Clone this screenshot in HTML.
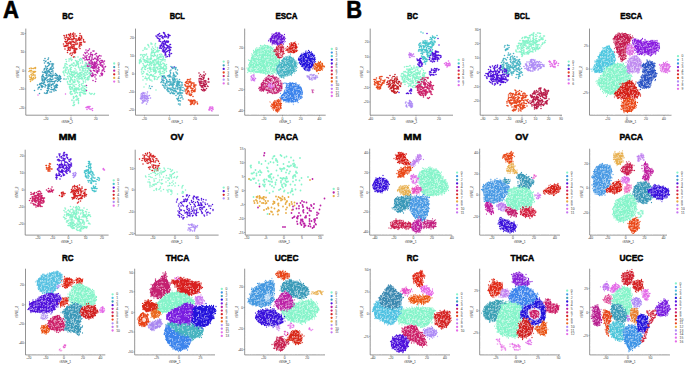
<!DOCTYPE html>
<html><head><meta charset="utf-8"><style>
html,body{margin:0;padding:0;background:#fff;width:685px;height:365px;overflow:hidden}
svg{position:absolute;left:0;top:0;font-family:"Liberation Sans",sans-serif}
.k{font-size:3.4px;fill:#666;stroke:#666;stroke-width:.05px}.m{text-anchor:middle}.e{text-anchor:end}
</style></head><body>
<svg width="685" height="365" viewBox="0 0 685 365">
<defs><pattern id="sp" width="28" height="28" patternUnits="userSpaceOnUse"><path transform="scale(.5)" d="M25 31h0M52 26h0M28 33h0M10 29h0M35 44h0M5 17h0M5 45h0M39 2h0M55 54h0M37 34h0M9 1h0M30 3h0M11 14h0M2 26h0M25 47h0M29 36h0M28 37h0M26 16h0M56 56h0M47 40h0M18 13h0M16 4h0M43 22h0M47 22h0M54 47h0M0 12h0M51 26h0M55 22h0M4 35h0M44 15h0M5 19h0M54 42h0M7 14h0M6 3h0M45 10h0M31 25h0M11 41h0M7 36h0M7 24h0M12 15h0M54 45h0M17 50h0M12 22h0M48 36h0M6 55h0M12 14h0M43 18h0M17 4h0M5 33h0M14 34h0M21 25h0M54 27h0M32 49h0M10 9h0M51 46h0M14 11h0M41 53h0M11 53h0M49 34h0M24 6h0M2 54h0M13 39h0M14 46h0M33 16h0M10 40h0M4 13h0M31 48h0M34 16h0M51 11h0M1 15h0M25 3h0M10 21h0M32 7h0M20 50h0M55 37h0M39 33h0M8 2h0M1 51h0M39 54h0M1 36h0M27 41h0M18 56h0M4 31h0M41 50h0M41 39h0M44 51h0M20 38h0M50 49h0M23 44h0M48 32h0M35 21h0M33 34h0M4 36h0M56 49h0M41 22h0M41 33h0M25 47h0M5 42h0M2 34h0M27 13h0M39 28h0M34 52h0M14 1h0M17 38h0M11 9h0M51 37h0M25 50h0M18 37h0M11 24h0M45 51h0M49 22h0M33 18h0M8 28h0M47 48h0M40 53h0M16 9h0M25 15h0M12 23h0M35 28h0M18 47h0M55 25h0M4 2h0M49 2h0M40 32h0M17 44h0M1 8h0M25 1h0M46 13h0M8 3h0M35 25h0M35 37h0M45 54h0M38 11h0M27 10h0M1 26h0M40 10h0M15 19h0M39 29h0M34 42h0M22 44h0M51 5h0M52 40h0M7 25h0M35 51h0M21 32h0M49 45h0M53 26h0M36 11h0M40 46h0M36 40h0M12 50h0M55 55h0M30 44h0M18 51h0M48 20h0M5 25h0M31 43h0M27 2h0M45 4h0M45 10h0M19 44h0M8 8h0M29 41h0M47 39h0M53 28h0M53 5h0M12 29h0M16 41h0M36 29h0M47 31h0M17 21h0M47 50h0M12 48h0M54 29h0M32 11h0M30 28h0M34 2h0M54 29h0M22 45h0M32 27h0M39 4h0M30 23h0M54 52h0M15 26h0M7 24h0M46 50h0M27 18h0M11 35h0M52 7h0M44 1h0M11 13h0M38 18h0M20 35h0M6 41h0M7 29h0M14 11h0M30 24h0M21 23h0M30 9h0M11 35h0M36 30h0M48 34h0M48 13h0M41 45h0M51 18h0M18 52h0M12 56h0M50 8h0M13 41h0M15 5h0M47 24h0M44 7h0M23 38h0M1 11h0M38 51h0M54 6h0M28 42h0M28 38h0M11 4h0M6 2h0M31 29h0M32 8h0M10 11h0M47 55h0M52 5h0M3 53h0M26 43h0M18 26h0M29 24h0M34 1h0M39 47h0M10 25h0M41 23h0M11 9h0M29 1h0M50 45h0M39 48h0M35 23h0M34 28h0M55 45h0M14 51h0M42 44h0M46 23h0M50 49h0M39 43h0M43 23h0M40 4h0M19 26h0M1 20h0M36 35h0M13 53h0M37 19h0M37 32h0M30 22h0M56 36h0M39 43h0M55 1h0M34 41h0M14 22h0M3 11h0M21 6h0M14 51h0M31 28h0M54 32h0M56 36h0M45 4h0M33 43h0M3 52h0M9 26h0M9 28h0M34 3h0M53 24h0M29 33h0M20 16h0M37 31h0M16 40h0M17 1h0M14 2h0M9 42h0M22 50h0M42 3h0M55 53h0M4 51h0M24 27h0M54 14h0M29 52h0M40 26h0M55 46h0M34 6h0M35 26h0M11 3h0M30 7h0M25 37h0M26 15h0M33 23h0M44 30h0M56 53h0M41 13h0M6 50h0M44 35h0" stroke="#fff" stroke-opacity="0.6" stroke-width="2.3" stroke-linecap="round"/></pattern><pattern id="sq" width="28" height="28" patternUnits="userSpaceOnUse"><path transform="scale(.5)" d="M20 15h0M38 32h0M33 35h0M42 11h0M14 55h0M51 49h0M2 3h0M15 24h0M35 6h0M30 4h0M5 38h0M31 35h0M21 27h0M12 19h0M42 47h0M4 7h0M45 35h0M43 12h0M24 14h0M45 21h0M37 55h0M18 31h0M42 52h0M24 21h0M5 49h0M4 5h0M32 27h0M38 17h0M43 4h0M12 37h0M5 17h0M41 39h0M16 8h0M20 41h0M21 7h0M40 32h0M51 53h0M51 25h0M45 17h0M18 22h0M52 50h0M14 20h0M20 20h0M22 22h0M11 32h0M45 30h0M47 32h0M10 43h0M49 16h0M1 29h0M30 32h0M54 36h0M45 4h0M31 44h0M5 5h0M41 50h0M5 36h0M8 42h0M36 14h0M12 43h0M29 43h0M22 19h0M54 38h0M28 30h0M40 40h0M51 23h0M46 37h0M48 45h0M47 50h0M54 36h0M29 40h0M45 24h0M24 8h0M42 55h0M21 9h0M11 24h0M16 54h0M3 17h0M6 36h0M43 10h0M3 26h0M33 51h0M2 6h0M10 12h0M13 40h0M33 13h0M10 16h0M10 42h0M17 31h0M46 27h0M15 50h0M51 19h0M31 54h0M27 12h0M3 53h0M45 22h0M30 29h0M15 55h0M37 13h0M1 26h0M21 45h0M40 34h0M9 9h0M18 15h0M49 29h0M36 56h0M15 30h0M8 43h0M0 46h0M47 46h0M5 15h0M40 5h0M27 26h0M54 33h0M48 17h0M44 23h0M51 5h0M46 12h0M30 29h0M9 47h0M17 17h0M4 17h0M26 40h0M20 38h0M6 22h0M26 54h0M46 37h0M1 21h0M40 13h0M32 26h0M1 56h0M45 12h0M34 16h0M21 30h0M17 19h0M22 37h0M14 11h0M41 18h0M53 32h0M41 19h0M46 5h0M8 5h0M38 40h0M10 23h0M47 33h0M5 13h0M9 7h0M23 4h0M52 24h0M29 36h0M43 46h0M22 19h0M23 1h0M22 39h0M55 44h0M37 34h0M1 19h0M19 36h0M6 21h0M29 44h0M46 34h0M9 43h0M51 31h0M20 28h0M8 40h0M55 29h0M40 47h0M11 53h0M35 11h0M5 14h0" stroke="#fff" stroke-opacity="0.6" stroke-width="2.2" stroke-linecap="round"/></pattern></defs>
<text x="2.9" y="17.9" font-size="23.50" font-weight="bold" fill="#000" text-anchor="start" textLength="15.9" lengthAdjust="spacingAndGlyphs" stroke="#000" stroke-width="0.6">A</text>
<text x="346.3" y="17.9" font-size="23.50" font-weight="bold" fill="#000" text-anchor="start" textLength="15.8" lengthAdjust="spacingAndGlyphs" stroke="#000" stroke-width="0.6">B</text>
<text x="67.7" y="18.8" font-size="9.50" font-weight="bold" fill="#000" text-anchor="middle" textLength="11.0" lengthAdjust="spacingAndGlyphs" stroke="#000" stroke-width="0.5">BC</text>
<text x="177.3" y="19.2" font-size="9.50" font-weight="bold" fill="#000" text-anchor="middle" textLength="15.2" lengthAdjust="spacingAndGlyphs" stroke="#000" stroke-width="0.5">BCL</text>
<text x="286.5" y="19.2" font-size="9.50" font-weight="bold" fill="#000" text-anchor="middle" textLength="22.0" lengthAdjust="spacingAndGlyphs" stroke="#000" stroke-width="0.5">ESCA</text>
<text x="67.6" y="139.9" font-size="9.50" font-weight="bold" fill="#000" text-anchor="middle" textLength="17.7" lengthAdjust="spacingAndGlyphs" stroke="#000" stroke-width="0.5">MM</text>
<text x="177.0" y="139.9" font-size="9.50" font-weight="bold" fill="#000" text-anchor="middle" textLength="13.1" lengthAdjust="spacingAndGlyphs" stroke="#000" stroke-width="0.5">OV</text>
<text x="286.5" y="139.9" font-size="9.50" font-weight="bold" fill="#000" text-anchor="middle" textLength="23.4" lengthAdjust="spacingAndGlyphs" stroke="#000" stroke-width="0.5">PACA</text>
<text x="67.7" y="260.9" font-size="9.50" font-weight="bold" fill="#000" text-anchor="middle" textLength="11.6" lengthAdjust="spacingAndGlyphs" stroke="#000" stroke-width="0.5">RC</text>
<text x="177.5" y="260.9" font-size="9.50" font-weight="bold" fill="#000" text-anchor="middle" textLength="23.7" lengthAdjust="spacingAndGlyphs" stroke="#000" stroke-width="0.5">THCA</text>
<text x="286.6" y="260.9" font-size="9.50" font-weight="bold" fill="#000" text-anchor="middle" textLength="23.7" lengthAdjust="spacingAndGlyphs" stroke="#000" stroke-width="0.5">UCEC</text>
<text x="412.5" y="18.8" font-size="9.50" font-weight="bold" fill="#000" text-anchor="middle" textLength="11.0" lengthAdjust="spacingAndGlyphs" stroke="#000" stroke-width="0.5">BC</text>
<text x="522.1" y="19.2" font-size="9.50" font-weight="bold" fill="#000" text-anchor="middle" textLength="15.2" lengthAdjust="spacingAndGlyphs" stroke="#000" stroke-width="0.5">BCL</text>
<text x="631.3" y="19.2" font-size="9.50" font-weight="bold" fill="#000" text-anchor="middle" textLength="22.0" lengthAdjust="spacingAndGlyphs" stroke="#000" stroke-width="0.5">ESCA</text>
<text x="412.4" y="139.9" font-size="9.50" font-weight="bold" fill="#000" text-anchor="middle" textLength="17.7" lengthAdjust="spacingAndGlyphs" stroke="#000" stroke-width="0.5">MM</text>
<text x="521.8" y="139.9" font-size="9.50" font-weight="bold" fill="#000" text-anchor="middle" textLength="13.1" lengthAdjust="spacingAndGlyphs" stroke="#000" stroke-width="0.5">OV</text>
<text x="631.3" y="139.9" font-size="9.50" font-weight="bold" fill="#000" text-anchor="middle" textLength="23.4" lengthAdjust="spacingAndGlyphs" stroke="#000" stroke-width="0.5">PACA</text>
<text x="412.5" y="260.9" font-size="9.50" font-weight="bold" fill="#000" text-anchor="middle" textLength="11.6" lengthAdjust="spacingAndGlyphs" stroke="#000" stroke-width="0.5">RC</text>
<text x="522.3" y="260.9" font-size="9.50" font-weight="bold" fill="#000" text-anchor="middle" textLength="23.7" lengthAdjust="spacingAndGlyphs" stroke="#000" stroke-width="0.5">THCA</text>
<text x="631.4" y="260.9" font-size="9.50" font-weight="bold" fill="#000" text-anchor="middle" textLength="23.7" lengthAdjust="spacingAndGlyphs" stroke="#000" stroke-width="0.5">UCEC</text>
<path d="M25.8 28.6V115.2H109.0" fill="none" stroke="#707070" stroke-width="0.75"/>
<text class="k m" x="46.0" y="119.5">-20</text>
<text class="k m" x="71.0" y="119.5">0</text>
<text class="k m" x="95.8" y="119.5">20</text>
<text class="k e" x="24.2" y="34.6">20</text>
<text class="k e" x="24.2" y="53.1">10</text>
<text class="k e" x="24.2" y="72.1">0</text>
<text class="k e" x="24.2" y="90.1">-10</text>
<text class="k e" x="24.2" y="109.1">-20</text>
<path d="M46.0 115.2v1.2M71.0 115.2v1.2M95.8 115.2v1.2M25.8 33.5h-1.2M25.8 52.0h-1.2M25.8 71.0h-1.2M25.8 89.0h-1.2M25.8 108.0h-1.2" stroke="#6a6a6a" stroke-width="0.5"/>
<text class="k m" x="67.4" y="122.8">tSNE_1</text>
<text class="k m" transform="translate(18.6 71.9) rotate(-90)">tSNE_2</text>
<circle cx="114.2" cy="63.5" r="1.15" fill="#86F4CA"/>
<text class="k" x="117.8" y="64.5">0</text>
<circle cx="114.2" cy="67.1" r="1.15" fill="#3A9CB8"/>
<text class="k" x="117.8" y="68.2">1</text>
<circle cx="114.2" cy="70.7" r="1.15" fill="#BC22A6"/>
<text class="k" x="117.8" y="71.8">2</text>
<circle cx="114.2" cy="74.3" r="1.15" fill="#D42222"/>
<text class="k" x="117.8" y="75.4">3</text>
<circle cx="114.2" cy="77.9" r="1.15" fill="#E8AC44"/>
<text class="k" x="117.8" y="79.0">4</text>
<circle cx="114.2" cy="81.6" r="1.15" fill="#E46AE8"/>
<text class="k" x="117.8" y="82.7">5</text>
<path transform="scale(.5)" d="M129 93h0M128 92h0M145 68h0M145 108h0M139 72h0M140 108h0M152 99h0M150 68h0M135 101h0M140 96h0M137 95h0M133 91h0M140 101h0M152 89h0M162 80h0M133 71h0M160 71h0M143 111h0M146 94h0M138 87h0M133 74h0M136 90h0M144 84h0M149 97h0M161 85h0M130 98h0M129 76h0M141 67h0M133 70h0M153 72h0M141 84h0M147 90h0M130 83h0M163 73h0M132 93h0M157 78h0M149 106h0M136 92h0M138 78h0M168 84h0M136 75h0M163 90h0M159 90h0M133 71h0M141 94h0M135 78h0M137 96h0M142 89h0M148 93h0M127 88h0M134 90h0M151 82h0M150 106h0M151 78h0M160 92h0M146 97h0M149 101h0M149 90h0M163 72h0M145 68h0M133 87h0M141 75h0M141 98h0M131 79h0M160 79h0M151 102h0M146 83h0M167 79h0M149 77h0M135 81h0M159 80h0M134 83h0M158 94h0M147 114h0M162 88h0M163 85h0M154 86h0M128 71h0M159 78h0M138 77h0M146 73h0M140 84h0M143 90h0M135 91h0M138 69h0M139 77h0M149 104h0M132 92h0M157 77h0M132 84h0M154 98h0M148 93h0M137 69h0M143 90h0M160 97h0M129 72h0M159 81h0M138 100h0M156 80h0M146 89h0M146 79h0M152 72h0M147 66h0M148 89h0M132 83h0M139 84h0M142 87h0M137 79h0M146 105h0M147 83h0M137 99h0M151 86h0M132 75h0M141 69h0M159 86h0M149 85h0M131 91h0M164 76h0M137 86h0M146 94h0M154 81h0M137 98h0M149 96h0M136 96h0M147 77h0M148 100h0M141 87h0M159 91h0M162 77h0M148 75h0M132 85h0M167 82h0M143 84h0M162 88h0M147 84h0M160 67h0M153 78h0M140 79h0M143 78h0M148 114h0M153 82h0M142 106h0M135 105h0M138 69h0M148 102h0M136 87h0M139 95h0M159 75h0M151 82h0M139 71h0M146 78h0M152 97h0M142 72h0M137 96h0M140 101h0M150 68h0M143 94h0M144 80h0M142 87h0M170 84h0M158 75h0M130 98h0M148 72h0M149 114h0M136 86h0M163 74h0M144 92h0M151 105h0M150 98h0M144 96h0M155 88h0M148 77h0M160 89h0M147 70h0M145 69h0" stroke="#D42222" stroke-width="3.20" stroke-linecap="round"/>
<path transform="scale(.5)" d="M200 152h0M178 133h0M167 110h0M190 142h0M207 136h0M184 153h0M182 151h0M197 120h0M186 133h0M182 105h0M193 112h0M177 108h0M184 116h0M196 137h0M196 129h0M184 114h0M191 163h0M189 142h0M173 119h0M202 147h0M205 149h0M200 129h0M170 114h0M181 150h0M205 147h0M191 128h0M190 116h0M195 146h0M186 148h0M180 113h0M172 100h0M209 122h0M198 142h0M193 123h0M170 112h0M195 118h0M175 120h0M166 116h0M199 123h0M185 128h0M182 147h0M188 132h0M174 132h0M182 126h0M189 124h0M176 130h0M182 121h0M173 128h0M193 107h0M174 119h0M172 115h0M190 109h0M203 149h0M170 112h0M203 146h0M195 130h0M194 126h0M208 128h0M201 127h0M197 142h0M180 141h0M195 115h0M187 141h0M202 125h0M210 134h0M192 135h0M189 142h0M190 126h0M184 151h0M168 117h0M185 146h0M210 134h0M203 125h0M204 142h0M182 142h0M204 130h0M178 124h0M185 111h0M200 117h0M179 131h0M195 144h0M196 115h0M198 135h0M178 114h0M189 135h0M187 137h0M205 124h0M195 142h0M189 131h0M195 121h0M182 131h0M202 112h0M185 136h0M184 133h0M203 121h0M179 138h0M179 98h0M194 141h0M198 139h0M187 151h0M209 143h0M177 119h0M180 128h0M188 126h0M196 113h0M188 102h0M192 128h0M182 143h0M185 125h0M192 118h0M205 121h0M194 119h0M207 124h0M178 127h0M194 145h0M203 130h0M204 151h0M190 131h0M174 111h0M199 123h0M184 134h0M194 122h0M188 137h0M177 101h0M174 104h0M192 158h0M177 137h0M184 129h0M176 101h0M179 139h0M170 120h0M173 114h0M199 111h0M205 141h0M188 141h0M178 126h0M181 110h0M197 113h0M179 116h0M181 108h0M205 134h0M186 161h0M192 107h0M202 147h0M189 117h0M193 112h0M200 126h0M206 132h0M183 109h0M190 129h0M180 147h0M189 133h0M174 105h0M193 134h0M189 117h0M192 150h0M184 127h0M190 125h0M202 121h0M177 127h0M182 135h0M186 133h0M196 116h0M195 115h0M179 119h0M211 133h0M187 135h0M171 107h0M184 118h0M205 140h0M187 136h0M187 119h0M176 133h0M176 136h0M186 102h0M186 149h0M181 122h0M190 149h0M201 131h0M193 132h0M192 127h0M207 140h0M187 130h0M179 125h0M183 120h0M206 132h0M174 119h0M192 138h0M192 132h0M190 134h0M184 123h0M197 134h0M183 126h0M188 128h0M190 154h0M204 133h0M185 109h0M189 133h0M185 152h0M193 144h0M189 136h0M192 126h0M170 105h0M180 147h0M173 116h0M208 138h0" stroke="#BC22A6" stroke-width="3.20" stroke-linecap="round"/>
<path transform="scale(.5)" d="M154 151h0M165 137h0M157 207h0M150 184h0M144 200h0M176 136h0M143 168h0M159 151h0M178 147h0M137 140h0M177 128h0M157 135h0M163 149h0M160 139h0M149 178h0M144 151h0M145 178h0M161 148h0M144 119h0M168 147h0M167 182h0M180 147h0M172 183h0M137 142h0M162 184h0M153 181h0M175 141h0M127 136h0M170 151h0M179 140h0M165 157h0M170 155h0M166 167h0M128 148h0M137 143h0M171 179h0M140 164h0M144 201h0M161 145h0M160 188h0M168 172h0M132 141h0M138 118h0M153 123h0M155 148h0M189 187h0M153 131h0M166 175h0M167 137h0M179 186h0M145 149h0M148 195h0M157 128h0M152 140h0M158 154h0M153 179h0M143 156h0M147 132h0M164 142h0M167 142h0M148 170h0M159 169h0M141 161h0M139 169h0M158 171h0M171 188h0M161 190h0M140 149h0M163 133h0M171 155h0M173 146h0M141 131h0M136 168h0M169 150h0M150 160h0M164 120h0M135 148h0M162 151h0M142 139h0M141 169h0M166 148h0M144 188h0M157 176h0M160 153h0M156 149h0M139 147h0M154 157h0M144 129h0M144 143h0M175 155h0M138 152h0M182 146h0M167 153h0M146 162h0M141 158h0M164 185h0M130 128h0M178 154h0M163 168h0M164 145h0M141 183h0M175 143h0M155 178h0M148 211h0M148 127h0M157 176h0M177 158h0M166 152h0M165 134h0M141 155h0M138 169h0M143 145h0M169 172h0M157 135h0M156 126h0M157 123h0M157 204h0M142 130h0M157 153h0M169 177h0M150 144h0M149 153h0M141 173h0M140 132h0M170 145h0M139 175h0M149 183h0M159 173h0M145 175h0M139 173h0M171 164h0M159 164h0M178 136h0M178 158h0M132 127h0M158 157h0M154 160h0M148 164h0M148 146h0M162 118h0M171 140h0M181 132h0M148 183h0M151 177h0M147 151h0M149 179h0M149 165h0M183 188h0M163 158h0M179 154h0M156 163h0M168 186h0M160 189h0M132 134h0M171 160h0M169 154h0M146 164h0M141 143h0M158 154h0M180 138h0M149 159h0M162 149h0M161 117h0M159 153h0M143 183h0M163 158h0M153 200h0M153 176h0M161 192h0M168 180h0M138 122h0M151 178h0M143 135h0M145 168h0M150 115h0M166 134h0M152 180h0M143 147h0M157 205h0M156 199h0M160 121h0M127 145h0M140 186h0M176 142h0M147 150h0M156 127h0M157 166h0M155 128h0M157 149h0M151 132h0M157 201h0M134 138h0M150 164h0M162 135h0M165 181h0M147 193h0M151 121h0M172 180h0M147 126h0M156 162h0M184 187h0M168 187h0M139 132h0M169 183h0M178 153h0M146 172h0M156 114h0M177 154h0M154 146h0M147 197h0M143 121h0M170 156h0M178 130h0M150 162h0M135 165h0M154 193h0M165 156h0M148 178h0M149 164h0M148 210h0M161 157h0M163 170h0M150 187h0M142 188h0M171 181h0M173 129h0M128 142h0M137 144h0M131 138h0M149 209h0M154 196h0M175 144h0M174 159h0M168 187h0M143 175h0M147 206h0M151 193h0M166 181h0M146 151h0M159 164h0M157 197h0M162 152h0M168 188h0M170 173h0M178 139h0M148 182h0M179 145h0M165 126h0M146 145h0M172 171h0M158 171h0M146 211h0M155 125h0M169 183h0M146 131h0M158 156h0M170 132h0M165 138h0M154 122h0M176 160h0M157 133h0M172 150h0M163 150h0M159 119h0M156 176h0M163 176h0M150 179h0M140 177h0M163 118h0M166 186h0M135 163h0M165 172h0M160 141h0M177 158h0M167 133h0M160 147h0M148 142h0M188 189h0M170 172h0M154 153h0M152 200h0M170 137h0M147 145h0M189 187h0M140 153h0M145 175h0M135 165h0M136 156h0M169 187h0M140 138h0M169 133h0M163 178h0M170 142h0M148 126h0M142 189h0M131 142h0M169 157h0M147 195h0M163 178h0M149 177h0M139 118h0M141 149h0M143 150h0M139 131h0M149 149h0M155 199h0M132 158h0M135 135h0M132 119h0M159 136h0M181 133h0M154 185h0M154 144h0M168 148h0M167 164h0M155 186h0M139 162h0M148 202h0M129 134h0M153 126h0M155 163h0M145 153h0M141 158h0M171 126h0M128 135h0M163 157h0M167 163h0M140 178h0M141 136h0M158 180h0M173 175h0M169 183h0M176 135h0M148 178h0M132 134h0M142 116h0M151 154h0M162 148h0M153 130h0M166 176h0M174 142h0M163 132h0M159 185h0M134 146h0M145 154h0M141 118h0M172 146h0M161 117h0M170 151h0M161 126h0M140 138h0M159 185h0M172 134h0M166 181h0M144 178h0M144 144h0M158 148h0M159 190h0M129 151h0M141 179h0M145 160h0M175 149h0M166 140h0M132 159h0M175 156h0M133 123h0M152 146h0M143 159h0M172 125h0M178 146h0M146 131h0M142 149h0M147 150h0M151 176h0M141 178h0M159 146h0M154 146h0M138 146h0M131 145h0M176 135h0M137 158h0M156 154h0M168 133h0M152 184h0M137 142h0M172 131h0M157 179h0M161 192h0M148 205h0M177 154h0M141 140h0M158 159h0M171 187h0M141 164h0M171 187h0M133 158h0M174 137h0M135 153h0M144 128h0M130 131h0M157 130h0M134 129h0M151 147h0M147 181h0M150 155h0M160 178h0M163 180h0M150 130h0M126 144h0M157 148h0M147 165h0M166 160h0M149 173h0M141 149h0M134 135h0M141 185h0M180 151h0M181 188h0M165 123h0M150 137h0M170 130h0M153 191h0M161 126h0M149 181h0M177 153h0M161 185h0M145 150h0M145 188h0M163 155h0M131 140h0M152 169h0M174 158h0" stroke="#86F4CA" stroke-width="3.20" stroke-linecap="round"/>
<path transform="scale(.5)" d="M94 185h0M75 170h0M84 175h0M98 149h0M77 175h0M98 173h0M117 161h0M112 170h0M112 156h0M98 151h0M91 156h0M103 138h0M86 161h0M103 179h0M91 159h0M95 182h0M89 186h0M75 170h0M108 163h0M115 155h0M100 157h0M94 155h0M83 171h0M93 139h0M97 152h0M107 128h0M95 137h0M95 126h0M114 152h0M100 151h0M111 151h0M104 129h0M99 139h0M101 158h0M86 152h0M95 164h0M113 173h0M92 136h0M113 175h0M97 141h0M91 171h0M111 162h0M115 151h0M85 151h0M96 144h0M93 142h0M92 171h0M112 161h0M107 136h0M105 138h0M89 162h0M101 123h0M88 145h0M106 142h0M85 172h0M103 143h0M98 130h0M92 146h0M86 167h0M101 151h0M89 160h0M102 139h0M95 186h0M111 147h0M83 173h0M111 151h0M109 166h0M88 155h0M99 160h0M88 165h0M108 172h0M121 157h0M121 163h0M121 153h0M102 179h0M96 174h0M107 179h0M113 149h0M84 166h0M101 152h0M115 163h0M98 152h0M81 168h0M86 162h0M92 157h0M121 155h0M111 175h0M94 152h0M82 179h0M105 128h0M102 147h0M105 154h0M105 163h0M103 169h0M98 142h0M101 147h0M98 127h0M110 156h0M105 132h0M109 177h0M114 169h0M109 163h0M89 159h0M86 173h0M103 175h0M100 145h0M92 147h0M109 176h0M97 180h0M96 171h0M106 167h0M87 168h0M95 133h0M106 179h0M106 168h0M100 128h0M86 158h0M85 162h0M119 151h0M100 168h0M94 181h0M84 175h0M120 156h0M84 160h0M98 168h0M98 163h0M95 142h0M115 163h0M104 153h0M98 177h0M85 173h0M85 144h0M96 142h0M114 158h0M76 178h0M114 175h0M103 175h0M103 134h0M80 167h0M118 161h0M92 122h0M98 171h0M112 181h0M96 173h0M79 187h0M94 186h0M106 132h0M99 144h0M100 138h0M95 177h0M106 158h0M92 134h0M92 151h0M119 159h0M105 142h0M117 160h0M103 184h0M108 150h0M110 174h0M102 159h0M84 153h0M90 174h0M100 184h0M103 184h0M89 126h0M87 167h0M88 165h0M122 157h0M84 155h0M83 166h0M88 121h0M111 180h0M97 116h0M118 154h0M104 179h0M100 172h0M99 143h0M101 136h0M92 145h0M101 158h0M90 145h0M128 158h0M95 133h0M104 130h0M83 173h0M102 154h0M103 163h0M97 131h0M79 175h0M120 159h0M93 156h0M102 162h0M83 167h0M117 157h0M103 143h0M103 171h0M111 171h0M96 169h0M106 169h0M88 140h0M90 169h0M79 169h0M89 138h0M96 181h0M69 181h0M91 123h0M84 157h0M87 153h0M104 150h0M100 164h0M79 174h0M108 179h0M82 171h0M93 186h0M116 159h0M88 165h0M113 169h0M96 159h0M113 151h0M97 163h0M89 137h0M115 171h0M104 159h0M114 170h0M118 153h0M106 151h0M95 146h0M91 143h0M92 187h0M93 148h0M91 132h0M86 149h0M113 174h0M97 125h0M106 146h0M90 157h0M96 175h0M89 159h0M94 161h0M90 117h0M104 127h0M108 182h0M84 158h0M89 144h0M94 150h0M95 183h0M113 149h0M89 165h0M96 119h0" stroke="#3A9CB8" stroke-width="3.20" stroke-linecap="round"/>
<path transform="scale(.5)" d="M76 190h0M131 188h0" stroke="#E46AE8" stroke-width="3.00" stroke-linecap="round"/>
<path transform="scale(.5)" d="M173 171h0M173 181h0" stroke="#BC22A6" stroke-width="3.00" stroke-linecap="round"/>
<path transform="scale(.5)" d="M61 159h0M63 141h0M62 144h0M67 137h0M61 141h0M70 152h0M62 160h0M67 144h0M62 136h0M67 155h0M59 152h0M67 149h0M71 137h0M62 149h0M58 143h0M67 158h0M60 155h0M63 137h0M64 137h0M66 151h0M69 136h0M66 158h0M60 141h0M71 143h0M68 145h0M60 159h0M70 144h0M63 155h0M70 157h0M69 143h0M61 163h0M70 150h0M66 146h0M67 158h0M71 135h0M62 158h0M66 157h0M64 148h0M68 143h0M65 158h0M71 155h0M66 158h0M65 160h0M63 156h0M59 137h0M66 143h0M70 151h0M63 152h0" stroke="#E8AC44" stroke-width="3.20" stroke-linecap="round"/>
<path transform="scale(.5)" d="M172 215h0M174 214h0M178 215h0M179 218h0M182 219h0M177 216h0M180 213h0M178 213h0M176 215h0M175 215h0M185 221h0M174 215h0M174 219h0M176 213h0M185 217h0M182 218h0" stroke="#E46AE8" stroke-width="3.20" stroke-linecap="round"/>
<path d="M135.5 28.6V115.2H219.0" fill="none" stroke="#707070" stroke-width="0.75"/>
<text class="k m" x="144.5" y="119.5">-20</text>
<text class="k m" x="169.5" y="119.5">0</text>
<text class="k m" x="195.0" y="119.5">20</text>
<text class="k e" x="133.9" y="38.9">20</text>
<text class="k e" x="133.9" y="57.1">10</text>
<text class="k e" x="133.9" y="75.1">0</text>
<text class="k e" x="133.9" y="93.1">-10</text>
<text class="k e" x="133.9" y="111.1">-20</text>
<path d="M144.5 115.2v1.2M169.5 115.2v1.2M195.0 115.2v1.2M135.5 37.8h-1.2M135.5 56.0h-1.2M135.5 74.0h-1.2M135.5 92.0h-1.2M135.5 110.0h-1.2" stroke="#6a6a6a" stroke-width="0.5"/>
<text class="k m" x="177.2" y="122.8">tSNE_1</text>
<text class="k m" transform="translate(128.3 71.9) rotate(-90)">tSNE_2</text>
<circle cx="223.7" cy="61.6" r="1.15" fill="#86F4CA"/>
<text class="k" x="227.3" y="62.7">0</text>
<circle cx="223.7" cy="65.3" r="1.15" fill="#3A9CB8"/>
<text class="k" x="227.3" y="66.4">1</text>
<circle cx="223.7" cy="68.9" r="1.15" fill="#5012DC"/>
<text class="k" x="227.3" y="70.0">2</text>
<circle cx="223.7" cy="72.5" r="1.15" fill="#E8461C"/>
<text class="k" x="227.3" y="73.6">3</text>
<circle cx="223.7" cy="76.1" r="1.15" fill="#CC2068"/>
<text class="k" x="227.3" y="77.2">4</text>
<circle cx="223.7" cy="79.7" r="1.15" fill="#AE8CF6"/>
<text class="k" x="227.3" y="80.8">5</text>
<circle cx="223.7" cy="83.4" r="1.15" fill="#E46AE8"/>
<text class="k" x="227.3" y="84.5">6</text>
<path transform="scale(.5)" d="M325 94h0M326 74h0M331 87h0M339 111h0M331 84h0M326 77h0M315 76h0M322 90h0M325 102h0M337 74h0M332 89h0M333 84h0M331 105h0M327 101h0M325 74h0M329 82h0M332 104h0M326 99h0M327 104h0M341 100h0M323 97h0M328 67h0M331 108h0M336 85h0M335 102h0M333 98h0M329 66h0M340 108h0M338 92h0M339 71h0M319 82h0M328 102h0M336 82h0M335 95h0M330 69h0M322 71h0M334 103h0M338 97h0M330 86h0M332 114h0M320 92h0M321 93h0M340 95h0M330 106h0M337 71h0M327 65h0M324 75h0M320 78h0M325 84h0M335 91h0M340 71h0M330 71h0M331 100h0M331 85h0M339 113h0M336 74h0M338 109h0M330 100h0M318 72h0M332 98h0M339 105h0M329 74h0M317 69h0M340 99h0M319 96h0M320 96h0M324 87h0M329 103h0M336 76h0M326 77h0M327 87h0M343 107h0M333 91h0M326 84h0M327 93h0M314 74h0M323 91h0M324 72h0M321 83h0M335 91h0M312 72h0M324 86h0M332 96h0M329 95h0M335 84h0M319 79h0M320 73h0M330 110h0M327 89h0M335 92h0M317 77h0M328 96h0M329 81h0M324 88h0M335 113h0M340 89h0M326 92h0M319 67h0M328 93h0M330 88h0M338 101h0M331 71h0M332 110h0M340 94h0M331 106h0M315 70h0M337 94h0M342 95h0M330 110h0M332 74h0M322 90h0M322 96h0M327 98h0M320 92h0M328 83h0M333 82h0M333 73h0M337 101h0M315 76h0M341 89h0M327 65h0M328 90h0M336 69h0M334 96h0M338 97h0M329 73h0M337 69h0M337 83h0M339 102h0M318 82h0" stroke="#5012DC" stroke-width="3.20" stroke-linecap="round"/>
<path transform="scale(.5)" d="M309 157h0M283 139h0M330 122h0M316 139h0M294 117h0M294 160h0M322 108h0M306 136h0M289 138h0M296 150h0M307 139h0M300 127h0M294 147h0M313 142h0M326 126h0M302 112h0M328 137h0M309 153h0M299 137h0M307 104h0M294 124h0M333 143h0M294 157h0M327 151h0M333 134h0M303 131h0M328 154h0M315 135h0M289 133h0M310 142h0M314 136h0M282 109h0M300 151h0M314 118h0M308 121h0M286 153h0M315 95h0M302 143h0M302 115h0M294 158h0M286 127h0M295 118h0M309 106h0M302 139h0M304 127h0M316 117h0M298 155h0M292 98h0M317 129h0M325 137h0M313 135h0M300 134h0M323 151h0M300 124h0M328 132h0M303 117h0M310 105h0M295 129h0M315 127h0M283 122h0M292 133h0M283 139h0M301 127h0M311 111h0M326 113h0M310 99h0M316 125h0M326 121h0M291 139h0M318 132h0M325 143h0M324 119h0M324 135h0M279 120h0M302 130h0M309 120h0M309 111h0M321 147h0M297 124h0M301 117h0M306 139h0M316 122h0M309 159h0M307 97h0M330 119h0M296 142h0M330 131h0M282 116h0M305 152h0M321 144h0M314 113h0M309 136h0M299 158h0M287 143h0M285 112h0M305 111h0M329 128h0M288 109h0M289 132h0M322 129h0M301 140h0M309 140h0M306 121h0M282 124h0M312 104h0M291 154h0M329 141h0M332 133h0M308 122h0M311 141h0M301 123h0M327 138h0M307 129h0M290 120h0M293 148h0M293 157h0M284 148h0M333 137h0M319 109h0M323 129h0M298 94h0M321 128h0M292 121h0M281 119h0M321 146h0M300 160h0M302 108h0M329 138h0M307 150h0M312 145h0M306 105h0M301 119h0M312 153h0M294 98h0M327 156h0M296 89h0M293 121h0M297 91h0M327 135h0M317 102h0M318 132h0M329 145h0M312 122h0M309 106h0M290 124h0M311 120h0M318 153h0M323 137h0M293 108h0M320 113h0M314 159h0M328 147h0M286 147h0M298 120h0M288 113h0M290 110h0M316 127h0M287 130h0M310 90h0M324 110h0M284 140h0M319 137h0M308 135h0M315 124h0M302 110h0M323 114h0M321 128h0M311 130h0M316 104h0M283 144h0M314 126h0M302 136h0M290 95h0M310 158h0M302 86h0M295 125h0M317 115h0M319 131h0M303 125h0M307 143h0M320 114h0M290 132h0M289 98h0M304 151h0M323 134h0M308 131h0M317 118h0M305 94h0M299 152h0M304 103h0M296 149h0M315 110h0M308 128h0M323 122h0M286 118h0M313 102h0M315 156h0M319 129h0M298 125h0M306 123h0M279 122h0M301 123h0M321 124h0M297 156h0M281 122h0M311 94h0M312 124h0M309 108h0M303 149h0M333 129h0M313 142h0M321 119h0M310 105h0M328 132h0M325 118h0M303 112h0M319 101h0M317 144h0M303 105h0M308 125h0M318 115h0M279 127h0M291 125h0M316 124h0M317 155h0M321 114h0M309 128h0M298 131h0M300 137h0M299 125h0M295 114h0M307 141h0M312 120h0M292 110h0M288 122h0M311 138h0M321 132h0M316 122h0M325 119h0M307 113h0M318 133h0M294 157h0M295 129h0M286 101h0M304 106h0M329 153h0M320 146h0M303 118h0M327 115h0M308 112h0M299 145h0M317 122h0M326 143h0M310 147h0M305 122h0M300 136h0M323 114h0M303 131h0M309 156h0M320 140h0M328 140h0M307 124h0M288 144h0M312 128h0M295 137h0M323 122h0M308 134h0M320 149h0M302 112h0M302 150h0M310 134h0M322 152h0M307 101h0M327 134h0M315 98h0M299 129h0M309 109h0M321 112h0M321 113h0M326 127h0M317 127h0M314 116h0M329 130h0M314 116h0M295 113h0M298 136h0M331 138h0M302 88h0M321 134h0M307 135h0M301 149h0M298 118h0M289 121h0M311 144h0M317 101h0M328 146h0M304 100h0M295 122h0M318 124h0M320 142h0M293 131h0M332 140h0M284 137h0M309 130h0M293 123h0M325 119h0M327 127h0M281 110h0M315 101h0M309 119h0M279 125h0M287 115h0M306 153h0M327 118h0M327 113h0M318 118h0M302 160h0M294 149h0M300 138h0M318 143h0M303 98h0M316 138h0M324 147h0M332 136h0M288 134h0M306 123h0M321 126h0M291 135h0M315 111h0M304 126h0M331 131h0M285 135h0M321 137h0M300 139h0M288 119h0M290 157h0M314 134h0M314 127h0M314 103h0M306 124h0M326 119h0M304 88h0M326 143h0M296 90h0M308 143h0M311 87h0M302 127h0M285 110h0M320 145h0" stroke="#86F4CA" stroke-width="3.20" stroke-linecap="round"/>
<path transform="scale(.5)" d="M286 160h0M292 168h0M298 176h0M288 174h0M304 162h0M312 180h0" stroke="#86F4CA" stroke-width="3.00" stroke-linecap="round"/>
<path transform="scale(.5)" d="M344 135h0M349 134h0M325 153h0M326 160h0" stroke="#5012DC" stroke-width="3.00" stroke-linecap="round"/>
<path transform="scale(.5)" d="M299 172h0M301 177h0M304 173h0" stroke="#44AEC2" stroke-width="3.00" stroke-linecap="round"/>
<path transform="scale(.5)" d="M328 161h0M354 169h0M350 158h0M356 166h0M358 188h0M357 208h0M354 197h0M364 195h0M343 179h0M330 174h0M328 156h0M348 182h0M360 176h0M324 159h0M333 159h0M364 186h0M340 163h0M356 168h0M340 151h0M341 180h0M364 192h0M340 166h0M334 161h0M331 167h0M345 137h0M348 151h0M348 162h0M347 176h0M339 159h0M365 170h0M344 168h0M333 163h0M353 183h0M331 155h0M351 153h0M359 171h0M341 164h0M346 160h0M336 170h0M354 147h0M348 160h0M361 178h0M352 184h0M358 175h0M365 186h0M361 180h0M340 153h0M340 142h0M362 170h0M348 150h0M324 156h0M361 196h0M351 181h0M361 175h0M344 170h0M345 187h0M357 202h0M356 163h0M342 170h0M349 152h0M357 187h0M361 185h0M345 156h0M355 186h0M345 169h0M341 145h0M344 164h0M333 165h0M333 165h0M341 168h0M335 176h0M336 183h0M361 177h0M348 188h0M327 162h0M346 171h0M363 165h0M344 179h0M348 177h0M334 180h0M346 152h0M356 162h0M352 152h0M350 163h0M358 187h0M329 152h0M332 171h0M338 176h0M347 162h0M358 167h0M355 162h0M338 154h0M358 167h0M355 199h0M342 140h0M335 152h0M346 176h0M364 166h0M348 156h0M355 177h0M349 150h0M349 157h0M347 136h0M349 182h0M347 167h0M362 178h0M349 187h0M337 164h0M354 178h0M355 188h0M336 177h0M361 202h0M341 168h0M360 178h0M361 187h0M348 158h0M351 176h0M338 176h0M331 169h0M346 180h0M369 178h0M352 191h0M354 163h0M337 151h0M347 146h0M334 162h0M347 165h0M361 174h0M340 178h0M358 169h0M338 151h0M322 165h0M349 165h0M334 166h0M357 187h0M337 183h0M366 175h0M353 171h0M361 177h0M328 166h0M341 153h0M355 148h0M354 165h0M350 136h0M355 168h0M358 164h0M358 165h0M355 140h0M339 171h0M366 175h0M340 150h0M363 186h0M360 208h0M345 158h0M328 153h0M354 168h0M326 152h0M344 180h0M353 168h0M346 160h0M357 194h0M360 210h0M359 191h0M337 163h0M360 184h0M360 181h0M355 170h0M348 155h0M354 173h0M357 163h0M341 164h0M358 185h0M351 160h0M364 170h0M330 170h0M360 180h0M339 150h0M354 158h0M356 169h0M343 184h0M359 165h0M347 186h0M344 167h0M325 170h0M328 174h0M346 172h0M348 188h0M340 160h0M359 201h0M348 169h0M363 174h0M339 170h0M331 157h0M339 177h0M352 135h0M355 176h0M346 134h0M360 163h0M338 183h0M334 179h0M334 174h0M330 177h0M342 154h0M342 176h0M336 180h0M356 172h0M342 133h0M340 186h0M349 181h0M359 191h0M326 165h0M368 182h0M350 178h0M323 163h0M350 164h0M356 167h0M366 198h0M360 179h0M354 166h0M362 190h0M341 187h0M352 144h0M345 174h0M336 170h0M352 172h0M358 166h0M354 146h0M341 147h0M346 161h0M325 161h0M362 180h0M351 139h0M328 155h0M354 197h0M349 159h0M327 171h0M344 185h0M347 182h0M357 197h0M359 159h0M333 165h0M351 182h0M365 181h0M352 136h0M356 200h0M364 165h0M356 178h0M358 168h0M334 164h0M347 148h0" stroke="#44AEC2" stroke-width="3.20" stroke-linecap="round"/>
<path transform="scale(.5)" d="M370 169h0M372 179h0M377 183h0M387 172h0M390 183h0M371 182h0M375 159h0M384 180h0M382 164h0M377 168h0M388 169h0M383 182h0M374 188h0M373 187h0M378 188h0M391 170h0M375 185h0M373 163h0M387 183h0M388 166h0M383 167h0M374 174h0M375 183h0M389 180h0M373 166h0M372 172h0M383 189h0M374 180h0M371 165h0M389 171h0M386 177h0M375 177h0M381 176h0M373 178h0M383 170h0M376 176h0M389 181h0M381 191h0M372 164h0M382 188h0M379 173h0M381 173h0M379 165h0M377 181h0M386 181h0M383 181h0M379 184h0M376 166h0M383 176h0M374 167h0M382 168h0M386 166h0M381 172h0M378 163h0M386 181h0M384 177h0M391 178h0M379 188h0M383 167h0M376 172h0M379 190h0M389 174h0M384 185h0M392 170h0M390 174h0M373 163h0M379 172h0M370 170h0M381 158h0M383 190h0M372 186h0M380 162h0M377 173h0M388 174h0M380 163h0M371 172h0M378 159h0M388 183h0M382 165h0M386 193h0M375 162h0M375 173h0M385 166h0M379 163h0M390 181h0" stroke="#E8461C" stroke-width="3.20" stroke-linecap="round"/>
<path transform="scale(.5)" d="M384 204h0M378 200h0M381 203h0M388 201h0M390 205h0M391 204h0M384 202h0M386 204h0M390 201h0M382 201h0M384 205h0M384 201h0M388 209h0M385 207h0M385 205h0M384 207h0M382 209h0M377 200h0M388 208h0M385 202h0M381 209h0M390 206h0M382 200h0M388 200h0M380 202h0M386 201h0M383 202h0M395 207h0M381 204h0M389 202h0M394 204h0M382 207h0M395 208h0" stroke="#E8461C" stroke-width="3.20" stroke-linecap="round"/>
<path transform="scale(.5)" d="M398 146h0M403 179h0M416 164h0M407 178h0M399 152h0M402 171h0M407 150h0M408 166h0M398 158h0M409 151h0M412 169h0M402 165h0M398 162h0M408 167h0M411 180h0M401 149h0M407 171h0M407 168h0M406 155h0M403 174h0M412 162h0M410 161h0M408 156h0M404 163h0M408 144h0M408 163h0M399 157h0M400 169h0M409 173h0M408 170h0M408 182h0M417 159h0M408 144h0M409 179h0M408 154h0M413 168h0M407 167h0M405 181h0M400 170h0M410 169h0M401 157h0M402 164h0M402 165h0M404 152h0M406 159h0M403 158h0M417 157h0M416 173h0M402 172h0M406 175h0M399 165h0M407 179h0M403 153h0M409 181h0M408 162h0M402 160h0M402 157h0M418 164h0M399 165h0M400 163h0M405 174h0M409 169h0M403 158h0M406 166h0M411 164h0M408 155h0M407 157h0M411 173h0M403 167h0M405 171h0M412 166h0M410 172h0M400 167h0M417 158h0M411 148h0M400 164h0M405 172h0M415 172h0M413 177h0M408 155h0" stroke="#B81A48" stroke-width="3.20" stroke-linecap="round"/>
<path transform="scale(.5)" d="M282 197h0M285 197h0M287 200h0M295 184h0M281 197h0M290 192h0M285 188h0M295 204h0M286 191h0M294 192h0M293 198h0M288 195h0M290 186h0M283 198h0M282 190h0M290 198h0M294 199h0M294 196h0M290 201h0M292 202h0M293 193h0M294 194h0M289 190h0M294 197h0M295 193h0M288 196h0M294 192h0M290 201h0M282 198h0M287 192h0M296 192h0M285 206h0M293 192h0M286 185h0M287 204h0M291 196h0M284 206h0M283 187h0M289 193h0M299 191h0M289 201h0M285 191h0M286 203h0M289 202h0M294 188h0M287 187h0M283 193h0M283 197h0M296 196h0M288 195h0M290 194h0M299 191h0M285 196h0M291 191h0M296 196h0M293 208h0M297 197h0M285 197h0M288 186h0M301 196h0M282 194h0M285 201h0M285 195h0M285 193h0M289 196h0M296 201h0" stroke="#AE8CF6" stroke-width="3.20" stroke-linecap="round"/>
<path transform="scale(.5)" d="M418 219h0M423 221h0M419 220h0M425 214h0M418 220h0M425 217h0M426 216h0M426 219h0M419 216h0M420 217h0M423 217h0M422 214h0M420 215h0M420 219h0M424 222h0M420 218h0M420 214h0" stroke="#E46AE8" stroke-width="3.20" stroke-linecap="round"/>
<path d="M244.7 28.6V115.2H325.7" fill="none" stroke="#707070" stroke-width="0.75"/>
<text class="k m" x="264.0" y="119.5">-20</text>
<text class="k m" x="282.5" y="119.5">0</text>
<text class="k m" x="300.7" y="119.5">20</text>
<text class="k m" x="319.4" y="119.5">40</text>
<text class="k e" x="243.1" y="49.1">20</text>
<text class="k e" x="243.1" y="70.1">0</text>
<text class="k e" x="243.1" y="90.7">-20</text>
<text class="k e" x="243.1" y="111.7">-40</text>
<path d="M264.0 115.2v1.2M282.5 115.2v1.2M300.7 115.2v1.2M319.4 115.2v1.2M244.7 48.0h-1.2M244.7 69.0h-1.2M244.7 89.6h-1.2M244.7 110.6h-1.2" stroke="#6a6a6a" stroke-width="0.5"/>
<text class="k m" x="285.2" y="122.8">tSNE_1</text>
<text class="k m" transform="translate(237.5 71.9) rotate(-90)">tSNE_2</text>
<circle cx="331.8" cy="49.0" r="1.15" fill="#86F4CA"/>
<text class="k" x="335.4" y="50.1">0</text>
<circle cx="331.8" cy="52.6" r="1.15" fill="#3E94E6"/>
<text class="k" x="335.4" y="53.7">1</text>
<circle cx="331.8" cy="56.2" r="1.15" fill="#46C4CC"/>
<text class="k" x="335.4" y="57.3">2</text>
<circle cx="331.8" cy="59.8" r="1.15" fill="#2414DC"/>
<text class="k" x="335.4" y="60.9">3</text>
<circle cx="331.8" cy="63.5" r="1.15" fill="#5012DC"/>
<text class="k" x="335.4" y="64.5">4</text>
<circle cx="331.8" cy="67.1" r="1.15" fill="#BC22A6"/>
<text class="k" x="335.4" y="68.2">5</text>
<circle cx="331.8" cy="70.7" r="1.15" fill="#CC2068"/>
<text class="k" x="335.4" y="71.8">6</text>
<circle cx="331.8" cy="74.3" r="1.15" fill="#D42222"/>
<text class="k" x="335.4" y="75.4">7</text>
<circle cx="331.8" cy="77.9" r="1.15" fill="#E8461C"/>
<text class="k" x="335.4" y="79.0">8</text>
<circle cx="331.8" cy="81.5" r="1.15" fill="#EA6A22"/>
<text class="k" x="335.4" y="82.6">9</text>
<circle cx="331.8" cy="85.2" r="1.15" fill="#AE8CF6"/>
<text class="k" x="335.4" y="86.3">10</text>
<circle cx="331.8" cy="88.8" r="1.15" fill="#C474F0"/>
<text class="k" x="335.4" y="89.9">11</text>
<circle cx="331.8" cy="92.4" r="1.15" fill="#E46AE8"/>
<text class="k" x="335.4" y="93.5">12</text>
<circle cx="331.8" cy="96.0" r="1.15" fill="#E46AE8"/>
<text class="k" x="335.4" y="97.1">13</text>
<path d="M249.8 61.7C250.6 59.3 251.8 54.5 253.4 52.1C255 49.7 257.2 48.5 259.5 47.3C261.7 46.1 264.7 44.9 266.7 44.9C268.7 44.9 269.9 46.1 271.5 47.3C273.1 48.5 274.9 50.1 276.3 52.1C277.7 54.1 279.5 56.9 279.9 59.3C280.3 61.7 279.3 64.4 278.7 66.6C278.1 68.7 281.1 71.1 276.3 72C271.5 72.9 254.4 72.9 249.8 72C245.2 71.1 248.6 68.3 248.6 66.6C248.6 64.8 249 64.1 249.8 61.7Z" fill="#86F4CA"/>
<path transform="scale(.5)" d="M505 114h0M504 123h0M512 104h0M503 108h0M508 112h0M503 117h0M504 112h0M506 113h0M497 120h0M503 111h0M508 104h0M499 121h0M511 101h0M507 101h0M512 98h0M509 105h0M513 96h0M511 98h0M512 104h0M520 95h0M516 96h0M524 92h0M526 92h0M522 97h0M531 91h0M535 93h0M529 90h0M521 91h0M521 94h0M523 92h0M542 94h0M540 93h0M533 92h0M541 95h0M542 94h0M539 93h0M550 102h0M550 101h0M551 102h0M546 95h0M553 103h0M542 96h0M545 96h0M551 103h0M555 111h0M552 109h0M559 118h0M557 112h0M556 109h0M553 111h0M558 117h0M556 113h0M559 119h0M563 121h0M556 119h0M557 129h0M559 127h0M557 123h0M557 131h0M559 130h0M558 118h0M554 138h0M555 134h0M557 137h0M556 142h0M558 135h0M558 141h0M556 137h0M534 142h0M503 142h0M531 142h0M546 147h0M551 146h0M514 145h0M530 144h0M533 144h0M531 141h0M525 146h0M508 147h0M535 147h0M535 143h0M508 145h0M553 141h0M522 145h0M532 145h0M505 142h0M515 142h0M545 141h0M525 145h0M543 147h0M502 146h0M527 144h0M536 143h0M531 142h0M500 143h0M521 143h0M520 145h0M519 142h0M519 144h0M499 135h0M496 144h0M495 145h0M496 138h0M494 136h0M496 138h0M500 131h0M496 136h0M500 125h0M497 130h0M500 127h0" stroke="#86F4CA" stroke-width="2.60" stroke-linecap="round"/>
<path d="M250.5 65.0C254.6 64.1 273.5 64.1 277.9 65C282.2 65.9 277.9 69.1 276.5 70.5C275.1 71.8 272.4 72.8 269.7 73.2C266.9 73.7 262.8 73.7 260.1 73.2C257.3 72.8 254.8 71.8 253.2 70.5C251.6 69.1 246.4 65.9 250.5 65Z" fill="#86F4CA"/>
<path transform="scale(.5)" d="M515 129h0M528 130h0M515 132h0M538 134h0M508 130h0M534 130h0M515 129h0M520 131h0M515 127h0M544 127h0M544 132h0M501 128h0M555 128h0M538 129h0M502 131h0M542 129h0M542 129h0M512 129h0M523 128h0M519 132h0M536 133h0M501 128h0M552 130h0M536 132h0M535 131h0M538 131h0M536 130h0M509 130h0M529 131h0M542 129h0M536 130h0M555 131h0M555 135h0M552 133h0M557 139h0M554 137h0M554 140h0M556 129h0M543 143h0M548 144h0M552 142h0M550 143h0M541 148h0M544 146h0M549 145h0M546 148h0M527 146h0M538 144h0M538 147h0M531 149h0M531 148h0M521 145h0M530 146h0M533 148h0M532 148h0M538 149h0M537 149h0M509 143h0M510 142h0M512 143h0M518 143h0M512 141h0M511 144h0M516 142h0M518 144h0M499 128h0M507 137h0M501 135h0M504 140h0M503 134h0M499 135h0M503 142h0" stroke="#86F4CA" stroke-width="2.60" stroke-linecap="round"/>
<path d="M279.9 64.1C280.7 61.8 282.1 59.5 283.6 58.1C285 56.7 286.8 55.7 288.4 55.7C290 55.7 291.8 56.9 293.2 58.1C294.6 59.3 296.4 61.1 296.8 62.9C297.2 64.7 296.2 67.5 295.6 69C295 70.5 296 71.5 293.2 72C290.4 72.5 280.9 73.3 278.7 72C276.5 70.7 279.1 66.5 279.9 64.1Z" fill="#48B4C4"/>
<path transform="scale(.5)" d="M564 121h0M563 124h0M562 125h0M559 124h0M564 122h0M560 126h0M563 127h0M561 127h0M567 115h0M569 115h0M571 115h0M567 116h0M567 118h0M572 114h0M586 115h0M584 117h0M577 113h0M581 108h0M580 112h0M584 118h0M587 119h0M587 121h0M588 120h0M588 122h0M592 122h0M585 121h0M596 126h0M591 133h0M591 128h0M591 132h0M593 128h0M590 140h0M592 133h0M594 129h0M591 142h0M591 140h0M588 137h0M593 141h0M572 143h0M582 145h0M573 147h0M563 151h0M556 146h0M559 142h0M568 142h0M574 145h0M562 147h0M574 143h0M583 143h0M578 144h0M560 142h0M573 143h0M574 141h0M570 149h0M564 146h0M558 142h0M559 128h0M559 136h0M561 135h0M561 133h0M559 136h0M559 135h0M562 139h0M556 141h0" stroke="#48B4C4" stroke-width="2.60" stroke-linecap="round"/>
<path d="M277.9 65.0C280.8 63.4 292.7 64.3 295.7 65C298.7 65.7 296.4 67.5 295.7 69.1C295 70.7 293.6 73.2 291.6 74.6C289.5 76 285.6 77.3 283.4 77.3C281.1 77.3 278.8 76.6 277.9 74.6C277 72.5 274.9 66.6 277.9 65Z" fill="#48B4C4"/>
<path transform="scale(.5)" d="M557 133h0M558 130h0M569 130h0M559 130h0M563 128h0M572 130h0M586 130h0M565 132h0M566 127h0M559 133h0M587 129h0M583 131h0M565 127h0M572 126h0M586 128h0M568 129h0M573 130h0M578 131h0M589 132h0M576 135h0M584 129h0M595 135h0M592 132h0M591 130h0M590 136h0M590 134h0M586 143h0M592 137h0M589 141h0M583 147h0M589 146h0M583 149h0M588 143h0M568 156h0M575 150h0M580 149h0M570 148h0M572 150h0M583 151h0M572 150h0M582 148h0M564 153h0M583 151h0M559 151h0M560 151h0M564 151h0M563 155h0M560 154h0M566 155h0M566 153h0M555 140h0M556 140h0M556 131h0M553 148h0M554 145h0M557 144h0M559 137h0M555 144h0M554 138h0M555 141h0M554 131h0" stroke="#48B4C4" stroke-width="2.60" stroke-linecap="round"/>
<path d="M270.3 37.6C271 36.3 272.5 34.2 273.9 33.4C275.3 32.6 277.1 32.3 278.7 32.8C280.3 33.3 282.6 35.2 283.6 36.4C284.6 37.6 285 38.8 284.8 40C284.6 41.3 283.6 42.9 282.3 43.7C281.1 44.5 279.1 44.9 277.5 44.9C275.9 44.9 274 44.3 272.7 43.7C271.4 43.1 270.1 42.3 269.7 41.3C269.3 40.2 269.6 38.9 270.3 37.6Z" fill="#6A18D8"/>
<path transform="scale(.5)" d="M546 71h0M545 73h0M544 78h0M544 68h0M545 71h0M546 73h0M554 69h0M552 66h0M554 67h0M553 65h0M558 67h0M560 67h0M558 68h0M566 72h0M564 70h0M569 69h0M563 71h0M558 65h0M568 76h0M569 78h0M571 77h0M569 74h0M567 88h0M569 81h0M563 88h0M569 84h0M570 83h0M559 90h0M558 89h0M558 89h0M565 85h0M562 89h0M544 89h0M555 90h0M545 89h0M544 82h0M546 87h0M545 87h0M543 85h0M541 84h0M541 83h0M539 78h0M542 77h0M538 80h0M537 82h0" stroke="#6A18D8" stroke-width="2.60" stroke-linecap="round"/>
<path transform="scale(.5)" d="M563 89h0M564 95h0M566 105h0M565 102h0M550 99h0M568 98h0M562 110h0M556 107h0M557 98h0M565 112h0M560 115h0M556 100h0M564 96h0M553 96h0M556 106h0M556 115h0M558 108h0M566 101h0M556 110h0M558 112h0M562 104h0M554 101h0M566 93h0M565 90h0M555 101h0M563 102h0M566 107h0M556 102h0M556 113h0M553 95h0M565 107h0M553 99h0M560 92h0M567 94h0M555 105h0M554 93h0M562 99h0M558 113h0M564 110h0M553 108h0M567 103h0M553 111h0M565 94h0M560 100h0M564 99h0M555 109h0M563 98h0M563 95h0M559 93h0M555 99h0M555 97h0M559 113h0M566 96h0M564 114h0M557 92h0M550 99h0M564 90h0M552 103h0M562 115h0M555 94h0M550 103h0M558 114h0M551 108h0M553 97h0M557 100h0M556 107h0M565 103h0M553 101h0M560 93h0M558 114h0M558 116h0M564 91h0M568 107h0M557 93h0M562 93h0M558 92h0M557 115h0M561 102h0M561 106h0M561 96h0M552 105h0M558 96h0M561 89h0M559 110h0M552 101h0M558 110h0M563 99h0M564 102h0M560 107h0M564 99h0M556 114h0M558 103h0M554 97h0M548 102h0M566 108h0" stroke="#D02040" stroke-width="3.20" stroke-linecap="round"/>
<path d="M288.4 47.3C289.2 46.2 289.8 44.5 290.8 43.7C291.8 42.9 293.4 42.3 294.4 42.5C295.4 42.7 296.4 43.5 296.8 44.9C297.2 46.3 297.4 49.5 296.8 50.9C296.2 52.3 294.4 53.1 293.2 53.3C292 53.5 290.8 52.6 289.6 52.1C288.4 51.6 286.2 51.1 286 50.3C285.8 49.5 287.6 48.4 288.4 47.3Z" fill="#D82018"/>
<path transform="scale(.5)" d="M581 91h0M578 95h0M580 93h0M583 86h0M579 88h0M587 88h0M585 88h0M582 86h0M587 87h0M589 85h0M591 93h0M592 89h0M591 84h0M593 92h0M595 94h0M595 94h0M592 94h0M592 97h0M595 101h0M597 88h0M592 102h0M588 105h0M588 105h0M590 104h0M593 103h0M584 102h0M580 105h0M581 102h0M584 104h0M577 105h0M578 104h0M579 103h0M576 104h0M571 97h0M573 96h0M575 93h0M572 101h0" stroke="#D82018" stroke-width="2.60" stroke-linecap="round"/>
<path d="M299.2 56.9C300 55.5 302.2 54.1 304 53.3C305.8 52.5 308.4 51.7 310.1 52.1C311.8 52.5 313.5 54.1 314.3 55.7C315.1 57.3 315.2 59.9 314.9 61.7C314.6 63.5 313.7 65.6 312.5 66.6C311.3 67.6 309.3 67.8 307.7 67.8C306 67.8 304.2 67.6 302.8 66.6C301.4 65.6 299.8 63.3 299.2 61.7C298.6 60.1 298.4 58.3 299.2 56.9Z" fill="#2414DC"/>
<path transform="scale(.5)" d="M609 111h0M603 114h0M599 114h0M602 109h0M609 108h0M601 111h0M604 107h0M617 101h0M612 102h0M615 104h0M611 104h0M619 103h0M611 105h0M607 106h0M628 109h0M624 113h0M624 107h0M623 104h0M626 109h0M629 111h0M628 115h0M630 118h0M631 118h0M630 115h0M630 116h0M627 117h0M627 125h0M625 131h0M628 133h0M624 131h0M627 132h0M631 123h0M628 125h0M619 138h0M620 135h0M621 133h0M618 134h0M618 136h0M612 132h0M610 132h0M615 133h0M610 133h0M611 134h0M601 129h0M602 127h0M600 127h0M604 130h0M604 132h0M599 125h0M601 126h0M598 116h0M597 118h0M597 120h0M599 114h0M597 119h0" stroke="#2414DC" stroke-width="2.60" stroke-linecap="round"/>
<path d="M302.5 65.0C303.7 64.1 310.8 64.3 312.1 65C313.5 65.7 311.9 68.2 310.8 69.1C309.6 70 306.6 71.2 305.3 70.5C303.9 69.8 301.4 65.9 302.5 65Z" fill="#2414DC"/>
<path transform="scale(.5)" d="M608 130h0M603 133h0M615 129h0M620 129h0M616 131h0M626 130h0M605 129h0M619 130h0M621 134h0M611 129h0M618 132h0M623 133h0M623 135h0M627 135h0M626 137h0M619 133h0M616 140h0M618 139h0M613 141h0M618 142h0M615 141h0M620 140h0M609 139h0M607 136h0M606 133h0M607 136h0M611 136h0M609 134h0M609 131h0" stroke="#2414DC" stroke-width="2.60" stroke-linecap="round"/>
<path d="M314.9 65.3C315.2 64 317.3 62.7 318.5 62.3C319.7 61.9 321.3 62.2 322.1 62.9C322.9 63.6 323.5 65.3 323.3 66.6C323.1 67.8 322 69.6 320.9 70.2C319.8 70.8 317.7 71 316.7 70.2C315.7 69.4 314.6 66.7 314.9 65.3Z" fill="#EA5A18"/>
<path transform="scale(.5)" d="M630 130h0M631 127h0M637 124h0M636 128h0M631 130h0M642 126h0M642 128h0M641 123h0M644 127h0M648 132h0M648 133h0M649 134h0M645 127h0M642 136h0M645 140h0M641 139h0M642 139h0M643 135h0M638 140h0M640 141h0M641 140h0M637 147h0M634 140h0M634 137h0M633 142h0M635 136h0M630 127h0M632 137h0M632 139h0" stroke="#EA5A18" stroke-width="2.60" stroke-linecap="round"/>
<path d="M313.5 66.4C313.9 65.5 317.4 65 319 65C320.6 65 322.6 65.6 323.1 66.4C323.5 67.2 322.9 69.1 321.7 69.8C320.6 70.5 317.6 71.1 316.2 70.5C314.9 69.9 313 67.3 313.5 66.4Z" fill="#EA5A18"/>
<path transform="scale(.5)" d="M634 131h0M627 130h0M631 133h0M633 132h0M630 133h0M634 132h0M644 131h0M642 127h0M641 128h0M645 130h0M645 131h0M649 134h0M648 133h0M646 137h0M647 133h0M639 140h0M636 137h0M638 137h0M634 143h0M634 142h0M643 139h0M630 138h0M625 138h0M627 134h0M629 135h0M629 138h0" stroke="#EA5A18" stroke-width="2.60" stroke-linecap="round"/>
<path transform="scale(.5)" d="M503 161h0M503 152h0M504 155h0M511 157h0M506 159h0M503 155h0M506 150h0M504 158h0M508 153h0M502 158h0M509 162h0M508 150h0M504 155h0M506 158h0M503 153h0M502 153h0M503 157h0M507 150h0M507 161h0M504 159h0M509 158h0M505 157h0M508 156h0M509 160h0M509 156h0" stroke="#D070F0" stroke-width="3.20" stroke-linecap="round"/>
<path transform="scale(.5)" d="M532 171h0M525 170h0M527 181h0M554 181h0M537 185h0M561 171h0M534 157h0M549 158h0M527 173h0M537 151h0M525 179h0M537 179h0M534 172h0M550 166h0M519 174h0M552 181h0M541 160h0M522 176h0M549 162h0M538 185h0M541 163h0M556 172h0M538 171h0M542 171h0M533 180h0M543 158h0M546 179h0M542 162h0M544 176h0M538 165h0M543 178h0M539 154h0M527 163h0M562 173h0M531 174h0M539 176h0M536 166h0M558 166h0M544 178h0M560 172h0M543 153h0M536 156h0M555 175h0M524 171h0M561 182h0M536 163h0M544 165h0M535 159h0M547 164h0M537 181h0M557 167h0M537 155h0M557 178h0M528 175h0M561 163h0M529 178h0M548 164h0M552 156h0M541 179h0M535 154h0M551 175h0M547 184h0M536 169h0M540 182h0M534 158h0M536 181h0M554 156h0M534 179h0M552 173h0M560 162h0M558 182h0M560 177h0M553 181h0M561 162h0M544 186h0M557 166h0M527 168h0M541 168h0M553 156h0M557 162h0M537 184h0M554 177h0M557 165h0M534 169h0M552 167h0M564 176h0M563 165h0M540 159h0M528 161h0M528 173h0M545 177h0M554 186h0M543 173h0M543 167h0M534 161h0M534 169h0M539 170h0M550 187h0M546 187h0M533 173h0M546 166h0M540 158h0M557 168h0M534 161h0M546 165h0M550 171h0M544 153h0M519 174h0M531 178h0M549 176h0M545 151h0M550 163h0M547 156h0M537 159h0M551 186h0M536 168h0M549 178h0M535 159h0M550 161h0M542 173h0M545 187h0M535 157h0M537 184h0M556 176h0M526 179h0M560 180h0M535 181h0M532 181h0M555 170h0M544 160h0M546 151h0M553 186h0M540 167h0M546 164h0M541 176h0M554 161h0M523 176h0M524 181h0M558 169h0M561 179h0M551 159h0M522 175h0M552 185h0M536 163h0M560 180h0M557 157h0M544 178h0M553 176h0M520 181h0M545 173h0M528 179h0M555 159h0M536 157h0M525 169h0M541 153h0M563 174h0M543 160h0M538 184h0M538 168h0M552 154h0M557 168h0M523 169h0M562 177h0M564 172h0M518 177h0M520 175h0M555 162h0M529 171h0M548 166h0M531 180h0M529 174h0M551 165h0M531 162h0M534 173h0M532 167h0M550 160h0M524 174h0M539 182h0M547 175h0M537 155h0M562 172h0M560 174h0M534 176h0M531 169h0M548 179h0M530 178h0M544 173h0M522 169h0M522 173h0M556 164h0M539 173h0M545 187h0M559 175h0M551 158h0M552 174h0M541 162h0M534 159h0M558 167h0M545 154h0M545 173h0M531 170h0M537 185h0M519 178h0M562 166h0M536 173h0M532 159h0M562 174h0M542 167h0M557 178h0M531 161h0M538 151h0M538 154h0M550 162h0M533 158h0M530 158h0M561 167h0M544 161h0M564 172h0M526 175h0M554 157h0M539 184h0M556 179h0M546 157h0M550 171h0M543 184h0M534 174h0M553 178h0M539 183h0M523 181h0M554 158h0M550 169h0M545 165h0M545 171h0M533 163h0M525 173h0M558 158h0M546 164h0M519 178h0M543 157h0M546 167h0M528 175h0M549 186h0M534 179h0M548 171h0M539 151h0M522 181h0M523 171h0M529 169h0M537 159h0M540 160h0M564 167h0M524 178h0M525 178h0M556 185h0M543 178h0M556 180h0M547 183h0M554 164h0M536 181h0M563 180h0M552 162h0M531 160h0M551 167h0M526 170h0M527 182h0M545 168h0M556 182h0M549 183h0M530 166h0M523 167h0M540 161h0M528 166h0M532 168h0M546 165h0M547 165h0M542 168h0M546 178h0M532 155h0M533 155h0M555 184h0M549 158h0M524 179h0M546 155h0M556 185h0M534 170h0M549 155h0M531 179h0M536 175h0M557 181h0M523 175h0M524 174h0M538 180h0M542 168h0M539 181h0M550 158h0M537 179h0M545 153h0M540 158h0M532 162h0M539 166h0M563 177h0M544 181h0M528 179h0M535 186h0M557 172h0M537 169h0M562 168h0M545 168h0M519 178h0M530 175h0M548 178h0M541 185h0M537 157h0M543 161h0M521 180h0M540 182h0M523 182h0M539 172h0M537 176h0M534 169h0M541 162h0M548 154h0M527 161h0M531 162h0M559 171h0M521 178h0M553 181h0M536 180h0M522 177h0M552 171h0M548 167h0M539 167h0M547 182h0M534 171h0M537 156h0M526 178h0M539 161h0M541 185h0M549 163h0M522 177h0M557 180h0M537 175h0M564 170h0M552 163h0M537 185h0M554 185h0M525 165h0M558 183h0M530 177h0M527 165h0M550 175h0M533 162h0M538 159h0M559 180h0M550 174h0M532 160h0M528 178h0" stroke="#C42070" stroke-width="3.20" stroke-linecap="round"/>
<path transform="scale(.5)" d="M548 171h0M538 171h0M539 172h0M544 175h0M545 173h0M543 176h0M539 172h0M543 169h0M543 167h0M542 172h0M546 173h0M538 167h0M543 174h0M540 173h0M539 168h0M547 171h0M537 170h0M543 166h0M541 170h0M542 176h0M541 175h0M540 173h0M538 171h0M537 173h0" stroke="#E070E8" stroke-width="3.20" stroke-linecap="round"/>
<path d="M280.6 96.5C281.3 94.8 285.2 91.7 286.1 89.7C287 87.6 285 85.3 286.1 84.2C287.2 83 290.7 82.6 292.9 82.8C295.2 83 298.2 84.2 299.8 85.5C301.4 86.9 302.3 89 302.5 91C302.8 93.1 302.3 96.1 301.2 97.9C300 99.7 297.7 101.3 295.7 102C293.6 102.7 291.1 102.3 288.8 102C286.6 101.6 283.4 100.8 282 99.9C280.6 99 279.9 98.2 280.6 96.5Z" fill="#3C84EC"/>
<path transform="scale(.5)" d="M564 191h0M573 186h0M568 190h0M570 180h0M561 187h0M569 182h0M566 189h0M568 184h0M564 191h0M565 190h0M573 173h0M570 166h0M572 166h0M571 176h0M572 180h0M575 180h0M585 166h0M567 167h0M573 167h0M580 165h0M577 168h0M577 168h0M580 169h0M580 167h0M591 170h0M592 166h0M587 170h0M591 171h0M599 172h0M593 170h0M595 172h0M599 170h0M601 175h0M601 177h0M602 178h0M602 175h0M603 180h0M597 175h0M604 182h0M604 189h0M605 184h0M604 194h0M601 189h0M603 186h0M604 187h0M604 186h0M602 184h0M591 203h0M604 195h0M595 203h0M601 196h0M602 197h0M599 196h0M596 205h0M594 203h0M583 204h0M587 209h0M577 203h0M583 201h0M580 203h0M578 205h0M586 205h0M578 203h0M572 202h0M567 202h0M572 204h0M576 204h0M570 201h0M566 198h0M574 201h0M571 202h0M566 198h0M563 195h0M560 195h0M563 199h0" stroke="#3C84EC" stroke-width="2.60" stroke-linecap="round"/>
<path d="M271.0 105.4C271.3 104 273.7 101.5 275.1 100.6C276.6 99.7 278.9 99.2 279.9 99.9C281 100.6 281.3 103 281.3 104.7C281.3 106.4 280.7 109.1 279.9 110.2C279.1 111.3 277.5 111.8 276.5 111.6C275.5 111.3 274.7 109.9 273.8 108.8C272.9 107.8 270.8 106.8 271 105.4Z" fill="#EA4818"/>
<path transform="scale(.5)" d="M544 211h0M542 212h0M540 204h0M549 202h0M548 203h0M547 209h0M544 208h0M559 201h0M553 202h0M557 200h0M562 202h0M557 199h0M561 203h0M563 207h0M561 198h0M559 202h0M560 202h0M562 217h0M559 213h0M559 221h0M562 211h0M562 215h0M561 215h0M555 224h0M559 218h0M556 221h0M558 222h0M547 220h0M547 220h0M546 218h0M552 223h0M543 212h0M546 214h0M544 216h0M543 213h0M545 215h0" stroke="#EA4818" stroke-width="2.60" stroke-linecap="round"/>
<path transform="scale(.5)" d="M620 150h0M624 158h0M626 155h0M618 154h0M630 152h0M624 160h0M627 152h0M630 155h0M623 149h0M624 154h0M618 154h0M631 152h0M618 154h0M635 155h0M630 156h0M615 154h0M624 150h0M616 152h0M620 159h0M620 156h0M627 151h0M629 156h0M632 156h0M628 149h0M632 154h0M615 153h0M632 155h0M614 152h0M626 151h0M624 160h0M618 156h0M629 158h0M632 151h0M622 149h0M624 158h0M620 159h0M619 154h0M628 158h0M634 152h0M622 157h0M631 158h0M619 158h0M630 155h0" stroke="#A888F0" stroke-width="3.20" stroke-linecap="round"/>
<path transform="scale(.5)" d="M625 185h0M626 185h0M627 181h0M625 183h0M624 180h0M627 180h0M625 180h0M625 182h0" stroke="#D060B0" stroke-width="3.20" stroke-linecap="round"/>
<path d="M370.2 28.6V115.2H453.0" fill="none" stroke="#707070" stroke-width="0.75"/>
<text class="k m" x="370.7" y="119.5">-40</text>
<text class="k m" x="393.0" y="119.5">-20</text>
<text class="k m" x="416.0" y="119.5">0</text>
<text class="k m" x="439.0" y="119.5">20</text>
<text class="k e" x="368.6" y="43.1">20</text>
<text class="k e" x="368.6" y="58.1">10</text>
<text class="k e" x="368.6" y="73.1">0</text>
<text class="k e" x="368.6" y="88.5">-10</text>
<text class="k e" x="368.6" y="103.1">-20</text>
<path d="M370.7 115.2v1.2M393.0 115.2v1.2M416.0 115.2v1.2M439.0 115.2v1.2M370.2 42.0h-1.2M370.2 57.0h-1.2M370.2 72.0h-1.2M370.2 87.4h-1.2M370.2 102.0h-1.2" stroke="#6a6a6a" stroke-width="0.5"/>
<text class="k m" x="411.6" y="122.8">tSNE_1</text>
<text class="k m" transform="translate(363.0 71.9) rotate(-90)">tSNE_2</text>
<circle cx="458.7" cy="59.8" r="1.15" fill="#86F4CA"/>
<text class="k" x="462.3" y="60.9">0</text>
<circle cx="458.7" cy="63.4" r="1.15" fill="#46C4CC"/>
<text class="k" x="462.3" y="64.5">1</text>
<circle cx="458.7" cy="67.1" r="1.15" fill="#5012DC"/>
<text class="k" x="462.3" y="68.2">2</text>
<circle cx="458.7" cy="70.7" r="1.15" fill="#CC2068"/>
<text class="k" x="462.3" y="71.8">3</text>
<circle cx="458.7" cy="74.3" r="1.15" fill="#E8461C"/>
<text class="k" x="462.3" y="75.4">4</text>
<circle cx="458.7" cy="77.9" r="1.15" fill="#C41A3A"/>
<text class="k" x="462.3" y="79.0">5</text>
<circle cx="458.7" cy="81.5" r="1.15" fill="#AE8CF6"/>
<text class="k" x="462.3" y="82.6">6</text>
<circle cx="458.7" cy="85.2" r="1.15" fill="#E46AE8"/>
<text class="k" x="462.3" y="86.3">7</text>
<path transform="scale(.5)" d="M854 85h0M869 77h0M870 85h0M853 118h0M855 111h0M859 86h0M848 87h0M853 90h0M851 90h0M861 75h0M854 109h0M845 101h0M848 104h0M838 100h0M849 122h0M859 88h0M838 91h0M851 82h0M850 99h0M851 116h0M838 100h0M854 106h0M838 99h0M853 104h0M855 101h0M838 89h0M852 85h0M855 88h0M845 100h0M865 99h0M853 101h0M845 102h0M845 101h0M848 99h0M874 71h0M844 100h0M857 89h0M848 92h0M852 123h0M856 114h0M842 102h0M855 113h0M861 84h0M853 96h0M855 106h0M860 103h0M845 86h0M869 83h0M849 114h0M846 82h0M849 87h0M868 88h0M846 119h0M862 110h0M859 111h0M846 115h0M854 104h0M864 89h0M858 98h0M871 75h0M857 97h0M852 104h0M843 93h0M859 113h0M857 93h0M856 91h0M848 125h0M854 82h0M844 101h0M839 87h0M867 90h0M868 74h0M862 83h0M849 85h0M850 93h0M841 86h0M854 87h0M847 93h0M847 113h0M866 75h0M842 90h0M863 103h0M837 102h0M870 83h0M840 92h0M853 123h0M860 79h0M850 123h0M852 91h0M855 109h0M861 108h0M863 96h0M848 95h0M864 79h0M844 99h0M853 118h0M845 106h0M864 82h0M862 108h0M851 87h0M858 104h0M851 100h0M851 119h0M850 99h0M839 95h0M860 96h0M855 102h0M848 84h0M850 85h0M861 87h0M864 92h0M849 86h0M850 101h0M844 106h0M863 78h0M854 89h0M866 91h0M843 112h0M864 93h0M864 88h0M853 95h0M838 102h0M865 72h0M865 72h0M842 107h0M847 85h0M852 118h0M851 128h0M847 96h0M867 87h0M840 93h0M858 106h0M837 102h0M844 99h0M863 77h0M849 87h0M857 105h0M856 119h0M847 84h0M853 99h0M861 87h0M844 116h0M858 111h0M843 96h0M865 75h0M868 82h0M864 105h0M858 111h0M859 102h0M858 106h0M849 87h0M855 93h0M850 81h0M842 100h0M857 111h0M846 91h0M866 88h0M848 117h0M843 112h0M854 122h0M845 107h0M854 82h0M847 117h0M864 94h0M861 94h0M864 88h0M844 113h0M867 90h0M838 99h0M853 119h0M842 92h0M854 106h0M864 85h0M849 117h0M848 99h0M859 97h0M843 102h0M845 109h0M861 103h0M845 99h0M848 105h0M852 102h0M866 85h0M842 102h0M847 118h0M864 93h0M860 93h0M864 102h0M840 99h0M857 86h0" stroke="#46C4CC" stroke-width="3.20" stroke-linecap="round"/>
<path transform="scale(.5)" d="M842 64h0M846 66h0M850 124h0" stroke="#46C4CC" stroke-width="3.00" stroke-linecap="round"/>
<path transform="scale(.5)" d="M854 67h0M797 163h0M798 185h0M876 77h0M878 90h0" stroke="#5012DC" stroke-width="3.00" stroke-linecap="round"/>
<path transform="scale(.5)" d="M861 100h0M872 118h0M868 118h0M870 115h0M871 112h0M878 118h0M867 107h0M871 103h0M861 122h0M875 119h0M865 112h0M876 111h0M868 119h0M859 119h0M882 114h0M859 115h0M859 115h0M873 103h0M871 111h0M871 104h0M867 108h0M874 110h0M867 120h0M877 104h0M861 122h0M873 112h0M871 105h0M876 115h0M866 107h0M881 115h0M874 111h0M867 120h0M875 104h0M863 122h0M871 108h0M869 107h0M876 117h0M860 116h0M871 102h0M879 111h0M866 119h0M882 112h0M875 115h0M870 113h0M872 115h0M875 122h0M868 113h0M872 104h0M877 110h0M870 117h0M861 111h0M871 107h0M866 111h0M868 123h0M865 106h0M868 109h0M875 116h0M864 118h0M864 108h0M866 110h0M872 110h0M872 117h0M874 103h0M877 117h0M865 116h0M865 124h0M871 119h0M870 111h0M869 123h0M865 119h0M866 116h0M869 117h0M872 105h0M881 111h0M865 116h0M870 113h0M865 105h0" stroke="#5012DC" stroke-width="3.20" stroke-linecap="round"/>
<path transform="scale(.5)" d="M861 145h0M863 138h0M869 144h0M877 140h0M860 144h0M861 151h0M864 140h0M871 138h0M878 139h0M867 145h0M863 141h0M861 144h0M866 150h0M872 149h0M873 140h0M861 150h0M866 149h0M870 145h0M867 150h0M868 150h0M859 148h0M863 149h0M862 145h0M859 144h0M861 150h0M869 141h0M867 140h0M872 143h0M877 139h0M860 143h0M872 138h0M872 143h0M869 137h0M868 141h0M866 149h0M872 141h0M874 137h0" stroke="#5012DC" stroke-width="3.20" stroke-linecap="round"/>
<path transform="scale(.5)" d="M839 119h0M838 125h0M837 121h0M836 120h0M839 120h0M844 132h0M842 126h0M838 131h0M844 129h0M842 123h0M839 132h0M836 128h0M842 117h0M840 125h0M841 133h0M835 121h0M834 118h0M839 133h0M839 125h0M839 128h0M844 128h0M843 130h0M842 123h0M840 117h0M844 126h0M836 129h0M841 117h0M845 128h0M840 122h0M839 124h0M842 124h0M839 133h0M841 121h0" stroke="#5012DC" stroke-width="3.20" stroke-linecap="round"/>
<path transform="scale(.5)" d="M816 149h0M818 151h0M817 140h0M814 155h0M827 148h0M827 166h0M827 154h0M831 163h0M831 150h0M825 166h0M828 132h0M834 166h0M840 147h0M836 162h0M839 159h0M834 165h0M815 146h0M834 155h0M804 153h0M845 162h0M818 170h0M833 134h0M818 149h0M807 163h0M830 159h0M825 173h0M828 137h0M808 150h0M819 139h0M835 147h0M820 132h0M821 149h0M836 141h0M823 144h0M810 150h0M839 165h0M832 140h0M819 141h0M818 170h0M817 142h0M832 148h0M826 162h0M813 133h0M820 153h0M832 161h0M811 144h0M813 158h0M846 152h0M808 160h0M826 175h0M844 155h0M835 139h0M826 161h0M814 138h0M814 145h0M831 155h0M847 158h0M817 143h0M832 167h0M849 152h0M815 152h0M837 146h0M822 167h0M820 171h0M838 164h0M820 138h0M843 170h0M810 160h0M808 143h0M825 156h0M845 148h0M821 145h0M831 161h0M841 169h0M821 170h0M818 151h0M824 164h0M817 161h0M830 142h0M849 152h0M849 160h0M844 138h0M815 154h0M809 134h0M815 159h0M838 159h0M847 152h0M838 154h0M829 148h0M813 163h0M823 145h0M843 157h0M805 156h0M828 171h0M832 145h0M806 155h0M847 141h0M820 152h0M827 171h0M835 161h0M823 138h0M822 167h0M817 157h0M807 163h0M848 150h0M818 142h0M845 158h0M817 173h0M816 133h0M832 154h0M806 165h0M838 144h0M838 165h0M829 143h0M825 139h0M810 162h0M814 139h0M827 165h0M831 157h0M817 147h0M812 152h0M832 136h0M810 169h0M831 155h0M822 168h0M833 157h0M841 142h0M816 159h0M819 151h0M833 153h0M835 149h0M822 144h0M820 131h0M829 156h0M817 151h0M847 163h0M804 154h0M821 158h0M804 158h0M831 140h0M848 153h0M808 160h0M841 161h0M823 147h0M822 161h0M818 151h0M839 149h0M836 134h0M821 144h0M838 155h0M805 147h0M828 153h0M824 151h0M821 140h0M834 152h0M810 156h0M827 152h0M810 165h0M827 149h0M825 145h0M822 143h0M848 155h0M808 143h0M848 149h0M822 163h0M834 147h0M807 148h0M830 148h0M816 142h0M851 146h0M833 152h0M807 152h0M825 162h0M825 138h0M830 149h0M847 145h0M850 146h0M803 148h0M818 145h0M827 143h0M836 157h0M808 144h0M815 166h0M818 167h0M841 159h0M802 152h0M821 153h0M825 152h0M838 157h0M835 153h0M817 148h0M841 154h0M825 156h0M831 156h0M835 166h0M817 141h0M809 157h0M836 136h0M836 145h0M841 153h0M845 151h0M830 158h0M830 175h0M826 165h0M811 143h0M818 138h0M808 152h0M840 135h0M828 135h0M830 171h0M836 165h0M810 152h0M806 160h0M840 144h0M829 155h0M826 150h0M829 149h0M811 154h0M838 166h0M838 147h0M835 177h0M825 158h0M815 151h0M822 172h0M823 135h0M819 159h0M820 163h0M804 147h0M805 157h0M831 171h0M816 156h0M820 150h0M809 163h0M849 147h0M835 145h0M842 171h0" stroke="#86F4CA" stroke-width="3.20" stroke-linecap="round"/>
<path transform="scale(.5)" d="M842 167h0M851 174h0M844 163h0M853 162h0M850 169h0M842 175h0M840 170h0M863 178h0M854 175h0M846 175h0M845 176h0M862 186h0M862 169h0M856 171h0M851 169h0M841 190h0M866 179h0M843 163h0M859 184h0M862 188h0M852 186h0M839 186h0M839 170h0M847 191h0M835 178h0M859 173h0M843 179h0M856 165h0M848 161h0M845 156h0M861 182h0M842 173h0M859 182h0M845 158h0M865 176h0M864 177h0M846 177h0M857 197h0M858 167h0M852 167h0M853 175h0M855 156h0M855 196h0M847 194h0M844 183h0M839 165h0M852 184h0M836 176h0M852 183h0M845 182h0M858 178h0M839 173h0M856 165h0M837 186h0M837 180h0M841 172h0M844 185h0M856 176h0M844 163h0M840 183h0M850 184h0M860 183h0M839 185h0M847 168h0M844 164h0M850 183h0M858 180h0M864 172h0M845 190h0M854 186h0M839 189h0M851 170h0M848 167h0M838 183h0M851 191h0M849 180h0M852 155h0M858 179h0M835 175h0M864 189h0M844 187h0M838 169h0M850 165h0M839 164h0M855 177h0M849 159h0M867 171h0M849 168h0M836 177h0M861 173h0M832 174h0M846 188h0M851 159h0M847 186h0M836 165h0M859 184h0M849 183h0M862 183h0M842 184h0M861 163h0M842 186h0M842 173h0M855 184h0M846 187h0M841 189h0M845 158h0M850 168h0M840 177h0M850 183h0M836 164h0M835 181h0M849 175h0M844 187h0M854 173h0M859 169h0M846 182h0M837 170h0M850 189h0M843 187h0M860 176h0M859 167h0M851 181h0M841 179h0M845 177h0M847 182h0M864 172h0M848 164h0M837 175h0M855 169h0M848 156h0M856 184h0M843 173h0M859 195h0M836 173h0M852 179h0M845 174h0M856 155h0M852 189h0M862 170h0M848 163h0M865 172h0M858 171h0M861 166h0M836 185h0M851 185h0M842 159h0M850 187h0M854 186h0M850 173h0M837 164h0M858 178h0M849 170h0M862 185h0M842 168h0M847 180h0M838 175h0M840 180h0M861 171h0M835 171h0M842 191h0M842 174h0M864 175h0M862 165h0M856 157h0M852 182h0M848 176h0M856 175h0M847 165h0M833 173h0M853 182h0" stroke="#CC2068" stroke-width="3.20" stroke-linecap="round"/>
<path transform="scale(.5)" d="M762 153h0M769 163h0M755 174h0M760 176h0M760 154h0M756 166h0M749 163h0M753 156h0M755 166h0M759 163h0M769 161h0M755 174h0M752 160h0M755 176h0M762 160h0M759 157h0M754 172h0M765 165h0M762 158h0M750 159h0M761 175h0M768 163h0M762 169h0M752 165h0M754 163h0M761 160h0M753 175h0M756 163h0M756 169h0M748 159h0M761 177h0M754 167h0M760 176h0M758 168h0M761 164h0M767 166h0M749 168h0M761 176h0M760 173h0M750 170h0M756 178h0M764 169h0M757 163h0M762 153h0M756 172h0M756 164h0M762 172h0M761 172h0M768 166h0M752 160h0M756 167h0M756 165h0M766 161h0M757 175h0M749 169h0M765 167h0M763 170h0M763 171h0M755 168h0M758 175h0M756 163h0M757 164h0M764 153h0M759 169h0M750 168h0M750 165h0M757 169h0M759 163h0M763 168h0M759 178h0M756 166h0M755 164h0M759 154h0M770 160h0" stroke="#E8461C" stroke-width="3.20" stroke-linecap="round"/>
<path transform="scale(.5)" d="M795 183h0M777 174h0M787 180h0M780 166h0M791 170h0M781 176h0M795 167h0M786 175h0M787 165h0M780 161h0M796 177h0M789 172h0M787 170h0M788 164h0M778 170h0M787 178h0M793 165h0M788 165h0M795 173h0M794 178h0M789 153h0M786 153h0M791 177h0M786 170h0M775 164h0M794 175h0M784 173h0M794 154h0M781 170h0M780 178h0M778 167h0M781 169h0M798 165h0M802 166h0M794 159h0M783 160h0M780 172h0M779 162h0M774 169h0M788 161h0M790 183h0M789 159h0M777 156h0M784 183h0M799 171h0M784 167h0M794 166h0M784 167h0M797 178h0M794 157h0M785 161h0M795 159h0M802 168h0M797 168h0M787 173h0M797 174h0M793 162h0M790 171h0M787 184h0M788 182h0M777 168h0M774 155h0M793 178h0M780 170h0M788 185h0M783 177h0M788 176h0M788 168h0M780 172h0M796 176h0M793 185h0M790 186h0M793 162h0M774 165h0M783 181h0M785 163h0M793 172h0M801 172h0M779 173h0M790 149h0M792 160h0M789 186h0M797 163h0M789 166h0M775 165h0M786 165h0M789 164h0M790 163h0M780 151h0M789 178h0M799 163h0M787 181h0M783 175h0M776 162h0M787 177h0M785 182h0M785 171h0M792 186h0M801 173h0M789 158h0M791 156h0M781 160h0M784 156h0M780 164h0" stroke="#C41E22" stroke-width="3.20" stroke-linecap="round"/>
<path transform="scale(.5)" d="M823 210h0M813 210h0M811 206h0M818 208h0M825 208h0M820 201h0M819 201h0M820 208h0M819 205h0M821 210h0M823 204h0M822 213h0M813 210h0M821 207h0M814 214h0M820 212h0M821 203h0M823 206h0M819 205h0M816 206h0M823 206h0M824 214h0M818 211h0M813 211h0M812 204h0M819 202h0M822 210h0M825 212h0M818 206h0M813 212h0M824 207h0M812 212h0M822 215h0M824 211h0" stroke="#AE8CF6" stroke-width="3.20" stroke-linecap="round"/>
<path transform="scale(.5)" d="M893 128h0M891 130h0M893 128h0M900 129h0M889 127h0M896 130h0M893 127h0M892 125h0M894 134h0M894 127h0M897 128h0M900 128h0M894 131h0M895 132h0M896 131h0M900 131h0M897 131h0M892 130h0M897 122h0M893 126h0M899 126h0M899 131h0M897 127h0" stroke="#E46AE8" stroke-width="3.20" stroke-linecap="round"/>
<path transform="scale(.5)" d="M822 108h0M828 113h0M827 108h0M821 111h0M818 110h0M824 113h0M822 107h0M820 109h0M819 110h0M818 109h0M820 115h0M819 114h0M825 110h0M819 106h0M823 110h0" stroke="#C474F0" stroke-width="3.20" stroke-linecap="round"/>
<path transform="scale(.5)" d="M819 182h0M813 187h0M822 187h0M821 180h0M822 178h0M823 180h0M823 182h0M820 181h0M817 187h0M816 187h0M815 186h0M823 179h0M821 186h0M820 182h0M822 181h0" stroke="#5012DC" stroke-width="3.20" stroke-linecap="round"/>
<path d="M480.2 28.6V115.2H562.0" fill="none" stroke="#707070" stroke-width="0.75"/>
<text class="k m" x="483.0" y="119.5">-30</text>
<text class="k m" x="496.0" y="119.5">-20</text>
<text class="k m" x="509.0" y="119.5">-10</text>
<text class="k m" x="522.0" y="119.5">0</text>
<text class="k m" x="535.4" y="119.5">10</text>
<text class="k m" x="548.6" y="119.5">20</text>
<text class="k m" x="561.0" y="119.5">30</text>
<text class="k e" x="478.6" y="30.6">30</text>
<text class="k e" x="478.6" y="44.7">20</text>
<text class="k e" x="478.6" y="59.1">10</text>
<text class="k e" x="478.6" y="73.5">0</text>
<text class="k e" x="478.6" y="87.9">-10</text>
<text class="k e" x="478.6" y="102.1">-20</text>
<path d="M483.0 115.2v1.2M496.0 115.2v1.2M509.0 115.2v1.2M522.0 115.2v1.2M535.4 115.2v1.2M548.6 115.2v1.2M561.0 115.2v1.2M480.2 29.5h-1.2M480.2 43.6h-1.2M480.2 58.0h-1.2M480.2 72.4h-1.2M480.2 86.8h-1.2M480.2 101.0h-1.2" stroke="#6a6a6a" stroke-width="0.5"/>
<text class="k m" x="521.1" y="122.8">tSNE_1</text>
<text class="k m" transform="translate(473.0 71.9) rotate(-90)">tSNE_2</text>
<circle cx="568.7" cy="61.6" r="1.15" fill="#86F4CA"/>
<text class="k" x="572.3" y="62.7">0</text>
<circle cx="568.7" cy="65.3" r="1.15" fill="#3A9CB8"/>
<text class="k" x="572.3" y="66.4">1</text>
<circle cx="568.7" cy="68.9" r="1.15" fill="#5012DC"/>
<text class="k" x="572.3" y="70.0">2</text>
<circle cx="568.7" cy="72.5" r="1.15" fill="#E8461C"/>
<text class="k" x="572.3" y="73.6">3</text>
<circle cx="568.7" cy="76.1" r="1.15" fill="#CC2068"/>
<text class="k" x="572.3" y="77.2">4</text>
<circle cx="568.7" cy="79.7" r="1.15" fill="#AE8CF6"/>
<text class="k" x="572.3" y="80.8">5</text>
<circle cx="568.7" cy="83.4" r="1.15" fill="#E46AE8"/>
<text class="k" x="572.3" y="84.5">6</text>
<path transform="scale(.5)" d="M1078 79h0M1042 99h0M1087 72h0M1069 86h0M1054 83h0M1075 83h0M1053 97h0M1054 81h0M1044 90h0M1045 75h0M1042 94h0M1063 69h0M1069 98h0M1032 100h0M1051 88h0M1049 108h0M1082 78h0M1072 84h0M1078 97h0M1050 108h0M1037 91h0M1078 82h0M1073 81h0M1079 74h0M1054 98h0M1052 73h0M1074 72h0M1056 106h0M1057 107h0M1071 86h0M1060 76h0M1048 88h0M1075 66h0M1062 93h0M1072 69h0M1080 80h0M1076 99h0M1056 78h0M1045 81h0M1066 104h0M1052 75h0M1082 92h0M1065 81h0M1039 96h0M1042 103h0M1049 90h0M1078 89h0M1064 97h0M1057 78h0M1046 95h0M1047 107h0M1058 105h0M1044 113h0M1066 76h0M1067 84h0M1048 90h0M1071 92h0M1066 85h0M1044 113h0M1073 89h0M1064 103h0M1067 82h0M1046 93h0M1043 94h0M1059 105h0M1088 86h0M1059 83h0M1074 96h0M1068 66h0M1034 92h0M1049 91h0M1071 102h0M1052 105h0M1037 87h0M1048 100h0M1058 75h0M1063 91h0M1048 95h0M1061 103h0M1090 85h0M1040 81h0M1054 96h0M1045 109h0M1091 81h0M1062 91h0M1051 85h0M1082 76h0M1058 104h0M1084 79h0M1035 96h0M1059 93h0M1059 71h0M1079 95h0M1055 84h0M1060 72h0M1065 98h0M1054 108h0M1061 89h0M1066 70h0M1048 102h0M1047 100h0M1054 105h0M1078 66h0M1066 68h0M1071 85h0M1048 85h0M1043 96h0M1047 90h0M1072 77h0M1067 77h0M1073 85h0M1071 81h0M1056 106h0M1047 81h0M1041 104h0M1056 86h0M1061 89h0M1043 94h0M1044 77h0M1032 101h0M1073 84h0M1044 101h0M1059 105h0M1073 96h0M1049 82h0M1081 72h0M1034 104h0M1049 74h0M1038 87h0M1080 67h0M1058 101h0M1086 79h0M1089 84h0M1046 107h0M1055 75h0M1046 90h0M1064 95h0M1065 103h0M1083 76h0M1051 75h0M1045 97h0M1036 92h0M1084 89h0M1042 98h0M1064 89h0M1040 88h0M1067 71h0M1045 86h0M1069 85h0M1059 83h0M1055 103h0M1058 95h0M1060 98h0M1073 77h0M1071 80h0M1049 76h0M1072 83h0M1059 88h0M1067 88h0M1069 96h0M1066 100h0M1067 95h0M1076 92h0M1054 84h0M1043 106h0M1046 83h0M1068 79h0M1050 88h0M1066 77h0M1038 86h0M1075 89h0M1085 88h0M1054 87h0M1047 100h0M1052 81h0M1064 83h0M1048 104h0M1052 93h0M1041 91h0M1049 83h0M1044 105h0M1048 87h0M1084 76h0M1062 83h0M1053 83h0M1041 87h0M1060 100h0M1071 100h0M1054 98h0M1067 79h0M1044 110h0M1062 70h0M1068 83h0M1057 108h0M1048 84h0M1060 98h0M1067 89h0M1047 104h0M1071 87h0M1065 88h0M1081 67h0M1063 103h0M1075 82h0M1066 71h0M1058 90h0M1075 95h0M1073 98h0M1058 94h0M1058 86h0M1060 84h0M1074 92h0M1043 109h0M1036 94h0M1068 99h0M1032 103h0M1067 74h0M1052 91h0M1071 96h0M1057 94h0M1051 83h0M1076 97h0M1048 86h0M1055 94h0M1073 97h0M1043 101h0M1061 80h0M1036 98h0M1045 111h0M1080 96h0M1052 84h0M1062 87h0M1055 83h0M1065 88h0M1061 88h0M1043 87h0M1058 104h0M1086 76h0M1046 90h0M1073 95h0M1043 89h0M1071 88h0M1065 96h0M1067 66h0M1089 72h0M1039 103h0M1048 105h0M1071 73h0M1085 86h0M1038 104h0M1057 97h0M1057 85h0M1067 70h0M1067 90h0M1057 81h0" stroke="#86F4CA" stroke-width="3.20" stroke-linecap="round"/>
<path transform="scale(.5)" d="M1009 111h0M1027 107h0M1032 138h0M1025 146h0M1038 138h0M1011 127h0M1029 133h0M1028 139h0M1037 154h0M1007 126h0M1010 117h0M1037 121h0M1011 144h0M1037 129h0M1005 129h0M1028 118h0M1025 132h0M1039 119h0M1007 133h0M1038 153h0M1033 131h0M1017 129h0M1013 147h0M1032 134h0M1017 148h0M1005 138h0M1020 141h0M1013 137h0M1040 124h0M1012 143h0M1038 136h0M1013 130h0M1027 146h0M1005 134h0M1015 115h0M1029 142h0M1001 134h0M1024 144h0M1027 136h0M1032 141h0M1029 123h0M1012 119h0M1005 122h0M1036 120h0M1020 134h0M1021 117h0M1033 131h0M1043 137h0M1016 131h0M1021 118h0M1022 144h0M1016 137h0M1015 126h0M1018 133h0M1025 124h0M1017 106h0M1011 127h0M1032 155h0M1001 133h0M1015 145h0M1014 137h0M1016 110h0M1039 147h0M1030 134h0M1019 148h0M1007 136h0M1034 125h0M1030 119h0M1027 128h0M1038 150h0M1027 122h0M1025 112h0M1003 139h0M1021 134h0M1033 127h0M1039 141h0M1026 115h0M1031 121h0M1006 120h0M1037 136h0M1007 117h0M1037 135h0M1037 135h0M1028 135h0M1031 122h0M1026 127h0M1017 110h0M1041 128h0M1034 149h0M1014 140h0M1022 145h0M1017 133h0M1027 130h0M1039 150h0M1020 119h0M1026 117h0M1013 137h0M1004 130h0M1045 150h0M1035 126h0M1008 125h0M1009 145h0M1032 139h0M1037 130h0M1014 126h0M1034 128h0M1016 148h0M1033 120h0M1020 130h0M1025 124h0M1021 123h0M1029 118h0M1035 143h0M1017 142h0M1039 130h0M1027 124h0M1002 132h0M1011 138h0M1026 118h0M1006 142h0M1034 143h0M1022 113h0M1030 118h0M1006 137h0M1032 132h0M1039 125h0M1008 124h0M1041 127h0M1042 143h0M1038 145h0M1021 135h0M1034 131h0M1013 120h0M1033 137h0M1042 146h0M1011 127h0M1024 128h0M1018 136h0M1013 146h0M1023 135h0M1024 150h0M1019 139h0M1030 125h0M1001 134h0M1039 131h0M1022 120h0M1021 115h0M1014 142h0M1007 130h0M1034 114h0M1040 126h0M1010 140h0M1016 140h0M1003 125h0M1033 149h0M1026 137h0M1021 140h0M1023 147h0M1036 139h0M1040 139h0M1037 149h0M1040 146h0M1019 110h0M1019 142h0M1016 130h0M1035 138h0M1039 123h0M1001 135h0M1014 127h0M1027 135h0M1008 130h0M1022 125h0M1030 117h0M1021 108h0M1012 126h0M1007 120h0M1016 149h0M1004 134h0M1022 133h0M1017 144h0M1009 136h0M1014 135h0M1030 131h0M1036 123h0M1015 146h0M1027 143h0M1021 131h0M1037 157h0M1038 153h0M1029 134h0M1000 136h0M1015 134h0M1040 133h0M1029 113h0M1031 131h0M1040 153h0M1044 145h0M1019 137h0M1025 135h0M1033 127h0M1027 138h0M1037 128h0M1013 132h0" stroke="#48B4C4" stroke-width="3.20" stroke-linecap="round"/>
<path transform="scale(.5)" d="M1011 101h0M1015 97h0M1018 91h0M1015 90h0M1014 97h0M1015 91h0M1012 100h0M1010 91h0M1012 99h0M1018 95h0M1009 94h0M1014 99h0M1016 98h0M1016 98h0M1011 99h0" stroke="#48B4C4" stroke-width="3.20" stroke-linecap="round"/>
<path transform="scale(.5)" d="M981 153h0M988 162h0M981 152h0M1005 158h0M984 157h0M1001 135h0M995 150h0M995 152h0M1012 156h0M999 161h0M1001 164h0M989 170h0M999 163h0M991 146h0M994 134h0M1007 157h0M985 154h0M990 142h0M982 151h0M1012 158h0M999 145h0M1016 153h0M994 158h0M981 165h0M1014 151h0M1008 164h0M999 143h0M1001 169h0M1002 140h0M996 163h0M994 135h0M987 148h0M984 157h0M985 150h0M976 150h0M995 132h0M980 153h0M1002 159h0M1008 140h0M994 154h0M1017 151h0M982 147h0M986 149h0M998 155h0M996 152h0M972 147h0M1012 148h0M1009 149h0M1000 161h0M997 151h0M992 157h0M988 150h0M990 167h0M995 149h0M994 151h0M996 161h0M991 149h0M1011 158h0M1001 161h0M1013 159h0M996 161h0M991 143h0M977 147h0M987 136h0M992 163h0M975 148h0M982 153h0M1001 164h0M1000 170h0M985 151h0M992 146h0M983 151h0M989 155h0M1001 131h0M1017 149h0M1008 148h0M981 140h0M995 147h0M988 155h0M977 151h0M1005 149h0M987 144h0M1013 141h0M994 158h0M983 158h0M997 151h0M984 153h0M1002 134h0M1008 152h0M1011 142h0M988 149h0M996 159h0M1004 156h0M1009 159h0M1007 156h0M995 155h0M983 153h0M1006 159h0M982 142h0M991 131h0M977 148h0M988 153h0M999 157h0M985 159h0M993 164h0M997 144h0M975 147h0M991 131h0M995 164h0M1001 140h0M992 161h0M994 142h0M1000 158h0M1009 159h0M997 143h0M989 139h0M990 135h0M995 147h0M994 142h0M1005 156h0M978 144h0M984 166h0M981 158h0M1000 163h0M981 135h0M995 140h0M981 152h0M1014 162h0M985 163h0M1009 138h0M980 144h0M1002 156h0M982 143h0M992 144h0M980 143h0M994 151h0M995 130h0M1003 161h0M977 153h0M1009 143h0M998 161h0M990 136h0M1008 157h0M1013 144h0M1006 149h0M989 133h0M974 154h0M999 162h0M1002 158h0M1017 152h0M993 160h0M991 142h0M987 143h0M1002 157h0M999 161h0M1012 139h0M981 150h0M998 137h0M982 154h0M1000 135h0M978 145h0M1000 138h0M1016 160h0M1004 153h0M1005 144h0M1000 140h0M1003 165h0M1008 153h0M980 144h0M1011 165h0M1004 159h0M1007 165h0M995 156h0M987 151h0M984 151h0M973 154h0M1004 165h0M989 138h0M995 148h0M1003 164h0M988 159h0M984 143h0M1002 160h0M977 153h0M1002 154h0M979 145h0M1005 142h0M977 139h0M1014 152h0M1007 163h0M1005 145h0M995 157h0M988 161h0M982 159h0M977 153h0M995 164h0M1000 150h0M989 142h0M989 155h0M983 161h0M993 155h0M979 163h0M993 153h0M1005 163h0M988 163h0M1011 159h0M1004 150h0M992 163h0M993 151h0M987 136h0M981 153h0M991 159h0M1002 151h0M987 157h0M1004 154h0M996 158h0M974 157h0M991 168h0M985 132h0M992 146h0M995 167h0M996 166h0M997 145h0M1017 151h0M986 152h0M1003 160h0M1002 157h0M992 148h0M970 151h0M985 144h0M985 168h0M981 158h0M980 133h0M1011 154h0M985 159h0" stroke="#5012DC" stroke-width="3.20" stroke-linecap="round"/>
<path transform="scale(.5)" d="M1064 122h0M1082 125h0M1066 136h0M1068 130h0M1063 119h0M1082 136h0M1079 123h0M1067 126h0M1070 138h0M1075 129h0M1061 142h0M1053 128h0M1076 132h0M1063 131h0M1061 123h0M1054 133h0M1065 131h0M1069 122h0M1072 126h0M1065 142h0M1052 129h0M1068 138h0M1063 119h0M1077 125h0M1054 124h0M1068 136h0M1058 141h0M1062 142h0M1054 131h0M1059 130h0M1060 135h0M1070 120h0M1071 128h0M1082 134h0M1078 132h0M1080 129h0M1072 125h0M1058 124h0M1062 125h0M1078 133h0M1056 138h0M1069 130h0M1060 140h0M1070 124h0M1068 132h0M1081 135h0M1069 124h0M1066 119h0M1072 137h0M1085 129h0M1075 134h0M1057 134h0M1067 134h0M1064 133h0M1075 133h0M1063 123h0M1067 127h0M1062 135h0M1083 134h0M1068 128h0M1080 130h0M1056 137h0M1088 130h0M1067 120h0M1080 133h0M1061 136h0M1054 139h0M1065 128h0M1059 131h0M1069 136h0M1066 138h0M1063 122h0M1076 124h0M1051 128h0M1062 129h0M1088 133h0M1059 127h0M1069 140h0M1082 134h0M1064 129h0M1070 135h0M1053 136h0M1084 129h0M1083 134h0M1080 131h0M1077 138h0M1063 133h0M1057 137h0M1066 135h0M1062 120h0M1072 134h0M1048 133h0M1078 133h0M1066 142h0M1064 124h0M1068 125h0M1080 137h0M1076 140h0M1076 129h0M1078 128h0M1066 130h0M1070 140h0M1075 129h0M1064 125h0M1057 139h0M1065 127h0M1056 141h0M1086 132h0M1063 130h0M1086 132h0M1050 137h0M1063 133h0M1076 124h0M1066 134h0M1074 131h0M1078 132h0M1052 131h0M1069 122h0M1074 123h0M1062 131h0M1061 120h0M1081 129h0M1072 130h0" stroke="#AE8CF6" stroke-width="3.20" stroke-linecap="round"/>
<path transform="scale(.5)" d="M1107 133h0M1110 129h0M1117 127h0M1109 129h0M1116 131h0M1100 129h0M1108 125h0M1098 123h0M1105 130h0M1108 122h0M1102 132h0M1107 134h0M1110 133h0M1099 122h0M1104 128h0M1103 127h0M1108 124h0M1105 132h0M1110 121h0M1100 123h0M1101 124h0M1108 126h0M1101 133h0M1111 127h0M1110 127h0M1110 135h0M1103 127h0M1100 125h0M1113 124h0M1113 126h0M1109 122h0M1108 121h0" stroke="#E46AE8" stroke-width="3.20" stroke-linecap="round"/>
<path transform="scale(.5)" d="M1043 207h0M1047 210h0M1028 196h0M1032 187h0M1047 196h0M1045 214h0M1047 213h0M1018 202h0M1047 192h0M1037 195h0M1046 213h0M1028 206h0M1036 199h0M1039 186h0M1028 196h0M1020 204h0M1051 192h0M1040 188h0M1047 216h0M1055 203h0M1053 207h0M1030 180h0M1014 206h0M1040 213h0M1037 187h0M1031 189h0M1041 203h0M1042 215h0M1036 204h0M1022 210h0M1032 203h0M1020 207h0M1045 218h0M1032 186h0M1046 216h0M1044 195h0M1037 187h0M1031 214h0M1044 206h0M1031 211h0M1018 195h0M1042 217h0M1032 185h0M1040 220h0M1029 205h0M1043 183h0M1038 189h0M1021 195h0M1045 197h0M1034 199h0M1030 196h0M1038 196h0M1034 205h0M1031 202h0M1046 191h0M1049 195h0M1050 215h0M1036 189h0M1031 212h0M1036 204h0M1043 200h0M1017 190h0M1024 192h0M1028 214h0M1028 193h0M1028 203h0M1026 206h0M1042 208h0M1049 215h0M1038 188h0M1027 206h0M1048 204h0M1033 216h0M1033 214h0M1018 195h0M1022 206h0M1036 193h0M1032 185h0M1025 221h0M1030 221h0M1041 211h0M1043 200h0M1032 195h0M1031 206h0M1039 195h0M1032 219h0M1035 210h0M1016 200h0M1026 200h0M1021 190h0M1045 212h0M1039 201h0M1018 201h0M1045 191h0M1033 211h0M1039 206h0M1052 200h0M1027 222h0M1054 201h0M1036 197h0M1030 189h0M1028 214h0M1050 189h0M1036 183h0M1048 215h0M1025 206h0M1046 194h0M1042 201h0M1029 213h0M1046 192h0M1040 215h0M1045 217h0M1021 186h0M1047 201h0M1017 201h0M1024 214h0M1033 190h0M1039 181h0M1054 212h0M1023 201h0M1038 203h0M1050 207h0M1024 208h0M1054 191h0M1043 218h0M1037 218h0M1018 204h0M1037 210h0M1045 200h0M1016 212h0M1029 211h0M1018 201h0M1014 211h0M1031 215h0M1029 200h0M1023 194h0M1020 206h0M1058 206h0M1033 207h0M1029 206h0M1027 188h0M1040 215h0M1032 204h0M1048 205h0M1031 181h0M1026 199h0M1041 191h0M1024 206h0M1025 189h0M1041 209h0M1038 203h0M1036 211h0M1025 196h0M1052 194h0M1049 211h0M1039 205h0M1042 222h0M1037 197h0M1050 200h0M1054 202h0M1036 202h0M1038 212h0M1028 202h0M1025 192h0M1030 197h0M1023 208h0M1030 198h0M1050 191h0M1032 182h0M1046 187h0M1034 201h0M1053 191h0M1027 195h0M1028 219h0M1037 222h0M1036 196h0M1036 197h0M1041 217h0M1028 218h0M1032 188h0M1014 203h0M1031 189h0M1023 187h0M1017 197h0M1051 193h0M1046 188h0M1030 191h0M1043 207h0M1034 211h0M1033 185h0M1046 195h0M1048 186h0M1044 191h0M1023 195h0M1030 201h0M1044 210h0M1056 199h0M1031 204h0M1037 188h0M1026 220h0M1043 200h0M1029 213h0M1026 197h0M1019 187h0M1026 187h0M1043 197h0M1035 204h0M1051 195h0M1038 209h0M1020 201h0M1050 187h0M1022 199h0M1030 220h0M1040 212h0M1047 206h0M1017 194h0" stroke="#E8461C" stroke-width="3.20" stroke-linecap="round"/>
<path transform="scale(.5)" d="M1076 205h0M1080 176h0M1093 202h0M1092 206h0M1072 195h0M1065 193h0M1082 185h0M1082 212h0M1076 203h0M1081 180h0M1094 208h0M1097 181h0M1077 189h0M1068 211h0M1085 201h0M1097 182h0M1086 195h0M1082 176h0M1075 204h0M1076 199h0M1090 184h0M1071 210h0M1088 180h0M1071 201h0M1067 194h0M1089 197h0M1061 191h0M1060 202h0M1083 189h0M1078 180h0M1083 185h0M1092 194h0M1073 206h0M1086 210h0M1072 196h0M1061 207h0M1082 202h0M1064 209h0M1072 184h0M1093 190h0M1068 184h0M1093 202h0M1079 190h0M1077 206h0M1085 201h0M1093 196h0M1073 212h0M1068 199h0M1080 201h0M1069 184h0M1067 186h0M1084 200h0M1066 187h0M1069 212h0M1079 191h0M1074 193h0M1064 191h0M1080 204h0M1093 193h0M1094 207h0M1068 210h0M1071 199h0M1095 186h0M1083 200h0M1077 195h0M1081 197h0M1072 185h0M1083 186h0M1069 194h0M1083 186h0M1068 188h0M1064 204h0M1084 188h0M1069 210h0M1078 210h0M1075 184h0M1057 205h0M1082 183h0M1075 198h0M1089 180h0M1082 217h0M1063 205h0M1073 198h0M1086 190h0M1069 193h0M1074 217h0M1093 182h0M1064 210h0M1068 204h0M1076 208h0M1069 182h0M1069 182h0M1069 209h0M1073 192h0M1078 177h0M1094 189h0M1087 185h0M1087 189h0M1082 192h0M1081 182h0M1072 217h0M1083 201h0M1091 183h0M1066 200h0M1086 203h0M1087 211h0M1063 195h0M1082 187h0M1083 206h0M1074 209h0M1094 204h0M1067 196h0M1061 190h0M1064 202h0M1084 190h0M1086 191h0M1062 206h0M1078 200h0M1073 215h0M1090 191h0M1092 189h0M1089 178h0M1079 202h0M1091 197h0M1069 198h0M1091 184h0M1078 186h0M1088 208h0M1072 215h0M1066 202h0M1082 208h0M1067 202h0M1085 204h0M1088 186h0M1092 191h0M1069 187h0M1079 210h0M1093 205h0M1085 193h0M1065 188h0M1066 199h0M1098 198h0M1088 195h0M1076 189h0M1074 195h0M1090 204h0M1089 208h0M1071 198h0M1076 202h0M1066 204h0M1076 183h0M1075 214h0M1062 206h0M1077 205h0M1076 196h0M1092 191h0M1080 187h0M1064 195h0M1089 189h0M1091 187h0M1081 178h0M1084 209h0M1086 186h0M1093 189h0M1075 189h0M1081 193h0M1077 200h0M1070 211h0M1095 201h0M1075 199h0M1079 186h0M1094 185h0M1091 180h0M1069 215h0M1076 214h0M1062 193h0M1092 203h0M1065 203h0M1094 187h0M1072 208h0M1091 204h0M1064 212h0M1092 197h0M1079 202h0M1064 209h0M1083 190h0M1073 181h0M1087 186h0M1092 207h0M1065 188h0M1086 210h0M1069 218h0M1085 200h0M1093 203h0M1068 198h0M1071 188h0M1077 212h0M1096 181h0M1078 207h0M1081 209h0M1068 208h0M1076 194h0M1064 202h0M1096 183h0M1075 212h0M1074 211h0" stroke="#B81A48" stroke-width="3.20" stroke-linecap="round"/>
<path d="M589.5 28.6V115.2H671.5" fill="none" stroke="#707070" stroke-width="0.75"/>
<text class="k m" x="607.6" y="119.5">-20</text>
<text class="k m" x="627.0" y="119.5">0</text>
<text class="k m" x="646.0" y="119.5">20</text>
<text class="k m" x="664.0" y="119.5">40</text>
<text class="k e" x="587.9" y="47.1">25</text>
<text class="k e" x="587.9" y="70.1">0</text>
<text class="k e" x="587.9" y="93.9">-25</text>
<path d="M607.6 115.2v1.2M627.0 115.2v1.2M646.0 115.2v1.2M664.0 115.2v1.2M589.5 46.0h-1.2M589.5 69.0h-1.2M589.5 92.8h-1.2" stroke="#6a6a6a" stroke-width="0.5"/>
<text class="k m" x="630.5" y="122.8">tSNE_1</text>
<text class="k m" transform="translate(582.3 71.9) rotate(-90)">tSNE_2</text>
<circle cx="678.0" cy="56.2" r="1.15" fill="#86F4CA"/>
<text class="k" x="681.6" y="57.3">0</text>
<circle cx="678.0" cy="59.8" r="1.15" fill="#50C2E2"/>
<text class="k" x="681.6" y="60.9">1</text>
<circle cx="678.0" cy="63.5" r="1.15" fill="#3E94E6"/>
<text class="k" x="681.6" y="64.5">2</text>
<circle cx="678.0" cy="67.1" r="1.15" fill="#7A1EE0"/>
<text class="k" x="681.6" y="68.2">3</text>
<circle cx="678.0" cy="70.7" r="1.15" fill="#CC2068"/>
<text class="k" x="681.6" y="71.8">4</text>
<circle cx="678.0" cy="74.3" r="1.15" fill="#D42222"/>
<text class="k" x="681.6" y="75.4">5</text>
<circle cx="678.0" cy="77.9" r="1.15" fill="#E8461C"/>
<text class="k" x="681.6" y="79.0">6</text>
<circle cx="678.0" cy="81.5" r="1.15" fill="#AE8CF6"/>
<text class="k" x="681.6" y="82.6">7</text>
<circle cx="678.0" cy="85.2" r="1.15" fill="#C474F0"/>
<text class="k" x="681.6" y="86.3">8</text>
<circle cx="678.0" cy="88.8" r="1.15" fill="#E46AE8"/>
<text class="k" x="681.6" y="89.9">9</text>
<path d="M614.1 36.4C614.9 34.9 616.9 33.9 618.9 33.4C620.9 32.9 624 32.7 626.1 33.4C628.3 34.1 631 36.1 631.6 37.6C632.2 39.1 630.5 41.1 629.8 42.5C629.1 43.9 628 44.5 627.3 46.1C626.7 47.7 626.5 49.9 626.1 52.1C625.7 54.3 625.7 57.9 624.9 59.3C624.1 60.7 622.3 61.1 621.3 60.5C620.3 59.9 619.7 57.5 618.9 55.7C618.1 53.9 617.3 51.9 616.5 49.7C615.7 47.5 614.5 44.7 614.1 42.5C613.7 40.2 613.3 37.9 614.1 36.4Z" fill="#C41E50"/>
<path transform="scale(.5)" d="M1239 68h0M1235 67h0M1236 69h0M1232 70h0M1238 66h0M1234 72h0M1248 68h0M1243 69h0M1243 67h0M1244 66h0M1250 71h0M1239 68h0M1239 69h0M1243 68h0M1260 69h0M1265 72h0M1257 70h0M1259 70h0M1261 73h0M1253 69h0M1251 67h0M1265 74h0M1259 87h0M1263 76h0M1261 81h0M1258 82h0M1261 78h0M1266 75h0M1257 89h0M1258 87h0M1260 89h0M1260 88h0M1253 92h0M1253 97h0M1255 98h0M1253 104h0M1253 95h0M1257 99h0M1254 91h0M1253 95h0M1251 117h0M1248 111h0M1248 116h0M1252 117h0M1252 113h0M1252 111h0M1248 118h0M1248 115h0M1246 118h0M1246 120h0M1244 123h0M1244 121h0M1242 116h0M1237 114h0M1242 122h0M1242 119h0M1244 122h0M1242 115h0M1235 106h0M1233 104h0M1237 106h0M1240 111h0M1239 111h0M1236 104h0M1235 100h0M1233 98h0M1235 101h0M1232 88h0M1233 87h0M1229 97h0M1232 91h0M1229 104h0M1231 94h0M1232 90h0M1230 78h0M1231 77h0M1228 85h0M1228 77h0M1229 81h0M1226 78h0M1228 82h0" stroke="#C41E50" stroke-width="2.60" stroke-linecap="round"/>
<path d="M632.2 40.0C632.8 39 635.2 38.6 637 38.8C638.8 39 640.8 41 643 41.3C645.2 41.6 647.8 40.4 650.2 40.7C652.7 40.9 655.9 41.4 657.5 42.5C659.1 43.6 660.1 45.7 659.9 47.3C659.7 48.9 657.9 50.7 656.3 52.1C654.7 53.5 652.2 55.5 650.2 55.7C648.2 55.9 646 53.5 644.2 53.3C642.4 53.1 640.8 54.9 639.4 54.5C638 54.1 636.8 52.5 635.8 50.9C634.8 49.3 634 46.7 633.4 44.9C632.8 43.1 631.6 41.1 632.2 40Z" fill="#8A1EE0"/>
<path transform="scale(.5)" d="M1266 78h0M1267 78h0M1270 78h0M1265 83h0M1268 79h0M1286 84h0M1283 82h0M1282 80h0M1281 81h0M1284 79h0M1282 80h0M1281 82h0M1296 83h0M1288 84h0M1285 77h0M1290 81h0M1287 83h0M1290 79h0M1294 82h0M1293 82h0M1306 81h0M1302 81h0M1309 81h0M1298 83h0M1311 82h0M1304 81h0M1314 81h0M1307 84h0M1318 86h0M1313 85h0M1314 84h0M1318 96h0M1315 88h0M1318 88h0M1317 102h0M1316 96h0M1313 102h0M1313 101h0M1315 97h0M1319 96h0M1318 98h0M1311 108h0M1312 106h0M1305 104h0M1301 110h0M1302 111h0M1301 109h0M1304 107h0M1308 105h0M1286 106h0M1288 105h0M1285 108h0M1287 104h0M1301 112h0M1289 108h0M1291 109h0M1288 111h0M1279 108h0M1287 104h0M1279 109h0M1283 109h0M1272 105h0M1278 107h0M1276 109h0M1275 103h0M1276 108h0M1275 105h0M1269 100h0M1272 101h0M1267 96h0M1264 90h0M1268 95h0M1268 100h0M1270 91h0M1265 86h0M1267 86h0M1265 81h0M1268 87h0M1266 85h0" stroke="#8A1EE0" stroke-width="2.60" stroke-linecap="round"/>
<path d="M626.7 46.1C627.3 44.7 629.2 44.5 630.4 44.9C631.6 45.3 633.5 47.1 634 48.5C634.5 49.9 634 52.2 633.4 53.3C632.8 54.4 631.5 55.1 630.4 55.1C629.3 55.1 627.3 54.8 626.7 53.3C626.1 51.8 626.1 47.5 626.7 46.1Z" fill="#E070E0"/>
<path transform="scale(.5)" d="M1257 88h0M1260 90h0M1258 87h0M1254 90h0M1263 93h0M1266 95h0M1263 93h0M1267 95h0M1264 91h0M1268 95h0M1266 103h0M1271 98h0M1267 104h0M1268 96h0M1269 107h0M1264 108h0M1260 111h0M1260 109h0M1265 109h0M1256 107h0M1256 108h0M1260 111h0M1262 108h0M1255 98h0M1255 96h0M1253 104h0M1254 103h0M1253 106h0M1256 93h0M1256 104h0M1254 100h0" stroke="#E070E0" stroke-width="2.60" stroke-linecap="round"/>
<path d="M594.8 66.6C595.4 64 597 59.9 598.4 56.9C599.8 53.9 601.6 50.3 603.3 48.5C604.9 46.7 606.5 45.7 608.1 46.1C609.7 46.5 611.7 48.9 612.9 50.9C614.1 52.9 615.1 55.9 615.3 58.1C615.5 60.3 615.3 62.3 614.1 64.1C612.9 66 609.7 67.7 608.1 69C606.5 70.3 606.7 71.5 604.5 72C602.2 72.5 596.4 72.9 594.8 72C593.2 71.1 594.2 69.1 594.8 66.6Z" fill="#50C8E0"/>
<path transform="scale(.5)" d="M1192 123h0M1197 118h0M1195 123h0M1188 134h0M1196 122h0M1190 122h0M1193 126h0M1197 117h0M1193 120h0M1190 132h0M1193 122h0M1190 124h0M1204 107h0M1198 113h0M1196 113h0M1205 96h0M1203 103h0M1200 106h0M1198 114h0M1199 110h0M1205 101h0M1201 106h0M1206 101h0M1211 95h0M1210 97h0M1208 96h0M1210 97h0M1209 98h0M1216 94h0M1219 97h0M1219 94h0M1218 94h0M1223 103h0M1218 91h0M1214 92h0M1219 92h0M1221 101h0M1227 110h0M1226 104h0M1231 111h0M1228 109h0M1224 104h0M1227 107h0M1225 107h0M1227 103h0M1228 108h0M1230 117h0M1231 120h0M1230 128h0M1226 130h0M1230 117h0M1225 129h0M1227 122h0M1224 134h0M1220 136h0M1217 137h0M1225 130h0M1228 129h0M1220 134h0M1228 127h0M1217 138h0M1218 134h0M1214 141h0M1214 141h0M1216 138h0M1209 141h0M1213 141h0M1198 145h0M1205 141h0M1205 141h0M1204 145h0M1192 143h0M1205 142h0M1193 143h0M1199 144h0M1208 142h0M1191 143h0M1208 144h0M1191 136h0M1187 138h0M1189 141h0M1187 136h0M1188 141h0M1192 142h0" stroke="#50C8E0" stroke-width="2.60" stroke-linecap="round"/>
<path d="M592.7 69.1C593 68.1 592.5 65.7 595.5 65C598.4 64.3 608.5 64.3 610.5 65C612.6 65.7 609.4 68 607.8 69.1C606.2 70.3 603.2 71.5 601 71.8C598.7 72.2 595.5 71.6 594.1 71.2C592.7 70.7 592.5 70.1 592.7 69.1Z" fill="#50C8E0"/>
<path transform="scale(.5)" d="M1193 136h0M1189 135h0M1182 138h0M1188 137h0M1189 138h0M1189 130h0M1195 131h0M1208 129h0M1201 127h0M1195 129h0M1193 131h0M1202 132h0M1207 129h0M1219 131h0M1200 128h0M1197 130h0M1214 132h0M1215 127h0M1219 128h0M1195 128h0M1195 131h0M1196 135h0M1195 128h0M1219 129h0M1220 137h0M1217 135h0M1216 136h0M1217 127h0M1210 138h0M1211 140h0M1210 141h0M1203 144h0M1206 143h0M1216 137h0M1211 136h0M1216 139h0M1200 145h0M1197 141h0M1190 141h0M1192 144h0M1197 143h0M1192 142h0M1193 144h0M1190 145h0M1184 142h0M1184 138h0" stroke="#50C8E0" stroke-width="2.60" stroke-linecap="round"/>
<path d="M605.7 69.0C607.3 67.7 611.5 64.9 614.1 64.1C616.7 63.3 619.3 63.5 621.3 64.1C623.3 64.7 625.3 66.5 626.1 67.8C626.9 69.1 629.8 71.3 626.1 72C622.5 72.7 607.9 72.5 604.5 72C601 71.5 604.1 70.3 605.7 69Z" fill="#86F4CA"/>
<path transform="scale(.5)" d="M1225 134h0M1213 137h0M1230 129h0M1227 133h0M1218 134h0M1211 136h0M1227 126h0M1220 134h0M1216 135h0M1214 135h0M1223 139h0M1238 130h0M1230 130h0M1236 127h0M1235 128h0M1234 128h0M1233 129h0M1240 128h0M1235 126h0M1252 136h0M1248 131h0M1242 129h0M1251 134h0M1242 128h0M1248 137h0M1249 133h0M1255 146h0M1254 131h0M1254 137h0M1252 139h0M1253 135h0M1231 149h0M1212 144h0M1247 141h0M1218 145h0M1239 143h0M1221 143h0M1237 143h0M1232 143h0M1223 146h0M1238 141h0M1214 144h0M1210 145h0M1213 144h0M1211 144h0M1221 142h0M1250 146h0M1245 140h0M1216 146h0M1224 142h0M1233 146h0M1225 147h0M1247 143h0M1246 143h0M1226 143h0M1223 141h0M1213 146h0M1207 146h0M1209 134h0M1209 144h0" stroke="#86F4CA" stroke-width="2.60" stroke-linecap="round"/>
<path d="M597.5 81.4C597.8 79.2 600.6 76.6 602.3 74.6C604 72.5 606.2 70.7 607.8 69.1C609.4 67.5 609.2 65.7 611.9 65C614.7 64.3 621.3 63.9 624.2 65C627.2 66.1 628.6 69.6 629.7 71.8C630.9 74.1 631.6 76.6 631.1 78.7C630.6 80.8 628.8 82.6 627 84.2C625.2 85.8 622.2 86.7 620.1 88.3C618.1 89.9 616.7 92.9 614.7 93.8C612.6 94.7 610.1 94.7 607.8 93.8C605.5 92.9 602.7 90.3 601 88.3C599.2 86.2 597.3 83.7 597.5 81.4Z" fill="#86F4CA"/>
<path transform="scale(.5)" d="M1201 155h0M1192 163h0M1201 151h0M1194 162h0M1201 159h0M1204 150h0M1196 163h0M1198 156h0M1194 161h0M1196 163h0M1209 142h0M1209 144h0M1217 140h0M1211 146h0M1211 139h0M1211 144h0M1210 147h0M1206 147h0M1206 146h0M1218 135h0M1223 135h0M1216 137h0M1220 136h0M1219 134h0M1224 136h0M1231 131h0M1244 126h0M1245 132h0M1227 131h0M1239 131h0M1246 130h0M1245 132h0M1247 127h0M1238 131h0M1235 130h0M1239 128h0M1236 128h0M1246 131h0M1233 131h0M1250 134h0M1248 133h0M1256 138h0M1253 136h0M1253 134h0M1262 142h0M1247 130h0M1251 134h0M1254 136h0M1253 136h0M1264 153h0M1263 152h0M1259 156h0M1262 150h0M1260 155h0M1259 155h0M1259 154h0M1259 151h0M1258 155h0M1254 168h0M1257 165h0M1252 165h0M1259 156h0M1256 164h0M1258 157h0M1260 158h0M1249 173h0M1249 167h0M1242 177h0M1247 172h0M1250 168h0M1247 174h0M1240 176h0M1240 176h0M1250 172h0M1228 186h0M1232 187h0M1235 186h0M1237 181h0M1239 177h0M1230 186h0M1236 182h0M1227 183h0M1234 183h0M1228 189h0M1219 188h0M1225 186h0M1220 187h0M1222 189h0M1221 184h0M1231 190h0M1215 186h0M1201 179h0M1215 190h0M1206 179h0M1205 183h0M1207 186h0M1209 184h0M1212 185h0M1213 193h0M1216 186h0M1211 186h0M1199 173h0M1202 177h0M1198 164h0M1203 175h0M1195 164h0M1201 167h0M1194 167h0M1196 170h0M1199 166h0" stroke="#86F4CA" stroke-width="2.60" stroke-linecap="round"/>
<path d="M628.6 60.5C629.4 58.8 630.8 57.1 632.2 56.3C633.6 55.5 635.6 55 637 55.7C638.4 56.4 640 58.5 640.6 60.5C641.2 62.5 641 65.9 640.6 67.8C640.2 69.7 640.2 71.3 638.2 72C636.2 72.7 630.4 72.9 628.6 72C626.7 71.1 627.3 68.5 627.3 66.6C627.3 64.6 627.8 62.2 628.6 60.5Z" fill="#C08CF0"/>
<path transform="scale(.5)" d="M1262 117h0M1258 118h0M1260 114h0M1257 122h0M1259 119h0M1258 117h0M1265 113h0M1267 116h0M1272 112h0M1269 114h0M1269 114h0M1275 114h0M1279 120h0M1273 115h0M1275 115h0M1279 119h0M1282 122h0M1280 119h0M1284 136h0M1280 124h0M1282 127h0M1283 124h0M1279 121h0M1282 126h0M1279 132h0M1279 133h0M1284 136h0M1279 143h0M1278 143h0M1282 135h0M1277 142h0M1269 145h0M1259 146h0M1263 143h0M1269 142h0M1275 146h0M1278 145h0M1265 146h0M1276 146h0M1256 143h0M1270 143h0M1257 146h0M1257 143h0M1256 144h0M1254 143h0M1257 136h0M1255 136h0M1252 135h0M1254 133h0M1258 125h0M1255 129h0M1256 132h0M1255 122h0M1256 127h0M1252 125h0" stroke="#C08CF0" stroke-width="2.60" stroke-linecap="round"/>
<path d="M628.4 65.0C630 64.1 638.9 64.3 640.7 65C642.5 65.7 640.2 68 639.3 69.1C638.4 70.3 636.6 71.6 635.2 71.8C633.8 72.1 632.2 71.6 631.1 70.5C630 69.3 626.8 65.9 628.4 65Z" fill="#C08CF0"/>
<path transform="scale(.5)" d="M1274 131h0M1259 130h0M1266 131h0M1265 130h0M1278 134h0M1274 128h0M1278 129h0M1273 133h0M1263 132h0M1264 132h0M1281 130h0M1276 128h0M1260 127h0M1270 128h0M1281 132h0M1279 134h0M1279 137h0M1279 139h0M1280 130h0M1276 140h0M1272 141h0M1272 138h0M1276 140h0M1273 140h0M1272 144h0M1269 144h0M1270 144h0M1261 143h0M1261 145h0M1261 130h0M1264 138h0M1261 136h0M1262 136h0M1258 129h0M1260 130h0M1262 136h0" stroke="#C08CF0" stroke-width="2.60" stroke-linecap="round"/>
<path d="M643.0 67.8C643.6 66.1 645.2 62.8 646.6 61.7C648 60.6 650.2 60.5 651.4 61.1C652.7 61.7 653.5 63.5 653.9 65.3C654.3 67.2 655.7 70.9 653.9 72C652 73.1 644.8 72.7 643 72C641.2 71.3 642.4 69.5 643 67.8Z" fill="#2C54C4"/>
<path transform="scale(.5)" d="M1287 129h0M1288 131h0M1293 125h0M1291 129h0M1295 122h0M1288 128h0M1288 135h0M1290 128h0M1299 121h0M1299 121h0M1305 124h0M1298 124h0M1294 120h0M1308 129h0M1304 124h0M1310 127h0M1306 127h0M1308 126h0M1306 143h0M1306 142h0M1309 136h0M1309 136h0M1307 137h0M1309 134h0M1308 135h0M1300 144h0M1288 144h0M1295 145h0M1296 146h0M1302 144h0M1291 143h0M1294 144h0M1298 145h0M1300 145h0M1303 143h0M1285 143h0M1307 145h0M1308 141h0M1286 143h0M1287 143h0M1286 141h0M1286 145h0M1285 139h0" stroke="#2C54C4" stroke-width="2.60" stroke-linecap="round"/>
<path d="M637.9 82.8C638.4 81.2 640.9 79.4 642.1 77.3C643.2 75.3 644.8 72.5 644.8 70.5C644.8 68.4 640.7 65.9 642.1 65C643.4 64.1 651 64.1 653 65C655.1 65.9 653.7 68.9 654.4 70.5C655.1 72.1 657.4 73 657.1 74.6C656.9 76.2 654.4 78 653 80.1C651.6 82.1 650.5 85.5 648.9 86.9C647.3 88.3 645 88.3 643.4 88.3C641.8 88.3 640.2 87.8 639.3 86.9C638.4 86 637.5 84.4 637.9 82.8Z" fill="#2C54C4"/>
<path transform="scale(.5)" d="M1282 154h0M1283 155h0M1280 160h0M1284 155h0M1277 166h0M1277 163h0M1283 158h0M1284 157h0M1286 149h0M1284 151h0M1289 141h0M1285 150h0M1284 152h0M1284 153h0M1287 145h0M1290 142h0M1289 135h0M1285 132h0M1286 137h0M1287 131h0M1282 132h0M1289 138h0M1285 133h0M1287 127h0M1290 131h0M1290 129h0M1305 130h0M1296 131h0M1287 127h0M1305 129h0M1302 127h0M1295 133h0M1285 130h0M1290 132h0M1284 130h0M1295 127h0M1305 138h0M1307 130h0M1309 131h0M1305 134h0M1307 132h0M1310 132h0M1311 141h0M1314 147h0M1311 145h0M1309 145h0M1309 141h0M1311 153h0M1310 161h0M1311 159h0M1311 154h0M1313 149h0M1310 152h0M1309 155h0M1312 153h0M1298 164h0M1301 169h0M1297 172h0M1300 174h0M1300 172h0M1301 169h0M1302 170h0M1298 172h0M1302 166h0M1288 176h0M1292 175h0M1294 174h0M1298 175h0M1297 176h0M1293 176h0M1289 177h0M1278 172h0M1282 175h0M1285 176h0M1281 179h0M1275 166h0M1280 169h0M1279 172h0M1281 173h0M1274 165h0" stroke="#2C54C4" stroke-width="2.60" stroke-linecap="round"/>
<path d="M661.1 65.3C661.7 63.9 663.4 63.1 664.7 62.9C666 62.7 668.1 63.1 668.9 64.1C669.7 65.1 670 67.7 669.5 69C669 70.3 667.3 71.6 665.9 72C664.5 72.4 661.9 72.5 661.1 71.4C660.3 70.3 660.5 66.8 661.1 65.3Z" fill="#E070E8"/>
<path transform="scale(.5)" d="M1328 127h0M1327 125h0M1322 129h0M1331 125h0M1322 130h0M1332 127h0M1334 123h0M1333 128h0M1332 127h0M1328 128h0M1336 133h0M1339 135h0M1341 133h0M1339 129h0M1337 133h0M1339 142h0M1334 144h0M1335 146h0M1338 143h0M1340 142h0M1321 141h0M1331 145h0M1324 143h0M1328 145h0M1327 144h0M1323 135h0M1323 143h0M1320 136h0M1323 133h0M1322 131h0M1323 133h0M1322 139h0" stroke="#E070E8" stroke-width="2.60" stroke-linecap="round"/>
<path d="M660.5 65.0C661.7 64.1 668.2 64.1 669.5 65C670.7 65.9 669.2 69.6 668.1 70.5C666.9 71.4 663.9 71.4 662.6 70.5C661.3 69.6 659.4 65.9 660.5 65Z" fill="#E070E8"/>
<path transform="scale(.5)" d="M1324 130h0M1331 131h0M1322 130h0M1328 132h0M1330 129h0M1332 133h0M1326 130h0M1330 131h0M1328 130h0M1332 131h0M1339 133h0M1337 136h0M1337 139h0M1336 138h0M1336 142h0M1335 138h0M1330 138h0M1328 143h0M1335 144h0M1334 140h0M1334 139h0M1333 144h0M1319 129h0M1324 139h0M1326 141h0M1319 130h0M1328 137h0M1323 133h0M1324 140h0" stroke="#E070E8" stroke-width="2.60" stroke-linecap="round"/>
<path d="M614.7 95.1C614.4 93.4 617.2 90.3 618.8 88.3C620.4 86.2 622.2 84.1 624.2 82.8C626.3 81.6 629.3 80.3 631.1 80.8C632.9 81.2 634.1 83.8 635.2 85.5C636.3 87.3 637 89.5 637.9 91C638.9 92.5 641.1 93.3 640.7 94.5C640.2 95.6 637.3 97.1 635.2 97.9C633.2 98.7 630.9 99.1 628.4 99.2C625.8 99.4 622.4 99.2 620.1 98.6C617.9 97.9 614.9 96.8 614.7 95.1Z" fill="#D42018"/>
<path transform="scale(.5)" d="M1233 183h0M1229 187h0M1229 193h0M1236 179h0M1232 184h0M1231 185h0M1235 186h0M1231 184h0M1236 180h0M1242 173h0M1247 171h0M1240 168h0M1245 168h0M1245 167h0M1245 168h0M1245 166h0M1244 168h0M1242 174h0M1256 163h0M1255 164h0M1261 164h0M1257 162h0M1258 163h0M1259 161h0M1257 162h0M1256 162h0M1264 165h0M1264 167h0M1271 168h0M1269 172h0M1272 164h0M1268 173h0M1264 161h0M1277 185h0M1275 181h0M1274 179h0M1274 179h0M1278 180h0M1273 175h0M1271 173h0M1281 189h0M1281 192h0M1277 184h0M1276 188h0M1279 186h0M1270 197h0M1281 190h0M1272 192h0M1273 195h0M1275 196h0M1275 193h0M1274 193h0M1263 196h0M1266 195h0M1268 200h0M1260 197h0M1261 197h0M1260 196h0M1268 197h0M1271 195h0M1241 196h0M1247 197h0M1251 202h0M1241 197h0M1243 196h0M1243 198h0M1247 198h0M1251 198h0M1241 196h0M1237 196h0M1233 193h0M1231 188h0M1235 196h0M1236 197h0M1237 193h0M1229 195h0" stroke="#D42018" stroke-width="2.60" stroke-linecap="round"/>
<path d="M621.5 103.4C622.2 102 624 100.2 625.6 99.2C627.2 98.3 629.4 97.6 631.1 97.9C632.8 98.1 635.2 99 635.9 100.6C636.6 102.2 636 105.6 635.2 107.5C634.4 109.3 632.9 110.9 631.1 111.6C629.3 112.3 625.8 112.3 624.2 111.6C622.6 110.9 622 108.8 621.5 107.5C621.1 106.1 620.8 104.7 621.5 103.4Z" fill="#EA4818"/>
<path transform="scale(.5)" d="M1245 205h0M1247 201h0M1249 202h0M1253 201h0M1248 201h0M1243 203h0M1254 199h0M1261 198h0M1259 195h0M1255 199h0M1258 197h0M1252 196h0M1270 200h0M1268 201h0M1262 199h0M1266 199h0M1263 195h0M1270 199h0M1272 213h0M1273 211h0M1272 215h0M1271 211h0M1275 205h0M1272 211h0M1270 212h0M1271 203h0M1268 216h0M1263 223h0M1262 221h0M1271 216h0M1263 220h0M1266 217h0M1248 225h0M1257 222h0M1255 223h0M1249 225h0M1260 220h0M1248 223h0M1260 222h0M1255 225h0M1246 219h0M1243 219h0M1248 219h0M1242 218h0M1242 218h0M1245 213h0M1244 213h0M1245 213h0M1242 211h0" stroke="#EA4818" stroke-width="2.60" stroke-linecap="round"/>
<path d="M25.2 149.7V235.1H108.6" fill="none" stroke="#707070" stroke-width="0.75"/>
<text class="k m" x="38.0" y="239.4">-20</text>
<text class="k m" x="52.7" y="239.4">-10</text>
<text class="k m" x="68.5" y="239.4">0</text>
<text class="k m" x="85.6" y="239.4">10</text>
<text class="k m" x="102.0" y="239.4">20</text>
<text class="k e" x="23.6" y="157.1">20</text>
<text class="k e" x="23.6" y="174.1">10</text>
<text class="k e" x="23.6" y="191.1">0</text>
<text class="k e" x="23.6" y="208.1">-10</text>
<text class="k e" x="23.6" y="225.1">-20</text>
<path d="M38.0 235.1v1.2M52.7 235.1v1.2M68.5 235.1v1.2M85.6 235.1v1.2M102.0 235.1v1.2M25.2 156.0h-1.2M25.2 173.0h-1.2M25.2 190.0h-1.2M25.2 207.0h-1.2M25.2 224.0h-1.2" stroke="#6a6a6a" stroke-width="0.5"/>
<text class="k m" x="66.9" y="242.7">tSNE_1</text>
<text class="k m" transform="translate(18.0 192.4) rotate(-90)">tSNE_2</text>
<circle cx="113.7" cy="180.3" r="1.15" fill="#86F4CA"/>
<text class="k" x="117.3" y="181.4">0</text>
<circle cx="113.7" cy="183.9" r="1.15" fill="#46C4CC"/>
<text class="k" x="117.3" y="185.0">1</text>
<circle cx="113.7" cy="187.6" r="1.15" fill="#5012DC"/>
<text class="k" x="117.3" y="188.7">2</text>
<circle cx="113.7" cy="191.2" r="1.15" fill="#CC2068"/>
<text class="k" x="117.3" y="192.3">3</text>
<circle cx="113.7" cy="194.8" r="1.15" fill="#D42222"/>
<text class="k" x="117.3" y="195.9">4</text>
<circle cx="113.7" cy="198.4" r="1.15" fill="#E8461C"/>
<text class="k" x="117.3" y="199.5">5</text>
<circle cx="113.7" cy="202.0" r="1.15" fill="#AE8CF6"/>
<text class="k" x="117.3" y="203.1">6</text>
<circle cx="113.7" cy="205.7" r="1.15" fill="#E46AE8"/>
<text class="k" x="117.3" y="206.8">7</text>
<path transform="scale(.5)" d="M127 348h0M133 340h0M133 341h0M122 353h0M140 343h0M133 333h0M129 322h0M132 309h0M127 351h0M116 337h0M126 311h0M130 318h0M137 341h0M143 332h0M118 340h0M127 317h0M128 305h0M129 311h0M120 333h0M114 351h0M129 328h0M125 329h0M119 329h0M123 326h0M123 341h0M142 330h0M139 323h0M127 342h0M136 339h0M136 327h0M133 335h0M123 328h0M130 343h0M114 355h0M138 337h0M130 324h0M128 308h0M113 352h0M117 319h0M118 347h0M114 355h0M139 338h0M120 349h0M123 322h0M121 329h0M124 343h0M118 308h0M134 347h0M115 329h0M130 325h0M118 331h0M118 319h0M130 330h0M125 329h0M118 334h0M140 344h0M112 350h0M119 351h0M134 325h0M128 320h0M133 314h0M118 335h0M116 340h0M128 312h0M125 344h0M125 332h0M127 336h0M126 348h0M140 334h0M126 316h0M118 322h0M127 333h0M112 355h0M132 345h0M123 313h0M124 330h0M121 330h0M130 325h0M118 321h0M142 318h0M127 335h0M132 331h0M141 320h0M133 341h0M131 336h0M123 316h0M142 326h0M132 324h0M120 343h0M138 337h0M143 328h0M134 347h0M134 343h0M123 344h0M116 319h0M134 335h0M133 333h0M115 339h0M126 320h0M120 358h0M120 336h0M125 341h0M128 331h0M139 334h0M140 342h0M136 340h0M142 329h0M121 335h0M134 311h0M136 336h0M131 342h0M120 308h0M135 315h0M127 317h0M140 335h0M137 330h0M119 311h0M137 332h0M138 319h0M127 308h0M118 308h0M135 317h0M124 333h0M116 351h0M118 350h0M136 327h0M120 321h0M140 332h0M126 335h0M124 339h0M126 321h0M114 314h0M118 342h0M124 331h0M120 334h0M141 318h0M113 358h0M136 330h0M115 351h0M115 320h0M121 344h0M123 352h0M118 344h0M129 305h0M130 317h0M130 318h0M120 314h0M124 335h0M138 336h0M129 338h0M125 334h0M136 330h0M129 350h0M113 348h0M139 329h0M132 330h0M120 330h0M115 338h0M124 345h0M133 338h0M138 322h0M134 309h0M122 343h0M125 345h0" stroke="#5012DC" stroke-width="3.20" stroke-linecap="round"/>
<path transform="scale(.5)" d="M104 338h0M96 336h0M98 331h0M98 334h0M100 338h0M99 328h0M100 342h0M100 337h0M100 334h0M93 331h0M96 337h0M92 331h0M99 342h0M99 342h0M103 338h0M97 335h0M101 328h0M98 335h0M93 338h0M100 333h0M98 339h0M93 335h0M96 342h0M96 340h0M96 339h0M99 327h0M97 342h0" stroke="#E8461C" stroke-width="3.20" stroke-linecap="round"/>
<path transform="scale(.5)" d="M181 336h0M195 359h0M177 334h0M184 358h0M179 325h0M177 356h0M177 339h0M177 339h0M171 350h0M169 342h0M179 361h0M169 345h0M180 344h0M183 357h0M176 361h0M170 342h0M190 356h0M171 353h0M177 351h0M187 362h0M176 348h0M175 340h0M178 344h0M178 353h0M180 346h0M192 368h0M183 343h0M185 361h0M177 342h0M185 346h0M182 328h0M194 359h0M180 330h0M185 347h0M187 363h0M179 347h0M176 340h0M178 336h0M192 363h0M171 350h0M186 354h0M182 344h0M181 332h0M174 342h0M188 356h0M182 340h0M198 361h0M198 356h0M184 354h0M185 344h0M181 328h0M174 356h0M190 362h0M183 365h0M171 352h0M181 337h0M177 331h0M181 336h0M181 362h0M174 354h0M183 359h0M177 346h0M181 366h0M177 364h0M171 347h0M182 349h0M174 352h0M172 354h0M172 347h0M177 327h0M188 350h0M173 333h0M172 342h0M182 342h0M180 335h0M171 341h0M183 367h0M184 362h0M179 323h0M189 362h0M182 357h0M180 335h0M181 329h0M179 328h0M186 348h0M177 323h0M185 346h0M173 340h0M176 345h0M188 356h0M186 346h0M182 335h0M184 351h0M199 358h0M196 355h0M177 340h0M172 343h0" stroke="#46C4CC" stroke-width="3.20" stroke-linecap="round"/>
<path transform="scale(.5)" d="M188 383h0M187 373h0M189 377h0M189 375h0M191 373h0M190 383h0M185 377h0M192 377h0M183 376h0M194 377h0M188 381h0M190 375h0M184 378h0M185 381h0M187 372h0M187 376h0M192 382h0" stroke="#46C4CC" stroke-width="3.20" stroke-linecap="round"/>
<path transform="scale(.5)" d="M209 340h0M209 340h0M207 337h0M208 339h0M208 340h0M206 338h0" stroke="#E46AE8" stroke-width="3.20" stroke-linecap="round"/>
<path transform="scale(.5)" d="M149 351h0M147 355h0M150 352h0M146 347h0M147 348h0M148 346h0M151 349h0M149 353h0M151 350h0M149 351h0M147 350h0M151 351h0M146 351h0M148 354h0M152 347h0M151 345h0" stroke="#AE8CF6" stroke-width="3.20" stroke-linecap="round"/>
<path transform="scale(.5)" d="M67 389h0M84 413h0M80 398h0M67 408h0M78 394h0M76 407h0M69 392h0M69 399h0M77 398h0M76 383h0M77 405h0M80 403h0M73 392h0M84 397h0M66 407h0M71 401h0M82 401h0M70 402h0M81 403h0M76 396h0M74 411h0M69 387h0M59 401h0M68 400h0M83 387h0M76 390h0M67 387h0M82 402h0M77 404h0M82 396h0M87 398h0M81 403h0M81 394h0M70 393h0M82 391h0M62 389h0M75 398h0M75 388h0M70 391h0M64 401h0M78 394h0M72 414h0M87 397h0M71 409h0M72 405h0M79 388h0M88 404h0M70 397h0M68 397h0M76 391h0M71 395h0M76 410h0M64 403h0M88 403h0M71 399h0M84 401h0M77 403h0M68 388h0M77 409h0M71 392h0M68 408h0M69 401h0M69 385h0M77 412h0M81 413h0M77 391h0M76 413h0M87 402h0M76 397h0M77 394h0M66 395h0M86 396h0M86 403h0M79 382h0M83 393h0M82 397h0M77 395h0M73 402h0M66 407h0M61 397h0M86 406h0M78 389h0M72 401h0M62 385h0M72 401h0M72 400h0M82 399h0M76 397h0M84 391h0M79 392h0M77 389h0M82 406h0M68 409h0M87 401h0M75 398h0M75 412h0M80 409h0M68 410h0M72 391h0M88 396h0M79 404h0M77 383h0M82 405h0M70 394h0M65 400h0M65 400h0M77 396h0M78 407h0M74 402h0M71 395h0M72 396h0M73 401h0M65 399h0M81 411h0M89 396h0M78 405h0M67 400h0M84 394h0M64 388h0M64 394h0M80 388h0M80 388h0M74 395h0M81 404h0M82 397h0M80 403h0M70 393h0M81 388h0M78 400h0M75 390h0M81 384h0M81 403h0M71 401h0M70 400h0M62 406h0M65 403h0M73 385h0M78 412h0M69 401h0M80 408h0M71 403h0M76 400h0M69 403h0M84 406h0M71 410h0M77 405h0M66 393h0M81 400h0M71 397h0M79 409h0M74 396h0M65 397h0M77 387h0M88 402h0M70 396h0M65 394h0M77 408h0M70 394h0M76 399h0M72 400h0M80 398h0M82 393h0" stroke="#CC2068" stroke-width="3.20" stroke-linecap="round"/>
<path transform="scale(.5)" d="M102 383h0M100 384h0M101 383h0M103 380h0M96 383h0M100 384h0M97 384h0M97 377h0M107 380h0M93 380h0M104 374h0M105 384h0M99 381h0M102 378h0M107 380h0M96 382h0M98 383h0M105 381h0M104 382h0" stroke="#CC2068" stroke-width="3.20" stroke-linecap="round"/>
<path transform="scale(.5)" d="M151 383h0M160 390h0M161 382h0M148 390h0M154 381h0M144 395h0M159 376h0M173 389h0M156 376h0M155 376h0M157 391h0M145 398h0M149 389h0M161 397h0M157 398h0M150 389h0M156 381h0M164 394h0M147 380h0M157 399h0M149 394h0M142 385h0M164 397h0M172 392h0M150 395h0M157 379h0M162 397h0M170 380h0M145 376h0M154 373h0M170 390h0M168 386h0M151 382h0M160 377h0M169 394h0M160 381h0M170 388h0M148 392h0M146 373h0M153 384h0M152 392h0M162 385h0M157 387h0M149 371h0M166 382h0M148 396h0M153 379h0M143 379h0M146 383h0M157 398h0M150 395h0M156 383h0M157 404h0M152 373h0M169 387h0M150 395h0M157 399h0M154 391h0M170 387h0M147 395h0M148 392h0M152 373h0M161 381h0M156 380h0M164 377h0M169 391h0M148 397h0M164 374h0M149 394h0M164 392h0M161 391h0M154 391h0M150 394h0M161 380h0M154 391h0M155 406h0M153 397h0M167 387h0M147 397h0M147 396h0M151 387h0M166 392h0M149 372h0M147 389h0M160 378h0M152 380h0M149 374h0M149 385h0M161 390h0M170 384h0M146 385h0M148 382h0M170 379h0M162 388h0M143 383h0M161 402h0M163 383h0M150 391h0M160 389h0M165 391h0M159 397h0M155 375h0M148 387h0M152 391h0M149 395h0M152 392h0M156 387h0M163 384h0M145 381h0M162 380h0M144 380h0M159 370h0M162 395h0M157 385h0M148 380h0M155 394h0M150 377h0M156 379h0M169 388h0M169 385h0M154 392h0M157 383h0M160 378h0M149 381h0M164 394h0M146 386h0M155 372h0M172 379h0M159 391h0" stroke="#D42222" stroke-width="3.20" stroke-linecap="round"/>
<path transform="scale(.5)" d="M119 391h0M127 386h0M127 387h0M124 390h0M123 385h0M126 385h0M126 384h0M125 390h0M123 385h0M130 387h0M123 393h0M125 393h0M130 387h0M126 387h0M128 390h0M123 387h0" stroke="#D42222" stroke-width="3.20" stroke-linecap="round"/>
<path transform="scale(.5)" d="M161 428h0M153 413h0M170 455h0M155 439h0M173 442h0M142 431h0M181 433h0M133 429h0M173 428h0M151 422h0M140 430h0M164 455h0M171 433h0M159 434h0M158 438h0M136 429h0M141 413h0M168 431h0M149 425h0M133 444h0M165 446h0M145 453h0M142 448h0M153 425h0M176 431h0M137 428h0M166 433h0M136 442h0M166 430h0M147 428h0M170 434h0M164 434h0M153 421h0M159 420h0M140 436h0M156 461h0M166 421h0M140 435h0M136 451h0M161 462h0M144 456h0M156 437h0M153 420h0M151 431h0M153 414h0M154 415h0M132 437h0M168 455h0M142 439h0M157 442h0M168 429h0M161 452h0M140 422h0M164 454h0M142 446h0M162 456h0M148 428h0M167 457h0M144 439h0M152 429h0M158 441h0M175 432h0M165 442h0M175 441h0M147 455h0M159 438h0M167 442h0M134 427h0M148 426h0M162 420h0M152 453h0M137 447h0M165 424h0M165 445h0M156 441h0M142 419h0M145 440h0M153 426h0M142 454h0M139 429h0M154 460h0M162 449h0M174 419h0M159 435h0M155 450h0M148 422h0M160 462h0M140 445h0M142 429h0M174 453h0M151 437h0M149 448h0M136 442h0M174 433h0M129 435h0M159 443h0M154 437h0M166 440h0M148 457h0M146 433h0M151 415h0M143 430h0M179 430h0M144 453h0M145 451h0M180 430h0M154 428h0M136 442h0M130 424h0M159 460h0M159 418h0M154 456h0M131 418h0M134 444h0M178 446h0M127 434h0M152 436h0M173 435h0M167 434h0M156 418h0M159 448h0M169 430h0M145 445h0M145 430h0M136 431h0M151 449h0M177 447h0M156 455h0M157 420h0M155 449h0M165 420h0M137 420h0M171 454h0M146 420h0M153 422h0M154 446h0M146 432h0M151 427h0M147 447h0M152 418h0M148 442h0M158 432h0M178 431h0M146 430h0M140 432h0M161 458h0M156 443h0M137 451h0M139 423h0M137 427h0M140 448h0M168 416h0M156 449h0M153 435h0M155 418h0M142 441h0M144 443h0M142 432h0M145 434h0M149 426h0M161 445h0M166 427h0M167 453h0M148 456h0M157 413h0M149 427h0M162 426h0M143 433h0M172 455h0M161 421h0M134 443h0M134 441h0M162 462h0M167 425h0M145 418h0M161 461h0M144 444h0M143 439h0M150 428h0M171 423h0M152 422h0M149 456h0M173 456h0M178 425h0M152 422h0M176 442h0M168 446h0M138 440h0M144 436h0M162 447h0M144 448h0M145 448h0M147 451h0M140 424h0M153 452h0M141 452h0M147 445h0M149 435h0M154 447h0M171 430h0M163 439h0M139 451h0M168 444h0M156 424h0M141 432h0M137 431h0M141 445h0M159 454h0M169 453h0M174 454h0M141 434h0M143 426h0M142 441h0M130 438h0M146 425h0M136 421h0M159 415h0M164 452h0M165 421h0M153 459h0M149 451h0M150 433h0M153 418h0M164 458h0M142 450h0M160 439h0M173 438h0M133 424h0M180 448h0M170 433h0M152 430h0M158 434h0M168 449h0M158 437h0M173 424h0M145 439h0M156 454h0M128 421h0M133 432h0M169 453h0M144 435h0M129 430h0M152 418h0M152 433h0M159 453h0M145 457h0M152 437h0M147 414h0M172 433h0M157 426h0M146 424h0M177 429h0M157 440h0M130 416h0M174 437h0M169 446h0M157 450h0M158 446h0M137 427h0" stroke="#86F4CA" stroke-width="3.20" stroke-linecap="round"/>
<path d="M135.2 149.7V235.1H218.6" fill="none" stroke="#707070" stroke-width="0.75"/>
<text class="k m" x="153.0" y="239.4">-10</text>
<text class="k m" x="175.0" y="239.4">0</text>
<text class="k m" x="197.0" y="239.4">10</text>
<text class="k e" x="133.6" y="169.8">10</text>
<text class="k e" x="133.6" y="191.1">0</text>
<text class="k e" x="133.6" y="213.1">-10</text>
<text class="k e" x="133.6" y="234.6">-20</text>
<path d="M153.0 235.1v1.2M175.0 235.1v1.2M197.0 235.1v1.2M135.2 168.7h-1.2M135.2 190.0h-1.2M135.2 212.0h-1.2M135.2 233.5h-1.2" stroke="#6a6a6a" stroke-width="0.5"/>
<text class="k m" x="176.9" y="242.7">tSNE_1</text>
<text class="k m" transform="translate(128.0 192.4) rotate(-90)">tSNE_2</text>
<circle cx="223.7" cy="187.6" r="1.15" fill="#86F4CA"/>
<text class="k" x="227.3" y="188.7">0</text>
<circle cx="223.7" cy="191.2" r="1.15" fill="#5012DC"/>
<text class="k" x="227.3" y="192.3">1</text>
<circle cx="223.7" cy="194.8" r="1.15" fill="#D42222"/>
<text class="k" x="227.3" y="195.9">2</text>
<circle cx="223.7" cy="198.4" r="1.15" fill="#AE8CF6"/>
<text class="k" x="227.3" y="199.5">3</text>
<path transform="scale(.5)" d="M294 310h0M308 330h0M297 319h0M307 336h0M308 337h0M312 334h0M286 310h0M298 316h0M299 334h0M285 317h0M314 318h0M306 311h0M292 319h0M289 316h0M295 318h0M295 322h0M312 321h0M299 305h0M292 310h0M312 338h0M296 313h0M316 335h0M307 321h0M300 321h0M303 323h0M316 321h0M294 326h0M305 334h0M302 322h0M306 333h0M279 318h0M295 306h0M289 321h0M289 319h0M312 331h0M316 340h0M295 307h0M296 327h0M305 312h0M311 331h0M299 338h0M316 331h0M318 331h0M306 323h0M286 328h0M316 333h0M307 330h0M300 308h0M301 326h0M311 335h0M293 321h0M300 317h0M284 321h0M301 318h0M303 323h0M314 341h0M319 327h0M309 342h0M299 314h0M305 318h0M288 314h0M304 341h0M302 308h0M308 314h0M301 323h0M308 324h0M301 321h0M301 321h0M307 331h0M307 320h0M297 335h0M304 330h0M315 337h0M291 307h0M302 312h0M294 320h0M305 341h0M298 319h0M306 318h0M292 317h0M292 310h0M316 332h0M295 322h0M299 312h0M298 325h0M307 311h0M289 312h0M312 317h0M291 323h0M301 310h0M301 334h0M304 314h0M288 317h0M310 313h0M290 322h0M309 314h0M311 324h0M307 314h0M317 323h0M302 311h0M308 331h0M289 311h0" stroke="#D42222" stroke-width="3.00" stroke-linecap="round"/>
<path transform="scale(.5)" d="M310 368h0M304 355h0M344 365h0M339 358h0M320 345h0M336 372h0M346 362h0M310 346h0M345 348h0M342 343h0M345 340h0M371 380h0M309 339h0M340 367h0M311 351h0M317 338h0M354 344h0M364 386h0M323 348h0M308 381h0M336 382h0M342 389h0M308 358h0M318 337h0M336 361h0M308 362h0M323 360h0M329 343h0M342 380h0M341 339h0M347 347h0M312 338h0M309 362h0M339 366h0M326 343h0M318 364h0M327 354h0M328 343h0M309 345h0M331 341h0M365 372h0M364 376h0M350 372h0M366 371h0M366 386h0M300 365h0M343 354h0M306 345h0M302 347h0M318 336h0M340 338h0M339 371h0M313 368h0M327 344h0M307 369h0M355 353h0M292 354h0M316 347h0M343 350h0M308 358h0M300 368h0M315 365h0M338 356h0M364 374h0M344 386h0M336 384h0M298 359h0M298 353h0M340 349h0M334 380h0M298 349h0M313 342h0M324 359h0M349 345h0M291 352h0M316 342h0M304 373h0M349 354h0M354 354h0M342 352h0M322 342h0M322 382h0M343 342h0M312 357h0M355 388h0M301 354h0M319 360h0M298 353h0M300 374h0M351 366h0M357 371h0M332 356h0M343 356h0M296 364h0M323 368h0M365 383h0M336 337h0M327 379h0M320 346h0M310 341h0M325 367h0M316 347h0M311 368h0M328 336h0M329 338h0M341 382h0M308 371h0M344 382h0M336 356h0M312 378h0M353 356h0M324 345h0M322 366h0M320 377h0M320 354h0M320 337h0M367 384h0M348 355h0M318 379h0M313 380h0M340 352h0M321 374h0M338 379h0M333 351h0M314 349h0M299 364h0M304 372h0M319 350h0M301 339h0M347 368h0M343 383h0M344 371h0M311 347h0M300 371h0M306 345h0M313 378h0M332 364h0M306 369h0M308 370h0M338 379h0M313 377h0" stroke="#86F4CA" stroke-width="3.00" stroke-linecap="round"/>
<path transform="scale(.5)" d="M392 395h0M386 431h0M366 436h0M405 418h0M368 421h0M401 415h0M362 421h0M358 425h0M394 394h0M356 422h0M403 397h0M402 420h0M388 427h0M378 426h0M402 406h0M412 400h0M399 411h0M370 402h0M375 399h0M393 421h0M375 398h0M413 419h0M380 428h0M420 426h0M409 414h0M356 430h0M357 412h0M387 418h0M361 405h0M384 423h0M379 406h0M416 424h0M390 420h0M360 427h0M360 419h0M355 398h0M380 432h0M374 418h0M408 413h0M375 411h0M363 429h0M399 416h0M374 428h0M362 421h0M371 398h0M363 434h0M416 425h0M354 400h0M373 403h0M425 409h0M404 425h0M367 436h0M383 427h0M408 430h0M377 394h0M404 411h0M373 392h0M376 431h0M383 401h0M404 427h0M368 435h0M393 424h0M353 404h0M358 408h0M358 426h0M378 431h0M364 404h0M397 408h0M375 390h0M390 411h0M418 413h0M359 423h0M414 430h0M375 428h0M381 409h0M383 404h0M404 410h0M367 412h0M386 396h0M363 420h0M380 424h0M388 392h0M403 400h0M396 411h0M397 399h0M394 418h0M373 413h0M394 418h0M422 412h0M409 432h0M411 422h0M369 403h0M392 429h0M418 411h0M363 407h0M397 406h0M403 416h0M387 394h0M385 405h0M391 413h0M393 431h0M413 426h0M401 406h0M393 426h0M415 408h0M389 409h0M387 398h0M359 416h0M366 437h0M402 420h0M365 410h0M373 424h0M374 401h0M378 421h0M421 417h0M370 426h0M411 409h0M386 396h0M406 415h0M396 425h0M426 421h0M388 425h0M366 431h0M369 422h0M391 428h0M368 399h0M362 412h0M403 423h0M374 434h0M406 404h0M368 401h0M366 438h0M374 413h0M396 394h0M378 417h0M377 422h0M379 420h0M375 425h0M388 414h0M389 393h0M388 408h0M400 419h0M407 399h0M395 403h0M383 418h0M366 393h0M403 408h0M359 432h0M385 432h0M367 403h0M374 415h0M402 409h0M385 421h0M426 419h0M368 401h0M394 398h0M373 390h0M380 430h0M397 410h0M372 399h0M392 428h0M383 414h0M392 431h0M375 419h0M375 427h0M379 391h0M393 396h0M358 431h0M410 406h0M391 405h0M414 425h0M402 411h0M405 426h0M388 422h0M372 425h0M396 405h0M420 427h0M385 431h0M359 434h0M396 405h0M398 409h0M398 400h0M387 403h0" stroke="#5012DC" stroke-width="3.00" stroke-linecap="round"/>
<path transform="scale(.5)" d="M379 457h0M389 462h0M392 453h0M385 454h0M377 456h0M383 451h0M385 462h0M377 449h0M384 448h0M385 450h0M379 450h0M383 451h0M382 460h0M390 454h0M394 454h0M379 458h0M388 450h0M389 461h0M391 452h0M382 455h0M388 455h0M389 458h0M391 456h0M380 462h0M380 462h0M382 449h0M387 453h0M395 451h0M381 459h0M379 456h0M376 460h0M390 458h0" stroke="#AE8CF6" stroke-width="3.20" stroke-linecap="round"/>
<path d="M245.2 148.7V235.1H323.6" fill="none" stroke="#707070" stroke-width="0.75"/>
<text class="k m" x="247.0" y="239.4">-10</text>
<text class="k m" x="266.0" y="239.4">-5</text>
<text class="k m" x="284.0" y="239.4">0</text>
<text class="k m" x="302.0" y="239.4">5</text>
<text class="k m" x="320.0" y="239.4">10</text>
<text class="k e" x="243.6" y="149.8">15</text>
<text class="k e" x="243.6" y="163.9">10</text>
<text class="k e" x="243.6" y="177.7">5</text>
<text class="k e" x="243.6" y="191.8">0</text>
<text class="k e" x="243.6" y="205.7">-5</text>
<text class="k e" x="243.6" y="219.8">-10</text>
<text class="k e" x="243.6" y="233.6">-15</text>
<path d="M247.0 235.1v1.2M266.0 235.1v1.2M284.0 235.1v1.2M302.0 235.1v1.2M320.0 235.1v1.2M245.2 148.7h-1.2M245.2 162.8h-1.2M245.2 176.6h-1.2M245.2 190.7h-1.2M245.2 204.6h-1.2M245.2 218.7h-1.2M245.2 232.5h-1.2" stroke="#6a6a6a" stroke-width="0.5"/>
<text class="k m" x="284.4" y="242.7">tSNE_1</text>
<text class="k m" transform="translate(238.0 191.9) rotate(-90)">tSNE_2</text>
<circle cx="333.7" cy="188.9" r="1.15" fill="#86F4CA"/>
<text class="k" x="337.3" y="190.0">0</text>
<circle cx="333.7" cy="192.5" r="1.15" fill="#BC22A6"/>
<text class="k" x="337.3" y="193.6">1</text>
<circle cx="333.7" cy="196.1" r="1.15" fill="#E8AC44"/>
<text class="k" x="337.3" y="197.2">2</text>
<path transform="scale(.5)" d="M571 372h0M572 370h0M603 369h0M561 310h0M545 317h0M560 337h0M567 356h0M551 369h0M562 365h0M533 381h0M591 379h0M561 356h0M537 352h0M544 372h0M590 330h0M558 380h0M502 331h0M592 345h0M526 369h0M601 381h0M555 330h0M566 375h0M531 322h0M594 346h0M549 312h0M537 362h0M539 351h0M564 372h0M561 310h0M548 375h0M519 368h0M529 364h0M521 344h0M552 321h0M528 372h0M554 321h0M502 360h0M564 369h0M576 363h0M552 318h0M562 362h0M505 347h0M574 357h0M594 335h0M587 321h0M539 386h0M569 337h0M553 341h0M575 332h0M578 347h0M503 347h0M570 357h0M568 336h0M587 332h0M517 361h0M582 331h0M583 382h0M561 338h0M573 313h0M563 312h0M571 369h0M562 362h0M534 335h0M517 344h0M581 369h0M535 336h0M599 361h0M513 347h0M571 361h0M588 351h0M547 355h0M555 324h0M576 386h0M538 354h0M591 353h0M586 328h0M551 365h0M565 359h0M499 358h0M520 341h0M502 360h0M543 348h0M564 357h0M547 325h0M586 353h0M546 383h0M537 343h0M508 345h0M541 349h0M573 354h0M507 358h0M573 364h0M586 389h0M569 381h0M520 350h0M590 370h0M501 332h0M578 324h0M572 345h0M523 345h0M588 327h0M506 357h0M541 354h0M540 355h0M518 326h0M529 359h0M580 343h0M573 357h0M509 357h0M574 340h0M540 354h0M547 313h0M543 358h0M569 315h0M529 373h0M536 342h0M544 363h0M541 324h0M502 335h0M523 328h0M584 378h0M590 350h0M537 327h0M553 360h0M518 324h0M586 356h0M579 333h0M540 363h0M544 364h0M563 342h0M568 383h0M586 389h0M582 315h0M533 359h0M590 334h0M586 363h0M511 340h0M592 343h0M581 385h0M527 361h0M512 366h0M567 328h0M556 351h0M540 353h0M561 378h0M513 351h0M592 360h0M567 337h0M530 369h0M540 369h0M603 356h0M564 338h0M585 382h0M577 333h0M568 367h0" stroke="#86F4CA" stroke-width="3.60" stroke-linecap="round"/>
<path transform="scale(.5)" d="M535 428h0M616 354h0M501 360h0M507 394h0M600 316h0" stroke="#86F4CA" stroke-width="3.60" stroke-linecap="round"/>
<path transform="scale(.5)" d="M529 306h0M528 311h0M519 373h0M516 415h0M566 454h0M570 454h0M625 358h0M649 397h0" stroke="#BC22A6" stroke-width="3.60" stroke-linecap="round"/>
<path transform="scale(.5)" d="M498 358h0M620 360h0" stroke="#E8AC44" stroke-width="3.60" stroke-linecap="round"/>
<path transform="scale(.5)" d="M565 399h0M513 394h0M514 402h0M556 429h0M509 406h0M520 403h0M555 423h0M574 403h0M527 406h0M515 393h0M524 397h0M579 411h0M589 411h0M584 408h0M514 395h0M519 397h0M533 406h0M536 415h0M552 393h0M556 408h0M549 404h0M526 396h0M521 395h0M572 419h0M528 420h0M569 396h0M546 408h0M560 396h0M557 420h0M577 394h0M544 424h0M547 403h0M515 406h0M558 421h0M574 402h0M531 407h0M519 412h0M549 417h0M571 408h0M528 394h0M557 411h0M537 417h0M508 402h0M542 423h0M565 393h0M543 415h0M531 402h0M584 420h0M579 408h0M527 394h0M566 413h0M512 400h0M557 407h0M572 405h0M572 426h0M524 406h0M549 406h0M562 401h0M557 394h0M536 415h0M589 405h0M562 397h0M533 418h0M570 399h0M519 395h0M546 429h0M539 428h0M532 395h0M528 399h0M536 402h0M555 399h0M583 404h0M543 415h0M519 392h0M574 415h0M548 404h0" stroke="#E8AC44" stroke-width="3.60" stroke-linecap="round"/>
<path transform="scale(.5)" d="M634 425h0M601 445h0M594 407h0M605 439h0M622 410h0M615 417h0M594 436h0M586 413h0M619 431h0M608 454h0M612 432h0M619 438h0M608 404h0M603 450h0M604 402h0M588 434h0M583 426h0M607 425h0M615 426h0M641 411h0M612 435h0M606 443h0M611 451h0M610 435h0M606 414h0M596 432h0M609 451h0M598 426h0M634 436h0M620 448h0M607 447h0M619 447h0M595 437h0M628 452h0M605 443h0M639 419h0M609 447h0M595 448h0M594 435h0M631 448h0M617 452h0M605 410h0M598 412h0M611 434h0M622 422h0M637 427h0M602 441h0M619 417h0M630 438h0M598 417h0M634 436h0M629 444h0M625 456h0M628 439h0M606 422h0M632 449h0M634 430h0M593 417h0M613 405h0M601 431h0M630 441h0M606 413h0M585 436h0M601 406h0M628 454h0M607 420h0M619 421h0M596 433h0M628 408h0M627 416h0M594 443h0M586 419h0M614 415h0M621 453h0M623 442h0M601 447h0M623 412h0M602 439h0M619 442h0M589 433h0" stroke="#BC22A6" stroke-width="3.60" stroke-linecap="round"/>
<path d="M369.7 148.7V235.1H451.8" fill="none" stroke="#707070" stroke-width="0.75"/>
<text class="k m" x="375.0" y="239.4">-40</text>
<text class="k m" x="394.0" y="239.4">-20</text>
<text class="k m" x="413.4" y="239.4">0</text>
<text class="k m" x="432.0" y="239.4">20</text>
<text class="k m" x="452.0" y="239.4">40</text>
<text class="k e" x="368.1" y="154.1">40</text>
<text class="k e" x="368.1" y="173.8">20</text>
<text class="k e" x="368.1" y="193.5">0</text>
<text class="k e" x="368.1" y="213.1">-20</text>
<text class="k e" x="368.1" y="233.1">-40</text>
<path d="M375.0 235.1v1.2M394.0 235.1v1.2M413.4 235.1v1.2M432.0 235.1v1.2M452.0 235.1v1.2M369.7 153.0h-1.2M369.7 172.7h-1.2M369.7 192.4h-1.2M369.7 212.0h-1.2M369.7 232.0h-1.2" stroke="#6a6a6a" stroke-width="0.5"/>
<text class="k m" x="410.8" y="242.7">tSNE_1</text>
<text class="k m" transform="translate(362.5 191.9) rotate(-90)">tSNE_2</text>
<circle cx="457.1" cy="172.6" r="1.15" fill="#86F4CA"/>
<text class="k" x="460.7" y="173.7">0</text>
<circle cx="457.1" cy="176.2" r="1.15" fill="#3E94E6"/>
<text class="k" x="460.7" y="177.3">1</text>
<circle cx="457.1" cy="179.8" r="1.15" fill="#3A9CB8"/>
<text class="k" x="460.7" y="180.9">2</text>
<circle cx="457.1" cy="183.4" r="1.15" fill="#5012DC"/>
<text class="k" x="460.7" y="184.5">3</text>
<circle cx="457.1" cy="187.1" r="1.15" fill="#BC22A6"/>
<text class="k" x="460.7" y="188.2">4</text>
<circle cx="457.1" cy="190.7" r="1.15" fill="#CC2068"/>
<text class="k" x="460.7" y="191.8">5</text>
<circle cx="457.1" cy="194.3" r="1.15" fill="#D42222"/>
<text class="k" x="460.7" y="195.4">6</text>
<circle cx="457.1" cy="197.9" r="1.15" fill="#E8461C"/>
<text class="k" x="460.7" y="199.0">7</text>
<circle cx="457.1" cy="201.5" r="1.15" fill="#E8AC44"/>
<text class="k" x="460.7" y="202.6">8</text>
<circle cx="457.1" cy="205.2" r="1.15" fill="#AE8CF6"/>
<text class="k" x="460.7" y="206.3">9</text>
<circle cx="457.1" cy="208.8" r="1.15" fill="#E46AE8"/>
<text class="k" x="460.7" y="209.9">10</text>
<circle cx="457.1" cy="212.4" r="1.15" fill="#C474F0"/>
<text class="k" x="460.7" y="213.5">11</text>
<path d="M396.5 155.2C397.2 154.2 398.8 152.5 400.1 152.2C401.4 151.9 403.3 152.5 404.3 153.4C405.3 154.3 405.4 156.3 406.1 157.6C406.8 158.9 408 160 408.6 161.3C409.2 162.5 410.2 164.3 409.8 164.9C409.4 165.5 407.4 165.1 406.1 164.9C404.8 164.7 403.3 164.3 401.9 163.7C400.5 163.1 398.7 162.2 397.7 161.3C396.7 160.3 396.1 159.2 395.9 158.2C395.7 157.2 395.8 156.2 396.5 155.2Z" fill="#D82018"/>
<path transform="scale(.5)" d="M799 305h0M796 305h0M795 311h0M797 306h0M798 305h0M803 307h0M801 308h0M808 309h0M803 305h0M804 307h0M812 308h0M810 311h0M809 312h0M813 308h0M809 311h0M814 321h0M815 323h0M813 320h0M817 322h0M815 320h0M819 328h0M821 325h0M817 327h0M818 323h0M814 328h0M814 330h0M815 329h0M815 326h0M805 327h0M805 326h0M808 329h0M805 327h0M802 326h0M799 326h0M798 323h0M799 327h0M795 325h0M797 325h0M792 319h0M788 317h0M795 319h0M792 316h0M791 309h0M791 310h0M793 310h0" stroke="#D82018" stroke-width="2.60" stroke-linecap="round"/>
<path d="M411.0 163.7C411.5 162.6 413.5 161.5 414.6 160C415.7 158.6 416.7 156.2 417.6 155.2C418.5 154.2 419.3 153.4 420 154C420.7 154.6 422.1 157.6 421.8 158.8C421.5 160 419.4 160.2 418.2 161.3C417 162.3 415.7 164 414.6 164.9C413.5 165.8 412.2 166.9 411.6 166.7C411 166.5 410.5 164.8 411 163.7Z" fill="#C080F0"/>
<path transform="scale(.5)" d="M821 327h0M826 325h0M824 327h0M825 323h0M827 320h0M828 322h0M835 313h0M836 315h0M836 310h0M832 314h0M836 314h0M829 322h0M837 310h0M838 310h0M835 310h0M842 312h0M840 317h0M847 319h0M843 312h0M841 317h0M841 310h0M837 318h0M836 318h0M840 318h0M838 318h0M838 322h0M836 324h0M827 331h0M828 331h0M831 330h0M837 326h0M838 321h0M828 330h0M826 331h0M828 329h0M828 333h0M822 326h0M821 329h0M824 330h0" stroke="#C080F0" stroke-width="2.60" stroke-linecap="round"/>
<path d="M398.3 170.9C398.8 169.5 400 169.1 401.3 168.5C402.6 167.9 404.7 167.7 406.1 167.3C407.6 166.9 408.9 165.9 409.8 166.1C410.7 166.3 411.8 167.5 411.6 168.5C411.4 169.5 409.7 171 408.6 172.1C407.4 173.2 406.1 174.2 404.9 175.1C403.7 176 402.4 177.2 401.3 177.5C400.2 177.8 398.8 178 398.3 176.9C397.8 175.8 397.8 172.3 398.3 170.9Z" fill="#EA4818"/>
<path transform="scale(.5)" d="M799 339h0M801 339h0M801 338h0M795 341h0M811 334h0M807 336h0M808 335h0M802 335h0M810 332h0M820 331h0M815 336h0M816 333h0M812 337h0M820 332h0M820 336h0M825 335h0M819 342h0M820 338h0M821 341h0M819 343h0M823 340h0M816 346h0M815 348h0M818 346h0M808 350h0M815 346h0M806 353h0M804 353h0M803 352h0M808 354h0M808 354h0M796 355h0M801 352h0M796 353h0M796 346h0M796 347h0M798 353h0M793 347h0M796 348h0M798 352h0M796 346h0" stroke="#EA4818" stroke-width="2.60" stroke-linecap="round"/>
<path d="M374.2 180.5C375 179.1 376.7 178.5 378.4 178.1C380.1 177.7 382.9 177.5 384.5 178.1C386.1 178.7 387.6 180.1 388.1 181.7C388.6 183.3 388.3 186.2 387.5 187.8C386.7 189.4 385 190.8 383.3 191.4C381.5 192 378.8 192.2 377.2 191.4C375.6 190.6 374.1 188.4 373.6 186.6C373.1 184.7 373.4 181.9 374.2 180.5Z" fill="#3A12DC"/>
<path transform="scale(.5)" d="M752 356h0M752 363h0M757 357h0M750 362h0M758 358h0M763 359h0M768 357h0M765 358h0M762 356h0M766 351h0M759 355h0M755 357h0M776 363h0M766 358h0M772 360h0M774 361h0M774 360h0M774 360h0M775 367h0M776 367h0M777 369h0M775 374h0M777 367h0M776 364h0M779 369h0M770 376h0M772 378h0M776 377h0M775 380h0M772 378h0M773 376h0M765 383h0M757 382h0M759 383h0M755 384h0M756 383h0M754 383h0M761 385h0M753 382h0M753 381h0M752 382h0M748 378h0M755 383h0M751 381h0M752 383h0M748 374h0M750 366h0M747 370h0M749 361h0M746 371h0M749 366h0M749 362h0" stroke="#3A12DC" stroke-width="2.60" stroke-linecap="round"/>
<path d="M373.4 185.0C375.8 184.5 385.5 184.4 387.8 185C390.1 185.6 388 187.4 387.1 188.4C386.2 189.5 384.3 190.8 382.3 191.2C380.4 191.5 377 191.1 375.5 190.5C374 189.9 373.8 188.7 373.4 187.7C373.1 186.8 371 185.5 373.4 185Z" fill="#3A12DC"/>
<path transform="scale(.5)" d="M747 367h0M769 371h0M762 371h0M770 370h0M753 370h0M757 371h0M767 370h0M750 374h0M757 371h0M746 369h0M770 369h0M767 372h0M753 368h0M757 372h0M750 372h0M764 369h0M764 370h0M773 376h0M770 372h0M773 376h0M776 374h0M762 382h0M770 378h0M768 380h0M770 381h0M770 379h0M771 377h0M763 380h0M759 378h0M764 386h0M758 384h0M753 381h0M755 383h0M750 383h0M760 379h0M751 378h0M750 382h0M750 382h0M750 379h0M747 372h0M747 377h0M746 375h0" stroke="#3A12DC" stroke-width="2.60" stroke-linecap="round"/>
<path d="M418.2 174.5C419 172.7 421 170.8 423 169.7C425 168.6 427.8 167.9 430.2 167.9C432.7 167.9 435.7 168.6 437.5 169.7C439.3 170.8 440.3 173.1 441.1 174.5C441.9 175.9 441.5 177.1 442.3 178.1C443.1 179.1 445.1 179.1 445.9 180.5C446.7 181.9 447.5 184.6 447.1 186.6C446.7 188.5 447.1 191.1 443.5 192C439.9 192.9 429.2 192.9 425.4 192C421.6 191.1 421.8 188.5 420.6 186.6C419.4 184.6 418.6 182.5 418.2 180.5C417.8 178.5 417.4 176.3 418.2 174.5Z" fill="#86F4CA"/>
<path transform="scale(.5)" d="M840 344h0M840 345h0M843 344h0M844 348h0M844 342h0M847 341h0M843 344h0M845 336h0M860 339h0M860 335h0M850 339h0M847 337h0M850 338h0M850 337h0M856 337h0M850 337h0M871 339h0M874 342h0M874 343h0M873 339h0M857 335h0M873 338h0M860 334h0M864 336h0M881 347h0M879 349h0M883 344h0M881 348h0M880 346h0M872 338h0M882 350h0M886 356h0M883 358h0M886 353h0M886 353h0M890 360h0M891 360h0M886 355h0M892 360h0M888 363h0M891 370h0M891 365h0M893 363h0M893 370h0M895 366h0M896 371h0M894 367h0M893 374h0M885 382h0M890 383h0M890 376h0M893 378h0M890 380h0M890 380h0M869 383h0M883 382h0M867 386h0M886 382h0M884 387h0M880 384h0M885 384h0M880 384h0M858 385h0M853 385h0M879 386h0M853 384h0M858 386h0M884 385h0M857 384h0M874 383h0M862 380h0M870 384h0M884 384h0M858 383h0M858 385h0M848 378h0M844 379h0M846 379h0M846 381h0M844 372h0M844 372h0M848 383h0M851 381h0M836 364h0M841 369h0M837 364h0M838 366h0M840 370h0M841 370h0M841 372h0M838 359h0M835 355h0M836 359h0M838 351h0M833 361h0M837 352h0M839 354h0" stroke="#86F4CA" stroke-width="2.60" stroke-linecap="round"/>
<path d="M420.7 187.7C421.1 186.4 420.5 185.5 424.8 185C429.1 184.5 442.8 184.3 446.7 185C450.6 185.7 448.5 187.7 448.1 189.1C447.6 190.5 446 192.2 444 193.2C441.9 194.2 438.5 194.8 435.8 195.3C433 195.7 429.8 196.3 427.5 196C425.3 195.6 423.2 194.6 422.1 193.2C420.9 191.8 420.2 189.1 420.7 187.7Z" fill="#86F4CA"/>
<path transform="scale(.5)" d="M843 377h0M848 375h0M848 367h0M845 371h0M842 374h0M873 370h0M850 374h0M852 372h0M891 369h0M877 376h0M882 368h0M892 371h0M891 369h0M894 372h0M857 369h0M868 373h0M888 373h0M857 370h0M866 371h0M890 370h0M873 373h0M875 371h0M868 371h0M863 369h0M891 370h0M888 373h0M854 368h0M870 373h0M858 373h0M859 371h0M883 371h0M895 375h0M892 373h0M895 370h0M895 374h0M894 377h0M889 387h0M897 381h0M886 385h0M894 378h0M893 382h0M891 381h0M873 391h0M883 387h0M874 388h0M885 387h0M877 390h0M884 390h0M880 389h0M875 389h0M884 387h0M879 388h0M855 392h0M858 393h0M866 392h0M856 391h0M860 391h0M859 390h0M855 391h0M859 392h0M859 390h0M855 391h0M855 387h0M854 392h0M852 388h0M853 391h0M846 388h0M854 392h0M845 382h0M843 382h0M842 378h0M847 383h0M841 379h0M842 382h0" stroke="#86F4CA" stroke-width="2.60" stroke-linecap="round"/>
<path transform="scale(.5)" d="M827 352h0M822 353h0M826 362h0M827 366h0M830 352h0M822 357h0M827 353h0M831 368h0M827 360h0M822 356h0M837 357h0M824 363h0M826 362h0M826 352h0M833 361h0M827 349h0M826 366h0M827 356h0M833 363h0M830 353h0M829 355h0M836 356h0M823 351h0M823 352h0M824 364h0M831 352h0M825 354h0M826 366h0M833 352h0M832 364h0M827 363h0M831 355h0M831 366h0M835 358h0M829 366h0M837 361h0M823 357h0M824 351h0M832 359h0M833 356h0M834 364h0M827 362h0M823 352h0M827 353h0M831 355h0M823 359h0M822 352h0M825 355h0M825 355h0M829 353h0M822 358h0M829 352h0M826 359h0" stroke="#E070E8" stroke-width="3.20" stroke-linecap="round"/>
<path d="M398.1 187.7C398.4 186.6 400 185.9 401.5 185.7C403 185.5 405.5 185.6 407 186.4C408.5 187.2 410 189.1 410.4 190.5C410.9 191.8 410.8 193.8 409.7 194.6C408.7 195.4 406 195.6 404.2 195.3C402.5 194.9 400.5 193.8 399.5 192.5C398.4 191.3 397.7 188.9 398.1 187.7Z" fill="#E8B050"/>
<path transform="scale(.5)" d="M801 374h0M800 375h0M801 374h0M801 372h0M813 371h0M806 374h0M805 375h0M810 372h0M818 371h0M810 371h0M817 375h0M823 378h0M815 373h0M818 379h0M817 371h0M815 377h0M821 385h0M821 386h0M819 383h0M822 389h0M815 390h0M816 390h0M812 387h0M819 391h0M817 390h0M808 390h0M809 387h0M804 386h0M806 387h0M801 388h0M801 387h0M807 390h0M795 382h0M799 376h0M797 377h0M798 377h0M795 380h0" stroke="#E8B050" stroke-width="2.60" stroke-linecap="round"/>
<path d="M411.8 189.8C412.1 188.8 413.9 187.5 415.2 187.1C416.5 186.6 418.3 186.5 419.3 187.1C420.3 187.6 421.6 189.5 421.4 190.5C421.1 191.5 419.3 192.8 417.9 193.2C416.6 193.7 414.2 193.8 413.2 193.2C412.1 192.6 411.4 190.8 411.8 189.8Z" fill="#E850C0"/>
<path transform="scale(.5)" d="M835 376h0M829 381h0M824 380h0M825 377h0M825 375h0M834 371h0M832 373h0M836 372h0M833 374h0M839 376h0M844 380h0M841 375h0M842 376h0M841 380h0M834 382h0M842 378h0M840 380h0M838 386h0M829 387h0M826 386h0M824 387h0M827 387h0M834 388h0M826 385h0M827 383h0M826 383h0M824 387h0" stroke="#E850C0" stroke-width="2.60" stroke-linecap="round"/>
<path d="M394.0 202.8C394.2 200.8 394.5 198.4 396 197.3C397.5 196.3 400.6 196.9 402.9 196.6C405.2 196.4 408.2 195.4 409.7 196C411.2 196.5 411.8 198.2 411.8 200.1C411.8 201.9 411 205.3 409.7 206.9C408.5 208.5 406.1 208.7 404.2 209.7C402.4 210.6 400.4 212.4 398.8 212.4C397.2 212.4 395.5 211.3 394.7 209.7C393.9 208.1 393.7 204.9 394 202.8Z" fill="#3A98B8"/>
<path transform="scale(.5)" d="M790 407h0M791 398h0M792 401h0M791 402h0M790 400h0M795 394h0M789 400h0M793 399h0M801 394h0M795 395h0M801 397h0M801 396h0M803 393h0M798 396h0M800 397h0M819 397h0M811 392h0M810 393h0M816 395h0M817 395h0M813 392h0M802 395h0M810 393h0M820 393h0M821 389h0M820 392h0M823 395h0M823 392h0M821 405h0M822 405h0M822 404h0M820 412h0M824 404h0M822 409h0M822 402h0M821 412h0M815 418h0M812 416h0M811 415h0M810 420h0M815 416h0M809 418h0M817 417h0M803 419h0M801 424h0M805 423h0M801 423h0M800 419h0M802 422h0M807 426h0M790 420h0M794 419h0M795 423h0M796 425h0M796 424h0M790 411h0M786 418h0M791 418h0M790 417h0M792 411h0M791 417h0M787 415h0M784 416h0" stroke="#3A98B8" stroke-width="2.60" stroke-linecap="round"/>
<path d="M411.1 200.1C411.8 198.2 412 198 413.8 197.3C415.7 196.6 419.8 196 422.1 196C424.3 196 426.4 195.7 427.5 197.3C428.7 198.9 428.9 202.6 428.9 205.5C428.9 208.5 428.4 212.6 427.5 215.1C426.6 217.6 425 219.9 423.4 220.6C421.8 221.3 419.8 220.2 417.9 219.2C416.1 218.3 413.8 217 412.5 215.1C411.1 213.3 410 210.8 409.7 208.3C409.5 205.8 410.4 201.9 411.1 200.1Z" fill="#4A9AE4"/>
<path transform="scale(.5)" d="M830 392h0M824 399h0M825 394h0M825 396h0M839 390h0M838 393h0M835 395h0M828 393h0M842 394h0M833 393h0M833 391h0M841 394h0M835 394h0M849 397h0M847 389h0M848 390h0M854 394h0M855 393h0M845 391h0M858 402h0M855 395h0M856 411h0M859 395h0M859 408h0M857 408h0M857 395h0M856 402h0M853 404h0M855 421h0M857 417h0M856 417h0M857 423h0M855 431h0M859 417h0M854 429h0M856 421h0M857 415h0M857 414h0M852 429h0M850 433h0M849 442h0M852 433h0M850 439h0M850 439h0M850 436h0M849 440h0M850 432h0M842 441h0M842 439h0M844 443h0M845 443h0M833 442h0M845 440h0M826 430h0M830 435h0M827 432h0M834 440h0M825 428h0M828 430h0M835 437h0M831 437h0M822 424h0M824 426h0M827 423h0M820 419h0M819 420h0M826 428h0M820 415h0M821 422h0M824 401h0M821 404h0M820 408h0M823 400h0M821 405h0M821 402h0M824 408h0M820 414h0M818 413h0" stroke="#4A9AE4" stroke-width="2.60" stroke-linecap="round"/>
<path d="M390.5 224.7C390.9 223.6 391.7 221.3 393.3 220.6C394.9 219.9 398.1 220.2 400.1 220.6C402.2 221.1 404 223.1 405.6 223.4C407.2 223.6 408.6 221.5 409.7 222C410.9 222.4 412.7 225 412.5 226.1C412.2 227.2 410.2 228.6 408.4 228.8C406.5 229.1 403.6 227.5 401.5 227.5C399.5 227.5 397.7 228.8 396 228.8C394.3 228.8 392.1 228.2 391.2 227.5C390.3 226.8 390.2 225.9 390.5 224.7Z" fill="#CC2050"/>
<path transform="scale(.5)" d="M784 446h0M784 445h0M781 445h0M784 444h0M784 444h0M792 438h0M795 441h0M797 441h0M791 441h0M800 440h0M793 441h0M801 442h0M799 442h0M807 443h0M812 445h0M808 448h0M806 441h0M810 445h0M803 441h0M809 448h0M817 445h0M810 447h0M817 444h0M812 445h0M817 445h0M819 448h0M820 450h0M826 452h0M819 445h0M820 446h0M817 453h0M820 455h0M819 453h0M824 454h0M817 458h0M812 457h0M805 456h0M812 459h0M816 458h0M803 455h0M809 456h0M805 452h0M808 453h0M793 455h0M795 458h0M797 458h0M799 457h0M796 459h0M798 457h0M783 452h0M789 457h0M782 457h0M789 456h0M789 457h0M778 456h0M783 453h0M782 448h0" stroke="#CC2050" stroke-width="2.60" stroke-linecap="round"/>
<path d="M411.1 226.1C411.3 224.3 413.8 221.8 415.2 220.6C416.6 219.5 418.2 219 419.3 219.2C420.5 219.5 421.6 220.4 422.1 222C422.5 223.6 422.5 227.2 422.1 228.8C421.6 230.4 420.7 231.1 419.3 231.6C417.9 232 415.2 232.5 413.8 231.6C412.5 230.7 410.9 227.9 411.1 226.1Z" fill="#C020A0"/>
<path transform="scale(.5)" d="M829 447h0M826 445h0M828 448h0M828 446h0M828 446h0M826 449h0M829 442h0M826 449h0M838 434h0M842 438h0M839 439h0M836 438h0M830 441h0M841 439h0M841 443h0M840 439h0M843 443h0M842 448h0M842 450h0M843 451h0M844 454h0M843 454h0M848 457h0M847 456h0M842 451h0M841 461h0M839 463h0M840 464h0M840 463h0M829 463h0M836 461h0M832 466h0M837 464h0M829 462h0M834 464h0M827 460h0M823 455h0M824 458h0M825 460h0M825 452h0M825 461h0M825 460h0" stroke="#C020A0" stroke-width="2.60" stroke-linecap="round"/>
<path d="M423.4 222.0C424.1 221.1 425.9 220.8 427.5 220.6C429.1 220.4 431.6 220 433 220.6C434.4 221.2 435.5 222.9 435.8 224C436 225.2 435.8 226.9 434.4 227.5C433 228 429.4 227.7 427.5 227.5C425.7 227.2 424.1 227 423.4 226.1C422.7 225.2 422.7 222.9 423.4 222Z" fill="#C42080"/>
<path transform="scale(.5)" d="M846 445h0M854 440h0M855 442h0M858 444h0M849 440h0M861 442h0M861 442h0M865 443h0M861 443h0M865 438h0M857 441h0M872 445h0M871 440h0M870 445h0M868 444h0M869 441h0M870 453h0M872 448h0M872 453h0M871 453h0M858 456h0M867 455h0M862 458h0M856 455h0M867 457h0M857 454h0M860 454h0M866 455h0M849 450h0M849 455h0M853 456h0M850 454h0M847 454h0M850 453h0M848 451h0M843 449h0M850 445h0" stroke="#C42080" stroke-width="2.60" stroke-linecap="round"/>
<path d="M479.7 148.7V235.1H560.0" fill="none" stroke="#707070" stroke-width="0.75"/>
<text class="k m" x="492.0" y="239.4">-20</text>
<text class="k m" x="513.0" y="239.4">0</text>
<text class="k m" x="534.0" y="239.4">20</text>
<text class="k m" x="555.0" y="239.4">40</text>
<text class="k e" x="478.1" y="154.1">40</text>
<text class="k e" x="478.1" y="175.1">20</text>
<text class="k e" x="478.1" y="196.1">0</text>
<text class="k e" x="478.1" y="217.5">-20</text>
<path d="M492.0 235.1v1.2M513.0 235.1v1.2M534.0 235.1v1.2M555.0 235.1v1.2M479.7 153.0h-1.2M479.7 174.0h-1.2M479.7 195.0h-1.2M479.7 216.4h-1.2" stroke="#6a6a6a" stroke-width="0.5"/>
<text class="k m" x="519.9" y="242.7">tSNE_1</text>
<text class="k m" transform="translate(472.5 191.9) rotate(-90)">tSNE_2</text>
<circle cx="567.2" cy="172.6" r="1.15" fill="#86F4CA"/>
<text class="k" x="570.8" y="173.7">0</text>
<circle cx="567.2" cy="176.2" r="1.15" fill="#3E94E6"/>
<text class="k" x="570.8" y="177.3">1</text>
<circle cx="567.2" cy="179.8" r="1.15" fill="#3A9CB8"/>
<text class="k" x="570.8" y="180.9">2</text>
<circle cx="567.2" cy="183.4" r="1.15" fill="#5012DC"/>
<text class="k" x="570.8" y="184.5">3</text>
<circle cx="567.2" cy="187.1" r="1.15" fill="#BC22A6"/>
<text class="k" x="570.8" y="188.2">4</text>
<circle cx="567.2" cy="190.7" r="1.15" fill="#CC2068"/>
<text class="k" x="570.8" y="191.8">5</text>
<circle cx="567.2" cy="194.3" r="1.15" fill="#D42222"/>
<text class="k" x="570.8" y="195.4">6</text>
<circle cx="567.2" cy="197.9" r="1.15" fill="#E8461C"/>
<text class="k" x="570.8" y="199.0">7</text>
<circle cx="567.2" cy="201.5" r="1.15" fill="#E8AC44"/>
<text class="k" x="570.8" y="202.6">8</text>
<circle cx="567.2" cy="205.2" r="1.15" fill="#AE8CF6"/>
<text class="k" x="570.8" y="206.3">9</text>
<circle cx="567.2" cy="208.8" r="1.15" fill="#E46AE8"/>
<text class="k" x="570.8" y="209.9">10</text>
<circle cx="567.2" cy="212.4" r="1.15" fill="#C474F0"/>
<text class="k" x="570.8" y="213.5">11</text>
<path d="M502.3 156.4C502.3 155.5 504.2 154.6 505.3 154C506.4 153.4 507.6 153 508.9 152.8C510.2 152.6 512.6 152.4 513.1 152.8C513.6 153.2 512 154 511.9 155.2C511.8 156.4 512.6 158.7 512.5 160C512.4 161.4 512.1 162.7 511.3 163.1C510.5 163.5 508.7 163.1 507.7 162.5C506.7 161.9 506.2 160.4 505.3 159.4C504.4 158.4 502.3 157.3 502.3 156.4Z" fill="#EA4818"/>
<path transform="scale(.5)" d="M1010 309h0M1008 310h0M1008 314h0M1007 310h0M1014 306h0M1010 310h0M1012 310h0M1018 307h0M1027 306h0M1025 308h0M1023 303h0M1023 305h0M1021 304h0M1024 310h0M1027 306h0M1024 311h0M1023 314h0M1025 316h0M1025 310h0M1026 311h0M1029 313h0M1026 323h0M1023 325h0M1023 320h0M1020 326h0M1021 325h0M1018 327h0M1026 327h0M1013 321h0M1012 318h0M1012 324h0M1018 326h0M1005 316h0M1011 320h0M1010 318h0M1011 319h0M1005 316h0" stroke="#EA4818" stroke-width="2.60" stroke-linecap="round"/>
<path d="M506.5 169.7C507 168.7 508.6 166.6 509.5 165.5C510.4 164.4 511.1 163 511.9 163.1C512.7 163.2 513.9 165 514.3 166.1C514.7 167.2 513.7 168.7 514.3 169.7C514.9 170.7 517.7 171.5 518 172.1C518.3 172.7 517.1 173.4 516.1 173.3C515.1 173.2 513.1 171.7 511.9 171.5C510.7 171.3 509.8 172.1 508.9 172.1C508 172.1 506.9 171.9 506.5 171.5C506.1 171.1 506 170.7 506.5 169.7Z" fill="#E8B050"/>
<path transform="scale(.5)" d="M1017 331h0M1015 334h0M1019 331h0M1016 333h0M1018 334h0M1016 337h0M1017 331h0M1020 329h0M1023 326h0M1017 326h0M1027 329h0M1026 326h0M1027 331h0M1026 331h0M1027 336h0M1029 340h0M1027 336h0M1030 332h0M1029 341h0M1029 339h0M1034 340h0M1031 341h0M1031 341h0M1034 347h0M1034 346h0M1029 347h0M1026 346h0M1032 345h0M1033 345h0M1030 346h0M1021 342h0M1019 346h0M1021 346h0M1015 340h0M1016 346h0M1013 338h0M1015 342h0" stroke="#E8B050" stroke-width="2.60" stroke-linecap="round"/>
<path d="M517.3 175.7C517.8 174.7 519.6 173.3 521 173.3C522.4 173.3 524.4 174.9 525.8 175.7C527.2 176.5 528.2 177.3 529.4 178.1C530.6 178.9 532.2 179.7 533 180.5C533.8 181.3 534.6 182.1 534.2 182.9C533.8 183.7 531.6 184.3 530.6 185.3C529.6 186.4 529.6 188.4 528.2 189C526.8 189.6 523.8 189.4 522.2 189C520.6 188.6 518.8 187.6 518.6 186.6C518.4 185.6 521 184.1 521 182.9C521 181.7 519.2 180.5 518.6 179.3C518 178.1 516.9 176.7 517.3 175.7Z" fill="#3A98B8"/>
<path transform="scale(.5)" d="M1035 348h0M1037 352h0M1041 349h0M1036 349h0M1043 349h0M1053 349h0M1043 345h0M1050 351h0M1047 350h0M1043 349h0M1041 347h0M1056 354h0M1058 353h0M1056 356h0M1056 355h0M1057 357h0M1065 360h0M1066 360h0M1058 357h0M1063 355h0M1061 361h0M1065 364h0M1068 362h0M1067 362h0M1062 373h0M1064 365h0M1067 368h0M1063 369h0M1063 367h0M1060 373h0M1059 377h0M1059 371h0M1062 373h0M1057 372h0M1054 379h0M1050 380h0M1045 379h0M1044 377h0M1048 379h0M1053 379h0M1049 378h0M1036 375h0M1037 375h0M1037 378h0M1038 370h0M1038 374h0M1042 365h0M1038 373h0M1038 373h0M1040 372h0M1041 372h0M1042 367h0M1040 364h0M1036 363h0M1042 361h0M1036 366h0M1036 351h0M1036 357h0M1033 354h0M1034 356h0" stroke="#3A98B8" stroke-width="2.60" stroke-linecap="round"/>
<path d="M502.3 180.5C502.2 179.7 504.2 178.7 505.3 178.7C506.4 178.7 508.2 179.7 508.9 180.5C509.6 181.3 510 183 509.5 183.5C509 184 507.1 184 505.9 183.5C504.7 183 502.4 181.3 502.3 180.5Z" fill="#3A98B8"/>
<path transform="scale(.5)" d="M1010 356h0M1009 358h0M1009 356h0M1008 361h0M1016 360h0M1017 359h0M1012 362h0M1012 360h0M1020 362h0M1020 359h0M1018 363h0M1012 365h0M1011 367h0M1018 366h0M1012 368h0M1008 361h0M1005 362h0M1006 364h0M1011 366h0M1008 363h0" stroke="#3A98B8" stroke-width="2.60" stroke-linecap="round"/>
<path d="M518.4 185.0C520 184.4 528.9 184.5 530.7 185C532.5 185.5 530.9 187.2 529.3 187.7C527.7 188.3 522.9 188.9 521.1 188.4C519.3 188 516.8 185.6 518.4 185Z" fill="#3A98B8"/>
<path transform="scale(.5)" d="M1055 375h0M1042 373h0M1046 370h0M1042 369h0M1055 369h0M1060 369h0M1049 370h0M1049 371h0M1056 371h0M1052 369h0M1042 366h0M1040 372h0M1045 369h0M1036 371h0M1063 370h0M1061 370h0M1059 371h0M1053 374h0M1049 376h0M1048 374h0M1055 375h0M1047 375h0M1049 375h0M1043 378h0M1047 377h0M1047 376h0M1036 375h0M1036 372h0M1038 371h0M1037 375h0M1037 373h0" stroke="#3A98B8" stroke-width="2.60" stroke-linecap="round"/>
<path transform="scale(.5)" d="M1069 350h0M1068 350h0M1068 354h0M1069 350h0M1065 356h0M1068 356h0M1072 352h0M1070 352h0M1065 356h0M1069 355h0M1069 355h0" stroke="#E850C8" stroke-width="3.20" stroke-linecap="round"/>
<path d="M484.8 185.3C485.8 183.6 487.6 182.6 489.6 181.7C491.6 180.8 494.7 179.9 496.9 179.9C499.1 179.9 501.1 180.6 502.9 181.7C504.7 182.8 507.1 184.8 507.7 186.6C508.3 188.3 510.5 191.1 506.5 192C502.5 192.9 487.2 193.1 483.6 192C480 190.9 483.8 187.1 484.8 185.3Z" fill="#4A9AE4"/>
<path transform="scale(.5)" d="M977 367h0M975 366h0M972 368h0M980 366h0M972 369h0M974 366h0M975 370h0M986 363h0M986 363h0M990 359h0M982 363h0M982 362h0M981 359h0M982 359h0M977 364h0M1004 361h0M1004 364h0M1001 361h0M1000 359h0M999 360h0M994 357h0M993 361h0M1015 373h0M1006 365h0M1007 366h0M1016 367h0M1013 370h0M1007 366h0M1010 368h0M1006 366h0M1015 377h0M1015 381h0M1014 377h0M1011 383h0M1017 374h0M1015 379h0M1004 383h0M1005 388h0M999 383h0M974 383h0M989 384h0M992 384h0M994 385h0M979 383h0M996 384h0M1007 383h0M981 386h0M991 384h0M974 387h0M985 386h0M967 383h0M978 384h0M970 382h0M1014 389h0M1011 387h0M969 386h0M1010 386h0M978 385h0M986 385h0M988 386h0M1010 385h0M998 383h0M977 382h0M969 373h0M972 373h0M968 380h0M972 380h0M967 379h0M971 372h0M963 379h0M968 373h0" stroke="#4A9AE4" stroke-width="2.60" stroke-linecap="round"/>
<path d="M483.4 193.2C483.2 190.5 480.1 186.4 484.1 185C488.1 183.6 503.3 184.1 507.4 185C511.5 185.9 509.2 188.4 508.8 190.5C508.3 192.5 506 195.5 504.7 197.3C503.3 199.2 502.6 200.5 500.5 201.4C498.5 202.4 494.8 202.8 492.3 202.8C489.8 202.8 487 203 485.5 201.4C484 199.8 483.7 196 483.4 193.2Z" fill="#4A9AE4"/>
<path transform="scale(.5)" d="M968 387h0M967 382h0M967 381h0M968 372h0M970 378h0M970 381h0M965 380h0M967 375h0M966 381h0M977 371h0M979 370h0M987 371h0M991 370h0M973 372h0M996 370h0M1001 369h0M992 372h0M983 368h0M991 375h0M974 372h0M996 373h0M980 370h0M1005 368h0M1007 371h0M967 369h0M1014 370h0M988 369h0M1003 371h0M976 368h0M974 368h0M971 369h0M980 370h0M991 371h0M980 372h0M1006 369h0M1011 370h0M1015 375h0M1017 374h0M1015 372h0M1015 379h0M1016 383h0M1019 377h0M1016 386h0M1007 394h0M1015 385h0M1005 396h0M1018 388h0M1015 380h0M1020 387h0M1010 393h0M1009 388h0M1008 399h0M1004 402h0M1007 395h0M1009 394h0M1005 400h0M1006 397h0M995 403h0M998 403h0M988 406h0M993 403h0M984 404h0M988 407h0M993 405h0M986 406h0M998 402h0M973 404h0M978 407h0M977 404h0M977 405h0M977 404h0M968 402h0M979 405h0M973 402h0M973 403h0M969 390h0M972 399h0M968 396h0M969 403h0M971 395h0M967 396h0M968 398h0M969 391h0M974 402h0" stroke="#4A9AE4" stroke-width="2.60" stroke-linecap="round"/>
<path d="M506.0 198.7C506.7 197.1 508.3 194.8 510.1 193.2C512 191.6 514.5 190 517 189.1C519.5 188.2 522.7 187.3 525.2 187.7C527.7 188.2 530.7 189.8 532.1 191.8C533.4 193.9 533.7 197.6 533.4 200.1C533.2 202.6 532.3 205.3 530.7 206.9C529.1 208.5 526.3 209.2 523.8 209.7C521.3 210.1 518.1 210.1 515.6 209.7C513.1 209.2 510.4 208.1 508.8 206.9C507.2 205.8 506.5 204.2 506 202.8C505.6 201.4 505.3 200.3 506 198.7Z" fill="#86F4CA"/>
<path transform="scale(.5)" d="M1015 395h0M1018 387h0M1015 393h0M1018 391h0M1018 394h0M1019 393h0M1016 390h0M1017 387h0M1030 380h0M1021 382h0M1033 375h0M1025 381h0M1026 385h0M1020 386h0M1027 380h0M1029 381h0M1031 380h0M1047 375h0M1041 379h0M1048 378h0M1041 381h0M1045 378h0M1048 375h0M1041 375h0M1038 376h0M1040 378h0M1063 387h0M1054 377h0M1052 378h0M1059 380h0M1056 385h0M1059 381h0M1055 380h0M1057 381h0M1058 379h0M1061 393h0M1068 398h0M1069 392h0M1065 400h0M1064 386h0M1067 384h0M1061 383h0M1065 386h0M1063 387h0M1067 400h0M1063 404h0M1061 401h0M1069 403h0M1068 405h0M1063 410h0M1059 413h0M1065 400h0M1057 419h0M1054 419h0M1061 416h0M1055 415h0M1059 418h0M1046 417h0M1047 419h0M1055 415h0M1038 416h0M1045 422h0M1048 421h0M1044 419h0M1042 423h0M1035 420h0M1035 418h0M1048 418h0M1032 420h0M1019 412h0M1026 415h0M1022 416h0M1020 416h0M1021 416h0M1022 416h0M1031 418h0M1019 415h0M1016 412h0M1015 411h0M1015 408h0M1016 412h0M1018 410h0M1014 405h0M1009 402h0M1011 402h0M1011 402h0" stroke="#86F4CA" stroke-width="2.60" stroke-linecap="round"/>
<path d="M510.1 189.0C511.3 188.3 513.5 187.8 516.1 187.8C518.8 187.8 523.4 188.3 525.8 189C528.2 189.7 533.4 191.5 530.6 192C527.8 192.5 512.3 192.5 508.9 192C505.5 191.5 508.9 189.7 510.1 189Z" fill="#86F4CA"/>
<path transform="scale(.5)" d="M1022 377h0M1029 379h0M1031 375h0M1028 374h0M1027 376h0M1032 377h0M1029 376h0M1034 375h0M1047 379h0M1046 379h0M1047 375h0M1042 374h0M1039 378h0M1051 377h0M1037 378h0M1042 373h0M1043 380h0M1047 377h0M1051 381h0M1056 383h0M1060 383h0M1052 374h0M1055 381h0M1056 381h0M1020 383h0M1021 382h0M1017 382h0M1031 386h0M1041 382h0M1046 383h0M1041 386h0M1051 384h0M1043 386h0M1024 384h0M1060 386h0M1052 382h0M1059 380h0M1058 383h0M1044 382h0M1025 386h0M1022 383h0M1048 386h0M1038 384h0M1056 382h0M1040 379h0M1038 381h0M1049 383h0M1061 381h0M1060 383h0M1047 381h0M1016 381h0M1025 384h0M1020 378h0" stroke="#86F4CA" stroke-width="2.60" stroke-linecap="round"/>
<path d="M544.4 190.5C544.8 189.6 548 188.7 549.9 187.7C551.7 186.8 553.7 185.2 555.3 185C556.9 184.8 558.9 185.2 559.5 186.4C560 187.5 559.7 190.5 558.8 191.8C557.9 193.2 555.9 194.4 554 194.6C552 194.8 548.7 193.9 547.1 193.2C545.5 192.5 543.9 191.4 544.4 190.5Z" fill="#D82018"/>
<path transform="scale(.5)" d="M1097 378h0M1088 382h0M1090 380h0M1097 375h0M1087 381h0M1098 379h0M1092 383h0M1100 376h0M1105 372h0M1104 374h0M1107 371h0M1103 372h0M1099 380h0M1105 374h0M1115 371h0M1115 372h0M1112 370h0M1116 370h0M1114 370h0M1119 381h0M1116 382h0M1117 384h0M1121 377h0M1121 374h0M1120 373h0M1119 383h0M1119 381h0M1110 387h0M1109 390h0M1112 386h0M1111 385h0M1096 386h0M1102 387h0M1105 388h0M1097 386h0M1107 391h0M1104 388h0M1100 385h0M1099 388h0M1089 387h0M1089 383h0M1089 384h0M1089 381h0" stroke="#D82018" stroke-width="2.60" stroke-linecap="round"/>
<path d="M545.1 189.6C546.1 188.7 548.1 187.5 549.9 186.6C551.7 185.7 554.4 184.1 555.9 184.1C557.4 184.1 558.5 185.2 558.9 186.6C559.3 187.9 560.8 191.1 558.3 192C555.8 192.9 546.1 192.4 543.9 192C541.6 191.6 544.1 190.5 545.1 189.6Z" fill="#D82018"/>
<path transform="scale(.5)" d="M1092 377h0M1093 377h0M1094 380h0M1097 375h0M1094 379h0M1091 379h0M1104 372h0M1109 368h0M1109 368h0M1111 374h0M1101 369h0M1108 372h0M1098 371h0M1119 373h0M1116 367h0M1114 373h0M1114 375h0M1117 382h0M1120 378h0M1116 382h0M1117 375h0M1116 384h0M1118 380h0M1094 384h0M1098 388h0M1096 384h0M1096 383h0M1108 383h0M1100 382h0M1107 383h0M1098 385h0M1099 386h0M1095 382h0M1100 384h0M1088 382h0M1093 383h0M1109 386h0M1107 385h0M1090 388h0M1101 385h0M1087 382h0M1088 382h0M1087 386h0" stroke="#D82018" stroke-width="2.60" stroke-linecap="round"/>
<path transform="scale(.5)" d="M1076 393h0M1079 393h0M1079 394h0M1081 391h0M1077 388h0M1080 395h0M1077 397h0M1077 392h0M1070 390h0M1076 387h0M1080 389h0M1074 397h0M1077 391h0M1074 390h0M1075 397h0M1078 394h0M1079 392h0M1071 391h0M1076 395h0M1073 395h0M1076 390h0M1076 386h0" stroke="#D070F0" stroke-width="3.20" stroke-linecap="round"/>
<path d="M485.5 202.8C485.9 202 487.1 201.7 488.2 202.1C489.4 202.6 491.5 203.9 492.3 205.5C493.1 207.1 493.2 210.3 493 211.7C492.8 213.1 491.9 213.9 491 213.8C490 213.7 488.4 212.2 487.5 211C486.6 209.9 485.8 208.3 485.5 206.9C485.1 205.5 485 203.6 485.5 202.8Z" fill="#C020A0"/>
<path transform="scale(.5)" d="M975 406h0M973 405h0M973 405h0M984 413h0M984 412h0M975 405h0M979 404h0M982 407h0M983 412h0M987 422h0M985 414h0M983 422h0M987 417h0M986 416h0M985 411h0M985 415h0M987 427h0M983 429h0M987 425h0M983 422h0M973 428h0M975 422h0M976 423h0M981 428h0M974 421h0M973 411h0M976 418h0M971 419h0M972 415h0M974 414h0M971 409h0M971 414h0M970 410h0" stroke="#C020A0" stroke-width="2.60" stroke-linecap="round"/>
<path d="M497.1 205.5C497.4 204.4 499.2 203 500.5 202.8C501.9 202.6 504.3 203.4 505.3 204.2C506.4 205 507.1 206.6 506.7 207.6C506.4 208.6 504.5 210 503.3 210.3C502 210.7 500.2 210.5 499.2 209.7C498.2 208.9 496.9 206.7 497.1 205.5Z" fill="#C080F0"/>
<path transform="scale(.5)" d="M993 412h0M994 410h0M997 404h0M997 413h0M1002 406h0M1004 406h0M1006 408h0M1008 406h0M1007 408h0M1002 408h0M1013 418h0M1011 411h0M1011 409h0M1011 410h0M1009 418h0M1008 419h0M1013 419h0M1008 421h0M1013 416h0M1003 421h0M1006 422h0M1005 421h0M1002 421h0M997 419h0M996 415h0M994 410h0M995 410h0M994 413h0" stroke="#C080F0" stroke-width="2.60" stroke-linecap="round"/>
<path d="M505.3 209.7C505.6 208.5 507.5 207 508.8 206.9C510 206.8 511.5 208.1 512.9 209C514.2 209.9 516.4 211.3 517 212.4C517.6 213.5 517.2 215.3 516.3 215.8C515.4 216.4 513 216.2 511.5 215.8C510 215.5 508.4 214.8 507.4 213.8C506.4 212.7 505.1 210.8 505.3 209.7Z" fill="#C42070"/>
<path transform="scale(.5)" d="M1012 414h0M1018 419h0M1015 415h0M1014 420h0M1012 421h0M1023 419h0M1024 420h0M1020 414h0M1019 415h0M1018 417h0M1033 422h0M1030 420h0M1028 421h0M1031 420h0M1028 420h0M1030 422h0M1033 433h0M1034 427h0M1035 427h0M1033 427h0M1032 431h0M1021 434h0M1028 432h0M1030 431h0M1032 434h0M1017 430h0M1015 428h0M1019 429h0M1022 429h0M1023 432h0M1013 419h0M1011 423h0M1016 426h0M1011 422h0M1018 426h0" stroke="#C42070" stroke-width="2.60" stroke-linecap="round"/>
<path d="M520.4 210.3C521.2 209.4 523.5 208.7 525.2 208.3C526.9 207.8 529.1 207.3 530.7 207.6C532.3 207.9 534 209.3 534.8 210.3C535.6 211.4 536.2 212.7 535.5 213.8C534.8 214.8 532.6 216.1 530.7 216.5C528.7 217 525.5 217 523.8 216.5C522.1 216.1 521 214.8 520.4 213.8C519.8 212.7 519.6 211.3 520.4 210.3Z" fill="#D42040"/>
<path transform="scale(.5)" d="M1044 419h0M1046 416h0M1046 416h0M1045 414h0M1047 415h0M1042 419h0M1051 414h0M1059 417h0M1059 418h0M1047 419h0M1059 414h0M1052 413h0M1067 418h0M1063 414h0M1067 418h0M1066 418h0M1063 417h0M1072 424h0M1070 425h0M1068 424h0M1071 421h0M1068 430h0M1065 432h0M1070 431h0M1064 429h0M1064 430h0M1064 434h0M1051 435h0M1059 436h0M1054 430h0M1063 433h0M1052 433h0M1056 433h0M1059 436h0M1060 437h0M1041 429h0M1047 426h0M1046 430h0M1045 430h0M1044 428h0M1043 423h0M1041 426h0M1041 418h0M1041 426h0" stroke="#D42040" stroke-width="2.60" stroke-linecap="round"/>
<path d="M499.2 219.2C499.7 218.6 500.5 217.6 501.9 217.9C503.3 218.1 505.5 219.8 507.4 220.6C509.3 221.4 512.1 221.8 513.6 222.7C515 223.6 516.2 224.7 516.3 226.1C516.4 227.5 515.5 229.9 514.2 230.9C513 231.9 510.6 232.4 508.8 232.3C506.9 232.1 504.8 231.2 503.3 230.2C501.8 229.2 500.7 227.5 499.9 226.1C499.1 224.7 498.6 223.1 498.5 222C498.4 220.8 498.6 219.9 499.2 219.2Z" fill="#3A12DC"/>
<path transform="scale(.5)" d="M1002 435h0M1000 436h0M1003 439h0M1011 445h0M1001 436h0M1007 438h0M1001 438h0M1012 440h0M1002 435h0M1014 443h0M1028 445h0M1015 442h0M1028 445h0M1022 446h0M1028 443h0M1016 440h0M1019 442h0M1028 448h0M1029 449h0M1034 450h0M1028 447h0M1031 452h0M1031 462h0M1029 455h0M1030 457h0M1029 458h0M1033 454h0M1029 454h0M1021 459h0M1027 464h0M1026 462h0M1023 464h0M1026 461h0M1020 466h0M1016 464h0M1018 462h0M1010 460h0M1011 461h0M1007 463h0M1009 461h0M1020 466h0M1002 457h0M1007 459h0M1000 457h0M1003 452h0M1003 455h0M1002 459h0M999 453h0M998 448h0M996 448h0M1001 445h0M997 446h0M999 439h0M998 442h0M1000 438h0" stroke="#3A12DC" stroke-width="2.60" stroke-linecap="round"/>
<path d="M589.7 148.7V235.1H667.0" fill="none" stroke="#707070" stroke-width="0.75"/>
<text class="k m" x="590.6" y="239.4">-40</text>
<text class="k m" x="607.7" y="239.4">-20</text>
<text class="k m" x="625.8" y="239.4">0</text>
<text class="k m" x="644.5" y="239.4">20</text>
<text class="k m" x="663.6" y="239.4">40</text>
<text class="k e" x="588.1" y="164.9">20</text>
<text class="k e" x="588.1" y="189.1">0</text>
<text class="k e" x="588.1" y="214.1">-20</text>
<path d="M590.6 235.1v1.2M607.7 235.1v1.2M625.8 235.1v1.2M644.5 235.1v1.2M663.6 235.1v1.2M589.7 163.8h-1.2M589.7 188.0h-1.2M589.7 213.0h-1.2" stroke="#6a6a6a" stroke-width="0.5"/>
<text class="k m" x="628.4" y="242.7">tSNE_1</text>
<text class="k m" transform="translate(582.5 191.9) rotate(-90)">tSNE_2</text>
<circle cx="677.4" cy="172.6" r="1.15" fill="#86F4CA"/>
<text class="k" x="681.0" y="173.7">0</text>
<circle cx="677.4" cy="176.2" r="1.15" fill="#3E94E6"/>
<text class="k" x="681.0" y="177.3">1</text>
<circle cx="677.4" cy="179.8" r="1.15" fill="#3A9CB8"/>
<text class="k" x="681.0" y="180.9">2</text>
<circle cx="677.4" cy="183.4" r="1.15" fill="#5012DC"/>
<text class="k" x="681.0" y="184.5">3</text>
<circle cx="677.4" cy="187.1" r="1.15" fill="#BC22A6"/>
<text class="k" x="681.0" y="188.2">4</text>
<circle cx="677.4" cy="190.7" r="1.15" fill="#CC2068"/>
<text class="k" x="681.0" y="191.8">5</text>
<circle cx="677.4" cy="194.3" r="1.15" fill="#D42222"/>
<text class="k" x="681.0" y="195.4">6</text>
<circle cx="677.4" cy="197.9" r="1.15" fill="#E8461C"/>
<text class="k" x="681.0" y="199.0">7</text>
<circle cx="677.4" cy="201.5" r="1.15" fill="#E8AC44"/>
<text class="k" x="681.0" y="202.6">8</text>
<circle cx="677.4" cy="205.2" r="1.15" fill="#AE8CF6"/>
<text class="k" x="681.0" y="206.3">9</text>
<circle cx="677.4" cy="208.8" r="1.15" fill="#E46AE8"/>
<text class="k" x="681.0" y="209.9">10</text>
<circle cx="677.4" cy="212.4" r="1.15" fill="#C474F0"/>
<text class="k" x="681.0" y="213.5">11</text>
<path d="M613.5 154.0C614 153 616.1 153 617.7 152.8C619.3 152.6 622.3 152 623.1 152.8C623.9 153.6 622.7 156 622.5 157.6C622.3 159.2 622.5 161.3 621.9 162.5C621.3 163.7 619.9 164.7 618.9 164.9C617.9 165.1 616.6 164.7 615.9 163.7C615.2 162.7 615.1 160.4 614.7 158.8C614.3 157.2 613 155 613.5 154Z" fill="#E8B050"/>
<path transform="scale(.5)" d="M1230 303h0M1230 305h0M1229 305h0M1235 308h0M1229 309h0M1239 305h0M1243 305h0M1245 307h0M1237 306h0M1236 307h0M1239 304h0M1248 315h0M1245 302h0M1245 308h0M1245 313h0M1247 312h0M1244 321h0M1248 316h0M1246 321h0M1245 320h0M1244 320h0M1243 324h0M1235 327h0M1241 329h0M1246 324h0M1234 331h0M1236 329h0M1238 327h0M1229 319h0M1232 327h0M1230 318h0M1227 319h0M1229 324h0M1227 316h0M1228 311h0M1228 314h0M1228 307h0M1229 310h0" stroke="#E8B050" stroke-width="2.60" stroke-linecap="round"/>
<path transform="scale(.5)" d="M1280 313h0M1281 318h0M1277 313h0M1279 321h0M1287 314h0M1281 314h0M1280 311h0M1287 320h0M1276 322h0M1287 320h0M1279 319h0M1278 312h0M1288 320h0M1283 314h0M1276 314h0M1279 312h0M1276 313h0M1276 316h0M1285 311h0M1282 318h0M1286 309h0M1276 314h0M1277 318h0M1286 314h0M1278 322h0M1278 314h0M1288 315h0M1274 313h0M1285 315h0M1282 308h0M1286 317h0M1279 316h0M1284 307h0M1283 311h0M1285 309h0M1280 314h0M1281 312h0M1280 317h0M1278 313h0M1287 311h0M1286 314h0M1277 311h0M1276 320h0" stroke="#C080F0" stroke-width="3.20" stroke-linecap="round"/>
<path d="M593.6 172.1C594.3 169.9 595.6 167.4 597.2 166.1C598.8 164.8 601 164.3 603.3 164.3C605.5 164.3 609.1 164.8 610.5 166.1C611.9 167.4 611.7 170.1 611.7 172.1C611.7 174.1 610.8 176.1 610.5 178.1C610.2 180.1 610.3 182.5 609.9 184.1C609.5 185.8 608.8 186.5 608.1 187.8C607.4 189.1 607.5 191.3 605.7 192C603.9 192.7 599.1 192.9 597.2 192C595.3 191.1 594.9 188.7 594.2 186.6C593.5 184.4 593.1 181.7 593 179.3C592.9 176.9 592.9 174.3 593.6 172.1Z" fill="#4A9AE4"/>
<path transform="scale(.5)" d="M1189 339h0M1191 340h0M1190 341h0M1192 336h0M1190 340h0M1187 343h0M1192 336h0M1192 336h0M1200 329h0M1200 332h0M1193 333h0M1202 333h0M1199 330h0M1202 328h0M1198 333h0M1215 329h0M1214 331h0M1205 327h0M1214 330h0M1220 332h0M1215 330h0M1221 331h0M1219 331h0M1223 342h0M1220 336h0M1223 340h0M1224 343h0M1221 338h0M1219 338h0M1223 342h0M1222 354h0M1220 351h0M1224 356h0M1220 355h0M1220 347h0M1220 357h0M1226 349h0M1218 367h0M1223 361h0M1218 365h0M1219 364h0M1222 355h0M1219 361h0M1220 361h0M1220 374h0M1219 368h0M1221 368h0M1218 368h0M1212 381h0M1215 378h0M1214 377h0M1210 383h0M1214 378h0M1195 386h0M1208 383h0M1203 383h0M1207 381h0M1202 384h0M1210 384h0M1197 384h0M1198 384h0M1203 384h0M1200 385h0M1194 377h0M1192 375h0M1190 381h0M1191 378h0M1193 384h0M1191 384h0M1193 383h0M1188 364h0M1187 369h0M1188 363h0M1187 366h0M1187 368h0M1189 369h0M1187 365h0M1189 372h0M1186 351h0M1184 355h0M1187 348h0M1186 357h0M1187 356h0M1186 356h0M1184 353h0M1185 355h0" stroke="#4A9AE4" stroke-width="2.60" stroke-linecap="round"/>
<path d="M593.4 187.7C593.4 186.6 591.7 185.5 594.1 185C596.5 184.5 605.8 184.1 607.8 185C609.9 185.9 607.1 188.9 606.4 190.5C605.8 192.1 605.1 193.9 603.7 194.6C602.3 195.3 599.8 195 598.2 194.6C596.6 194.1 594.9 193 594.1 191.8C593.3 190.7 593.4 188.9 593.4 187.7Z" fill="#4A9AE4"/>
<path transform="scale(.5)" d="M1189 373h0M1185 377h0M1184 370h0M1197 370h0M1214 368h0M1210 370h0M1211 372h0M1201 369h0M1195 371h0M1208 371h0M1199 368h0M1211 370h0M1207 366h0M1196 369h0M1212 372h0M1210 374h0M1202 370h0M1193 369h0M1196 371h0M1212 377h0M1215 372h0M1215 373h0M1213 381h0M1216 378h0M1215 376h0M1209 386h0M1208 386h0M1211 383h0M1210 390h0M1211 378h0M1197 386h0M1200 391h0M1204 391h0M1195 388h0M1200 390h0M1199 391h0M1190 385h0M1197 389h0M1188 384h0M1193 388h0M1190 388h0M1187 381h0M1191 376h0M1188 382h0M1189 383h0" stroke="#4A9AE4" stroke-width="2.60" stroke-linecap="round"/>
<path d="M622.5 167.3C623.2 166.1 624.7 164.3 626.1 163.7C627.6 163.1 629.9 163.1 631 163.7C632.1 164.3 632.7 165.9 632.8 167.3C632.9 168.7 632.3 170.8 631.6 172.1C630.9 173.4 629.8 174.8 628.6 175.1C627.3 175.4 625.4 174.6 624.3 173.9C623.2 173.2 622.2 172 621.9 170.9C621.6 169.8 621.8 168.5 622.5 167.3Z" fill="#CC2050"/>
<path transform="scale(.5)" d="M1245 333h0M1249 337h0M1245 334h0M1250 331h0M1253 332h0M1245 333h0M1259 329h0M1253 324h0M1261 326h0M1258 323h0M1255 326h0M1265 330h0M1268 331h0M1262 333h0M1262 330h0M1269 341h0M1258 344h0M1265 340h0M1266 341h0M1263 345h0M1260 345h0M1258 350h0M1261 342h0M1261 344h0M1263 344h0M1253 350h0M1256 349h0M1253 349h0M1256 346h0M1254 348h0M1250 347h0M1241 340h0M1245 342h0M1244 344h0M1243 343h0M1245 335h0M1244 336h0M1243 337h0" stroke="#CC2050" stroke-width="2.60" stroke-linecap="round"/>
<path d="M643.6 164.9C643.9 163.4 645.1 162.7 646 163.1C646.9 163.5 647.8 166.2 649 167.3C650.2 168.4 652.7 168.7 653.3 169.7C653.9 170.7 653.4 172.3 652.7 173.3C651.9 174.3 649.6 174.5 649 175.7C648.4 176.9 649.6 179.6 649 180.5C648.4 181.4 646.4 181.5 645.4 181.1C644.4 180.7 643.2 179.6 643 178.1C642.8 176.6 644.1 174.3 644.2 172.1C644.3 169.9 643.3 166.4 643.6 164.9Z" fill="#C020A0"/>
<path transform="scale(.5)" d="M1289 327h0M1288 330h0M1291 327h0M1296 330h0M1295 328h0M1295 334h0M1291 324h0M1291 325h0M1292 328h0M1304 337h0M1302 338h0M1300 338h0M1303 339h0M1305 343h0M1306 344h0M1304 341h0M1306 342h0M1304 347h0M1300 351h0M1297 349h0M1298 350h0M1302 351h0M1301 350h0M1298 353h0M1299 356h0M1296 355h0M1297 352h0M1295 353h0M1297 364h0M1298 366h0M1292 364h0M1297 360h0M1285 357h0M1290 361h0M1286 357h0M1292 357h0M1289 356h0M1290 342h0M1286 353h0M1287 352h0M1287 354h0M1289 346h0M1286 354h0M1284 337h0M1284 331h0M1289 338h0M1286 342h0M1289 342h0M1290 343h0M1284 337h0M1290 335h0" stroke="#C020A0" stroke-width="2.60" stroke-linecap="round"/>
<path d="M621.9 178.1C622.3 177.2 623.8 176.3 624.9 176.3C626 176.3 627.9 177.2 628.6 178.1C629.3 179 629.7 180.9 629.2 181.7C628.7 182.5 626.6 182.9 625.5 182.9C624.4 182.9 623.1 182.5 622.5 181.7C621.9 180.9 621.5 179 621.9 178.1Z" fill="#E070E8"/>
<path transform="scale(.5)" d="M1244 356h0M1246 355h0M1250 348h0M1249 353h0M1254 355h0M1253 358h0M1257 356h0M1255 355h0M1256 355h0M1259 358h0M1259 360h0M1256 357h0M1258 364h0M1251 366h0M1251 366h0M1253 367h0M1246 366h0M1243 363h0M1241 368h0M1244 364h0M1242 360h0M1243 359h0M1246 361h0" stroke="#E070E8" stroke-width="2.60" stroke-linecap="round"/>
<path d="M624.9 186.6C625.6 185.3 627.7 184.5 628.6 184.7C629.5 184.9 630.4 186.6 630.4 187.8C630.4 189 629.6 191.3 628.6 192C627.6 192.7 624.9 192.9 624.3 192C623.7 191.1 624.2 187.8 624.9 186.6Z" fill="#F070C0"/>
<path transform="scale(.5)" d="M1255 369h0M1255 368h0M1253 369h0M1255 368h0M1261 372h0M1262 370h0M1257 373h0M1256 374h0M1263 376h0M1257 379h0M1258 383h0M1260 380h0M1257 380h0M1255 385h0M1258 384h0M1256 383h0M1257 381h0M1249 387h0M1249 383h0M1249 377h0M1248 378h0M1250 383h0M1250 374h0M1249 377h0" stroke="#F070C0" stroke-width="2.60" stroke-linecap="round"/>
<path d="M624.2 189.1C624.2 187.9 626 185.7 627 185C628 184.3 630 184.1 630.4 185C630.9 185.9 630.3 189.2 629.7 190.5C629.2 191.7 627.9 192.8 627 192.5C626.1 192.3 624.2 190.4 624.2 189.1Z" fill="#F070C0"/>
<path transform="scale(.5)" d="M1249 376h0M1251 378h0M1255 371h0M1249 374h0M1251 376h0M1254 369h0M1260 372h0M1254 370h0M1258 369h0M1256 380h0M1261 374h0M1260 378h0M1258 380h0M1262 372h0M1257 375h0M1253 385h0M1256 378h0M1259 380h0M1257 382h0M1249 377h0M1251 380h0M1252 383h0M1252 385h0M1251 382h0" stroke="#F070C0" stroke-width="2.60" stroke-linecap="round"/>
<path d="M609.3 189.0C610.3 187.7 612.5 185.6 614.1 184.1C615.7 182.7 617.7 180.5 618.9 180.5C620.1 180.5 621 182.5 621.3 184.1C621.6 185.8 621.1 188.9 620.7 190.2C620.3 191.5 621 191.7 618.9 192C616.8 192.3 609.7 192.5 608.1 192C606.5 191.5 608.3 190.3 609.3 189Z" fill="#D82018"/>
<path transform="scale(.5)" d="M1224 377h0M1224 374h0M1226 366h0M1221 372h0M1227 367h0M1229 370h0M1216 377h0M1222 375h0M1225 367h0M1237 360h0M1230 363h0M1228 365h0M1234 368h0M1235 365h0M1233 363h0M1239 362h0M1241 363h0M1240 362h0M1238 365h0M1237 365h0M1238 371h0M1244 370h0M1242 377h0M1243 373h0M1242 378h0M1241 376h0M1244 376h0M1242 380h0M1243 380h0M1243 378h0M1232 383h0M1226 384h0M1239 383h0M1215 385h0M1237 383h0M1226 386h0M1232 381h0M1228 382h0M1225 384h0M1214 383h0M1233 383h0M1234 386h0M1226 384h0M1219 379h0M1219 381h0M1218 376h0" stroke="#D82018" stroke-width="2.60" stroke-linecap="round"/>
<path d="M606.4 190.5C606.4 189.5 609.4 187.3 610.5 186.4C611.7 185.5 611.7 185.2 613.3 185C614.9 184.8 619 184.1 620.1 185C621.3 185.9 620.8 189.2 620.1 190.5C619.5 191.7 617.6 192.2 616 192.5C614.4 192.9 612.1 192.9 610.5 192.5C608.9 192.2 606.4 191.5 606.4 190.5Z" fill="#D82018"/>
<path transform="scale(.5)" d="M1212 379h0M1220 372h0M1215 377h0M1219 381h0M1215 379h0M1220 376h0M1224 369h0M1221 372h0M1224 369h0M1233 367h0M1238 368h0M1238 370h0M1226 372h0M1228 370h0M1239 366h0M1237 370h0M1241 372h0M1240 380h0M1241 370h0M1242 378h0M1239 377h0M1241 380h0M1241 375h0M1232 386h0M1234 386h0M1234 386h0M1237 382h0M1239 383h0M1229 381h0M1229 388h0M1229 387h0M1226 386h0M1230 386h0M1227 384h0M1213 379h0M1213 382h0M1215 382h0M1219 383h0M1214 384h0" stroke="#D82018" stroke-width="2.60" stroke-linecap="round"/>
<path d="M633.8 193.2C633.8 191.4 634.7 189.1 635.2 187.7C635.7 186.4 634.1 185.5 636.6 185C639.1 184.5 647.9 184.1 650.3 185C652.7 185.9 650.5 188.4 651 190.5C651.4 192.5 653.4 195.5 653 197.3C652.7 199.2 650.5 200.3 648.9 201.4C647.3 202.6 645 204.2 643.4 204.2C641.8 204.2 640.7 202.4 639.3 201.4C637.9 200.5 636.1 200.1 635.2 198.7C634.3 197.3 633.8 195 633.8 193.2Z" fill="#3A98B8"/>
<path transform="scale(.5)" d="M1267 379h0M1270 380h0M1269 374h0M1267 384h0M1273 381h0M1271 378h0M1275 366h0M1272 372h0M1271 372h0M1292 367h0M1296 366h0M1280 372h0M1294 374h0M1279 370h0M1287 368h0M1284 367h0M1296 369h0M1294 371h0M1297 370h0M1273 369h0M1293 368h0M1285 368h0M1276 374h0M1299 368h0M1295 370h0M1304 375h0M1304 376h0M1301 377h0M1299 380h0M1296 371h0M1304 380h0M1306 389h0M1303 393h0M1305 389h0M1308 385h0M1304 390h0M1305 386h0M1306 385h0M1307 392h0M1305 394h0M1303 405h0M1303 397h0M1300 400h0M1308 395h0M1299 400h0M1291 401h0M1294 400h0M1291 403h0M1292 404h0M1294 407h0M1290 406h0M1293 406h0M1278 404h0M1278 404h0M1282 403h0M1286 406h0M1280 404h0M1277 403h0M1281 404h0M1274 403h0M1273 399h0M1277 404h0M1267 390h0M1269 394h0M1265 388h0M1269 389h0M1272 398h0M1268 397h0" stroke="#3A98B8" stroke-width="2.60" stroke-linecap="round"/>
<path d="M634.6 186.6C635.7 185 638.8 183.7 640.6 182.9C642.4 182.1 644.2 181.3 645.4 181.7C646.6 182.1 647.6 183.6 647.8 185.3C648 187.1 648.9 190.9 646.6 192C644.3 193.1 636 192.9 634 192C632 191.1 633.5 188.1 634.6 186.6Z" fill="#3A98B8"/>
<path transform="scale(.5)" d="M1276 365h0M1277 366h0M1279 369h0M1277 369h0M1270 376h0M1280 365h0M1274 371h0M1278 367h0M1291 363h0M1279 366h0M1282 364h0M1286 364h0M1286 364h0M1290 367h0M1293 365h0M1292 362h0M1293 365h0M1292 369h0M1297 374h0M1293 376h0M1296 367h0M1291 375h0M1295 383h0M1294 383h0M1293 381h0M1296 380h0M1270 382h0M1277 383h0M1272 386h0M1279 385h0M1286 386h0M1273 386h0M1274 386h0M1272 383h0M1289 382h0M1272 383h0M1282 384h0M1286 383h0M1286 386h0M1274 385h0M1271 385h0M1270 377h0M1266 384h0M1270 386h0M1268 378h0M1268 373h0M1268 384h0" stroke="#3A98B8" stroke-width="2.60" stroke-linecap="round"/>
<path d="M648.9 190.5C649.5 189.2 652.3 187.7 654.4 187.1C656.4 186.4 659.1 186 661.2 186.4C663.4 186.7 666.1 187.7 667.4 189.1C668.7 190.5 669.3 193 668.8 194.6C668.2 196.2 665.5 197.8 664 198.7C662.5 199.6 661.5 200.3 659.9 200.1C658.3 199.8 655.9 198.2 654.4 197.3C652.9 196.4 651.9 195.7 651 194.6C650 193.4 648.3 191.7 648.9 190.5Z" fill="#3A12DC"/>
<path transform="scale(.5)" d="M1300 378h0M1296 379h0M1305 377h0M1304 381h0M1303 378h0M1307 374h0M1305 379h0M1308 373h0M1315 376h0M1320 373h0M1310 373h0M1311 370h0M1311 376h0M1309 375h0M1317 370h0M1332 378h0M1326 374h0M1321 375h0M1328 375h0M1326 372h0M1323 373h0M1323 374h0M1331 377h0M1336 385h0M1338 382h0M1335 380h0M1338 390h0M1337 380h0M1336 390h0M1334 393h0M1332 396h0M1332 392h0M1339 389h0M1329 394h0M1334 395h0M1328 395h0M1324 403h0M1322 397h0M1325 397h0M1325 398h0M1325 399h0M1314 398h0M1314 397h0M1321 399h0M1318 398h0M1318 399h0M1318 398h0M1313 398h0M1307 392h0M1304 392h0M1306 391h0M1308 394h0M1302 392h0M1302 387h0M1299 383h0M1301 386h0M1298 383h0M1301 387h0" stroke="#3A12DC" stroke-width="2.60" stroke-linecap="round"/>
<path d="M650.2 189.0C651.2 187.9 653.5 185.8 655.1 185.3C656.7 184.9 658.1 186.2 659.9 186.6C661.7 187 664.6 186.9 665.9 187.8C667.2 188.7 670.5 191.3 667.7 192C664.9 192.7 651.9 192.5 649 192C646.1 191.5 649.2 190.1 650.2 189Z" fill="#3A12DC"/>
<path transform="scale(.5)" d="M1309 371h0M1300 380h0M1309 373h0M1306 373h0M1309 374h0M1306 375h0M1305 375h0M1307 371h0M1318 371h0M1309 369h0M1321 376h0M1314 372h0M1331 376h0M1329 378h0M1325 377h0M1323 376h0M1324 375h0M1330 375h0M1324 374h0M1334 384h0M1335 384h0M1334 379h0M1335 381h0M1336 377h0M1331 382h0M1297 385h0M1317 383h0M1308 384h0M1326 384h0M1333 383h0M1318 385h0M1314 385h0M1336 383h0M1308 385h0M1306 385h0M1329 386h0M1314 383h0M1327 382h0M1312 383h0M1302 383h0M1300 383h0M1322 384h0M1313 385h0M1308 383h0M1325 386h0M1314 384h0M1302 376h0M1297 382h0M1299 379h0" stroke="#3A12DC" stroke-width="2.60" stroke-linecap="round"/>
<path d="M613.3 209.7C613.7 207.4 614.4 203.7 616 201.4C617.6 199.2 620.4 197.1 622.9 196C625.4 194.8 629 193.9 631.1 194.6C633.2 195.3 634.3 197.6 635.2 200.1C636.1 202.6 636.8 206.9 636.6 209.7C636.3 212.4 635.2 214.9 633.8 216.5C632.5 218.1 630.2 218.3 628.4 219.2C626.5 220.2 624.9 222 622.9 222C620.8 222 617.6 220.4 616 219.2C614.4 218.1 613.7 216.7 613.3 215.1C612.8 213.5 612.8 211.9 613.3 209.7Z" fill="#86F4CA"/>
<path transform="scale(.5)" d="M1227 415h0M1229 407h0M1228 413h0M1229 414h0M1225 418h0M1232 402h0M1231 402h0M1231 412h0M1231 414h0M1227 416h0M1236 399h0M1233 400h0M1236 401h0M1234 402h0M1235 400h0M1242 399h0M1242 396h0M1248 392h0M1236 404h0M1233 403h0M1250 391h0M1254 390h0M1259 391h0M1252 392h0M1252 392h0M1254 392h0M1261 387h0M1256 386h0M1261 392h0M1264 397h0M1271 399h0M1259 389h0M1268 395h0M1264 392h0M1269 400h0M1266 391h0M1266 400h0M1271 411h0M1273 416h0M1273 405h0M1273 414h0M1274 419h0M1273 417h0M1269 407h0M1271 403h0M1274 408h0M1273 406h0M1270 417h0M1271 432h0M1271 420h0M1270 421h0M1273 418h0M1269 421h0M1270 425h0M1272 425h0M1270 422h0M1262 439h0M1266 433h0M1260 435h0M1267 431h0M1264 435h0M1260 437h0M1258 436h0M1245 441h0M1252 439h0M1247 445h0M1260 441h0M1259 439h0M1255 440h0M1251 440h0M1238 442h0M1237 444h0M1241 443h0M1241 441h0M1240 443h0M1235 440h0M1244 440h0M1237 440h0M1232 440h0M1229 432h0M1225 429h0M1227 432h0M1228 436h0M1227 427h0M1226 419h0M1226 427h0M1227 418h0M1227 424h0M1227 427h0" stroke="#86F4CA" stroke-width="2.60" stroke-linecap="round"/>
<path transform="scale(.5)" d="M1281 433h0M1282 430h0M1286 428h0M1276 427h0M1283 432h0M1279 424h0M1282 422h0M1276 425h0M1285 424h0M1280 427h0M1285 422h0M1285 424h0M1280 427h0M1285 421h0M1282 421h0M1280 429h0M1279 424h0M1278 435h0M1282 422h0M1286 426h0M1286 422h0M1281 434h0M1277 428h0M1284 426h0M1277 426h0M1286 422h0" stroke="#86F4CA" stroke-width="3.20" stroke-linecap="round"/>
<path d="M628.4 224.7C628.7 223.4 630 221.8 631.1 220.6C632.2 219.5 633.9 217.9 635.2 217.9C636.5 217.9 637.9 219.2 638.6 220.6C639.3 222 639.5 224.4 639.3 226.1C639.1 227.8 638.4 229.9 637.3 230.9C636.1 231.9 633.8 232.6 632.5 232.3C631.1 231.9 629.7 230.1 629 228.8C628.4 227.6 628 226.1 628.4 224.7Z" fill="#EA4818"/>
<path transform="scale(.5)" d="M1260 445h0M1262 446h0M1259 443h0M1259 446h0M1261 442h0M1265 440h0M1268 437h0M1271 435h0M1266 438h0M1265 439h0M1274 435h0M1272 440h0M1276 439h0M1272 436h0M1271 437h0M1278 447h0M1276 441h0M1279 444h0M1278 449h0M1277 442h0M1280 443h0M1275 456h0M1278 456h0M1274 455h0M1275 451h0M1279 456h0M1277 455h0M1266 467h0M1264 465h0M1270 461h0M1268 466h0M1269 465h0M1265 466h0M1260 457h0M1263 460h0M1261 458h0M1265 462h0M1258 450h0M1260 454h0M1258 455h0M1256 447h0" stroke="#EA4818" stroke-width="2.60" stroke-linecap="round"/>
<path d="M25.5 268.7V354.9H105.3" fill="none" stroke="#707070" stroke-width="0.75"/>
<text class="k m" x="29.0" y="359.2">-20</text>
<text class="k m" x="46.0" y="359.2">-10</text>
<text class="k m" x="64.0" y="359.2">0</text>
<text class="k m" x="83.0" y="359.2">20</text>
<text class="k m" x="100.4" y="359.2">40</text>
<text class="k e" x="23.9" y="286.1">20</text>
<text class="k e" x="23.9" y="305.9">0</text>
<text class="k e" x="23.9" y="325.1">-20</text>
<text class="k e" x="23.9" y="344.1">-40</text>
<path d="M29.0 354.9v1.2M46.0 354.9v1.2M64.0 354.9v1.2M83.0 354.9v1.2M100.4 354.9v1.2M25.5 285.0h-1.2M25.5 304.8h-1.2M25.5 324.0h-1.2M25.5 343.0h-1.2" stroke="#6a6a6a" stroke-width="0.5"/>
<text class="k m" x="65.4" y="362.5">tSNE_1</text>
<text class="k m" transform="translate(18.3 311.8) rotate(-90)">tSNE_2</text>
<circle cx="112.6" cy="294.3" r="1.15" fill="#86F4CA"/>
<text class="k" x="116.2" y="295.4">0</text>
<circle cx="112.6" cy="297.9" r="1.15" fill="#50C2E2"/>
<text class="k" x="116.2" y="299.0">1</text>
<circle cx="112.6" cy="301.5" r="1.15" fill="#3A9CB8"/>
<text class="k" x="116.2" y="302.6">2</text>
<circle cx="112.6" cy="305.2" r="1.15" fill="#5012DC"/>
<text class="k" x="116.2" y="306.3">3</text>
<circle cx="112.6" cy="308.8" r="1.15" fill="#BC22A6"/>
<text class="k" x="116.2" y="309.9">4</text>
<circle cx="112.6" cy="312.4" r="1.15" fill="#CC2068"/>
<text class="k" x="116.2" y="313.5">5</text>
<circle cx="112.6" cy="316.0" r="1.15" fill="#D42222"/>
<text class="k" x="116.2" y="317.1">6</text>
<circle cx="112.6" cy="319.6" r="1.15" fill="#E8461C"/>
<text class="k" x="116.2" y="320.7">7</text>
<circle cx="112.6" cy="323.3" r="1.15" fill="#AE8CF6"/>
<text class="k" x="116.2" y="324.4">8</text>
<circle cx="112.6" cy="326.9" r="1.15" fill="#C474F0"/>
<text class="k" x="116.2" y="328.0">9</text>
<circle cx="112.6" cy="330.5" r="1.15" fill="#E46AE8"/>
<text class="k" x="116.2" y="331.6">10</text>
<path d="M37.0 281.3C37.6 279.6 38.9 277.6 40.7 276.4C42.5 275.2 45.5 274.8 47.9 274C50.3 273.2 52.9 271.7 55.1 271.6C57.3 271.5 59.9 272.2 61.1 273.4C62.3 274.6 62.8 277.1 62.3 278.8C61.9 280.6 59.7 282.1 58.7 283.7C57.7 285.3 57.3 286.9 56.3 288.5C55.3 290.1 54.3 292.3 52.7 293.3C51.1 294.3 48.7 294.8 46.7 294.5C44.7 294.2 42.2 292.9 40.7 291.5C39.2 290.1 38.3 287.8 37.7 286.1C37 284.4 36.5 282.9 37 281.3Z" fill="#58C2E2"/>
<path transform="scale(.5)" d="M77 558h0M73 561h0M78 561h0M79 557h0M82 555h0M79 558h0M76 561h0M82 551h0M88 549h0M86 553h0M84 552h0M85 549h0M88 548h0M99 548h0M83 554h0M86 548h0M99 547h0M103 546h0M103 545h0M100 547h0M115 543h0M95 547h0M99 546h0M107 544h0M99 547h0M117 544h0M110 548h0M114 542h0M114 543h0M121 546h0M121 548h0M116 546h0M124 550h0M125 559h0M120 550h0M124 549h0M123 555h0M123 556h0M125 554h0M124 560h0M123 555h0M124 564h0M121 563h0M121 565h0M117 565h0M114 577h0M114 570h0M111 581h0M115 577h0M113 572h0M119 567h0M104 584h0M105 583h0M114 575h0M105 587h0M107 582h0M107 586h0M105 583h0M95 588h0M96 587h0M106 587h0M103 586h0M98 588h0M104 588h0M107 587h0M90 587h0M82 582h0M85 587h0M85 584h0M89 586h0M81 581h0M91 590h0M85 587h0M77 575h0M77 577h0M80 582h0M77 579h0M79 576h0M76 576h0M81 578h0M75 570h0M74 563h0M74 570h0M71 564h0M75 568h0" stroke="#58C2E2" stroke-width="2.60" stroke-linecap="round"/>
<path transform="scale(.5)" d="M120 572h0M116 575h0M118 572h0M116 570h0M114 573h0M114 573h0M116 575h0M117 576h0M120 572h0M117 574h0" stroke="#AE8CF6" stroke-width="3.20" stroke-linecap="round"/>
<path d="M63.6 280.0C64.2 278.8 65.6 277.6 67.2 277.6C68.8 277.6 72.4 278.8 73.2 280C74 281.3 72.8 283.9 72 284.9C71.2 285.9 69.4 285.5 68.4 286.1C67.4 286.7 66.8 288.7 66 288.5C65.2 288.3 64 286.3 63.6 284.9C63.2 283.5 63 281.3 63.6 280Z" fill="#E02818"/>
<path transform="scale(.5)" d="M132 556h0M129 553h0M128 560h0M130 561h0M129 556h0M142 558h0M135 557h0M142 560h0M135 559h0M139 556h0M148 561h0M134 561h0M143 569h0M145 565h0M149 565h0M146 567h0M146 564h0M144 573h0M139 572h0M140 567h0M143 568h0M135 575h0M133 575h0M137 572h0M134 574h0M129 575h0M125 573h0M131 576h0M127 572h0M126 570h0M123 562h0M123 569h0M129 561h0M128 560h0M128 562h0" stroke="#E02818" stroke-width="2.60" stroke-linecap="round"/>
<path d="M75.6 280.0C75.8 279 78 277.4 79.2 277.6C80.4 277.8 82.4 280.1 82.8 281.3C83.2 282.4 82.4 283.9 81.6 284.3C80.8 284.7 79 284.4 78 283.7C77 283 75.4 281.1 75.6 280Z" fill="#E02818"/>
<path transform="scale(.5)" d="M155 559h0M152 559h0M153 556h0M155 561h0M157 558h0M166 558h0M158 556h0M165 561h0M164 559h0M164 559h0M160 557h0M161 571h0M163 567h0M163 564h0M157 569h0M163 569h0M157 569h0M159 564h0M154 564h0M153 566h0M152 561h0M154 562h0M154 565h0" stroke="#E02818" stroke-width="2.60" stroke-linecap="round"/>
<path d="M69.6 294.5C70.4 292.3 71.6 287.9 73.2 286.1C74.8 284.3 76.8 283.5 79.2 283.7C81.6 283.9 85.2 285.9 87.7 287.3C90.1 288.7 92.3 290.1 93.7 292.1C95.1 294.1 96.1 297.1 96.1 299.3C96.1 301.5 95.1 304.1 93.7 305.3C92.3 306.6 90.3 306.6 87.7 306.6C85 306.6 80.8 306 78 305.3C75.2 304.7 72.4 303.9 70.8 302.9C69.2 301.9 68.6 300.7 68.4 299.3C68.2 297.9 68.8 296.7 69.6 294.5Z" fill="#86F4CA"/>
<path transform="scale(.5)" d="M140 588h0M147 580h0M140 586h0M139 589h0M140 586h0M140 587h0M136 588h0M140 590h0M141 585h0M140 584h0M143 581h0M159 568h0M152 571h0M157 569h0M146 573h0M152 571h0M151 573h0M152 571h0M160 567h0M162 569h0M160 570h0M165 570h0M168 572h0M161 570h0M165 575h0M160 566h0M173 574h0M171 575h0M163 575h0M188 582h0M186 581h0M182 582h0M180 578h0M185 579h0M178 576h0M176 577h0M180 580h0M174 574h0M187 593h0M193 593h0M188 593h0M193 599h0M189 585h0M186 587h0M189 584h0M193 595h0M188 585h0M190 607h0M192 601h0M191 600h0M192 599h0M188 611h0M189 604h0M187 608h0M183 611h0M183 613h0M179 613h0M179 613h0M177 609h0M186 610h0M175 617h0M164 610h0M164 610h0M164 612h0M172 614h0M167 610h0M171 614h0M166 610h0M166 612h0M173 611h0M166 614h0M159 613h0M151 611h0M147 606h0M148 609h0M143 609h0M153 609h0M147 606h0M154 610h0M141 609h0M155 610h0M139 597h0M137 600h0M136 601h0M140 601h0M142 602h0M139 594h0M139 589h0M140 594h0M136 593h0M137 595h0" stroke="#86F4CA" stroke-width="2.60" stroke-linecap="round"/>
<path d="M29.8 302.9C30.9 301.7 33.8 301.7 35.8 300.5C37.9 299.3 39.7 296.9 41.9 295.7C44.1 294.5 46.5 293.5 49.1 293.3C51.7 293.1 55.5 293.7 57.5 294.5C59.5 295.3 60.9 296.5 61.1 298.1C61.3 299.7 59.7 302.3 58.7 304.1C57.7 306 56.7 307.7 55.1 309C53.5 310.3 52.9 311.5 49.1 312C45.3 312.5 35.5 312.7 32.2 312C28.9 311.3 29.6 309.3 29.2 307.8C28.8 306.3 28.7 304.1 29.8 302.9Z" fill="#5012DC"/>
<path transform="scale(.5)" d="M68 603h0M65 604h0M59 604h0M67 603h0M66 600h0M71 603h0M66 601h0M78 594h0M78 595h0M71 602h0M81 594h0M72 601h0M72 599h0M75 597h0M76 598h0M75 597h0M94 589h0M91 590h0M88 591h0M93 591h0M94 587h0M83 592h0M93 589h0M97 587h0M88 594h0M113 588h0M103 586h0M101 587h0M104 582h0M105 588h0M108 589h0M107 589h0M115 588h0M110 588h0M107 591h0M120 590h0M119 593h0M121 596h0M124 599h0M122 595h0M117 587h0M116 609h0M122 597h0M121 597h0M117 607h0M121 601h0M118 606h0M117 607h0M108 615h0M116 610h0M111 613h0M114 613h0M111 616h0M113 611h0M116 614h0M98 625h0M104 621h0M104 625h0M100 623h0M109 620h0M107 620h0M105 622h0M101 619h0M87 626h0M74 623h0M78 623h0M92 625h0M84 624h0M93 626h0M91 623h0M80 622h0M66 624h0M67 624h0M89 626h0M86 627h0M62 625h0M71 625h0M75 624h0M88 623h0M80 622h0M78 623h0M79 623h0M102 628h0M65 618h0M61 622h0M57 617h0M61 617h0M56 619h0M58 618h0M60 610h0M60 608h0M59 608h0M61 616h0M58 617h0" stroke="#5012DC" stroke-width="2.60" stroke-linecap="round"/>
<path d="M30.5 305.0C34.6 304.4 52.9 304.3 56.5 305C60.2 305.7 54 308 52.4 309.1C50.8 310.3 49.2 311.5 46.9 311.8C44.6 312.2 41.2 311.7 38.7 311.2C36.2 310.6 33.2 309.5 31.8 308.4C30.5 307.4 26.4 305.6 30.5 305Z" fill="#5012DC"/>
<path transform="scale(.5)" d="M86 612h0M89 608h0M103 612h0M97 611h0M64 615h0M86 609h0M76 613h0M86 610h0M60 610h0M75 610h0M71 610h0M112 608h0M95 610h0M84 609h0M86 609h0M106 611h0M64 610h0M81 613h0M98 612h0M59 609h0M95 612h0M104 610h0M76 608h0M80 612h0M87 609h0M106 609h0M67 609h0M105 611h0M100 609h0M88 612h0M107 606h0M107 616h0M111 611h0M113 612h0M109 619h0M112 611h0M111 618h0M104 619h0M98 622h0M104 616h0M95 623h0M94 622h0M99 619h0M102 617h0M95 622h0M86 623h0M80 625h0M83 622h0M94 627h0M86 624h0M88 621h0M86 622h0M85 623h0M75 621h0M70 621h0M71 618h0M70 620h0M78 620h0M72 621h0M69 619h0M65 617h0M63 614h0M65 615h0M60 614h0M65 613h0" stroke="#5012DC" stroke-width="2.60" stroke-linecap="round"/>
<path d="M59.9 302.9C60.3 301.5 62.3 298.9 63.6 298.1C64.8 297.3 66.4 297.5 67.2 298.1C68 298.7 68.8 300.5 68.4 301.7C68 302.9 66 304.5 64.8 305.3C63.6 306.2 61.9 307 61.1 306.6C60.3 306.2 59.5 304.3 59.9 302.9Z" fill="#E02818"/>
<path transform="scale(.5)" d="M124 600h0M121 606h0M123 603h0M125 596h0M125 601h0M117 606h0M127 598h0M131 597h0M132 595h0M126 596h0M134 597h0M137 596h0M134 596h0M135 598h0M135 598h0M135 603h0M135 602h0M134 606h0M135 607h0M137 610h0M134 607h0M129 613h0M124 610h0M125 612h0M128 609h0M121 614h0M121 607h0M121 610h0M121 608h0" stroke="#E02818" stroke-width="2.60" stroke-linecap="round"/>
<path d="M63.4 313.2C63.4 311.2 64.5 310 66.1 309.1C67.7 308.2 70.9 307.5 72.9 307.7C75 308 77.1 308.9 78.4 310.5C79.8 312.1 80.9 315 81.2 317.3C81.4 319.6 79.8 322.1 79.8 324.2C79.8 326.2 81.4 327.8 81.2 329.7C80.9 331.5 79.6 334.7 78.4 335.1C77.3 335.6 75.9 333.1 74.3 332.4C72.7 331.7 70.7 331.5 68.8 331C67 330.6 63.8 331.3 63.4 329.7C62.9 328.1 66.1 324.2 66.1 321.4C66.1 318.7 63.4 315.3 63.4 313.2Z" fill="#3A98B8"/>
<path transform="scale(.5)" d="M132 621h0M122 625h0M128 624h0M126 625h0M130 618h0M138 620h0M137 619h0M140 618h0M141 616h0M134 619h0M144 618h0M135 617h0M136 619h0M150 619h0M158 622h0M147 614h0M152 620h0M146 615h0M154 622h0M151 615h0M159 628h0M157 627h0M160 627h0M159 632h0M158 621h0M156 623h0M159 633h0M162 632h0M159 647h0M164 637h0M163 638h0M160 642h0M162 643h0M162 633h0M161 642h0M160 644h0M165 652h0M161 649h0M164 653h0M164 655h0M162 655h0M163 655h0M158 669h0M161 664h0M159 670h0M160 662h0M157 671h0M165 666h0M155 668h0M154 668h0M150 664h0M153 666h0M154 667h0M153 665h0M147 663h0M147 664h0M136 661h0M140 662h0M139 663h0M142 665h0M134 661h0M136 664h0M135 660h0M128 660h0M136 661h0M124 659h0M131 644h0M128 658h0M132 654h0M130 653h0M133 643h0M132 650h0M130 650h0M132 642h0M128 651h0M131 650h0M128 634h0M130 636h0M129 632h0M129 627h0M132 641h0M132 636h0M135 646h0M128 639h0M125 626h0M129 640h0" stroke="#3A98B8" stroke-width="2.60" stroke-linecap="round"/>
<path d="M63.6 310.2C64.4 309.3 66.4 307.8 68.4 306.6C70.4 305.3 73.6 303.1 75.6 302.9C77.6 302.7 79.4 303.8 80.4 305.3C81.4 306.9 84.4 310.9 81.6 312C78.8 313.1 66.6 312.3 63.6 312C60.5 311.7 62.8 311.1 63.6 310.2Z" fill="#3A98B8"/>
<path transform="scale(.5)" d="M136 612h0M133 614h0M130 619h0M135 613h0M132 617h0M133 615h0M135 614h0M147 610h0M145 605h0M141 612h0M153 608h0M144 605h0M144 610h0M140 610h0M149 609h0M147 610h0M161 612h0M151 606h0M155 609h0M149 607h0M153 608h0M150 607h0M162 622h0M162 610h0M162 620h0M163 618h0M159 617h0M158 611h0M163 613h0M165 621h0M135 628h0M136 623h0M141 624h0M155 620h0M141 625h0M141 625h0M142 624h0M145 624h0M145 622h0M130 624h0M159 626h0M136 625h0M163 622h0M141 625h0M134 622h0M133 619h0M137 623h0M137 625h0M131 626h0M160 622h0M130 623h0M127 620h0M130 622h0" stroke="#3A98B8" stroke-width="2.60" stroke-linecap="round"/>
<path d="M81.2 310.5C81.8 309.3 83.4 308.3 85.3 307.7C87.1 307.2 90.3 306.8 92.1 307.1C93.9 307.3 95.8 307.6 96.2 309.1C96.7 310.6 96 314.4 94.9 316C93.7 317.6 91.2 318.5 89.4 318.7C87.6 318.9 85.3 318 83.9 317.3C82.5 316.6 81.6 315.7 81.2 314.6C80.7 313.4 80.5 311.6 81.2 310.5Z" fill="#D02020"/>
<path transform="scale(.5)" d="M168 614h0M171 616h0M169 613h0M168 619h0M169 618h0M185 613h0M171 616h0M180 614h0M182 614h0M176 616h0M178 616h0M177 615h0M182 614h0M189 618h0M190 617h0M186 616h0M183 614h0M191 617h0M190 625h0M189 622h0M191 626h0M195 622h0M191 631h0M190 625h0M190 631h0M185 631h0M186 636h0M185 635h0M182 636h0M179 634h0M182 635h0M186 636h0M180 636h0M171 632h0M178 639h0M173 636h0M171 636h0M177 636h0M178 637h0M163 631h0M168 634h0M162 629h0M166 630h0M165 621h0M160 625h0M165 626h0M160 625h0" stroke="#D02020" stroke-width="2.60" stroke-linecap="round"/>
<path d="M81.6 307.8C82.6 306.7 85.4 305.6 87.7 305.3C89.9 305.1 93.3 305.4 94.9 306.6C96.5 307.7 99.5 311.1 97.3 312C95.1 312.9 84.2 312.7 81.6 312C79 311.3 80.6 308.9 81.6 307.8Z" fill="#D02020"/>
<path transform="scale(.5)" d="M166 614h0M170 613h0M173 608h0M165 618h0M177 607h0M176 612h0M175 612h0M176 611h0M179 611h0M189 614h0M181 612h0M189 611h0M188 611h0M186 615h0M186 617h0M192 623h0M194 622h0M191 617h0M191 611h0M193 621h0M192 619h0M194 626h0M173 622h0M184 625h0M166 627h0M185 624h0M175 624h0M175 625h0M196 623h0M182 625h0M182 624h0M175 627h0M193 626h0M176 626h0M181 621h0M196 625h0M182 626h0M175 624h0M189 625h0M172 624h0M161 623h0M163 622h0M164 620h0M164 620h0M163 618h0" stroke="#D02020" stroke-width="2.60" stroke-linecap="round"/>
<path transform="scale(.5)" d="M208 617h0M207 623h0M204 620h0M203 621h0M203 621h0M208 622h0M206 615h0M205 625h0M206 618h0M209 620h0M207 618h0M201 620h0M205 623h0M202 624h0M200 624h0M201 621h0M205 617h0M200 620h0M207 624h0M207 618h0M204 615h0" stroke="#E46AE8" stroke-width="3.20" stroke-linecap="round"/>
<path transform="scale(.5)" d="M202 617h0M207 617h0M204 622h0M201 623h0M200 620h0M205 623h0M207 621h0M202 619h0M202 616h0M202 616h0M206 614h0M206 619h0M201 623h0M200 619h0M203 619h0M205 614h0M205 622h0M206 620h0" stroke="#E46AE8" stroke-width="3.20" stroke-linecap="round"/>
<path transform="scale(.5)" d="M90 639h0M92 637h0M86 631h0M83 636h0M89 637h0M87 638h0M91 633h0M83 633h0M83 634h0M86 638h0M86 639h0M92 633h0M82 636h0M90 633h0M83 629h0M87 632h0M93 636h0M86 636h0M83 632h0M92 632h0M90 630h0M84 636h0M83 634h0M88 637h0M87 628h0M95 631h0M85 638h0M87 637h0M95 635h0M91 635h0" stroke="#B090F0" stroke-width="3.20" stroke-linecap="round"/>
<path d="M48.3 321.4C49 319.8 50.8 318.4 52.4 317.3C54 316.3 56.3 315 57.9 315.3C59.5 315.5 60.8 317.2 62 318.7C63.1 320.2 64.5 322.4 64.7 324.2C65 326 64.5 328.5 63.4 329.7C62.2 330.8 59.7 330.9 57.9 331C56.1 331.1 54 331 52.4 330.3C50.8 329.7 49 328.4 48.3 326.9C47.6 325.4 47.6 323 48.3 321.4Z" fill="#CC2068"/>
<path transform="scale(.5)" d="M102 637h0M101 638h0M96 641h0M107 635h0M98 642h0M102 642h0M114 631h0M113 633h0M106 634h0M108 634h0M110 633h0M113 632h0M116 631h0M124 637h0M122 638h0M121 636h0M118 634h0M119 631h0M119 631h0M126 639h0M122 637h0M122 640h0M127 637h0M130 643h0M121 643h0M125 640h0M128 654h0M125 657h0M130 653h0M126 655h0M124 650h0M127 653h0M118 659h0M127 661h0M120 663h0M114 664h0M123 655h0M117 665h0M110 662h0M107 658h0M113 664h0M112 658h0M106 657h0M113 660h0M98 658h0M99 659h0M100 656h0M103 659h0M100 657h0M100 658h0M96 653h0M96 648h0M97 655h0M95 648h0M93 650h0M98 650h0" stroke="#CC2068" stroke-width="2.60" stroke-linecap="round"/>
<path d="M40.8 326.9C41.1 325.7 42.9 324.9 44.2 324.9C45.4 324.9 47.4 325.9 48.3 326.9C49.2 327.9 49.9 330 49.7 331C49.4 332.1 48.2 332.9 46.9 333.1C45.7 333.3 43.2 333.4 42.1 332.4C41.1 331.4 40.4 328.2 40.8 326.9Z" fill="#EA5010"/>
<path transform="scale(.5)" d="M84 651h0M84 654h0M85 653h0M89 651h0M95 651h0M88 652h0M91 652h0M92 649h0M93 655h0M95 655h0M99 660h0M94 654h0M98 657h0M98 659h0M96 662h0M94 664h0M94 664h0M96 665h0M94 665h0M93 667h0M92 668h0M90 667h0M92 665h0M84 666h0M83 656h0M83 660h0M85 661h0M85 665h0M82 657h0" stroke="#EA5010" stroke-width="2.60" stroke-linecap="round"/>
<path transform="scale(.5)" d="M130 694h0M130 691h0M128 691h0M128 692h0M131 690h0M127 694h0M129 690h0M129 695h0M131 691h0M128 693h0M120 698h0M127 695h0M129 692h0M121 701h0M127 693h0M119 700h0M123 701h0M120 701h0" stroke="#E860D0" stroke-width="3.20" stroke-linecap="round"/>
<path d="M134.7 268.7V354.9H215.0" fill="none" stroke="#707070" stroke-width="0.75"/>
<text class="k m" x="156.8" y="359.2">-25</text>
<text class="k m" x="179.0" y="359.2">0</text>
<text class="k m" x="200.5" y="359.2">25</text>
<text class="k e" x="133.1" y="274.1">50</text>
<text class="k e" x="133.1" y="292.8">25</text>
<text class="k e" x="133.1" y="313.5">0</text>
<text class="k e" x="133.1" y="333.1">-25</text>
<text class="k e" x="133.1" y="353.1">-50</text>
<path d="M156.8 354.9v1.2M179.0 354.9v1.2M200.5 354.9v1.2M134.7 273.0h-1.2M134.7 291.7h-1.2M134.7 312.4h-1.2M134.7 332.0h-1.2M134.7 352.0h-1.2" stroke="#6a6a6a" stroke-width="0.5"/>
<text class="k m" x="174.8" y="362.5">tSNE_1</text>
<text class="k m" transform="translate(127.5 311.8) rotate(-90)">tSNE_2</text>
<circle cx="221.8" cy="288.9" r="1.15" fill="#86F4CA"/>
<text class="k" x="225.4" y="290.0">0</text>
<circle cx="221.8" cy="292.5" r="1.15" fill="#3E94E6"/>
<text class="k" x="225.4" y="293.6">1</text>
<circle cx="221.8" cy="296.1" r="1.15" fill="#3A9CB8"/>
<text class="k" x="225.4" y="297.2">2</text>
<circle cx="221.8" cy="299.7" r="1.15" fill="#2414DC"/>
<text class="k" x="225.4" y="300.8">3</text>
<circle cx="221.8" cy="303.4" r="1.15" fill="#7A1EE0"/>
<text class="k" x="225.4" y="304.5">4</text>
<circle cx="221.8" cy="307.0" r="1.15" fill="#BC22A6"/>
<text class="k" x="225.4" y="308.1">5</text>
<circle cx="221.8" cy="310.6" r="1.15" fill="#CC2068"/>
<text class="k" x="225.4" y="311.7">6</text>
<circle cx="221.8" cy="314.2" r="1.15" fill="#D42222"/>
<text class="k" x="225.4" y="315.3">7</text>
<circle cx="221.8" cy="317.8" r="1.15" fill="#E8461C"/>
<text class="k" x="225.4" y="318.9">8</text>
<circle cx="221.8" cy="321.4" r="1.15" fill="#EA6A22"/>
<text class="k" x="225.4" y="322.6">9</text>
<circle cx="221.8" cy="325.1" r="1.15" fill="#AE8CF6"/>
<text class="k" x="225.4" y="326.2">10</text>
<circle cx="221.8" cy="328.7" r="1.15" fill="#C474F0"/>
<text class="k" x="225.4" y="329.8">11</text>
<circle cx="221.8" cy="332.3" r="1.15" fill="#E46AE8"/>
<text class="k" x="225.4" y="333.4">12</text>
<circle cx="221.8" cy="335.9" r="1.15" fill="#E46AE8"/>
<text class="k" x="225.4" y="337.0">13</text>
<path d="M150.7 289.7C151.4 287.8 152.7 284.3 154.3 282.5C155.9 280.7 158.7 280 160.3 278.8C161.9 277.6 163.1 276.3 163.9 275.2C164.7 274.1 164.7 271.8 165.1 272.2C165.5 272.6 165.7 275.9 166.3 277.6C166.9 279.3 168.1 280 168.7 282.5C169.3 284.9 170.3 289.7 169.9 292.1C169.5 294.5 167.7 295.9 166.3 296.9C164.9 297.9 163.5 298.1 161.5 298.1C159.5 298.1 156.2 297.6 154.3 296.9C152.4 296.2 150.7 295.1 150.1 293.9C149.5 292.7 150 291.6 150.7 289.7Z" fill="#C42070"/>
<path transform="scale(.5)" d="M302 577h0M302 569h0M310 565h0M306 570h0M305 570h0M311 565h0M305 572h0M305 576h0M309 571h0M311 558h0M311 563h0M311 561h0M321 556h0M316 563h0M316 564h0M311 560h0M311 565h0M327 552h0M327 550h0M324 552h0M318 559h0M325 553h0M323 557h0M326 546h0M332 550h0M323 553h0M332 547h0M330 554h0M329 549h0M330 550h0M329 550h0M331 544h0M332 554h0M334 553h0M338 565h0M331 556h0M338 565h0M332 555h0M338 565h0M337 576h0M339 574h0M340 578h0M339 566h0M340 570h0M339 576h0M339 572h0M341 566h0M341 576h0M340 568h0M339 586h0M339 587h0M336 589h0M340 588h0M336 591h0M331 590h0M341 580h0M330 596h0M331 595h0M334 595h0M326 594h0M321 594h0M315 597h0M317 597h0M325 594h0M321 596h0M314 594h0M314 596h0M321 598h0M317 593h0M305 591h0M305 591h0M302 593h0M305 590h0M308 596h0M302 591h0M302 587h0M302 579h0M301 580h0M301 581h0M300 579h0" stroke="#C42070" stroke-width="2.60" stroke-linecap="round"/>
<path d="M171.1 282.5C171.1 281.7 174.4 280.8 176 280C177.6 279.3 179 278.3 180.8 278.2C182.6 278.1 184.8 278.9 186.8 279.4C188.8 279.9 190.8 280.9 192.8 281.3C194.8 281.7 197.4 281.1 198.9 281.9C200.3 282.7 201.3 284.4 201.3 286.1C201.3 287.8 200.1 290.7 198.9 292.1C197.7 293.5 195.8 294 194 294.5C192.2 295 189.8 294.9 188 295.1C186.2 295.3 184.8 295.9 183.2 295.7C181.6 295.5 179.4 294.9 178.4 293.9C177.4 292.9 177.6 291.2 177.2 289.7C176.8 288.2 177 286.1 176 284.9C175 283.7 171.1 283.3 171.1 282.5Z" fill="#D82020"/>
<path transform="scale(.5)" d="M348 560h0M346 561h0M347 561h0M344 560h0M342 565h0M343 566h0M353 556h0M359 557h0M360 555h0M357 557h0M354 559h0M361 555h0M368 555h0M369 560h0M364 557h0M362 555h0M372 558h0M362 558h0M364 560h0M378 559h0M374 559h0M374 560h0M383 563h0M377 559h0M380 559h0M375 558h0M392 566h0M395 564h0M386 564h0M396 564h0M392 563h0M387 565h0M384 562h0M401 567h0M402 566h0M402 568h0M398 563h0M400 570h0M396 581h0M403 574h0M405 575h0M401 572h0M399 572h0M401 572h0M403 577h0M392 587h0M400 585h0M399 584h0M394 587h0M395 585h0M393 584h0M385 589h0M376 590h0M383 590h0M379 592h0M378 590h0M382 587h0M383 591h0M369 588h0M369 590h0M362 590h0M368 593h0M370 590h0M366 593h0M366 594h0M364 588h0M360 590h0M360 592h0M361 587h0M355 580h0M357 587h0M356 583h0M360 587h0M358 585h0M353 574h0M350 571h0M355 577h0M350 574h0M353 568h0M350 567h0M347 567h0M345 567h0M344 563h0M344 565h0M349 569h0" stroke="#D82020" stroke-width="2.60" stroke-linecap="round"/>
<path transform="scale(.5)" d="M351 557h0M350 556h0M358 559h0M352 558h0M356 554h0M357 559h0M358 558h0M353 557h0M352 559h0" stroke="#E46AE8" stroke-width="3.20" stroke-linecap="round"/>
<path d="M156.7 304.1C157.7 302.5 159.5 299.9 161.5 298.1C163.5 296.3 166.1 294.3 168.7 293.3C171.3 292.3 174.4 291.9 177.2 292.1C180 292.3 183.2 293.5 185.6 294.5C188 295.5 190.2 296.7 191.6 298.1C193 299.5 194 301.5 194 302.9C194 304.3 193 305.8 191.6 306.6C190.2 307.4 188.6 307 185.6 307.8C182.6 308.6 178.4 310.7 173.6 311.4C168.7 312.1 159.7 312.6 156.7 312C153.7 311.4 155.5 309.1 155.5 307.8C155.5 306.5 155.7 305.8 156.7 304.1Z" fill="#86F4CA"/>
<path transform="scale(.5)" d="M320 599h0M319 604h0M316 607h0M319 605h0M320 603h0M316 608h0M319 603h0M314 606h0M320 605h0M328 593h0M332 590h0M326 595h0M334 591h0M331 589h0M333 587h0M338 590h0M326 594h0M332 592h0M328 595h0M345 585h0M342 586h0M344 582h0M350 585h0M337 587h0M353 582h0M357 587h0M352 585h0M353 587h0M347 589h0M367 587h0M365 587h0M358 588h0M366 586h0M369 589h0M357 584h0M369 587h0M366 588h0M353 584h0M360 587h0M378 593h0M375 590h0M375 592h0M372 589h0M378 594h0M376 593h0M373 588h0M373 591h0M389 607h0M384 595h0M383 601h0M389 603h0M387 603h0M387 600h0M385 612h0M384 612h0M388 610h0M383 611h0M386 612h0M380 612h0M383 614h0M377 615h0M377 615h0M379 617h0M372 619h0M378 617h0M354 622h0M359 619h0M368 613h0M352 623h0M370 618h0M368 616h0M360 618h0M366 617h0M344 624h0M362 616h0M349 623h0M349 621h0M362 617h0M363 620h0M364 618h0M324 623h0M327 621h0M326 624h0M331 623h0M324 623h0M340 621h0M333 624h0M321 624h0M314 621h0M328 623h0M346 622h0M332 622h0M333 618h0M325 627h0M325 624h0M317 623h0M333 622h0M341 621h0M338 625h0M319 627h0M311 618h0M313 618h0M312 617h0M312 623h0M311 622h0M314 616h0M316 612h0M310 611h0M312 615h0" stroke="#86F4CA" stroke-width="2.60" stroke-linecap="round"/>
<path d="M158.3 305.0C161.3 304.1 177 304.3 180.2 305C183.4 305.7 179.3 308 177.5 309.1C175.6 310.3 171.8 311.6 169.2 311.8C166.7 312.1 164.2 311.6 162.4 310.5C160.6 309.3 155.3 305.9 158.3 305Z" fill="#86F4CA"/>
<path transform="scale(.5)" d="M343 607h0M332 605h0M354 612h0M341 610h0M326 607h0M342 608h0M348 613h0M352 609h0M328 613h0M337 610h0M338 608h0M338 609h0M321 609h0M361 609h0M349 609h0M325 609h0M355 610h0M338 609h0M344 611h0M353 613h0M353 611h0M344 611h0M357 611h0M333 610h0M334 611h0M320 608h0M356 614h0M360 609h0M360 615h0M354 620h0M356 612h0M340 623h0M346 622h0M353 622h0M352 619h0M342 619h0M346 623h0M341 620h0M340 622h0M355 618h0M340 624h0M337 626h0M332 624h0M334 623h0M334 623h0M332 624h0M327 621h0M328 624h0M334 623h0M320 615h0M319 617h0M324 618h0M317 612h0M326 622h0M320 610h0M324 620h0M326 619h0" stroke="#86F4CA" stroke-width="2.60" stroke-linecap="round"/>
<path d="M195.2 298.1C195.6 296.7 197.7 295.8 198.9 295.7C200.1 295.6 201.8 296.3 202.5 297.5C203.2 298.7 203.5 301.6 203.1 302.9C202.7 304.2 201.2 305.1 200.1 305.3C199 305.6 197.2 305.3 196.4 304.1C195.6 302.9 194.8 299.5 195.2 298.1Z" fill="#D080F0"/>
<path transform="scale(.5)" d="M391 595h0M396 593h0M396 593h0M397 594h0M391 593h0M402 590h0M405 594h0M403 597h0M397 586h0M408 608h0M408 601h0M405 596h0M409 602h0M404 598h0M406 599h0M405 606h0M402 608h0M405 604h0M403 607h0M398 609h0M397 609h0M391 607h0M394 608h0M391 608h0M394 604h0M394 600h0M391 596h0M392 605h0M390 598h0M391 608h0" stroke="#D080F0" stroke-width="2.60" stroke-linecap="round"/>
<path d="M143.4 304.1C143.8 302.7 145.2 300.9 146.4 300.5C147.7 300.1 149.1 301.1 150.7 301.7C152.3 302.3 155.1 303.1 156.1 304.1C157.1 305.1 157.2 306.8 156.7 307.8C156.2 308.8 154.7 309.7 153.1 310.2C151.5 310.7 148.6 311 147 310.8C145.5 310.6 144.6 310.1 144 309C143.4 307.9 143 305.6 143.4 304.1Z" fill="#D82818"/>
<path transform="scale(.5)" d="M291 605h0M290 608h0M289 604h0M290 601h0M285 607h0M298 601h0M296 600h0M295 603h0M303 601h0M297 600h0M307 607h0M305 606h0M301 601h0M305 606h0M310 609h0M304 606h0M301 604h0M310 613h0M313 609h0M313 613h0M312 606h0M309 621h0M312 615h0M310 619h0M316 616h0M313 618h0M297 622h0M295 619h0M302 621h0M304 619h0M305 621h0M305 619h0M299 620h0M288 619h0M294 623h0M290 619h0M293 622h0M287 611h0M285 612h0M290 613h0M286 616h0M289 616h0" stroke="#D82818" stroke-width="2.60" stroke-linecap="round"/>
<path d="M143.2 305.0C145.5 304.4 154.9 304.3 156.9 305C159 305.7 156.5 308.1 155.5 309.1C154.6 310.1 153 310.8 151.4 311.2C149.8 311.5 147.3 311.6 146 311.2C144.6 310.7 143.7 309.5 143.2 308.4C142.8 307.4 140.9 305.6 143.2 305Z" fill="#D82818"/>
<path transform="scale(.5)" d="M290 611h0M299 610h0M312 611h0M297 610h0M308 609h0M288 610h0M308 611h0M296 609h0M296 610h0M303 612h0M287 611h0M297 610h0M312 610h0M311 611h0M301 608h0M298 608h0M312 615h0M314 615h0M311 621h0M315 610h0M311 618h0M312 621h0M309 617h0M307 621h0M306 622h0M303 619h0M303 623h0M301 619h0M297 622h0M300 621h0M296 623h0M301 623h0M294 623h0M286 619h0M293 623h0M292 623h0M288 610h0M286 612h0M287 617h0M286 614h0" stroke="#D82818" stroke-width="2.60" stroke-linecap="round"/>
<path d="M151.4 311.8C152.1 310.7 154.1 309.8 155.5 309.8C157 309.8 159.7 310.8 160.3 311.8C161 312.9 160.5 314.9 159.7 316C158.9 317 156.9 317.9 155.5 318C154.2 318.1 152.1 317.7 151.4 316.6C150.8 315.6 150.8 313 151.4 311.8Z" fill="#EA6A22"/>
<path transform="scale(.5)" d="M309 623h0M307 621h0M309 621h0M310 622h0M310 623h0M312 622h0M317 623h0M314 618h0M312 620h0M313 621h0M313 623h0M321 627h0M322 629h0M321 625h0M318 630h0M317 633h0M309 636h0M317 634h0M317 633h0M314 632h0M310 633h0M302 635h0M308 635h0M310 633h0M308 637h0M302 626h0M303 630h0M303 630h0M303 623h0M303 628h0" stroke="#EA6A22" stroke-width="2.60" stroke-linecap="round"/>
<path d="M139.1 317.3C139.6 316.1 140 313.8 141.2 313.2C142.3 312.6 144.7 313 146 313.9C147.2 314.8 148.4 317 148.7 318.7C149 320.4 148.9 322.9 148 324.2C147.1 325.4 144.7 326.2 143.2 326.2C141.7 326.2 139.9 325.1 139.1 324.2C138.3 323.3 138.4 321.9 138.4 320.8C138.4 319.6 138.7 318.6 139.1 317.3Z" fill="#E84418"/>
<path transform="scale(.5)" d="M280 632h0M276 636h0M281 629h0M280 632h0M280 635h0M287 626h0M284 627h0M286 626h0M283 629h0M285 626h0M295 630h0M291 630h0M293 631h0M297 630h0M295 628h0M294 634h0M297 643h0M296 642h0M297 644h0M296 639h0M294 648h0M300 643h0M291 649h0M288 652h0M286 653h0M293 649h0M289 651h0M290 653h0M279 651h0M278 647h0M281 649h0M284 653h0M278 649h0M279 642h0M282 650h0M281 648h0M277 646h0M278 634h0M275 639h0M277 641h0M275 639h0" stroke="#E84418" stroke-width="2.60" stroke-linecap="round"/>
<path d="M142.5 318.7C142.9 318.1 144 317.4 144.6 317.6C145.2 317.8 146 319.3 146 320.1C146 320.8 145.2 321.9 144.6 322.1C144 322.3 142.9 321.7 142.5 321.2C142.2 320.6 142.2 319.3 142.5 318.7Z" fill="#fff" fill-opacity="0.8"/>
<path d="M149.4 324.2C150.2 323.2 152.4 322.1 154.2 321.4C156 320.8 159.1 319.6 160.3 320.1C161.6 320.5 162.3 322.8 161.7 324.2C161.1 325.5 158.6 327.3 156.9 328.3C155.2 329.3 152.7 330.5 151.4 330.3C150.2 330.2 149.7 328.6 149.4 327.6C149 326.6 148.6 325.2 149.4 324.2Z" fill="#A888F0"/>
<path transform="scale(.5)" d="M302 645h0M306 643h0M299 646h0M309 643h0M299 651h0M296 647h0M311 641h0M311 641h0M317 645h0M319 638h0M319 640h0M318 640h0M315 640h0M322 639h0M318 640h0M321 640h0M324 648h0M325 647h0M322 650h0M317 653h0M319 654h0M321 653h0M314 656h0M319 655h0M319 652h0M311 657h0M309 660h0M309 660h0M304 661h0M309 658h0M308 661h0M307 658h0M301 659h0M300 655h0M298 656h0M301 659h0M297 654h0M299 650h0M296 651h0M299 651h0" stroke="#A888F0" stroke-width="2.60" stroke-linecap="round"/>
<path d="M167.9 323.5C169 322.6 171.8 321.6 174.7 321.4C177.7 321.3 182 322.4 185.7 322.8C189.3 323.3 193.7 323.3 196.6 324.2C199.6 325.1 202.6 326.7 203.5 328.3C204.4 329.9 203.5 332.1 202.1 333.8C200.8 335.5 197.8 337.6 195.3 338.6C192.8 339.5 189.6 339.6 187.1 339.2C184.5 338.9 182.3 337.6 180.2 336.5C178.2 335.4 176.8 334 174.7 332.4C172.7 330.8 169 328.4 167.9 326.9C166.7 325.4 166.7 324.4 167.9 323.5Z" fill="#48B4C0"/>
<path transform="scale(.5)" d="M338 649h0M338 648h0M340 647h0M336 645h0M339 647h0M343 646h0M342 642h0M338 647h0M367 642h0M357 643h0M353 643h0M368 643h0M362 646h0M364 646h0M356 647h0M358 647h0M366 645h0M351 640h0M364 647h0M371 644h0M366 643h0M391 649h0M385 646h0M387 647h0M376 643h0M380 647h0M381 646h0M389 646h0M389 647h0M383 646h0M392 649h0M393 649h0M389 648h0M390 652h0M398 651h0M394 653h0M395 650h0M399 657h0M400 655h0M397 654h0M392 650h0M403 654h0M394 647h0M402 660h0M404 668h0M403 666h0M404 668h0M403 660h0M403 667h0M403 675h0M402 671h0M396 674h0M395 671h0M400 673h0M401 668h0M393 672h0M405 669h0M401 669h0M399 675h0M384 676h0M381 678h0M387 677h0M380 679h0M387 679h0M386 679h0M387 676h0M380 680h0M384 681h0M371 680h0M372 677h0M369 678h0M374 678h0M362 676h0M361 672h0M362 676h0M365 675h0M355 667h0M355 672h0M346 663h0M357 669h0M359 672h0M348 661h0M354 670h0M355 669h0M345 658h0M348 666h0M341 659h0M339 654h0M349 664h0M342 657h0M347 659h0M336 653h0M342 661h0M348 665h0M335 648h0M332 649h0M335 648h0M336 649h0" stroke="#48B4C0" stroke-width="2.60" stroke-linecap="round"/>
<path d="M165.1 328.3C165.6 326.5 166.5 325.1 167.9 325.5C169.2 326 171.1 329.3 173.4 331C175.6 332.7 178.8 334.7 181.6 335.8C184.3 337 188.2 336.8 189.8 337.9C191.4 338.9 191.6 340.4 191.2 342C190.7 343.6 188.9 346 187.1 347.5C185.2 348.9 182.3 350.5 180.2 350.9C178.2 351.2 176.6 350.5 174.7 349.5C172.9 348.5 170.8 346.9 169.2 344.7C167.6 342.6 165.8 339.2 165.1 336.5C164.5 333.8 164.7 330.1 165.1 328.3Z" fill="#3C84EC"/>
<path transform="scale(.5)" d="M332 657h0M333 650h0M332 652h0M336 652h0M345 659h0M347 661h0M338 652h0M343 657h0M346 658h0M341 660h0M342 657h0M336 653h0M340 654h0M362 668h0M356 664h0M349 662h0M350 665h0M355 666h0M353 666h0M346 660h0M364 674h0M352 669h0M358 667h0M355 670h0M375 672h0M377 674h0M377 676h0M373 674h0M367 670h0M377 674h0M366 672h0M376 676h0M368 672h0M378 677h0M381 682h0M382 677h0M379 685h0M381 680h0M381 678h0M377 688h0M379 689h0M376 690h0M376 695h0M375 688h0M374 692h0M377 692h0M376 694h0M375 700h0M366 697h0M373 697h0M369 698h0M361 702h0M363 700h0M360 697h0M372 694h0M370 698h0M352 698h0M355 700h0M358 701h0M349 696h0M351 700h0M357 703h0M343 691h0M343 694h0M351 699h0M340 691h0M346 698h0M343 694h0M350 695h0M339 689h0M336 686h0M333 681h0M332 674h0M338 686h0M334 677h0M335 681h0M331 678h0M333 679h0M341 691h0M335 684h0M337 682h0M329 661h0M331 668h0M329 669h0M333 671h0M330 665h0M329 666h0M330 660h0M330 666h0M328 668h0" stroke="#3C84EC" stroke-width="2.60" stroke-linecap="round"/>
<path d="M166.5 316.0C167.1 314.6 168.3 312.5 170.6 311.2C172.9 309.8 176.6 308.4 180.2 307.7C183.9 307.1 190 306.1 192.5 307.1C195 308 195 311.1 195.3 313.2C195.5 315.4 195 318.5 193.9 320.1C192.8 321.7 190.9 322.2 188.4 322.8C185.9 323.4 181.8 323.7 178.8 323.5C175.9 323.3 172.6 322.1 170.6 321.4C168.7 320.8 167.9 320.3 167.2 319.4C166.5 318.5 165.9 317.3 166.5 316Z" fill="#7A1EE0"/>
<path transform="scale(.5)" d="M341 622h0M337 625h0M335 630h0M334 633h0M341 625h0M336 628h0M333 630h0M350 617h0M350 621h0M349 618h0M358 616h0M344 622h0M351 620h0M352 626h0M359 618h0M358 615h0M345 620h0M344 619h0M352 617h0M379 617h0M368 617h0M381 614h0M365 615h0M372 617h0M373 613h0M361 614h0M369 615h0M365 614h0M373 611h0M386 614h0M372 616h0M380 617h0M387 614h0M390 625h0M387 620h0M384 620h0M385 620h0M391 624h0M389 626h0M390 622h0M389 624h0M391 629h0M394 628h0M389 628h0M388 636h0M388 636h0M393 629h0M390 632h0M387 636h0M387 639h0M384 642h0M376 642h0M378 648h0M378 643h0M380 645h0M380 650h0M377 643h0M364 643h0M375 646h0M375 650h0M372 645h0M358 646h0M369 645h0M372 644h0M376 647h0M361 649h0M361 646h0M356 650h0M341 645h0M344 643h0M344 642h0M351 644h0M360 646h0M350 645h0M347 644h0M348 645h0M357 647h0M340 643h0M339 641h0M338 640h0M340 640h0M335 635h0M333 638h0M335 636h0M334 638h0" stroke="#7A1EE0" stroke-width="2.60" stroke-linecap="round"/>
<path d="M171.1 312.0C168.3 311.1 178.4 308.1 180.8 306.6C183.2 305 184 303.3 185.6 302.9C187.2 302.5 188.8 303.5 190.4 304.1C192 304.7 194 305.2 195.2 306.6C196.4 307.9 201.7 311.1 197.7 312C193.6 312.9 174 312.9 171.1 312Z" fill="#7A1EE0"/>
<path transform="scale(.5)" d="M358 613h0M350 620h0M355 618h0M345 625h0M347 621h0M355 616h0M350 618h0M356 618h0M352 617h0M346 622h0M361 617h0M349 621h0M355 619h0M364 612h0M366 615h0M368 607h0M366 612h0M368 612h0M368 610h0M364 610h0M370 609h0M376 610h0M375 608h0M372 608h0M375 606h0M393 612h0M391 615h0M388 613h0M384 609h0M381 606h0M385 610h0M396 622h0M397 621h0M390 618h0M394 622h0M391 614h0M391 618h0M395 625h0M372 625h0M390 625h0M343 625h0M362 625h0M346 624h0M390 624h0M358 625h0M354 629h0M352 626h0M367 626h0M378 627h0M351 627h0M363 625h0M364 623h0M377 624h0M389 624h0M365 621h0M367 619h0M372 622h0M377 627h0M387 626h0M386 626h0M363 624h0M362 626h0M352 623h0M350 625h0M346 623h0M351 624h0M370 622h0M386 624h0M395 625h0" stroke="#7A1EE0" stroke-width="2.60" stroke-linecap="round"/>
<path d="M192.5 309.1C193.2 307.5 195.7 306.8 198 306.4C200.3 305.9 203.7 305.9 206.2 306.4C208.7 306.8 211.9 307.3 213.1 309.1C214.2 310.9 213.8 314.8 213.1 317.3C212.4 319.8 210.6 322.6 209 324.2C207.4 325.8 205.8 326.7 203.5 326.9C201.2 327.1 197.3 326.5 195.3 325.5C193.2 324.6 191.4 323 191.2 321.4C190.9 319.8 193.7 318 193.9 316C194.1 313.9 191.8 310.7 192.5 309.1Z" fill="#2414DC"/>
<path transform="scale(.5)" d="M392 612h0M392 614h0M393 614h0M391 616h0M392 617h0M390 615h0M396 615h0M403 612h0M407 612h0M404 614h0M413 611h0M412 607h0M399 613h0M402 613h0M404 611h0M397 615h0M418 615h0M418 613h0M414 615h0M423 619h0M416 615h0M422 617h0M419 615h0M423 620h0M428 625h0M426 620h0M424 630h0M429 628h0M428 619h0M426 622h0M424 629h0M427 632h0M426 634h0M423 638h0M426 636h0M424 637h0M428 637h0M420 645h0M428 634h0M421 644h0M421 647h0M426 637h0M416 648h0M411 653h0M416 648h0M414 650h0M410 652h0M415 647h0M416 650h0M397 656h0M404 653h0M405 657h0M393 651h0M398 652h0M399 648h0M404 656h0M393 652h0M403 650h0M388 646h0M389 653h0M383 644h0M392 651h0M384 642h0M389 649h0M387 638h0M387 635h0M387 637h0M385 634h0M387 638h0M385 638h0M389 635h0M384 628h0M389 630h0M387 619h0M388 631h0M387 623h0M386 629h0M389 624h0M384 631h0" stroke="#2414DC" stroke-width="2.60" stroke-linecap="round"/>
<path d="M197.7 309.0C198.7 308.1 200.5 307.1 202.5 306.6C204.5 306.1 207.7 305.8 209.7 306C211.7 306.2 213.6 306.8 214.5 307.8C215.4 308.8 218.1 311.3 215.1 312C212.1 312.7 199.4 312.5 196.4 312C193.5 311.5 196.6 309.9 197.7 309Z" fill="#2414DC"/>
<path transform="scale(.5)" d="M402 619h0M400 615h0M398 619h0M402 616h0M403 612h0M405 612h0M410 613h0M419 615h0M409 614h0M408 614h0M411 614h0M415 614h0M419 611h0M418 614h0M421 614h0M427 611h0M425 614h0M427 613h0M427 615h0M423 611h0M432 613h0M428 619h0M430 621h0M427 625h0M429 623h0M415 623h0M426 623h0M391 622h0M431 623h0M399 623h0M421 623h0M407 625h0M404 624h0M411 627h0M411 620h0M420 621h0M425 624h0M405 622h0M410 625h0M425 620h0M398 623h0M424 622h0M400 622h0M410 625h0M431 627h0M408 621h0M396 621h0M395 625h0M395 623h0M393 618h0" stroke="#2414DC" stroke-width="2.60" stroke-linecap="round"/>
<path d="M244.7 268.7V354.9H325.0" fill="none" stroke="#707070" stroke-width="0.75"/>
<text class="k m" x="263.8" y="359.2">-20</text>
<text class="k m" x="284.8" y="359.2">0</text>
<text class="k m" x="307.2" y="359.2">20</text>
<text class="k e" x="243.1" y="288.1">20</text>
<text class="k e" x="243.1" y="308.6">0</text>
<text class="k e" x="243.1" y="329.9">-20</text>
<text class="k e" x="243.1" y="350.6">-40</text>
<path d="M263.8 354.9v1.2M284.8 354.9v1.2M307.2 354.9v1.2M244.7 287.0h-1.2M244.7 307.5h-1.2M244.7 328.8h-1.2M244.7 349.5h-1.2" stroke="#6a6a6a" stroke-width="0.5"/>
<text class="k m" x="284.9" y="362.5">tSNE_1</text>
<text class="k m" transform="translate(237.5 311.8) rotate(-90)">tSNE_2</text>
<circle cx="331.6" cy="292.5" r="1.15" fill="#86F4CA"/>
<text class="k" x="335.2" y="293.6">0</text>
<circle cx="331.6" cy="296.1" r="1.15" fill="#3E94E6"/>
<text class="k" x="335.2" y="297.2">1</text>
<circle cx="331.6" cy="299.7" r="1.15" fill="#3A9CB8"/>
<text class="k" x="335.2" y="300.8">2</text>
<circle cx="331.6" cy="303.3" r="1.15" fill="#5012DC"/>
<text class="k" x="335.2" y="304.4">3</text>
<circle cx="331.6" cy="307.0" r="1.15" fill="#BC22A6"/>
<text class="k" x="335.2" y="308.1">4</text>
<circle cx="331.6" cy="310.6" r="1.15" fill="#CC2068"/>
<text class="k" x="335.2" y="311.7">5</text>
<circle cx="331.6" cy="314.2" r="1.15" fill="#D42222"/>
<text class="k" x="335.2" y="315.3">6</text>
<circle cx="331.6" cy="317.8" r="1.15" fill="#E8461C"/>
<text class="k" x="335.2" y="318.9">7</text>
<circle cx="331.6" cy="321.4" r="1.15" fill="#E8AC44"/>
<text class="k" x="335.2" y="322.5">8</text>
<circle cx="331.6" cy="325.1" r="1.15" fill="#AE8CF6"/>
<text class="k" x="335.2" y="326.2">9</text>
<circle cx="331.6" cy="328.7" r="1.15" fill="#E46AE8"/>
<text class="k" x="335.2" y="329.8">10</text>
<circle cx="331.6" cy="332.3" r="1.15" fill="#C474F0"/>
<text class="k" x="335.2" y="333.4">11</text>
<path d="M275.7 273.4C276.3 272.7 278.2 271.8 279.9 271.6C281.6 271.4 284.4 271.8 286 272.2C287.6 272.6 289.1 273.1 289.6 274C290.1 274.9 289.8 276.7 289 277.6C288.2 278.5 286.2 279.3 284.8 279.4C283.4 279.5 281.9 278.8 280.5 278.2C279.1 277.6 277.1 276.6 276.3 275.8C275.5 275 275.1 274.1 275.7 273.4Z" fill="#E84418"/>
<path transform="scale(.5)" d="M560 542h0M554 547h0M552 548h0M558 542h0M555 544h0M571 543h0M566 541h0M567 545h0M571 543h0M561 543h0M565 543h0M570 545h0M579 548h0M570 544h0M578 550h0M575 547h0M579 551h0M579 554h0M577 550h0M579 553h0M570 557h0M578 553h0M576 557h0M573 553h0M569 558h0M566 557h0M567 558h0M567 560h0M564 557h0M564 558h0M563 557h0M558 553h0M555 554h0M557 555h0M559 554h0M554 550h0M554 549h0" stroke="#E84418" stroke-width="2.60" stroke-linecap="round"/>
<path d="M252.2 289.7C253.6 287.7 256 286.1 258.3 284.9C260.5 283.7 263.3 283.3 265.5 282.5C267.7 281.7 270.1 279.8 271.5 280C272.9 280.2 273.4 282.1 273.9 283.7C274.4 285.3 274.7 287.7 274.5 289.7C274.3 291.7 272.8 293.9 272.7 295.7C272.6 297.5 274.3 299.1 273.9 300.5C273.5 301.9 272.1 303.1 270.3 304.1C268.5 305.1 265.7 306.4 263.1 306.6C260.5 306.8 257 306 254.6 305.3C252.2 304.7 249.4 304.3 248.6 302.9C247.8 301.5 249.2 299.1 249.8 296.9C250.4 294.7 250.8 291.7 252.2 289.7Z" fill="#4498E0"/>
<path transform="scale(.5)" d="M509 579h0M504 577h0M510 578h0M513 576h0M503 579h0M518 569h0M517 571h0M512 574h0M504 576h0M516 567h0M531 565h0M527 570h0M519 566h0M521 569h0M521 570h0M515 567h0M522 568h0M525 567h0M533 562h0M531 561h0M542 562h0M539 561h0M529 563h0M537 563h0M533 563h0M541 563h0M547 562h0M544 563h0M544 566h0M544 557h0M548 570h0M546 572h0M549 578h0M549 570h0M548 574h0M546 570h0M549 567h0M544 584h0M546 593h0M543 593h0M549 587h0M549 582h0M548 590h0M547 581h0M545 598h0M549 599h0M546 595h0M548 596h0M548 596h0M538 608h0M540 611h0M538 606h0M542 609h0M542 601h0M541 603h0M535 607h0M531 609h0M525 613h0M532 611h0M530 612h0M533 610h0M535 609h0M539 607h0M537 611h0M513 610h0M512 611h0M519 612h0M507 610h0M518 612h0M521 614h0M512 612h0M517 609h0M521 613h0M523 615h0M505 608h0M511 608h0M505 611h0M503 609h0M509 608h0M499 607h0M499 605h0M501 593h0M496 597h0M497 598h0M498 604h0M497 602h0M496 604h0M499 602h0M501 589h0M505 582h0M502 588h0M499 588h0M501 591h0M502 586h0M503 584h0M505 583h0M506 584h0" stroke="#4498E0" stroke-width="2.60" stroke-linecap="round"/>
<path d="M264.9 295.1C265.5 294.2 267.6 293.4 268.5 293.9C269.4 294.4 270.4 297 270.3 298.1C270.2 299.2 268.8 300.3 267.9 300.5C267 300.7 265.4 300.2 264.9 299.3C264.4 298.4 264.3 296 264.9 295.1Z" fill="#fff" fill-opacity="0.6"/>
<path d="M281.1 287.3C281.3 285.7 282.1 283.7 283.6 282.5C285 281.3 287.4 280.2 289.6 280C291.8 279.8 294.4 280.4 296.8 281.3C299.2 282.1 302.2 283.7 304 284.9C305.8 286.1 306.8 287.1 307.7 288.5C308.5 289.9 309.3 291.9 308.9 293.3C308.5 294.7 306.8 296.1 305.2 296.9C303.6 297.7 301.2 298.1 299.2 298.1C297.2 298.1 295.4 297.5 293.2 296.9C291 296.3 287.8 295.3 286 294.5C284.2 293.7 283.2 293.3 282.3 292.1C281.5 290.9 280.9 288.9 281.1 287.3Z" fill="#3A9AB8"/>
<path transform="scale(.5)" d="M562 572h0M565 568h0M564 577h0M566 572h0M562 574h0M564 574h0M573 567h0M576 561h0M572 561h0M569 565h0M570 564h0M567 565h0M573 563h0M579 559h0M581 563h0M583 561h0M582 559h0M578 560h0M594 566h0M582 561h0M587 563h0M601 563h0M599 560h0M606 568h0M602 566h0M596 564h0M607 567h0M594 562h0M602 567h0M605 571h0M613 575h0M609 571h0M615 577h0M617 579h0M613 574h0M616 575h0M614 576h0M618 583h0M617 586h0M612 579h0M614 581h0M613 595h0M616 588h0M615 590h0M610 591h0M615 587h0M618 588h0M606 596h0M603 596h0M610 595h0M608 597h0M610 592h0M600 596h0M601 597h0M591 593h0M588 594h0M596 595h0M595 597h0M599 597h0M597 596h0M589 592h0M583 596h0M577 587h0M581 595h0M583 591h0M586 594h0M578 590h0M578 593h0M573 588h0M582 591h0M568 581h0M565 586h0M569 588h0M565 584h0M564 582h0M565 577h0M563 582h0M562 578h0M560 581h0M564 577h0" stroke="#3A9AB8" stroke-width="2.60" stroke-linecap="round"/>
<path transform="scale(.5)" d="M641 582h0M641 586h0M644 589h0M628 586h0M633 586h0M630 585h0M634 589h0M637 583h0M641 583h0M631 588h0M641 585h0M623 588h0M635 585h0M627 584h0M624 584h0M627 584h0M642 587h0M624 585h0M636 584h0M634 584h0M646 583h0M627 586h0M624 588h0M624 588h0M645 584h0M636 587h0M637 582h0M635 584h0M644 584h0M636 582h0M636 588h0M632 585h0M628 588h0M634 583h0M643 586h0M639 582h0M631 584h0M639 582h0" stroke="#E8B050" stroke-width="3.20" stroke-linecap="round"/>
<path d="M283.4 310.5C283.9 309.2 284.5 308 286.1 307.1C287.7 306.1 288.2 305.3 292.9 305C297.7 304.7 310.8 304.1 314.9 305C319 305.9 317.8 308.4 317.6 310.5C317.4 312.5 315.3 315.5 313.5 317.3C311.7 319.2 308.9 320.5 306.6 321.4C304.4 322.4 302.3 322.8 299.8 322.8C297.3 322.8 293.9 322.1 291.6 321.4C289.3 320.8 287.6 319.8 286.1 318.7C284.6 317.6 283.1 316 282.7 314.6C282.2 313.2 282.8 311.7 283.4 310.5Z" fill="#86F4CA"/>
<path transform="scale(.5)" d="M572 617h0M570 614h0M570 621h0M568 621h0M569 617h0M578 611h0M586 610h0M582 610h0M571 614h0M587 611h0M576 618h0M578 611h0M577 613h0M616 612h0M602 610h0M621 610h0M611 612h0M599 613h0M601 608h0M617 609h0M610 609h0M617 611h0M624 608h0M599 610h0M590 612h0M630 611h0M609 605h0M621 613h0M613 608h0M610 612h0M624 611h0M624 609h0M601 612h0M591 612h0M599 610h0M591 610h0M595 610h0M597 611h0M600 610h0M632 613h0M633 619h0M629 611h0M633 619h0M631 614h0M630 609h0M632 622h0M635 625h0M626 631h0M632 625h0M630 630h0M632 633h0M631 631h0M628 628h0M630 627h0M629 629h0M624 637h0M616 640h0M629 634h0M618 641h0M624 639h0M615 641h0M624 637h0M629 638h0M613 642h0M611 646h0M599 645h0M602 647h0M604 649h0M611 644h0M602 646h0M609 643h0M612 642h0M584 642h0M595 645h0M585 642h0M582 644h0M588 644h0M600 646h0M590 642h0M594 644h0M595 645h0M581 644h0M578 640h0M582 643h0M576 641h0M581 639h0M576 639h0M574 635h0M571 635h0M571 634h0M565 635h0M571 636h0M568 634h0M573 632h0M563 631h0M564 628h0M565 625h0M566 624h0" stroke="#86F4CA" stroke-width="2.60" stroke-linecap="round"/>
<path d="M283.6 309.0C284.8 307.9 288 306.6 290.8 305.3C293.6 304.1 297 302.5 300.4 301.7C303.8 300.9 308.7 300.1 311.3 300.5C313.9 300.9 315.1 302.2 316.1 304.1C317.1 306.1 322.7 310.7 317.3 312C311.9 313.3 289.2 312.5 283.6 312C277.9 311.5 282.3 310.1 283.6 309Z" fill="#86F4CA"/>
<path transform="scale(.5)" d="M583 611h0M578 613h0M568 617h0M569 618h0M569 619h0M571 618h0M575 620h0M574 616h0M581 610h0M582 608h0M587 607h0M589 606h0M587 606h0M587 608h0M591 609h0M592 606h0M588 609h0M582 609h0M600 602h0M581 611h0M600 606h0M598 604h0M600 606h0M617 600h0M622 598h0M603 599h0M606 602h0M617 601h0M615 604h0M623 600h0M614 601h0M604 600h0M612 602h0M611 602h0M626 603h0M633 604h0M624 601h0M623 600h0M622 600h0M627 606h0M625 602h0M632 614h0M635 607h0M634 611h0M634 617h0M632 619h0M630 615h0M635 618h0M632 618h0M632 616h0M597 624h0M583 626h0M604 623h0M575 625h0M590 623h0M584 622h0M599 621h0M591 621h0M610 623h0M581 625h0M593 624h0M576 623h0M593 626h0M602 625h0M575 622h0M593 622h0M588 622h0M577 624h0M607 626h0M570 624h0M613 619h0M601 622h0M564 624h0M569 622h0M608 623h0M627 625h0M590 626h0M581 622h0M619 623h0M627 629h0M625 622h0M625 623h0M578 624h0M597 619h0M616 622h0M609 619h0M618 620h0M605 626h0M631 625h0M600 623h0M567 622h0M568 617h0M567 619h0" stroke="#86F4CA" stroke-width="2.60" stroke-linecap="round"/>
<path d="M276.3 300.5C277.1 299.1 278.7 297.1 279.9 295.7C281.1 294.3 282.1 292.5 283.6 292.1C285 291.7 287 292.3 288.4 293.3C289.8 294.3 291.2 296.3 292 298.1C292.8 299.9 293.4 302.5 293.2 304.1C293 305.8 292.2 306.9 290.8 307.8C289.4 308.7 286.8 309.4 284.8 309.6C282.8 309.8 280.3 309.9 278.7 309C277.1 308.1 275.5 305.6 275.1 304.1C274.7 302.7 275.5 301.9 276.3 300.5Z" fill="#BC22A6"/>
<path transform="scale(.5)" d="M552 601h0M557 597h0M553 599h0M556 598h0M559 592h0M553 602h0M561 593h0M562 588h0M570 587h0M563 587h0M569 587h0M563 593h0M563 591h0M572 587h0M571 582h0M576 585h0M573 586h0M569 584h0M582 593h0M577 589h0M581 593h0M581 591h0M583 594h0M583 595h0M578 589h0M589 600h0M586 601h0M585 607h0M586 604h0M585 601h0M586 608h0M589 608h0M585 613h0M580 615h0M588 612h0M582 616h0M582 616h0M581 616h0M578 612h0M578 616h0M574 622h0M572 616h0M576 618h0M575 620h0M568 621h0M562 621h0M562 619h0M564 619h0M560 617h0M568 618h0M569 617h0M548 612h0M558 616h0M556 618h0M557 617h0M557 616h0M552 610h0M550 609h0M552 603h0M554 603h0M550 604h0M550 603h0" stroke="#BC22A6" stroke-width="2.60" stroke-linecap="round"/>
<path d="M276.5 305.0C278.3 304.3 289.5 304.4 291.6 305C293.6 305.6 290.7 307.7 288.8 308.4C287 309.1 282.7 309.7 280.6 309.1C278.6 308.5 274.7 305.7 276.5 305Z" fill="#BC22A6"/>
<path transform="scale(.5)" d="M554 609h0M561 607h0M573 609h0M574 611h0M573 611h0M567 607h0M579 615h0M555 609h0M573 611h0M559 610h0M568 610h0M564 608h0M562 610h0M554 610h0M566 608h0M567 610h0M559 611h0M559 614h0M578 614h0M579 614h0M579 615h0M580 611h0M580 613h0M569 615h0M568 619h0M569 619h0M580 616h0M578 618h0M574 617h0M571 616h0M565 618h0M575 617h0M553 609h0M554 613h0M559 616h0M560 616h0M554 612h0M554 612h0" stroke="#BC22A6" stroke-width="2.60" stroke-linecap="round"/>
<path d="M256.0 316.0C256.2 314.2 257.1 312.1 258.7 311.2C260.3 310.3 263 310.5 265.5 310.5C268.1 310.5 271.3 310.5 273.8 311.2C276.3 311.8 279 313.1 280.6 314.6C282.2 316.1 283.4 318.5 283.4 320.1C283.4 321.7 282.4 323.3 280.6 324.2C278.8 325.1 275.1 325.4 272.4 325.5C269.7 325.7 266.7 325.5 264.2 324.9C261.7 324.2 258.7 322.9 257.3 321.4C256 320 255.7 317.7 256 316Z" fill="#3A12DC"/>
<path transform="scale(.5)" d="M514 631h0M516 627h0M511 626h0M512 631h0M516 624h0M513 630h0M516 626h0M526 622h0M528 621h0M526 620h0M520 621h0M527 622h0M524 621h0M528 624h0M534 618h0M543 621h0M533 620h0M529 622h0M535 622h0M541 625h0M535 623h0M538 622h0M539 622h0M549 624h0M547 618h0M550 624h0M549 628h0M557 629h0M549 625h0M553 626h0M543 621h0M557 628h0M568 637h0M563 631h0M563 628h0M563 632h0M569 633h0M570 642h0M564 636h0M567 644h0M563 646h0M566 645h0M562 646h0M565 645h0M554 651h0M546 652h0M555 652h0M547 650h0M558 653h0M548 648h0M559 646h0M549 652h0M545 649h0M546 655h0M543 651h0M542 651h0M532 650h0M531 650h0M533 651h0M538 652h0M533 654h0M537 650h0M525 648h0M524 647h0M527 646h0M524 649h0M522 646h0M523 649h0M515 640h0M529 651h0M518 645h0M511 634h0M511 636h0M512 637h0M512 637h0M515 640h0M513 639h0" stroke="#3A12DC" stroke-width="2.60" stroke-linecap="round"/>
<path d="M257.0 312.0C255 311.7 260.3 310.6 263.1 310.2C265.9 309.8 271.9 309.3 273.9 309.6C275.9 309.9 277.9 311.6 275.1 312C272.3 312.4 259.1 312.3 257 312Z" fill="#3A12DC"/>
<path transform="scale(.5)" d="M519 622h0M526 620h0M518 624h0M521 620h0M525 619h0M517 621h0M518 622h0M544 622h0M541 621h0M529 621h0M540 622h0M534 622h0M545 618h0M534 619h0M532 617h0M543 619h0M542 621h0M536 619h0M531 618h0M541 615h0M549 618h0M548 623h0M548 624h0M526 625h0M526 624h0M536 624h0M543 624h0M538 626h0M517 625h0M522 625h0M545 624h0M523 624h0M521 625h0M524 623h0M536 621h0M524 627h0M551 626h0M527 627h0M518 625h0M526 626h0M525 624h0M523 625h0M537 623h0M542 620h0" stroke="#3A12DC" stroke-width="2.60" stroke-linecap="round"/>
<path transform="scale(.5)" d="M554 658h0M556 653h0M557 655h0M552 654h0M557 651h0M555 654h0M556 654h0M555 658h0M558 657h0M555 654h0M552 654h0M557 653h0M558 661h0M557 661h0M555 653h0M559 657h0M554 654h0M559 653h0" stroke="#C888F0" stroke-width="3.20" stroke-linecap="round"/>
<path transform="scale(.5)" d="M577 651h0M587 654h0M588 652h0M582 647h0M584 655h0M583 647h0M580 654h0M580 654h0M587 651h0M582 652h0M580 650h0M580 654h0M587 650h0M577 651h0M586 650h0M580 656h0M581 656h0M580 651h0M581 647h0M577 651h0M576 651h0M581 647h0M580 656h0" stroke="#E46AE8" stroke-width="3.20" stroke-linecap="round"/>
<path transform="scale(.5)" d="M620 658h0M621 660h0M622 661h0M618 658h0M625 659h0M621 660h0M622 661h0M619 656h0" stroke="#E46AE8" stroke-width="3.20" stroke-linecap="round"/>
<path transform="scale(.5)" d="M575 665h0M577 667h0M572 671h0M573 671h0M570 664h0M569 668h0M576 668h0M571 663h0M575 666h0M569 663h0M571 663h0M570 664h0M572 671h0M570 669h0" stroke="#E060C0" stroke-width="3.20" stroke-linecap="round"/>
<path d="M290.2 333.8C291.1 332.5 291.8 331.6 292.9 331C294.1 330.5 295.7 329.7 297.1 330.3C298.4 331 300.3 333.7 301.2 335.1C302.1 336.6 302.8 337.9 302.5 339.2C302.3 340.6 300.9 342.6 299.8 343.4C298.7 344.2 297.1 344.5 295.7 344C294.3 343.6 293.2 341.1 291.6 340.6C290 340.2 286.8 341.6 286.1 341.3C285.4 341 286.8 339.8 287.5 338.6C288.2 337.3 289.3 335 290.2 333.8Z" fill="#D82818"/>
<path transform="scale(.5)" d="M581 669h0M585 663h0M583 663h0M585 662h0M594 661h0M586 662h0M599 662h0M591 663h0M597 665h0M597 664h0M600 664h0M591 660h0M604 668h0M598 666h0M594 664h0M601 670h0M602 672h0M608 672h0M604 675h0M605 670h0M601 684h0M602 686h0M600 681h0M597 685h0M605 685h0M597 689h0M592 689h0M600 684h0M600 687h0M586 681h0M586 684h0M589 684h0M591 689h0M583 680h0M588 686h0M576 684h0M581 680h0M577 683h0M574 684h0M573 682h0M577 682h0M572 679h0M575 676h0M572 680h0M575 669h0M575 676h0M576 679h0M581 667h0M581 666h0M577 673h0" stroke="#D82818" stroke-width="2.60" stroke-linecap="round"/>
<path d="M275.1 341.3C275.8 340 276.7 338.6 277.9 337.9C279 337.2 280.8 336.6 282 337.2C283.1 337.8 283.6 340.6 284.7 341.3C285.9 342 288.6 340.7 288.8 341.3C289.1 341.9 286.8 343.5 286.1 344.7C285.4 346 285.6 347.8 284.7 348.8C283.8 349.9 282 350.8 280.6 350.9C279.2 351 277.6 350.4 276.5 349.5C275.4 348.6 274 346.8 273.8 345.4C273.5 344 274.5 342.6 275.1 341.3Z" fill="#C82050"/>
<path transform="scale(.5)" d="M554 674h0M553 679h0M555 676h0M560 674h0M549 684h0M553 676h0M559 674h0M562 674h0M556 676h0M567 679h0M564 673h0M568 682h0M569 682h0M566 673h0M571 681h0M568 678h0M578 686h0M571 684h0M576 688h0M575 683h0M573 685h0M577 683h0M577 688h0M572 692h0M572 688h0M568 692h0M567 692h0M570 690h0M562 698h0M561 701h0M564 700h0M564 701h0M562 700h0M557 698h0M554 699h0M557 700h0M561 701h0M561 702h0M553 700h0M549 697h0M547 696h0M549 696h0M549 696h0M549 688h0M544 689h0M549 685h0M552 686h0M548 688h0" stroke="#C82050" stroke-width="2.60" stroke-linecap="round"/>
<path d="M370.2 268.7V354.9H450.0" fill="none" stroke="#707070" stroke-width="0.75"/>
<text class="k m" x="373.0" y="359.2">-40</text>
<text class="k m" x="391.0" y="359.2">-20</text>
<text class="k m" x="409.0" y="359.2">0</text>
<text class="k m" x="427.0" y="359.2">20</text>
<text class="k m" x="445.0" y="359.2">40</text>
<text class="k e" x="368.6" y="270.8">50</text>
<text class="k e" x="368.6" y="293.1">25</text>
<text class="k e" x="368.6" y="315.1">0</text>
<text class="k e" x="368.6" y="337.5">-25</text>
<path d="M373.0 354.9v1.2M391.0 354.9v1.2M409.0 354.9v1.2M427.0 354.9v1.2M445.0 354.9v1.2M370.2 269.7h-1.2M370.2 292.0h-1.2M370.2 314.0h-1.2M370.2 336.4h-1.2" stroke="#6a6a6a" stroke-width="0.5"/>
<text class="k m" x="410.1" y="362.5">tSNE_1</text>
<text class="k m" transform="translate(363.0 311.8) rotate(-90)">tSNE_2</text>
<circle cx="457.1" cy="294.3" r="1.15" fill="#86F4CA"/>
<text class="k" x="460.7" y="295.4">0</text>
<circle cx="457.1" cy="297.9" r="1.15" fill="#50C2E2"/>
<text class="k" x="460.7" y="299.0">1</text>
<circle cx="457.1" cy="301.5" r="1.15" fill="#3A9CB8"/>
<text class="k" x="460.7" y="302.6">2</text>
<circle cx="457.1" cy="305.2" r="1.15" fill="#5012DC"/>
<text class="k" x="460.7" y="306.3">3</text>
<circle cx="457.1" cy="308.8" r="1.15" fill="#CC2068"/>
<text class="k" x="460.7" y="309.9">4</text>
<circle cx="457.1" cy="312.4" r="1.15" fill="#D42222"/>
<text class="k" x="460.7" y="313.5">5</text>
<circle cx="457.1" cy="316.0" r="1.15" fill="#E8461C"/>
<text class="k" x="460.7" y="317.1">6</text>
<circle cx="457.1" cy="319.6" r="1.15" fill="#AE8CF6"/>
<text class="k" x="460.7" y="320.7">7</text>
<circle cx="457.1" cy="323.3" r="1.15" fill="#C474F0"/>
<text class="k" x="460.7" y="324.4">8</text>
<circle cx="457.1" cy="326.9" r="1.15" fill="#E46AE8"/>
<text class="k" x="460.7" y="328.0">9</text>
<circle cx="457.1" cy="330.5" r="1.15" fill="#E46AE8"/>
<text class="k" x="460.7" y="331.6">10</text>
<path d="M413.4 275.2C414.3 274.2 416.7 272.8 418.2 272.2C419.7 271.6 421.5 270.9 422.4 271.6C423.3 272.3 423.7 274.8 423.6 276.4C423.5 278 421.9 279.8 421.8 281.3C421.7 282.7 423.2 283.9 423 284.9C422.8 285.9 421.6 287.3 420.6 287.3C419.6 287.3 418.1 285.9 417 284.9C415.9 283.9 414.7 282.4 414 281.3C413.3 280.1 412.9 279.2 412.8 278.2C412.7 277.2 412.5 276.2 413.4 275.2Z" fill="#E02818"/>
<path transform="scale(.5)" d="M833 546h0M836 549h0M835 546h0M830 547h0M827 550h0M835 548h0M845 544h0M844 544h0M843 543h0M843 546h0M840 544h0M850 552h0M848 552h0M841 541h0M844 541h0M848 550h0M845 560h0M849 556h0M846 553h0M842 559h0M846 562h0M844 563h0M845 569h0M844 565h0M847 564h0M842 563h0M843 573h0M840 574h0M845 572h0M842 570h0M836 572h0M838 570h0M838 571h0M835 573h0M836 572h0M827 562h0M827 564h0M833 566h0M833 570h0M828 567h0M831 560h0M828 560h0M828 563h0M828 551h0M825 557h0M825 552h0" stroke="#E02818" stroke-width="2.60" stroke-linecap="round"/>
<path d="M420.6 287.3C421.1 286.5 423 285.5 424.2 285.5C425.4 285.5 426.6 286.4 427.8 287.3C429 288.2 430.6 289.8 431.4 290.9C432.2 292 432.9 293.1 432.7 293.9C432.4 294.7 431.4 295.8 430.2 295.7C429 295.6 426.9 294.2 425.4 293.3C423.9 292.4 422 291.3 421.2 290.3C420.4 289.3 420.1 288.1 420.6 287.3Z" fill="#E86AE8"/>
<path transform="scale(.5)" d="M849 572h0M847 573h0M842 577h0M842 574h0M853 572h0M852 575h0M852 572h0M854 571h0M865 578h0M858 577h0M853 576h0M857 576h0M859 583h0M859 576h0M865 582h0M865 583h0M867 586h0M863 587h0M865 588h0M863 591h0M858 589h0M857 590h0M853 589h0M859 590h0M853 589h0M853 590h0M849 585h0M843 583h0M848 584h0M845 585h0M848 584h0M847 586h0M845 580h0M841 575h0M843 576h0" stroke="#E86AE8" stroke-width="2.60" stroke-linecap="round"/>
<path d="M401.9 290.3C402.1 289.4 403.7 288.7 404.9 288.5C406.1 288.3 408.2 288.6 409.2 289.1C410.2 289.6 411.1 290.7 411 291.5C410.9 292.3 409.8 293.5 408.6 293.9C407.3 294.3 404.8 294.5 403.7 293.9C402.6 293.3 401.7 291.2 401.9 290.3Z" fill="#E850C8"/>
<path transform="scale(.5)" d="M806 577h0M801 582h0M804 578h0M807 579h0M810 576h0M809 577h0M812 574h0M813 577h0M810 579h0M823 579h0M823 578h0M822 579h0M819 586h0M825 583h0M817 588h0M817 585h0M815 592h0M810 591h0M811 585h0M809 587h0M815 586h0M806 581h0M805 587h0M809 587h0M804 582h0" stroke="#E850C8" stroke-width="2.60" stroke-linecap="round"/>
<path d="M408.6 297.5C409.3 296.7 411.4 295.9 413.4 295.7C415.4 295.5 418 296.3 420.6 296.3C423.2 296.3 427.3 295.4 429 295.7C430.7 296 430.8 297.1 430.8 298.1C430.8 299.1 430.3 300.9 429 301.7C427.7 302.5 425.2 302.7 423 302.9C420.8 303.1 417.6 302.8 415.8 302.9C414 303 413.3 303.9 412.2 303.5C411.1 303.1 409.8 301.5 409.2 300.5C408.6 299.5 407.9 298.3 408.6 297.5Z" fill="#EC5A14"/>
<path transform="scale(.5)" d="M818 598h0M827 590h0M819 597h0M820 595h0M822 591h0M826 597h0M831 590h0M839 590h0M834 591h0M837 594h0M831 592h0M831 592h0M830 590h0M838 592h0M846 590h0M846 591h0M841 592h0M855 592h0M844 593h0M846 589h0M852 592h0M844 594h0M854 593h0M850 592h0M857 593h0M859 596h0M859 594h0M858 601h0M858 598h0M857 600h0M864 596h0M855 604h0M854 603h0M847 609h0M846 606h0M850 606h0M857 604h0M850 607h0M835 607h0M838 607h0M847 606h0M834 609h0M843 608h0M835 609h0M843 607h0M847 605h0M828 607h0M825 605h0M827 605h0M826 602h0M818 603h0M822 606h0M821 600h0M823 604h0M818 603h0M818 603h0M820 601h0M820 596h0" stroke="#EC5A14" stroke-width="2.60" stroke-linecap="round"/>
<path d="M374.1 310.5C374.3 308.4 372.5 305.9 376.8 305C381.2 304.1 395.9 304.1 400.1 305C404.4 305.9 402.2 308.4 402.2 310.5C402.2 312.5 401.2 315.5 400.1 317.3C399.1 319.2 397.9 320.3 396 321.4C394.2 322.6 391.5 324.2 389.2 324.2C386.9 324.2 384.6 322.6 382.3 321.4C380 320.3 376.8 319.2 375.5 317.3C374.1 315.5 373.9 312.5 374.1 310.5Z" fill="#50C2E2"/>
<path transform="scale(.5)" d="M750 611h0M752 619h0M755 615h0M756 608h0M749 615h0M750 618h0M751 618h0M801 609h0M771 611h0M758 611h0M766 611h0M758 611h0M787 610h0M780 610h0M792 607h0M787 610h0M770 614h0M758 610h0M771 609h0M792 611h0M775 609h0M788 608h0M790 612h0M769 614h0M767 613h0M756 609h0M789 609h0M787 609h0M790 610h0M771 611h0M795 612h0M791 609h0M755 608h0M782 611h0M802 622h0M802 617h0M800 609h0M802 618h0M802 607h0M801 621h0M807 621h0M801 632h0M802 630h0M801 627h0M807 623h0M798 631h0M803 622h0M803 629h0M798 632h0M796 639h0M801 633h0M792 642h0M799 636h0M797 639h0M794 639h0M786 647h0M781 647h0M778 645h0M786 648h0M784 648h0M782 649h0M788 646h0M781 649h0M769 648h0M775 650h0M771 644h0M773 645h0M769 645h0M766 642h0M772 645h0M777 649h0M759 638h0M763 640h0M753 635h0M760 642h0M760 639h0M754 637h0M763 638h0M750 637h0M755 636h0M750 632h0M748 620h0M751 634h0M750 629h0M753 627h0M753 635h0M750 628h0M752 635h0" stroke="#50C2E2" stroke-width="2.60" stroke-linecap="round"/>
<path d="M374.8 304.1C375.5 302.1 377 300.1 378.4 299.9C379.8 299.7 381.2 301.8 383.3 302.9C385.3 304 388.3 305.8 390.5 306.6C392.7 307.4 394.7 307.4 396.5 307.8C398.3 308.2 400.5 308.3 401.3 309C402.1 309.7 405.8 311.5 401.3 312C396.8 312.5 378.6 313.3 374.2 312C369.8 310.7 374.1 306.2 374.8 304.1Z" fill="#50C2E2"/>
<path transform="scale(.5)" d="M750 609h0M753 603h0M755 604h0M752 603h0M754 607h0M753 603h0M764 604h0M765 604h0M760 601h0M769 603h0M764 609h0M765 605h0M774 611h0M778 610h0M766 604h0M768 606h0M770 608h0M771 613h0M772 607h0M765 605h0M767 606h0M788 613h0M781 614h0M788 615h0M791 616h0M789 613h0M782 616h0M790 614h0M801 617h0M798 616h0M797 619h0M795 617h0M798 614h0M803 625h0M805 622h0M804 622h0M772 624h0M783 625h0M761 627h0M788 626h0M754 624h0M777 623h0M788 622h0M765 625h0M777 622h0M785 624h0M767 622h0M772 623h0M773 625h0M763 622h0M757 625h0M760 624h0M761 625h0M783 623h0M770 622h0M772 625h0M779 626h0M792 626h0M800 623h0M759 625h0M776 625h0M765 626h0M751 623h0M754 623h0M753 623h0M785 628h0M790 625h0M791 625h0M752 620h0M749 622h0M750 622h0M748 608h0M749 620h0M749 622h0M751 611h0M745 623h0M750 612h0" stroke="#50C2E2" stroke-width="2.60" stroke-linecap="round"/>
<path d="M380.2 296.9C381 295.1 383.2 292.8 384.5 290.9C385.8 289 386.9 286.3 388.1 285.5C389.3 284.7 390.4 285.3 391.7 286.1C393 286.9 394.5 289.1 395.9 290.3C397.3 291.5 399 292 400.1 293.3C401.2 294.6 402.5 296.3 402.5 298.1C402.5 299.9 400.9 302.5 400.1 304.1C399.3 305.8 399.5 307.2 397.7 307.8C395.9 308.4 391.9 308.2 389.3 307.8C386.7 307.4 383.7 306.4 382 305.3C380.4 304.3 379.9 303.1 379.6 301.7C379.3 300.3 379.4 298.7 380.2 296.9Z" fill="#3A88B0"/>
<path transform="scale(.5)" d="M761 592h0M765 587h0M765 589h0M768 585h0M761 594h0M761 593h0M762 591h0M767 584h0M770 583h0M771 581h0M772 578h0M773 578h0M775 573h0M774 575h0M770 579h0M780 574h0M781 570h0M779 573h0M777 570h0M783 572h0M786 573h0M788 579h0M786 576h0M789 577h0M792 580h0M791 579h0M796 587h0M801 587h0M798 586h0M800 587h0M799 587h0M796 586h0M803 589h0M804 589h0M806 595h0M799 590h0M800 587h0M802 587h0M798 609h0M802 601h0M802 605h0M802 608h0M799 603h0M807 595h0M801 610h0M793 615h0M799 613h0M800 610h0M797 609h0M797 614h0M794 615h0M791 613h0M784 615h0M790 615h0M785 618h0M786 616h0M784 618h0M787 613h0M793 616h0M785 614h0M776 617h0M772 608h0M770 614h0M764 607h0M766 613h0M768 612h0M774 613h0M779 615h0M772 615h0M763 609h0M762 612h0M762 606h0M760 604h0M762 606h0M761 598h0M757 596h0M759 595h0M761 594h0M759 598h0" stroke="#3A88B0" stroke-width="2.60" stroke-linecap="round"/>
<path d="M397.4 318.7C397.9 317.1 400.6 314.8 402.9 313.2C405.2 311.6 408.1 310 411.1 309.1C414.1 308.2 417.5 307.7 420.7 307.7C423.9 307.7 428 308.2 430.3 309.1C432.6 310 434.2 311.4 434.4 313.2C434.6 315 432.8 318 431.6 320.1C430.5 322.1 429.1 324.4 427.5 325.5C425.9 326.7 424.3 326.9 422.1 326.9C419.8 326.9 416.6 326 413.8 325.5C411.1 325.1 407.9 324.6 405.6 324.2C403.3 323.7 401.5 323.7 400.1 322.8C398.8 321.9 396.9 320.3 397.4 318.7Z" fill="#86F4CA"/>
<path transform="scale(.5)" d="M802 631h0M802 632h0M799 631h0M802 629h0M802 629h0M802 632h0M798 633h0M796 636h0M800 632h0M820 621h0M808 627h0M817 622h0M811 627h0M814 621h0M819 616h0M810 626h0M819 621h0M807 628h0M807 624h0M805 628h0M826 621h0M834 617h0M841 616h0M824 616h0M829 615h0M830 619h0M826 617h0M823 620h0M836 616h0M837 614h0M829 619h0M858 617h0M849 618h0M860 620h0M860 617h0M850 617h0M862 618h0M845 614h0M853 617h0M851 615h0M862 617h0M859 618h0M866 624h0M866 625h0M860 617h0M861 621h0M862 621h0M864 620h0M868 634h0M867 635h0M862 635h0M864 634h0M867 636h0M868 634h0M864 638h0M867 634h0M864 646h0M858 646h0M854 650h0M864 644h0M856 649h0M863 639h0M853 650h0M863 640h0M845 653h0M842 653h0M845 654h0M848 652h0M853 650h0M846 654h0M843 654h0M831 654h0M831 653h0M829 653h0M840 652h0M840 650h0M841 655h0M843 651h0M830 651h0M813 649h0M812 648h0M822 648h0M824 650h0M814 649h0M820 650h0M828 653h0M812 645h0M823 651h0M809 648h0M804 645h0M814 646h0M804 650h0M800 646h0M798 648h0M798 642h0M797 638h0M797 637h0M797 644h0M796 638h0" stroke="#86F4CA" stroke-width="2.60" stroke-linecap="round"/>
<path d="M402.5 309.6C403.8 309 406.7 308.7 409.8 308.4C412.8 308.1 416.8 307.7 420.6 307.8C424.4 307.9 430.4 308.3 432.7 309C434.9 309.7 439 311.5 433.9 312C428.7 312.5 407.1 312.4 401.9 312C396.7 311.6 401.2 310.2 402.5 309.6Z" fill="#86F4CA"/>
<path transform="scale(.5)" d="M808 620h0M813 616h0M810 622h0M816 617h0M819 621h0M808 617h0M813 616h0M812 619h0M835 616h0M839 616h0M828 619h0M831 617h0M837 616h0M824 613h0M837 610h0M824 614h0M833 615h0M833 615h0M833 614h0M840 617h0M830 616h0M845 621h0M864 616h0M857 616h0M849 617h0M853 618h0M849 616h0M852 616h0M860 616h0M847 615h0M860 616h0M859 616h0M855 616h0M844 616h0M847 618h0M868 620h0M867 622h0M866 617h0M835 627h0M853 625h0M843 624h0M840 623h0M824 624h0M820 626h0M826 621h0M820 625h0M851 623h0M821 624h0M838 623h0M810 626h0M834 621h0M818 624h0M819 622h0M837 625h0M819 626h0M832 623h0M813 622h0M829 625h0M853 626h0M825 623h0M809 626h0M860 622h0M857 625h0M828 624h0M858 625h0M866 625h0M815 627h0M848 625h0M856 624h0M864 625h0M834 623h0M849 627h0M851 626h0M819 623h0M865 622h0M821 627h0M805 624h0M802 625h0" stroke="#86F4CA" stroke-width="2.60" stroke-linecap="round"/>
<path d="M434.4 316.0C434.8 314 436.8 313.4 438.5 312.5C440.2 311.6 442.8 310.4 444.7 310.5C446.5 310.6 448.5 311.4 449.5 313.2C450.4 315 450.6 319.2 450.1 321.4C449.7 323.7 448.2 325.9 446.7 326.9C445.2 327.9 443.1 328.1 441.2 327.6C439.4 327.1 436.9 326.1 435.8 324.2C434.6 322.2 433.9 317.9 434.4 316Z" fill="#D42222"/>
<path transform="scale(.5)" d="M876 628h0M877 626h0M869 628h0M876 628h0M874 625h0M870 629h0M886 623h0M880 621h0M884 624h0M883 626h0M889 621h0M889 620h0M884 626h0M896 623h0M889 624h0M899 623h0M900 626h0M890 626h0M894 622h0M901 637h0M901 632h0M902 636h0M900 624h0M899 629h0M901 635h0M901 641h0M901 635h0M897 625h0M902 641h0M893 651h0M899 644h0M900 642h0M900 644h0M893 655h0M897 640h0M886 657h0M888 651h0M883 658h0M888 654h0M886 656h0M886 654h0M882 656h0M874 649h0M875 649h0M870 649h0M877 652h0M878 654h0M878 654h0M872 634h0M873 647h0M872 648h0M870 634h0M872 646h0M872 643h0M871 641h0M870 646h0M868 634h0" stroke="#D42222" stroke-width="2.60" stroke-linecap="round"/>
<path d="M403.6 328.3C404.7 326.8 407.6 325.1 409.7 324.9C411.9 324.6 415 325.9 416.6 326.9C418.2 327.9 418.2 329.8 419.3 331C420.5 332.3 422.3 332.4 423.4 334.5C424.6 336.5 426.4 341.4 426.2 343.4C425.9 345.3 423.7 346.1 422.1 346.1C420.5 346.1 418.4 344.3 416.6 343.4C414.7 342.4 412.9 341.5 411.1 340.6C409.3 339.7 407 339 405.6 337.9C404.2 336.7 403.2 335.4 402.9 333.8C402.5 332.2 402.4 329.8 403.6 328.3Z" fill="#CC2068"/>
<path transform="scale(.5)" d="M811 655h0M809 654h0M815 657h0M814 656h0M813 655h0M804 656h0M810 653h0M821 652h0M831 652h0M824 652h0M832 651h0M830 652h0M823 653h0M825 652h0M824 656h0M822 649h0M833 654h0M834 657h0M834 660h0M834 656h0M833 661h0M845 665h0M843 665h0M839 663h0M841 666h0M842 666h0M842 668h0M852 688h0M851 672h0M849 686h0M850 682h0M851 680h0M852 683h0M851 686h0M851 680h0M853 685h0M849 671h0M848 671h0M852 688h0M848 690h0M854 691h0M845 689h0M845 694h0M835 689h0M844 691h0M836 686h0M839 689h0M835 686h0M840 691h0M842 690h0M830 683h0M830 683h0M824 683h0M832 683h0M820 681h0M823 686h0M828 686h0M818 683h0M815 677h0M818 679h0M822 678h0M821 680h0M820 677h0M819 681h0M810 670h0M810 674h0M811 666h0M805 670h0M807 675h0M804 661h0M805 658h0M805 664h0M805 662h0M804 664h0M811 666h0" stroke="#CC2068" stroke-width="2.60" stroke-linecap="round"/>
<path d="M424.8 329.7C425.8 328.6 428.4 327.5 430.3 327.6C432.1 327.7 434.6 329.3 435.8 330.3C436.9 331.4 437.6 332.6 437.1 333.8C436.7 334.9 434.6 336.7 433 337.2C431.4 337.6 429 337.1 427.5 336.5C426.1 335.9 424.6 334.9 424.1 333.8C423.7 332.6 423.8 330.7 424.8 329.7Z" fill="#AE8CF6"/>
<path transform="scale(.5)" d="M855 656h0M858 655h0M858 656h0M851 660h0M847 659h0M858 656h0M849 657h0M863 653h0M869 659h0M865 655h0M863 657h0M866 657h0M873 660h0M862 657h0M872 662h0M873 666h0M869 661h0M874 665h0M870 670h0M869 668h0M869 671h0M866 673h0M868 670h0M875 673h0M863 674h0M859 678h0M868 674h0M865 676h0M858 673h0M858 671h0M855 669h0M852 671h0M855 675h0M852 669h0M851 670h0M847 666h0M852 662h0M846 661h0M850 661h0" stroke="#AE8CF6" stroke-width="2.60" stroke-linecap="round"/>
<path d="M391.9 339.2C392.9 337.4 395.3 335.7 397.4 335.1C399.5 334.6 402.4 334.9 404.2 335.8C406.1 336.7 407.8 338.7 408.4 340.6C408.9 342.6 408.6 345.6 407.7 347.5C406.8 349.3 404.8 351 402.9 351.6C400.9 352.1 398 351.8 396 350.9C394.1 350 391.9 348 391.2 346.1C390.5 344.2 390.9 341.1 391.9 339.2Z" fill="#5012DC"/>
<path transform="scale(.5)" d="M792 672h0M791 672h0M793 670h0M790 674h0M785 677h0M789 674h0M794 673h0M785 674h0M796 671h0M801 670h0M799 672h0M796 671h0M800 669h0M802 672h0M805 671h0M805 670h0M813 676h0M816 679h0M810 675h0M813 673h0M812 677h0M816 679h0M810 677h0M816 686h0M815 685h0M817 686h0M819 683h0M819 683h0M817 682h0M817 693h0M817 684h0M810 699h0M807 702h0M807 702h0M811 701h0M816 693h0M806 702h0M810 699h0M798 700h0M799 701h0M797 704h0M794 703h0M806 705h0M805 705h0M799 704h0M807 701h0M793 700h0M784 697h0M783 693h0M784 697h0M788 692h0M785 697h0M784 693h0M786 696h0M784 684h0M786 686h0M783 685h0M784 685h0M781 683h0M784 685h0M783 683h0M783 691h0" stroke="#5012DC" stroke-width="2.60" stroke-linecap="round"/>
<path d="M479.7 268.7V354.9H560.0" fill="none" stroke="#707070" stroke-width="0.75"/>
<text class="k m" x="496.0" y="359.2">-25</text>
<text class="k m" x="516.0" y="359.2">0</text>
<text class="k m" x="538.0" y="359.2">25</text>
<text class="k m" x="558.6" y="359.2">50</text>
<text class="k e" x="478.1" y="291.5">25</text>
<text class="k e" x="478.1" y="311.8">0</text>
<text class="k e" x="478.1" y="334.1">-25</text>
<path d="M496.0 354.9v1.2M516.0 354.9v1.2M538.0 354.9v1.2M558.6 354.9v1.2M479.7 290.4h-1.2M479.7 310.7h-1.2M479.7 333.0h-1.2" stroke="#6a6a6a" stroke-width="0.5"/>
<text class="k m" x="519.9" y="362.5">tSNE_1</text>
<text class="k m" transform="translate(472.5 311.8) rotate(-90)">tSNE_2</text>
<circle cx="567.2" cy="290.7" r="1.15" fill="#86F4CA"/>
<text class="k" x="570.8" y="291.8">0</text>
<circle cx="567.2" cy="294.3" r="1.15" fill="#3E94E6"/>
<text class="k" x="570.8" y="295.4">1</text>
<circle cx="567.2" cy="297.9" r="1.15" fill="#3A9CB8"/>
<text class="k" x="570.8" y="299.0">2</text>
<circle cx="567.2" cy="301.5" r="1.15" fill="#2414DC"/>
<text class="k" x="570.8" y="302.6">3</text>
<circle cx="567.2" cy="305.2" r="1.15" fill="#7A1EE0"/>
<text class="k" x="570.8" y="306.3">4</text>
<circle cx="567.2" cy="308.8" r="1.15" fill="#BC22A6"/>
<text class="k" x="570.8" y="309.9">5</text>
<circle cx="567.2" cy="312.4" r="1.15" fill="#CC2068"/>
<text class="k" x="570.8" y="313.5">6</text>
<circle cx="567.2" cy="316.0" r="1.15" fill="#D42222"/>
<text class="k" x="570.8" y="317.1">7</text>
<circle cx="567.2" cy="319.6" r="1.15" fill="#E8461C"/>
<text class="k" x="570.8" y="320.7">8</text>
<circle cx="567.2" cy="323.3" r="1.15" fill="#EA6A22"/>
<text class="k" x="570.8" y="324.4">9</text>
<circle cx="567.2" cy="326.9" r="1.15" fill="#AE8CF6"/>
<text class="k" x="570.8" y="328.0">10</text>
<circle cx="567.2" cy="330.5" r="1.15" fill="#C474F0"/>
<text class="k" x="570.8" y="331.6">11</text>
<circle cx="567.2" cy="334.1" r="1.15" fill="#E46AE8"/>
<text class="k" x="570.8" y="335.2">12</text>
<path d="M512.5 275.2C513.2 273.6 515.7 272.5 517.3 272.2C519 271.9 520.9 272.5 522.2 273.4C523.5 274.3 524.8 276.3 525.2 277.6C525.6 278.9 524.1 280.9 524.6 281.3C525.1 281.7 527.3 279.7 528.2 280C529.1 280.3 530.2 282.1 530 283.1C529.8 284.1 528.3 285.6 527 286.1C525.7 286.6 524 286.3 522.2 286.1C520.4 285.9 517.7 285.6 516.1 284.9C514.6 284.2 513.7 283.5 513.1 281.9C512.5 280.2 511.8 276.8 512.5 275.2Z" fill="#8A22D8"/>
<path transform="scale(.5)" d="M1028 549h0M1028 553h0M1026 549h0M1027 547h0M1027 551h0M1033 546h0M1037 546h0M1039 547h0M1038 544h0M1040 549h0M1037 545h0M1054 555h0M1051 555h0M1047 553h0M1052 549h0M1053 556h0M1046 551h0M1050 558h0M1050 559h0M1049 557h0M1049 555h0M1055 562h0M1052 560h0M1057 557h0M1057 559h0M1061 564h0M1064 563h0M1057 557h0M1057 561h0M1057 566h0M1058 568h0M1059 567h0M1059 568h0M1056 568h0M1055 572h0M1045 571h0M1052 575h0M1051 572h0M1050 574h0M1037 569h0M1031 572h0M1036 574h0M1040 571h0M1034 570h0M1038 569h0M1037 571h0M1026 565h0M1026 562h0M1029 566h0M1031 567h0M1024 564h0M1025 556h0M1028 563h0M1025 553h0M1028 551h0M1027 558h0M1028 564h0M1023 549h0" stroke="#8A22D8" stroke-width="2.60" stroke-linecap="round"/>
<path d="M489.0 286.1C489.6 284.9 491.3 283.6 492 282.5C492.8 281.4 492.7 279.5 493.3 279.4C493.9 279.3 494.4 281.4 495.7 281.9C497 282.4 499.9 281.8 501.1 282.5C502.3 283.2 503 284.5 502.9 286.1C502.8 287.7 501.5 290.5 500.5 292.1C499.5 293.7 498.3 295 496.9 295.7C495.5 296.4 493.3 296.7 492 296.3C490.8 295.9 490.2 294.4 489.6 293.3C489 292.2 488.5 290.9 488.4 289.7C488.3 288.5 488.4 287.3 489 286.1Z" fill="#E02A18"/>
<path transform="scale(.5)" d="M977 570h0M983 567h0M979 563h0M981 570h0M982 569h0M985 562h0M984 559h0M987 564h0M987 558h0M989 559h0M992 565h0M994 562h0M994 565h0M991 564h0M995 566h0M995 564h0M1000 567h0M989 565h0M1004 565h0M1004 568h0M1004 568h0M1005 566h0M1005 577h0M1003 577h0M1005 578h0M1004 575h0M1001 581h0M1005 578h0M1005 578h0M996 590h0M998 587h0M995 584h0M1001 589h0M1000 586h0M992 591h0M992 593h0M987 591h0M985 594h0M983 592h0M988 595h0M979 586h0M981 590h0M982 591h0M983 587h0M977 581h0M979 582h0M982 585h0M976 581h0M978 575h0M979 580h0M980 575h0M977 579h0" stroke="#E02A18" stroke-width="2.60" stroke-linecap="round"/>
<path d="M501.1 292.1C501.6 290.9 503.4 289.2 504.7 289.1C506 289 508.1 290.5 508.9 291.5C509.7 292.5 510 294.1 509.5 295.1C509 296.1 507.2 297.3 505.9 297.5C504.6 297.7 502.5 297.2 501.7 296.3C500.9 295.4 500.6 293.3 501.1 292.1Z" fill="#C080F0"/>
<path transform="scale(.5)" d="M1002 583h0M1009 582h0M1004 580h0M1006 584h0M1011 579h0M1006 578h0M1013 580h0M1013 583h0M1018 581h0M1014 578h0M1019 587h0M1018 585h0M1016 584h0M1018 589h0M1017 590h0M1017 596h0M1012 594h0M1015 590h0M1017 595h0M1009 590h0M1002 595h0M1011 593h0M1005 591h0M1006 595h0M1001 591h0M1003 586h0M1001 592h0M1001 588h0M998 594h0" stroke="#C080F0" stroke-width="2.60" stroke-linecap="round"/>
<path d="M508.9 295.7C509.3 293.7 511.1 292.4 512.5 290.9C513.9 289.4 515.3 287.5 517.3 286.7C519.4 285.9 522.4 285.7 524.6 286.1C526.8 286.5 528.6 287.6 530.6 289.1C532.6 290.6 535.4 293.2 536.6 295.1C537.8 297 538 299 537.8 300.5C537.6 302 536.6 302.9 535.4 304.1C534.2 305.3 532.2 306.9 530.6 307.8C529 308.7 527.6 309.2 525.8 309.6C524 310 521.8 310.5 519.8 310.2C517.8 309.9 515.3 309 513.7 307.8C512.1 306.6 510.9 304.9 510.1 302.9C509.3 300.9 508.5 297.7 508.9 295.7Z" fill="#3C84EC"/>
<path transform="scale(.5)" d="M1022 586h0M1022 588h0M1022 582h0M1024 583h0M1021 588h0M1022 589h0M1023 583h0M1025 583h0M1028 580h0M1025 585h0M1034 576h0M1028 578h0M1032 579h0M1025 578h0M1040 575h0M1031 573h0M1036 572h0M1046 571h0M1041 573h0M1038 575h0M1039 572h0M1036 572h0M1053 576h0M1050 572h0M1053 575h0M1052 571h0M1049 575h0M1062 578h0M1055 577h0M1053 576h0M1070 591h0M1072 590h0M1064 582h0M1067 591h0M1072 588h0M1075 586h0M1066 580h0M1074 589h0M1069 587h0M1066 583h0M1076 589h0M1075 596h0M1075 596h0M1074 593h0M1076 604h0M1076 599h0M1076 602h0M1070 606h0M1072 609h0M1078 603h0M1073 609h0M1064 614h0M1062 613h0M1066 612h0M1062 611h0M1064 615h0M1071 610h0M1066 611h0M1055 617h0M1060 618h0M1056 616h0M1060 612h0M1058 618h0M1059 617h0M1047 622h0M1049 618h0M1045 621h0M1044 622h0M1049 619h0M1048 621h0M1040 622h0M1035 618h0M1036 620h0M1035 618h0M1039 624h0M1030 618h0M1031 618h0M1033 618h0M1028 615h0M1022 609h0M1021 605h0M1025 607h0M1025 612h0M1022 611h0M1019 608h0M1021 601h0M1018 601h0M1021 595h0M1021 605h0M1020 605h0M1022 607h0M1018 594h0M1019 595h0" stroke="#3C84EC" stroke-width="2.60" stroke-linecap="round"/>
<path d="M483.4 310.5C483.9 308.7 483.8 305.9 486.8 305C489.9 304.1 499.6 303.6 501.9 305C504.2 306.4 501.2 310.9 500.5 313.2C499.9 315.5 498.9 317.3 497.8 318.7C496.7 320.1 495.3 321.2 493.7 321.4C492.1 321.7 489.8 321 488.2 320.1C486.6 319.2 484.9 317.6 484.1 316C483.3 314.4 483 312.3 483.4 310.5Z" fill="#3AA0B4"/>
<path transform="scale(.5)" d="M974 619h0M972 612h0M968 617h0M970 613h0M970 613h0M972 612h0M972 612h0M985 608h0M996 607h0M978 614h0M978 612h0M992 609h0M1006 607h0M1004 613h0M988 612h0M996 610h0M992 606h0M996 609h0M995 613h0M1003 611h0M986 608h0M998 607h0M988 608h0M1001 608h0M990 610h0M1001 623h0M1000 623h0M1005 611h0M1000 622h0M1006 618h0M1002 619h0M1002 615h0M1002 620h0M1001 624h0M998 632h0M1000 633h0M999 637h0M994 637h0M997 637h0M998 628h0M995 631h0M987 643h0M990 639h0M990 642h0M994 640h0M988 638h0M979 644h0M980 644h0M986 641h0M985 643h0M980 642h0M988 642h0M968 632h0M974 639h0M978 638h0M970 636h0M972 634h0M972 638h0M968 624h0M968 626h0M968 629h0M968 631h0M963 626h0M970 630h0" stroke="#3AA0B4" stroke-width="2.60" stroke-linecap="round"/>
<path d="M484.8 307.8C485.7 306.3 487.6 304.1 489.6 302.9C491.6 301.7 494.7 300.7 496.9 300.5C499.1 300.3 501.1 301.1 502.9 301.7C504.7 302.3 506.9 302.4 507.7 304.1C508.5 305.9 511.6 310.7 507.7 312C503.8 313.3 488 312.7 484.2 312C480.4 311.3 483.9 309.3 484.8 307.8Z" fill="#3AA0B4"/>
<path transform="scale(.5)" d="M973 610h0M973 612h0M978 610h0M976 613h0M976 611h0M976 607h0M980 603h0M972 611h0M993 601h0M984 605h0M984 605h0M992 601h0M985 604h0M980 605h0M992 600h0M979 606h0M981 605h0M996 601h0M1001 602h0M995 601h0M1002 602h0M1003 605h0M1006 601h0M998 602h0M1012 606h0M1019 606h0M1005 601h0M1012 603h0M1016 609h0M1013 608h0M1015 619h0M1017 622h0M1014 611h0M1016 617h0M1015 621h0M1011 612h0M1014 615h0M1014 617h0M1016 609h0M1012 624h0M979 625h0M979 620h0M980 622h0M982 619h0M981 623h0M994 625h0M995 622h0M1004 621h0M980 623h0M987 625h0M987 621h0M975 625h0M1008 624h0M1001 624h0M975 622h0M1014 623h0M982 627h0M972 623h0M1013 623h0M999 621h0M986 625h0M981 623h0M998 623h0M982 626h0M972 623h0M995 628h0M971 625h0M969 615h0M970 619h0M969 614h0M967 623h0M970 615h0" stroke="#3AA0B4" stroke-width="2.60" stroke-linecap="round"/>
<path d="M497.8 316.0C498.6 313.7 500.5 310.9 501.2 309.1C501.9 307.3 498.8 305.7 501.9 305C505 304.3 516.5 303.6 519.7 305C522.9 306.4 520.6 310.3 521.1 313.2C521.6 316.2 522.7 319.6 522.5 322.8C522.2 326 520.9 330 519.7 332.4C518.6 334.8 517.7 336.5 515.6 337.2C513.6 337.9 509.9 337 507.4 336.5C504.9 336.1 502.3 335.6 500.5 334.5C498.8 333.3 497.8 331.6 497.1 329.7C496.4 327.7 496.3 325.1 496.4 322.8C496.6 320.5 497 318.2 497.8 316Z" fill="#86F4CA"/>
<path transform="scale(.5)" d="M997 631h0M999 622h0M996 631h0M997 628h0M998 631h0M995 625h0M998 629h0M995 625h0M1000 621h0M1004 620h0M1004 614h0M1002 610h0M1004 614h0M1024 611h0M1014 608h0M1030 609h0M1022 607h0M1034 612h0M1020 613h0M1039 612h0M1025 608h0M1018 608h0M1027 613h0M1031 607h0M1019 611h0M1037 611h0M1008 609h0M1020 612h0M1014 608h0M1019 612h0M1013 610h0M1014 609h0M1038 610h0M1029 610h0M1042 620h0M1040 622h0M1037 619h0M1042 622h0M1044 628h0M1039 625h0M1042 619h0M1041 623h0M1043 627h0M1045 641h0M1044 632h0M1047 641h0M1046 645h0M1045 641h0M1045 629h0M1048 634h0M1044 641h0M1039 632h0M1047 639h0M1044 635h0M1041 656h0M1043 653h0M1040 663h0M1045 650h0M1045 652h0M1045 655h0M1039 659h0M1041 653h0M1040 660h0M1041 654h0M1045 654h0M1035 674h0M1040 662h0M1036 665h0M1038 670h0M1038 666h0M1036 666h0M1034 674h0M1025 674h0M1017 674h0M1017 676h0M1030 677h0M1024 674h0M1014 675h0M1028 671h0M1031 673h0M1017 675h0M1002 669h0M1012 671h0M1015 671h0M1007 672h0M1015 673h0M1013 672h0M1002 667h0M1005 672h0M995 664h0M1002 667h0M999 662h0M994 664h0M998 664h0M997 664h0M1002 669h0M989 652h0M992 649h0M994 655h0M995 650h0M996 658h0M992 657h0M994 648h0M993 654h0M994 641h0M997 634h0M995 635h0M996 642h0M993 642h0M995 644h0M997 637h0M994 639h0" stroke="#86F4CA" stroke-width="2.60" stroke-linecap="round"/>
<path d="M502.9 305.3C504.2 303.8 506.7 303.1 508.9 302.9C511.1 302.7 514.3 303.3 516.1 304.1C518 304.9 519 306.5 519.8 307.8C520.6 309.1 524.1 311.3 521 312C517.9 312.7 504.1 313.1 501.1 312C498.1 310.9 501.6 306.9 502.9 305.3Z" fill="#86F4CA"/>
<path transform="scale(.5)" d="M1011 612h0M1016 611h0M1016 603h0M1018 604h0M1010 605h0M1010 609h0M1014 610h0M1021 605h0M1029 607h0M1020 607h0M1021 607h0M1030 608h0M1032 608h0M1021 604h0M1024 611h0M1032 615h0M1038 618h0M1036 607h0M1035 613h0M1042 613h0M1032 604h0M1039 618h0M1043 621h0M1040 619h0M1044 622h0M1041 619h0M1021 619h0M1019 624h0M1034 624h0M1037 623h0M1031 626h0M1006 622h0M999 624h0M1016 626h0M1007 622h0M1035 628h0M1007 625h0M1042 627h0M1009 625h0M1032 623h0M1033 624h0M1007 624h0M1009 624h0M1032 621h0M1010 624h0M1015 621h0M1023 622h0M1031 625h0M1037 623h0M1003 610h0M1003 611h0M1005 616h0M1006 617h0M1002 620h0M1002 621h0M1005 624h0M1005 609h0" stroke="#86F4CA" stroke-width="2.60" stroke-linecap="round"/>
<path d="M534.2 301.7C535.2 300.6 537.6 298.5 539 298.7C540.4 298.9 541.5 301.2 542.7 302.9C543.8 304.6 545.3 307.5 545.7 309C546.1 310.5 548.4 311.5 545.1 312C541.7 312.5 528.6 312.7 525.8 312C523 311.3 527 308.9 528.2 307.8C529.4 306.7 532 306.4 533 305.3C534 304.3 533.2 302.8 534.2 301.7Z" fill="#2414DC"/>
<path transform="scale(.5)" d="M1075 599h0M1073 602h0M1075 599h0M1079 601h0M1073 597h0M1079 596h0M1079 602h0M1087 605h0M1080 600h0M1083 603h0M1086 605h0M1084 604h0M1089 611h0M1092 616h0M1082 610h0M1087 614h0M1090 617h0M1085 609h0M1087 605h0M1091 613h0M1089 616h0M1093 616h0M1092 620h0M1054 624h0M1071 628h0M1063 625h0M1076 623h0M1075 626h0M1054 622h0M1083 625h0M1081 623h0M1076 624h0M1061 623h0M1084 622h0M1075 625h0M1068 626h0M1069 622h0M1081 627h0M1056 619h0M1083 627h0M1075 624h0M1084 623h0M1077 623h0M1052 622h0M1090 622h0M1056 622h0M1057 618h0M1053 617h0M1055 620h0M1058 617h0M1059 614h0M1066 610h0M1064 615h0M1061 612h0M1061 617h0M1057 614h0M1064 610h0M1070 606h0M1066 605h0M1066 605h0M1070 608h0" stroke="#2414DC" stroke-width="2.60" stroke-linecap="round"/>
<path d="M521.1 311.8C521.9 310.3 523.4 307.5 525.2 306.4C527 305.2 529.3 305 532.1 305C534.8 305 539.4 305.2 541.6 306.4C543.9 307.5 545.3 309.6 545.8 311.8C546.2 314.1 545.8 318 544.4 320.1C543 322.1 539.6 323.4 537.5 324.2C535.5 325 534.1 325.5 532.1 324.9C530 324.2 527.1 321.6 525.2 320.1C523.3 318.6 521.1 317.3 520.4 316C519.7 314.6 520.3 313.4 521.1 311.8Z" fill="#2414DC"/>
<path transform="scale(.5)" d="M1043 622h0M1049 622h0M1041 623h0M1049 611h0M1050 616h0M1050 614h0M1050 616h0M1048 616h0M1060 610h0M1056 610h0M1063 613h0M1050 610h0M1062 612h0M1051 614h0M1055 611h0M1062 608h0M1075 614h0M1082 614h0M1076 612h0M1072 606h0M1074 607h0M1069 610h0M1078 611h0M1077 613h0M1068 611h0M1077 615h0M1079 611h0M1086 615h0M1087 616h0M1084 613h0M1089 621h0M1089 622h0M1088 621h0M1086 614h0M1086 616h0M1088 640h0M1091 626h0M1089 638h0M1089 629h0M1090 621h0M1091 628h0M1088 641h0M1090 632h0M1091 635h0M1077 650h0M1085 643h0M1082 645h0M1086 642h0M1078 645h0M1080 644h0M1080 644h0M1074 647h0M1085 642h0M1064 648h0M1065 648h0M1065 653h0M1070 650h0M1067 653h0M1069 649h0M1063 647h0M1056 646h0M1058 643h0M1052 643h0M1055 641h0M1057 644h0M1054 644h0M1060 649h0M1055 640h0M1055 645h0M1050 639h0M1042 634h0M1045 637h0M1041 634h0M1041 636h0M1047 632h0M1051 640h0M1044 626h0M1041 626h0M1042 626h0M1041 626h0" stroke="#2414DC" stroke-width="2.60" stroke-linecap="round"/>
<path d="M527.9 310.5C528.9 308.9 532.7 307.7 534.8 307.7C536.8 307.7 539.4 308.9 540.3 310.5C541.2 312.1 541.2 315.7 540.3 317.3C539.4 318.9 536.6 320.1 534.8 320.1C533 320.1 530.5 318.9 529.3 317.3C528.2 315.7 527 312.1 527.9 310.5Z" fill="#fff" fill-opacity="0.85"/>
<path d="M530.0 311.6C530.7 310.5 533.3 309.7 534.8 309.7C536.3 309.7 538.3 310.5 538.9 311.6C539.5 312.7 539.2 315.1 538.4 316.2C537.6 317.3 535.4 318.2 534.1 318.2C532.8 318.2 531.1 317.3 530.4 316.2C529.7 315.1 529.3 312.7 530 311.6Z" fill="#CC2068"/>
<path transform="scale(.5)" d="M1064 626h0M1059 624h0M1060 620h0M1068 621h0M1062 623h0M1061 622h0M1069 624h0M1070 621h0M1068 623h0M1072 623h0M1069 617h0M1076 631h0M1074 627h0M1076 628h0M1078 627h0M1078 628h0M1067 637h0M1071 631h0M1074 633h0M1073 633h0M1077 634h0M1065 634h0M1070 637h0M1065 631h0M1062 633h0M1060 627h0M1061 624h0M1063 630h0M1061 627h0M1061 628h0" stroke="#CC2068" stroke-width="2.60" stroke-linecap="round"/>
<path d="M544.5 301.1C544.9 299.8 547.6 298.4 548.7 298.7C549.8 299 550.1 302 551.1 302.9C552.1 303.8 553.7 303.1 554.7 304.1C555.7 305.1 556.9 307.7 557.1 309C557.3 310.3 557.5 311.5 555.9 312C554.3 312.5 549.1 312.9 547.5 312C545.9 311.1 546.8 308.4 546.3 306.6C545.8 304.7 544.1 302.4 544.5 301.1Z" fill="#CC2068"/>
<path transform="scale(.5)" d="M1096 599h0M1094 600h0M1091 598h0M1096 598h0M1100 599h0M1101 605h0M1094 599h0M1101 603h0M1102 604h0M1100 602h0M1103 607h0M1101 604h0M1102 607h0M1101 607h0M1112 619h0M1108 612h0M1112 614h0M1111 617h0M1112 614h0M1114 618h0M1114 621h0M1110 622h0M1115 619h0M1111 624h0M1104 626h0M1092 624h0M1111 626h0M1100 625h0M1110 627h0M1097 623h0M1096 623h0M1109 622h0M1098 622h0M1097 620h0M1094 621h0M1092 617h0M1092 619h0M1095 619h0M1091 613h0M1091 609h0M1091 604h0M1088 606h0M1093 609h0M1087 605h0M1091 606h0" stroke="#CC2068" stroke-width="2.60" stroke-linecap="round"/>
<path d="M547.1 305.0C548.5 304.1 556.1 304.1 558.1 305C560 305.9 559.3 309.2 558.8 310.5C558.2 311.7 556.1 312.5 554.7 312.5C553.2 312.5 551.1 311.7 549.9 310.5C548.6 309.2 545.8 305.9 547.1 305Z" fill="#CC2068"/>
<path transform="scale(.5)" d="M1110 609h0M1096 607h0M1111 611h0M1100 606h0M1095 611h0M1098 609h0M1114 608h0M1109 611h0M1095 609h0M1108 608h0M1101 608h0M1104 613h0M1112 609h0M1113 612h0M1119 612h0M1114 610h0M1116 620h0M1117 619h0M1115 614h0M1113 624h0M1110 624h0M1111 623h0M1115 624h0M1116 621h0M1108 624h0M1104 624h0M1106 624h0M1102 619h0M1110 626h0M1101 624h0M1099 616h0M1098 620h0M1096 610h0M1101 618h0M1093 608h0M1095 608h0M1094 612h0" stroke="#CC2068" stroke-width="2.60" stroke-linecap="round"/>
<path d="M519.7 324.2C520.5 322.6 522.5 319.4 523.8 318.7C525.2 318 526.7 318.9 527.9 320.1C529.2 321.2 530.5 324.2 531.4 325.5C532.3 326.9 533.5 326.7 533.4 328.3C533.3 329.9 532.3 333.5 530.7 335.1C529.1 336.7 525.7 337.5 523.8 337.9C522 338.2 520.8 338.1 519.7 337.2C518.7 336.3 517.8 333.9 517.7 332.4C517.6 330.9 518.7 329.7 519 328.3C519.4 326.9 518.9 325.8 519.7 324.2Z" fill="#D02020"/>
<path transform="scale(.5)" d="M1039 650h0M1047 638h0M1047 637h0M1037 647h0M1046 643h0M1042 645h0M1040 643h0M1040 649h0M1053 638h0M1047 639h0M1056 637h0M1048 636h0M1054 638h0M1058 641h0M1061 642h0M1065 651h0M1060 647h0M1062 643h0M1061 651h0M1055 642h0M1063 657h0M1067 654h0M1065 652h0M1065 651h0M1064 662h0M1064 660h0M1070 658h0M1063 664h0M1067 667h0M1064 661h0M1064 658h0M1063 666h0M1049 675h0M1056 672h0M1053 672h0M1064 675h0M1053 676h0M1063 670h0M1052 675h0M1059 669h0M1046 677h0M1045 676h0M1046 675h0M1045 679h0M1037 675h0M1040 670h0M1037 672h0M1034 668h0M1036 667h0M1037 666h0M1035 663h0M1034 665h0M1036 665h0M1034 660h0M1037 659h0M1037 652h0M1040 657h0M1039 652h0M1040 655h0" stroke="#D02020" stroke-width="2.60" stroke-linecap="round"/>
<path d="M535.5 327.6C535.9 326.5 538.8 326.6 540.3 325.5C541.8 324.5 543.2 321 544.4 321.4C545.5 321.9 546.9 326.2 547.1 328.3C547.4 330.3 546.7 332.6 545.8 333.8C544.8 334.9 543 335.4 541.6 335.1C540.3 334.9 538.6 333.7 537.5 332.4C536.5 331.1 535 328.7 535.5 327.6Z" fill="#E85010"/>
<path transform="scale(.5)" d="M1075 651h0M1073 658h0M1075 652h0M1073 654h0M1076 654h0M1072 653h0M1084 647h0M1084 649h0M1087 642h0M1088 644h0M1083 649h0M1084 642h0M1093 655h0M1085 645h0M1092 650h0M1094 645h0M1092 648h0M1090 647h0M1091 656h0M1087 644h0M1093 658h0M1093 667h0M1091 663h0M1096 659h0M1093 661h0M1092 661h0M1093 665h0M1090 672h0M1087 670h0M1087 669h0M1089 669h0M1081 670h0M1081 669h0M1078 665h0M1079 662h0M1076 666h0M1074 658h0M1070 657h0M1072 657h0M1071 658h0M1074 657h0M1075 662h0" stroke="#E85010" stroke-width="2.60" stroke-linecap="round"/>
<path transform="scale(.5)" d="M1059 681h0M1053 686h0M1059 688h0M1060 688h0M1055 687h0M1058 688h0M1063 685h0M1060 683h0M1057 681h0M1058 689h0M1057 686h0M1062 689h0M1061 681h0M1056 683h0M1055 686h0M1060 682h0M1055 683h0M1058 682h0M1052 685h0M1060 688h0M1059 678h0M1061 680h0" stroke="#E070E8" stroke-width="3.20" stroke-linecap="round"/>
<path transform="scale(.5)" d="M1008 696h0M998 680h0M999 683h0M1003 693h0M996 682h0M1010 697h0M1010 697h0M996 682h0M1006 694h0M1011 700h0M1002 693h0M1005 694h0M1004 696h0M1010 696h0M995 679h0M1003 694h0M1010 698h0M993 679h0M1004 690h0M1010 698h0M999 678h0M1010 698h0M1011 698h0M1003 691h0M1005 699h0M1002 694h0M999 683h0M995 688h0M1001 689h0M1008 692h0M1003 700h0M999 685h0M994 679h0M1000 686h0M1005 694h0" stroke="#E878E8" stroke-width="3.20" stroke-linecap="round"/>
<path transform="scale(.5)" d="M1034 700h0M1029 699h0M1040 693h0M1029 694h0M1033 699h0M1029 691h0M1040 699h0M1026 694h0M1020 688h0M1037 690h0M1037 700h0M1024 688h0M1030 699h0M1026 689h0M1030 700h0M1025 689h0M1036 692h0M1036 689h0M1025 687h0M1020 693h0M1032 694h0M1030 690h0M1029 689h0M1032 691h0M1037 693h0M1039 692h0M1040 696h0M1038 695h0M1040 696h0M1028 696h0M1034 692h0" stroke="#E878E8" stroke-width="3.20" stroke-linecap="round"/>
<path d="M589.7 268.7V354.9H670.0" fill="none" stroke="#707070" stroke-width="0.75"/>
<text class="k m" x="606.0" y="359.2">-50</text>
<text class="k m" x="628.0" y="359.2">0</text>
<text class="k m" x="650.5" y="359.2">50</text>
<text class="k e" x="588.1" y="289.5">25</text>
<text class="k e" x="588.1" y="313.5">0</text>
<text class="k e" x="588.1" y="336.5">-25</text>
<path d="M606.0 354.9v1.2M628.0 354.9v1.2M650.5 354.9v1.2M589.7 288.4h-1.2M589.7 312.4h-1.2M589.7 335.4h-1.2" stroke="#6a6a6a" stroke-width="0.5"/>
<text class="k m" x="629.9" y="362.5">tSNE_1</text>
<text class="k m" transform="translate(582.5 311.8) rotate(-90)">tSNE_2</text>
<circle cx="675.9" cy="283.4" r="1.15" fill="#86F4CA"/>
<text class="k" x="679.5" y="284.5">0</text>
<circle cx="675.9" cy="287.1" r="1.15" fill="#3E94E6"/>
<text class="k" x="679.5" y="288.2">1</text>
<circle cx="675.9" cy="290.7" r="1.15" fill="#50C2E2"/>
<text class="k" x="679.5" y="291.8">2</text>
<circle cx="675.9" cy="294.3" r="1.15" fill="#3A9CB8"/>
<text class="k" x="679.5" y="295.4">3</text>
<circle cx="675.9" cy="297.9" r="1.15" fill="#2414DC"/>
<text class="k" x="679.5" y="299.0">4</text>
<circle cx="675.9" cy="301.5" r="1.15" fill="#5012DC"/>
<text class="k" x="679.5" y="302.6">5</text>
<circle cx="675.9" cy="305.2" r="1.15" fill="#7A1EE0"/>
<text class="k" x="679.5" y="306.3">6</text>
<circle cx="675.9" cy="308.8" r="1.15" fill="#BC22A6"/>
<text class="k" x="679.5" y="309.9">7</text>
<circle cx="675.9" cy="312.4" r="1.15" fill="#CC2068"/>
<text class="k" x="679.5" y="313.5">8</text>
<circle cx="675.9" cy="316.0" r="1.15" fill="#D42222"/>
<text class="k" x="679.5" y="317.1">9</text>
<circle cx="675.9" cy="319.6" r="1.15" fill="#D42222"/>
<text class="k" x="679.5" y="320.7">10</text>
<circle cx="675.9" cy="323.3" r="1.15" fill="#E8461C"/>
<text class="k" x="679.5" y="324.4">11</text>
<circle cx="675.9" cy="326.9" r="1.15" fill="#E8AC44"/>
<text class="k" x="679.5" y="328.0">12</text>
<circle cx="675.9" cy="330.5" r="1.15" fill="#AE8CF6"/>
<text class="k" x="679.5" y="331.6">13</text>
<circle cx="675.9" cy="334.1" r="1.15" fill="#C474F0"/>
<text class="k" x="679.5" y="335.2">14</text>
<circle cx="675.9" cy="337.7" r="1.15" fill="#E46AE8"/>
<text class="k" x="679.5" y="338.8">15</text>
<circle cx="675.9" cy="341.4" r="1.15" fill="#E46AE8"/>
<text class="k" x="679.5" y="342.5">16</text>
<path d="M622.5 274.0C623.2 273.1 624.5 272.7 626.1 272.2C627.8 271.7 630.9 270.5 632.2 271C633.5 271.5 634 273.7 634 275.2C634 276.7 632.8 278.6 632.2 280C631.6 281.5 631.4 282.9 630.4 283.7C629.4 284.5 627.3 285.1 626.1 284.9C624.9 284.7 623.8 283.7 623.1 282.5C622.4 281.3 622 279 621.9 277.6C621.8 276.2 621.8 274.9 622.5 274Z" fill="#D01E2E"/>
<path transform="scale(.5)" d="M1245 546h0M1248 547h0M1251 548h0M1249 545h0M1260 541h0M1260 542h0M1264 539h0M1254 547h0M1254 542h0M1263 544h0M1255 541h0M1267 546h0M1268 552h0M1266 545h0M1261 545h0M1267 550h0M1268 552h0M1267 556h0M1264 557h0M1265 557h0M1266 554h0M1263 554h0M1261 564h0M1261 565h0M1264 563h0M1262 565h0M1261 568h0M1257 568h0M1259 568h0M1255 571h0M1262 567h0M1244 562h0M1249 569h0M1251 565h0M1247 568h0M1245 563h0M1244 556h0M1244 563h0M1243 555h0M1244 557h0M1247 547h0M1243 551h0M1245 559h0M1245 553h0" stroke="#D01E2E" stroke-width="2.60" stroke-linecap="round"/>
<path d="M633.4 281.3C634.3 280.6 636.7 280 638.2 280C639.7 280 641.6 280.2 642.4 281.3C643.2 282.3 643.3 284.6 643 286.1C642.7 287.6 641.7 289.5 640.6 290.3C639.5 291.1 637.6 291.2 636.4 290.9C635.2 290.6 634 289.6 633.4 288.5C632.8 287.4 632.8 285.5 632.8 284.3C632.8 283.1 632.5 282 633.4 281.3Z" fill="#D42222"/>
<path transform="scale(.5)" d="M1276 560h0M1277 563h0M1269 564h0M1267 563h0M1270 563h0M1285 564h0M1278 563h0M1280 565h0M1283 561h0M1281 562h0M1286 574h0M1283 564h0M1283 559h0M1286 564h0M1282 565h0M1284 573h0M1286 577h0M1283 577h0M1283 570h0M1287 576h0M1283 580h0M1276 583h0M1277 582h0M1281 578h0M1277 579h0M1268 576h0M1272 578h0M1271 583h0M1273 584h0M1265 568h0M1266 575h0M1271 573h0M1267 568h0M1265 569h0M1266 562h0M1272 566h0M1266 566h0" stroke="#D42222" stroke-width="2.60" stroke-linecap="round"/>
<path d="M603.3 284.3C603.9 283.6 605.9 282.8 606.9 283.1C607.9 283.4 609.1 285 609.3 286.1C609.5 287.2 608.9 289.1 608.1 289.7C607.3 290.3 605.3 290.1 604.5 289.7C603.6 289.3 603.2 288.2 603 287.3C602.8 286.4 602.6 285 603.3 284.3Z" fill="#C474F0"/>
<path transform="scale(.5)" d="M1210 568h0M1214 567h0M1211 569h0M1211 567h0M1216 570h0M1214 563h0M1214 571h0M1216 572h0M1218 576h0M1214 578h0M1216 581h0M1217 580h0M1215 580h0M1216 579h0M1213 578h0M1209 582h0M1207 579h0M1206 575h0M1206 575h0M1206 574h0M1208 579h0M1201 574h0" stroke="#C474F0" stroke-width="2.60" stroke-linecap="round"/>
<path d="M611.7 286.1C612.5 285 614.6 283.8 615.9 283.7C617.2 283.6 618.7 284.4 619.5 285.5C620.3 286.6 620.9 289.1 620.7 290.3C620.5 291.5 619.5 292.3 618.3 292.7C617.1 293.1 614.7 293.1 613.5 292.7C612.3 292.3 611.4 291.4 611.1 290.3C610.8 289.2 610.9 287.2 611.7 286.1Z" fill="#E46AE8"/>
<path transform="scale(.5)" d="M1225 571h0M1230 571h0M1230 571h0M1228 570h0M1233 569h0M1231 566h0M1237 571h0M1232 567h0M1236 572h0M1243 578h0M1242 578h0M1239 573h0M1243 578h0M1243 572h0M1239 581h0M1240 581h0M1239 583h0M1237 584h0M1231 585h0M1231 583h0M1232 584h0M1231 583h0M1231 589h0M1220 581h0M1222 582h0M1224 585h0M1225 583h0M1223 583h0M1221 583h0M1217 579h0M1222 578h0M1220 576h0" stroke="#E46AE8" stroke-width="2.60" stroke-linecap="round"/>
<path d="M643.0 290.3C643.7 289.6 645.6 288.6 646.6 289.1C647.6 289.6 648.7 291.8 649 293.3C649.3 294.8 649 296.9 648.4 298.1C647.8 299.3 646.3 300.7 645.4 300.5C644.5 300.3 643.5 298.1 643 296.9C642.5 295.7 642.4 294.4 642.4 293.3C642.4 292.2 642.3 291 643 290.3Z" fill="#E46AE8"/>
<path transform="scale(.5)" d="M1287 580h0M1290 580h0M1292 581h0M1291 580h0M1298 587h0M1296 579h0M1293 584h0M1296 588h0M1296 587h0M1299 592h0M1295 591h0M1299 588h0M1300 587h0M1296 593h0M1296 599h0M1294 596h0M1294 601h0M1293 600h0M1290 595h0M1286 592h0M1289 596h0M1288 594h0M1289 595h0M1285 594h0M1284 588h0M1288 588h0M1288 593h0M1286 584h0M1285 587h0M1283 584h0" stroke="#E46AE8" stroke-width="2.60" stroke-linecap="round"/>
<path d="M604.5 296.9C605.1 296.2 607 295 608.1 295.1C609.2 295.2 610.5 296.5 611.1 297.5C611.7 298.5 612.1 300.1 611.7 301.1C611.3 302.1 609.8 303.3 608.7 303.5C607.6 303.7 605.8 303 605.1 302.3C604.3 301.6 604.3 300.2 604.2 299.3C604.1 298.4 603.8 297.6 604.5 296.9Z" fill="#E0509A"/>
<path transform="scale(.5)" d="M1209 595h0M1215 591h0M1211 592h0M1213 592h0M1217 589h0M1222 591h0M1218 590h0M1216 592h0M1222 600h0M1225 597h0M1223 594h0M1222 599h0M1218 607h0M1218 606h0M1221 604h0M1221 608h0M1210 604h0M1212 604h0M1216 606h0M1211 602h0M1210 599h0M1210 603h0M1207 600h0M1208 602h0M1206 599h0" stroke="#E0509A" stroke-width="2.60" stroke-linecap="round"/>
<path d="M613.5 293.9C614.3 292.4 615.8 291.4 617.7 290.3C619.6 289.2 622.9 287.6 624.9 287.3C626.9 287 628.7 287.5 629.8 288.5C630.9 289.5 631.4 291.3 631.6 293.3C631.8 295.3 631.3 298.3 631 300.5C630.7 302.7 630.8 304.7 629.8 306.6C628.8 308.4 627.1 310.5 624.9 311.4C622.7 312.3 618.6 312.8 616.5 312C614.4 311.2 612.9 308.7 612.3 306.6C611.7 304.4 612.7 301.4 612.9 299.3C613.1 297.2 612.7 295.4 613.5 293.9Z" fill="#86F4CA"/>
<path transform="scale(.5)" d="M1232 582h0M1235 580h0M1235 582h0M1235 584h0M1229 587h0M1229 589h0M1245 573h0M1241 580h0M1246 576h0M1246 574h0M1244 575h0M1239 578h0M1240 579h0M1249 573h0M1238 577h0M1255 576h0M1256 577h0M1256 576h0M1259 577h0M1248 575h0M1260 581h0M1261 586h0M1260 581h0M1260 579h0M1261 576h0M1259 578h0M1261 601h0M1264 591h0M1265 588h0M1260 589h0M1263 593h0M1261 589h0M1259 596h0M1263 598h0M1263 609h0M1261 604h0M1261 613h0M1260 605h0M1263 613h0M1260 610h0M1257 611h0M1258 617h0M1252 620h0M1262 617h0M1258 615h0M1259 618h0M1254 622h0M1255 622h0M1258 611h0M1250 624h0M1239 623h0M1244 621h0M1242 626h0M1232 626h0M1247 624h0M1237 626h0M1242 627h0M1239 621h0M1244 622h0M1226 622h0M1233 624h0M1224 617h0M1225 615h0M1232 621h0M1229 618h0M1231 619h0M1228 617h0M1226 604h0M1227 599h0M1223 601h0M1224 612h0M1226 598h0M1220 602h0M1224 610h0M1225 602h0M1227 596h0M1226 590h0M1227 595h0M1226 590h0M1225 590h0M1224 589h0" stroke="#86F4CA" stroke-width="2.60" stroke-linecap="round"/>
<path d="M632.2 299.3C632.8 298.2 634.5 297.6 635.8 297.5C637.1 297.4 639 297.8 640 298.7C641 299.6 641.9 301.6 641.8 302.9C641.7 304.2 640.5 305.9 639.4 306.6C638.3 307.3 636.4 307.6 635.2 307.2C634 306.8 632.7 305.4 632.2 304.1C631.7 302.8 631.6 300.4 632.2 299.3Z" fill="#AE8CF6"/>
<path transform="scale(.5)" d="M1267 596h0M1265 601h0M1269 598h0M1274 596h0M1279 597h0M1278 599h0M1274 598h0M1272 597h0M1272 595h0M1282 603h0M1279 599h0M1281 605h0M1282 604h0M1281 604h0M1283 605h0M1279 611h0M1280 607h0M1279 614h0M1283 609h0M1279 612h0M1276 617h0M1272 614h0M1272 617h0M1271 613h0M1269 611h0M1269 611h0M1269 612h0M1268 614h0M1263 611h0M1263 603h0M1266 600h0M1268 607h0M1265 601h0M1263 601h0" stroke="#AE8CF6" stroke-width="2.60" stroke-linecap="round"/>
<path d="M592.7 307.7C593.4 305.9 595.7 304.8 596.8 305C598 305.2 598.9 307.1 599.6 309.1C600.3 311.2 601 314.8 601 317.3C601 319.8 600.3 322.7 599.6 324.2C598.9 325.7 597.9 326.5 596.8 326.2C595.8 326 594.1 324.5 593.4 322.8C592.7 321.1 592.9 318.5 592.7 316C592.6 313.4 592.1 309.6 592.7 307.7Z" fill="#B82090"/>
<path transform="scale(.5)" d="M1190 612h0M1188 614h0M1194 610h0M1185 614h0M1190 611h0M1194 613h0M1193 611h0M1194 614h0M1202 619h0M1196 610h0M1203 630h0M1200 631h0M1198 630h0M1201 623h0M1200 629h0M1198 623h0M1197 623h0M1201 634h0M1198 626h0M1200 638h0M1203 641h0M1200 646h0M1199 644h0M1205 635h0M1203 645h0M1200 650h0M1203 639h0M1195 652h0M1198 651h0M1196 650h0M1197 649h0M1187 648h0M1193 651h0M1191 645h0M1192 650h0M1189 650h0M1185 637h0M1182 633h0M1185 643h0M1187 642h0M1184 631h0M1185 642h0M1183 637h0M1187 640h0M1185 625h0M1188 626h0M1184 620h0M1182 615h0M1185 634h0M1187 621h0M1186 625h0M1188 619h0M1184 629h0" stroke="#B82090" stroke-width="2.60" stroke-linecap="round"/>
<path d="M603.7 311.2C604.5 309.8 606.4 309.9 607.8 310.5C609.2 311.1 611.5 313 611.9 314.6C612.4 316.2 611 318 610.5 320.1C610.1 322.1 609.4 324.9 609.2 326.9C608.9 329 609.4 330.9 609.2 332.4C608.9 333.9 608.3 336.1 607.8 335.8C607.4 335.6 606.9 333 606.4 331C606 329.1 605.6 326.2 605.1 324.2C604.5 322.1 603.2 320.9 603 318.7C602.8 316.5 602.9 312.5 603.7 311.2Z" fill="#E8461C"/>
<path transform="scale(.5)" d="M1214 622h0M1207 620h0M1211 624h0M1210 619h0M1222 628h0M1219 627h0M1223 626h0M1219 623h0M1219 627h0M1223 626h0M1221 638h0M1224 633h0M1219 640h0M1225 632h0M1220 637h0M1223 633h0M1221 643h0M1217 649h0M1219 652h0M1224 652h0M1222 641h0M1219 651h0M1218 653h0M1219 652h0M1218 663h0M1221 661h0M1217 660h0M1221 660h0M1219 662h0M1216 654h0M1217 672h0M1216 667h0M1217 672h0M1217 671h0M1213 666h0M1215 664h0M1215 668h0M1213 668h0M1212 664h0M1212 661h0M1211 659h0M1212 653h0M1210 659h0M1212 660h0M1211 651h0M1214 656h0M1215 659h0M1211 640h0M1209 645h0M1208 640h0M1206 639h0M1208 647h0M1206 637h0M1209 646h0M1207 630h0M1208 635h0M1208 638h0M1208 633h0M1208 631h0M1206 633h0M1206 625h0M1207 631h0M1210 626h0" stroke="#E8461C" stroke-width="2.60" stroke-linecap="round"/>
<path d="M611.9 305.0C613.7 303.6 620.4 304.3 622.9 305C625.4 305.7 626.3 307.1 627 309.1C627.7 311.2 627.6 315 627 317.3C626.4 319.6 624.8 321.8 623.6 322.8C622.3 323.8 620.9 323.9 619.5 323.5C618 323 615.9 321.8 614.7 320.1C613.4 318.4 612.4 315.7 611.9 313.2C611.5 310.7 610.1 306.4 611.9 305Z" fill="#3A9CB8"/>
<path transform="scale(.5)" d="M1238 612h0M1231 613h0M1236 608h0M1232 611h0M1230 609h0M1232 611h0M1231 611h0M1225 610h0M1227 609h0M1243 612h0M1233 613h0M1224 607h0M1228 611h0M1250 614h0M1254 618h0M1247 612h0M1254 616h0M1255 617h0M1245 612h0M1253 618h0M1254 632h0M1256 633h0M1253 624h0M1250 625h0M1257 623h0M1255 621h0M1254 620h0M1254 636h0M1251 642h0M1252 632h0M1250 640h0M1250 643h0M1249 640h0M1256 642h0M1252 641h0M1241 646h0M1245 646h0M1239 651h0M1243 642h0M1233 638h0M1234 643h0M1235 640h0M1234 645h0M1233 640h0M1239 647h0M1239 645h0M1225 632h0M1229 639h0M1228 629h0M1229 637h0M1224 636h0M1222 629h0M1228 628h0M1227 633h0M1224 617h0M1223 624h0M1224 617h0M1223 613h0M1225 613h0M1222 624h0M1221 619h0M1224 626h0M1224 607h0" stroke="#3A9CB8" stroke-width="2.60" stroke-linecap="round"/>
<path d="M622.9 305.0C623.8 304.3 629.6 304.1 631.1 305C632.6 305.9 632.4 309.1 631.8 310.5C631.2 311.8 628.7 313.4 627.7 313.2C626.6 313 626.4 310.5 625.6 309.1C624.8 307.7 622 305.7 622.9 305Z" fill="#86F4CA"/>
<path transform="scale(.5)" d="M1259 610h0M1262 607h0M1254 608h0M1261 610h0M1259 610h0M1258 610h0M1256 611h0M1256 611h0M1258 611h0M1264 621h0M1262 609h0M1261 613h0M1264 618h0M1263 610h0M1265 624h0M1261 622h0M1256 628h0M1258 627h0M1258 626h0M1259 628h0M1252 624h0M1255 625h0M1252 628h0M1258 628h0M1253 621h0M1249 621h0M1247 615h0M1246 613h0M1251 612h0M1249 617h0" stroke="#86F4CA" stroke-width="2.60" stroke-linecap="round"/>
<path d="M610.5 324.2C611.6 322.6 614 321.4 616 321.4C618.1 321.4 621.2 322.8 622.9 324.2C624.6 325.5 625.8 327.6 626.3 329.7C626.8 331.7 626.3 334.7 625.6 336.5C624.9 338.3 623.8 340.2 622.2 340.6C620.6 341.1 617.7 339.9 616 339.2C614.3 338.6 612.9 337.9 611.9 336.5C610.9 335.1 610.1 333.1 609.9 331C609.6 329 609.5 325.8 610.5 324.2Z" fill="#50C6DA"/>
<path transform="scale(.5)" d="M1226 645h0M1227 643h0M1222 649h0M1225 651h0M1230 644h0M1227 647h0M1226 644h0M1236 644h0M1235 643h0M1249 648h0M1244 646h0M1235 646h0M1242 649h0M1239 644h0M1242 646h0M1248 653h0M1248 650h0M1250 653h0M1250 653h0M1246 653h0M1244 650h0M1246 651h0M1254 666h0M1255 658h0M1253 665h0M1252 663h0M1255 669h0M1255 664h0M1250 660h0M1254 664h0M1252 677h0M1247 676h0M1248 678h0M1255 676h0M1250 680h0M1244 678h0M1238 682h0M1235 679h0M1230 678h0M1235 681h0M1239 678h0M1239 682h0M1242 683h0M1228 676h0M1223 674h0M1232 676h0M1232 676h0M1231 680h0M1224 664h0M1224 667h0M1217 662h0M1218 665h0M1224 674h0M1221 669h0M1221 667h0M1221 652h0M1219 660h0M1221 654h0M1221 649h0M1220 654h0M1218 651h0M1219 652h0M1222 661h0" stroke="#50C6DA" stroke-width="2.60" stroke-linecap="round"/>
<path d="M624.2 328.3C625.3 326.2 627.9 326 629.7 325.5C631.6 325.1 633.6 324.6 635.2 325.5C636.8 326.5 638.2 329.2 639.3 331C640.5 332.9 641.8 334.5 642.1 336.5C642.3 338.6 641.8 341.5 640.7 343.4C639.5 345.2 637 346.3 635.2 347.5C633.4 348.6 631.2 350.7 629.7 350.2C628.2 349.7 627.3 346.8 626.3 344.7C625.3 342.7 623.9 340.6 623.6 337.9C623.2 335.1 623.2 330.3 624.2 328.3Z" fill="#3E94E6"/>
<path transform="scale(.5)" d="M1257 652h0M1260 653h0M1258 652h0M1252 654h0M1258 652h0M1257 650h0M1250 658h0M1262 653h0M1264 649h0M1268 651h0M1265 652h0M1272 654h0M1260 650h0M1278 658h0M1276 653h0M1272 654h0M1276 665h0M1269 649h0M1273 659h0M1278 660h0M1275 657h0M1282 667h0M1278 665h0M1279 663h0M1282 664h0M1280 661h0M1281 660h0M1282 670h0M1285 672h0M1282 680h0M1283 682h0M1285 673h0M1282 685h0M1279 682h0M1277 679h0M1281 681h0M1277 686h0M1270 691h0M1277 688h0M1281 687h0M1273 692h0M1279 688h0M1278 693h0M1281 685h0M1262 698h0M1265 701h0M1257 703h0M1260 699h0M1269 694h0M1261 700h0M1270 696h0M1258 703h0M1255 693h0M1259 694h0M1255 690h0M1261 698h0M1258 700h0M1261 700h0M1251 687h0M1249 676h0M1249 683h0M1246 680h0M1250 682h0M1249 682h0M1250 687h0M1249 675h0M1247 669h0M1248 662h0M1247 665h0M1249 662h0M1247 670h0M1247 669h0M1249 669h0M1245 663h0M1247 657h0M1249 663h0M1247 671h0" stroke="#3E94E6" stroke-width="2.60" stroke-linecap="round"/>
<path d="M631.1 309.8C631.8 308.2 633.9 308.1 635.2 308.4C636.5 308.8 638.2 310.4 638.6 311.8C639.1 313.3 638.3 315.5 637.9 317.3C637.6 319.2 637.4 321.9 636.6 322.8C635.8 323.7 634.1 323.6 633.2 322.8C632.2 322 631.4 320.2 631.1 318C630.8 315.8 630.4 311.4 631.1 309.8Z" fill="#E88030"/>
<path transform="scale(.5)" d="M1265 617h0M1266 620h0M1269 617h0M1263 618h0M1266 619h0M1272 617h0M1274 620h0M1275 617h0M1274 622h0M1276 622h0M1275 632h0M1277 633h0M1275 628h0M1278 634h0M1273 633h0M1276 631h0M1279 635h0M1275 642h0M1275 635h0M1272 644h0M1277 638h0M1275 637h0M1268 644h0M1274 646h0M1274 644h0M1271 649h0M1264 641h0M1263 643h0M1263 633h0M1265 642h0M1263 637h0M1261 641h0M1262 632h0M1262 621h0M1261 620h0M1262 625h0M1261 631h0M1263 635h0M1261 628h0M1262 621h0M1261 625h0" stroke="#E88030" stroke-width="2.60" stroke-linecap="round"/>
<path transform="scale(.5)" d="M1258 633h0M1254 633h0M1255 639h0M1256 640h0M1257 632h0M1259 637h0M1260 639h0M1256 631h0M1255 638h0M1257 637h0M1259 639h0M1257 642h0M1259 638h0M1257 633h0" stroke="#C474F0" stroke-width="3.20" stroke-linecap="round"/>
<path d="M637.3 316.6C638.1 314.9 640.6 314 642.1 313.9C643.5 313.8 645 314.5 646.2 316C647.3 317.4 648.7 320.5 648.9 322.8C649.1 325.1 648.4 328.1 647.5 329.7C646.6 331.3 644.9 332.3 643.4 332.4C641.9 332.5 639.7 331.7 638.6 330.3C637.6 329 637.5 326.5 637.3 324.2C637 321.9 636.5 318.4 637.3 316.6Z" fill="#2414DC"/>
<path transform="scale(.5)" d="M1283 630h0M1277 633h0M1275 634h0M1279 633h0M1283 629h0M1281 632h0M1285 631h0M1282 628h0M1288 630h0M1288 631h0M1285 633h0M1294 635h0M1294 638h0M1296 646h0M1295 633h0M1295 636h0M1294 632h0M1296 636h0M1300 646h0M1295 653h0M1297 655h0M1298 648h0M1297 653h0M1297 650h0M1298 650h0M1301 641h0M1299 654h0M1291 660h0M1291 660h0M1289 667h0M1293 662h0M1294 659h0M1278 662h0M1276 662h0M1283 662h0M1287 660h0M1283 661h0M1286 666h0M1275 647h0M1275 651h0M1276 649h0M1279 657h0M1274 658h0M1277 652h0M1278 658h0M1275 649h0M1276 645h0M1276 635h0M1278 648h0M1277 636h0M1273 641h0M1274 641h0M1273 639h0M1275 642h0" stroke="#2414DC" stroke-width="2.60" stroke-linecap="round"/>
<path transform="scale(.5)" d="M1302 641h0M1310 631h0M1296 624h0M1301 628h0M1306 630h0M1312 622h0M1303 641h0M1300 641h0M1293 660h0M1306 626h0M1303 624h0M1300 639h0M1299 642h0M1308 636h0M1304 624h0M1304 639h0M1301 630h0M1286 683h0M1294 622h0M1289 671h0M1316 627h0M1282 681h0M1298 631h0M1288 672h0M1298 630h0M1305 642h0M1301 640h0M1307 627h0M1285 676h0M1306 621h0M1310 620h0M1296 651h0M1306 637h0M1314 622h0M1310 632h0M1290 668h0M1302 630h0M1285 682h0M1312 629h0M1287 677h0M1289 672h0M1294 665h0M1292 676h0M1314 630h0M1311 630h0M1305 642h0M1302 646h0M1305 622h0M1299 621h0M1310 635h0M1291 674h0M1305 635h0M1296 626h0M1299 642h0M1292 663h0M1302 634h0M1291 676h0M1289 677h0M1298 627h0M1304 643h0M1301 632h0M1298 651h0M1305 626h0M1287 678h0M1299 645h0M1315 625h0M1305 640h0M1296 649h0M1294 664h0M1284 684h0M1305 642h0M1307 636h0M1293 661h0M1314 630h0M1303 634h0M1308 630h0M1295 626h0M1304 624h0M1298 629h0M1288 671h0M1315 622h0M1297 630h0M1294 624h0M1303 645h0M1301 626h0M1303 637h0M1288 671h0M1304 637h0M1299 644h0M1295 660h0M1293 665h0M1308 623h0M1292 666h0M1306 640h0M1288 682h0M1291 664h0M1313 628h0M1310 621h0M1299 646h0M1292 669h0M1289 672h0M1293 666h0M1292 676h0M1285 675h0M1298 652h0M1305 628h0M1307 627h0M1296 657h0M1302 640h0M1296 652h0M1303 627h0M1285 678h0M1292 670h0M1286 680h0" stroke="#D0203A" stroke-width="3.20" stroke-linecap="round"/>
<path d="M657.1 307.7C657.8 306.1 659.6 305.5 661.2 305C662.8 304.5 665.5 304.3 666.7 305C668 305.7 668.8 307.5 668.8 309.1C668.8 310.7 668 313.3 666.7 314.6C665.5 315.8 662.8 316.6 661.2 316.6C659.6 316.6 657.8 316.1 657.1 314.6C656.4 313.1 656.4 309.3 657.1 307.7Z" fill="#7A1EE0"/>
<path transform="scale(.5)" d="M1320 613h0M1319 608h0M1317 613h0M1316 615h0M1313 612h0M1325 611h0M1329 608h0M1326 611h0M1329 610h0M1327 610h0M1323 611h0M1339 621h0M1335 614h0M1338 611h0M1335 617h0M1334 610h0M1334 631h0M1341 618h0M1338 621h0M1334 629h0M1334 625h0M1336 623h0M1339 619h0M1330 630h0M1325 631h0M1333 627h0M1326 630h0M1331 632h0M1336 628h0M1324 629h0M1316 631h0M1318 629h0M1315 629h0M1321 630h0M1321 633h0M1313 627h0M1316 629h0M1312 618h0M1317 617h0M1314 615h0M1316 625h0M1315 623h0M1314 619h0" stroke="#7A1EE0" stroke-width="2.60" stroke-linecap="round"/>
<path d="M656.9 306.6C657.7 304.8 660.8 302.8 662.3 301.7C663.8 300.6 664.9 299.5 665.9 299.9C666.9 300.3 667.9 302.4 668.3 304.1C668.7 305.9 669.1 308.9 668.3 310.2C667.5 311.5 665.3 311.7 663.5 312C661.7 312.3 658.6 312.9 657.5 312C656.4 311.1 656.1 308.3 656.9 306.6Z" fill="#7A1EE0"/>
<path transform="scale(.5)" d="M1317 611h0M1318 611h0M1326 604h0M1320 607h0M1318 609h0M1322 602h0M1324 606h0M1317 605h0M1328 604h0M1327 605h0M1328 601h0M1330 599h0M1335 607h0M1335 604h0M1334 605h0M1328 598h0M1336 601h0M1334 614h0M1336 610h0M1335 609h0M1337 622h0M1339 616h0M1339 612h0M1337 617h0M1331 623h0M1328 620h0M1337 622h0M1333 621h0M1334 623h0M1335 625h0M1325 626h0M1323 627h0M1317 623h0M1320 620h0M1315 624h0M1323 624h0M1323 623h0M1316 617h0M1315 622h0M1313 618h0M1311 616h0M1314 616h0M1317 623h0" stroke="#7A1EE0" stroke-width="2.60" stroke-linecap="round"/>
<rect x="245.4" y="28.0" width="80.6" height="86.6" fill="url(#sp)"/>
<rect x="590.3" y="28.0" width="81.7" height="86.6" fill="url(#sp)"/>
<rect x="370.3" y="148.0" width="81.7" height="86.5" fill="url(#sp)"/>
<rect x="480.3" y="148.0" width="80.7" height="86.5" fill="url(#sp)"/>
<rect x="590.3" y="148.0" width="77.7" height="86.5" fill="url(#sp)"/>
<rect x="26.0" y="268.0" width="80.0" height="86.3" fill="url(#sp)"/>
<rect x="135.3" y="268.0" width="80.7" height="86.3" fill="url(#sq)"/>
<rect x="245.3" y="268.0" width="80.7" height="86.3" fill="url(#sp)"/>
<rect x="370.8" y="268.0" width="80.2" height="86.3" fill="url(#sp)"/>
<rect x="480.3" y="268.0" width="80.7" height="86.3" fill="url(#sp)"/>
<rect x="590.3" y="268.0" width="80.7" height="86.3" fill="url(#sp)"/>
</svg></body></html>
